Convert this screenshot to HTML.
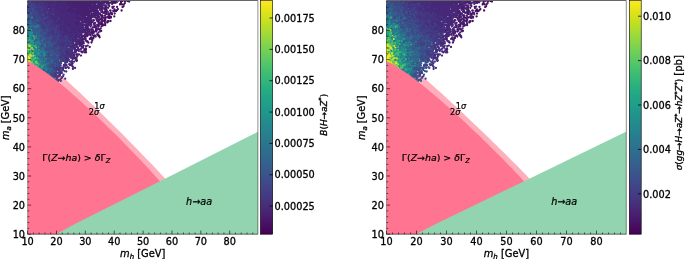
<!DOCTYPE html>
<html><head><meta charset="utf-8"><title>plot</title><style>html,body{margin:0;padding:0;background:#fff}svg{display:block}text{stroke:#000;stroke-width:.3px}.an{stroke-width:.22px}</style></head><body>
<svg width="685" height="259" viewBox="0 0 685 259" font-family="DejaVu Sans, Liberation Sans, sans-serif" font-size="9.72" fill="#000">
<rect width="685" height="259" fill="#fff"/>
<clipPath id="clipa"><rect x="27.60" y="0.50" width="230.30" height="233.70"/></clipPath>
<polygon clip-path="url(#clipa)" fill="#ffaebb" points="27.6,49.9 31.1,52.2 34.7,54.6 38.2,57.1 41.8,59.8 45.3,62.6 48.8,65.4 52.4,68.3 55.9,71.3 59.5,74.4 63.0,77.5 66.5,80.6 70.1,83.8 73.6,87.0 77.2,90.3 80.7,93.6 84.3,96.9 87.8,100.3 91.3,103.7 94.9,107.1 98.4,110.5 102.0,113.9 105.5,117.4 109.0,120.9 112.6,124.4 116.1,127.9 119.7,131.4 123.2,135.0 126.7,138.6 130.3,142.2 133.8,145.8 137.4,149.4 140.9,153.0 144.4,156.7 148.0,160.4 151.5,164.1 155.1,167.8 158.6,171.6 162.1,175.3 165.7,179.2 56.5,234.2 27.6,234.2"/>
<g clip-path="url(#clipa)" fill="none" stroke-width="2.3" stroke-linecap="round"><path d="M29.2 43.8h0M36.1 56.2h0M34.6 51.0h0M34.1 48.3h0M34.4 53.2h0" stroke="#21a585"/><path d="M29.0 53.5h0M33.3 47.9h0" stroke="#65cb5e"/><path d="M31.7 35.3h0M29.9 32.5h0M27.8 24.4h0M38.7 44.8h0M42.8 64.6h0M39.3 64.2h0M41.8 54.0h0M41.5 58.1h0M35.0 64.7h0" stroke="#26828e"/><path d="M43.2 54.9h0M29.3 41.9h0M30.3 37.5h0M34.3 48.4h0M27.7 35.3h0M29.8 20.3h0M29.9 49.5h0M33.1 52.5h0M28.0 29.3h0M33.3 56.5h0" stroke="#20938c"/><path d="M32.7 22.2h0M47.3 32.9h0M42.8 34.7h0M54.2 67.9h0M50.5 33.8h0M49.2 47.0h0M38.7 21.5h0M31.4 22.2h0M38.2 51.7h0M50.9 66.6h0M34.1 25.4h0M51.7 34.8h0M41.7 30.0h0M48.9 73.1h0M44.8 41.5h0M52.4 51.2h0M35.4 37.3h0M51.2 74.7h0M37.0 53.2h0M32.2 15.2h0M60.9 52.2h0M48.4 34.6h0M52.2 75.2h0M47.4 61.1h0M49.4 47.9h0M47.5 50.1h0M49.8 63.7h0M37.0 31.9h0M31.7 23.3h0M49.1 72.6h0M49.7 57.3h0M38.3 40.4h0M29.2 27.8h0M33.9 31.4h0M40.1 33.1h0M50.6 41.9h0" stroke="#365c8d"/><path d="M30.9 52.8h0M30.4 53.0h0M34.1 62.3h0M28.2 59.6h0" stroke="#93d741"/><path d="M94.9 27.2h0M101.3 18.8h0M112.1 2.1h0M101.3 21.3h0M104.4 8.5h0M101.7 21.9h0M86.0 49.5h0M99.1 17.4h0M113.6 2.9h0M108.2 7.8h0M106.2 9.1h0M112.1 0.0h0M86.0 46.1h0M76.6 59.8h0M103.9 12.9h0M113.9 2.0h0M108.4 5.2h0M109.5 14.1h0M106.3 7.3h0M112.7 8.0h0M91.2 32.7h0M84.9 52.4h0M113.5 1.6h0M91.2 39.0h0" stroke="#48186a"/><path d="M39.4 41.7h0M35.0 33.3h0M40.0 39.1h0M45.9 49.8h0M30.2 26.4h0M27.8 19.8h0M38.8 55.1h0M46.8 62.4h0M44.1 47.0h0M30.0 28.8h0M41.8 50.6h0M40.6 34.0h0M34.2 29.6h0M34.5 37.1h0M28.1 19.9h0" stroke="#33638d"/><path d="M89.9 16.3h0M86.1 2.0h0M75.1 16.9h0M71.4 3.8h0M92.7 6.5h0M71.8 62.2h0M72.8 5.8h0M95.3 9.6h0M83.3 24.8h0M102.5 2.1h0M98.3 0.3h0M77.2 7.2h0M76.7 18.1h0M81.6 25.9h0M77.8 1.9h0M78.8 19.1h0M82.2 7.4h0M80.9 30.3h0M99.5 13.4h0M84.1 1.2h0M89.0 16.1h0M74.7 13.3h0M86.5 7.7h0M84.0 2.0h0M88.1 12.7h0M98.2 6.7h0M75.1 3.5h0M75.5 50.0h0M67.6 4.7h0M62.1 77.2h0M81.7 6.5h0M98.7 6.7h0M74.2 16.5h0M101.2 5.0h0M74.7 3.6h0M86.3 14.2h0M107.9 2.0h0M80.9 3.1h0M77.6 6.4h0M85.4 5.1h0M86.5 28.7h0M84.1 9.9h0M88.7 5.9h0M90.5 11.7h0M87.0 12.1h0M77.0 49.8h0M98.9 1.1h0M90.0 5.6h0M80.5 49.3h0M101.1 6.9h0M78.0 54.6h0M108.8 2.4h0M85.2 3.9h0M91.9 20.9h0M75.4 2.0h0M92.3 15.6h0M83.0 13.5h0M75.6 8.7h0M87.2 26.6h0M74.9 15.3h0M82.5 14.4h0M82.1 5.0h0M87.5 1.8h0M69.8 2.0h0M85.6 12.7h0M84.3 15.1h0M90.8 1.1h0M65.8 10.2h0M82.2 38.0h0M86.1 22.0h0M86.9 13.5h0M100.6 6.6h0M73.4 0.8h0M83.2 10.6h0M84.2 22.5h0M71.7 0.3h0M73.3 1.0h0M83.2 36.0h0M87.7 29.3h0M77.6 23.0h0M82.1 29.8h0M86.9 3.3h0M88.1 5.5h0M89.8 21.5h0M89.9 15.9h0M82.1 4.2h0M83.4 14.3h0M97.7 13.5h0M95.1 6.5h0M94.6 2.8h0M80.9 32.4h0M92.7 1.0h0M90.1 8.6h0M90.0 4.2h0M69.4 0.3h0M76.1 3.3h0M92.6 2.9h0M90.1 11.0h0M85.9 13.8h0M78.5 2.2h0M85.2 2.8h0M76.4 8.5h0M97.1 5.6h0M93.6 5.4h0M99.7 9.1h0M77.6 12.4h0M75.2 4.8h0M77.3 5.7h0M79.7 2.2h0M87.9 15.3h0M93.9 10.7h0M80.3 15.6h0M71.5 1.7h0M71.4 1.9h0M77.0 2.8h0M83.8 20.0h0M87.3 18.4h0M86.8 2.7h0M74.9 11.9h0M67.4 0.7h0M87.9 1.0h0M84.3 3.3h0M97.9 1.8h0M79.6 1.9h0M82.5 32.3h0M91.3 14.6h0M85.5 33.5h0M78.9 12.2h0M91.8 8.2h0M75.4 1.0h0" stroke="#482071"/><path d="M40.0 53.3h0M38.6 63.8h0M32.3 40.2h0M32.8 62.4h0" stroke="#1f998a"/><path d="M33.2 45.9h0M33.4 43.8h0" stroke="#56c667"/><path d="M28.5 52.8h0M27.7 59.9h0" stroke="#e7e419"/><path d="M59.8 8.1h0M71.5 18.1h0M67.3 16.4h0M41.2 0.1h0M78.4 27.0h0M51.5 8.2h0M53.6 5.8h0M73.2 14.1h0M69.5 49.4h0M71.4 9.6h0M66.4 32.8h0M63.8 8.7h0M58.5 0.8h0M73.5 18.4h0M73.5 37.0h0M73.8 36.2h0M56.3 19.5h0M62.3 12.5h0M60.0 -0.0h0M74.4 32.5h0M48.6 17.3h0M63.4 15.5h0M76.8 31.5h0M77.6 19.8h0M71.7 6.2h0M82.6 30.8h0M72.2 30.3h0M63.7 7.4h0M69.1 20.7h0M73.6 30.6h0M80.8 12.0h0M73.7 10.1h0M75.9 11.5h0M59.2 10.5h0M60.9 19.4h0M59.6 12.7h0M73.8 45.2h0M70.3 6.6h0M72.3 20.8h0M79.4 18.3h0M72.0 29.7h0M68.4 16.1h0M78.2 37.2h0M73.4 21.1h0M46.7 4.5h0M75.4 24.1h0M68.1 21.3h0M64.7 22.3h0M53.0 12.2h0M47.1 1.0h0M70.6 30.8h0M69.3 32.6h0M75.7 25.4h0M71.3 57.5h0M74.2 46.2h0M53.1 3.5h0M79.1 25.1h0M69.4 56.7h0M66.2 22.8h0M62.9 27.8h0M63.3 7.6h0M50.3 0.9h0M66.6 20.9h0M49.0 4.8h0M56.5 1.9h0M64.1 11.8h0M55.0 17.4h0M58.1 17.1h0M71.5 37.2h0M77.3 21.5h0M67.6 30.7h0M75.2 20.3h0M71.5 20.9h0M54.5 9.6h0M70.5 16.8h0M46.4 5.0h0M58.0 17.8h0M77.2 28.6h0M71.4 11.2h0M61.1 33.8h0M58.7 16.5h0M66.5 10.8h0M47.2 8.1h0M76.0 20.7h0M53.0 5.5h0M63.8 14.7h0M85.3 21.9h0M67.2 14.4h0M61.4 22.1h0M76.1 23.4h0M76.4 24.6h0M63.7 12.0h0M74.6 49.0h0M55.3 7.7h0M65.8 20.0h0M89.5 18.4h0M75.2 22.3h0M70.9 16.4h0M70.2 25.8h0M67.6 6.2h0M62.4 23.3h0M75.8 52.1h0M66.1 23.7h0M55.4 3.9h0M73.3 11.2h0M72.1 22.1h0M53.9 13.6h0M73.2 25.8h0M77.4 30.0h0M70.8 28.2h0M69.1 28.1h0M66.2 59.5h0M69.1 3.1h0M65.8 65.7h0M76.6 8.9h0M69.6 5.3h0M68.5 4.3h0M79.1 14.7h0M71.1 36.9h0M81.7 14.3h0M53.6 16.2h0M67.5 33.1h0M62.8 21.5h0M69.0 28.7h0M72.7 42.9h0M70.6 31.7h0M58.3 13.4h0M74.3 20.1h0M74.1 31.0h0M65.5 21.0h0M46.8 0.7h0M79.5 29.2h0M64.0 16.2h0M59.6 14.9h0M69.2 26.8h0M57.7 6.3h0M45.6 4.4h0M80.3 25.7h0M67.2 18.1h0M65.5 10.8h0M63.4 6.5h0M69.9 11.5h0M77.0 21.5h0M72.5 12.8h0M70.5 16.6h0M63.6 33.2h0M68.8 5.8h0M75.8 44.8h0M64.6 2.2h0M78.9 14.3h0M51.2 6.3h0M54.2 3.4h0M70.2 9.5h0M77.4 25.4h0M62.8 23.1h0M66.2 8.7h0M82.8 13.8h0M71.5 16.4h0M60.5 27.5h0M45.2 7.9h0M72.6 18.0h0M74.4 19.7h0M63.4 3.8h0M65.7 38.8h0M77.7 31.9h0M49.2 0.6h0M70.4 13.5h0M74.3 14.2h0M62.1 7.2h0M69.5 19.8h0M66.6 33.9h0M74.1 40.2h0M80.5 30.6h0M65.3 19.8h0M77.0 28.3h0M75.2 28.9h0M67.2 14.2h0M55.3 7.6h0M89.5 22.7h0M63.5 11.8h0M75.1 28.3h0M72.9 19.5h0M81.7 26.1h0M72.0 17.5h0" stroke="#482878"/><path d="M35.1 59.8h0M30.8 37.9h0" stroke="#2cb17e"/><path d="M31.8 39.4h0M30.1 45.5h0M35.2 43.2h0M32.0 52.8h0M33.5 54.8h0M35.9 58.5h0" stroke="#1fa088"/><path d="M27.7 51.5h0M34.5 54.5h0M29.6 40.9h0" stroke="#4ac16d"/><path d="M30.8 57.0h0M30.7 59.0h0M36.8 64.5h0M29.1 53.4h0" stroke="#f6e620"/><path d="M33.0 52.9h0M38.2 62.6h0M42.1 65.7h0" stroke="#b5de2b"/><path d="M54.5 57.6h0M39.5 33.1h0M48.9 67.0h0M43.4 40.4h0M54.2 41.2h0M56.6 60.1h0M52.6 39.8h0M48.0 49.2h0M47.5 43.8h0M52.0 68.2h0M40.5 31.4h0M37.8 40.9h0M30.9 16.1h0M36.7 27.2h0M50.5 67.2h0M57.0 56.6h0M46.7 33.1h0M37.3 22.5h0M34.4 17.9h0M38.4 29.2h0M50.7 50.0h0M52.0 53.2h0M46.1 51.4h0M40.5 21.0h0M55.1 44.2h0M44.1 64.0h0M33.3 24.4h0M36.1 32.8h0M50.2 42.1h0M29.3 21.2h0M47.4 69.1h0M53.3 50.7h0M37.6 23.9h0M32.8 27.5h0M36.0 24.8h0M42.8 58.2h0M52.6 54.8h0" stroke="#39558c"/><path d="M38.1 58.7h0M34.3 58.0h0" stroke="#73d056"/><path d="M45.0 32.2h0M52.9 64.1h0M46.8 59.3h0M39.9 61.0h0M40.1 52.2h0M40.2 67.3h0M29.6 25.7h0M39.0 47.3h0M41.7 42.0h0M38.8 63.1h0M51.9 62.2h0M36.4 28.3h0M39.2 58.5h0M28.7 28.9h0" stroke="#2b758e"/><path d="M41.0 64.1h0M34.3 46.3h0M38.2 62.1h0M31.2 60.1h0M36.5 52.2h0" stroke="#25ab82"/><path d="M28.1 56.1h0M27.7 51.2h0" stroke="#a2da37"/><path d="M48.9 65.5h0M29.2 34.5h0M29.2 60.5h0M28.8 53.5h0M36.1 62.6h0" stroke="#3fbc73"/><path d="M45.6 65.0h0M38.4 46.4h0M51.0 63.8h0M41.4 39.5h0M44.5 69.1h0M28.6 28.8h0M48.0 51.1h0M43.1 64.7h0M41.0 67.3h0M43.8 54.9h0M35.6 39.9h0M42.0 44.9h0M31.4 23.6h0M29.5 33.5h0M46.1 71.3h0M45.2 56.6h0M39.2 41.7h0M51.2 68.9h0M36.8 28.3h0M37.9 46.4h0" stroke="#30698e"/><path d="M49.3 28.1h0M55.4 64.8h0M40.7 19.3h0M42.0 26.8h0M50.6 49.3h0M56.7 47.6h0M45.9 38.7h0M29.9 19.1h0M35.5 18.7h0M56.3 49.1h0M54.5 42.5h0M45.1 13.6h0M52.3 26.2h0M40.5 46.9h0M45.6 30.3h0M38.3 26.0h0M58.5 54.6h0M29.9 13.7h0M44.4 44.9h0M59.5 57.8h0M59.4 74.3h0M41.0 29.7h0M51.1 47.8h0M59.0 58.2h0M59.3 65.0h0M40.3 30.0h0M62.8 49.0h0M52.0 68.2h0M44.6 25.3h0M49.0 38.5h0M56.9 56.2h0M44.3 25.2h0M41.9 40.5h0M49.3 36.6h0M45.7 31.2h0M29.6 16.9h0M43.7 32.3h0M45.8 30.7h0M47.8 30.8h0M43.5 27.3h0M42.7 19.5h0M52.3 33.5h0M50.5 53.2h0M48.3 38.1h0M50.0 42.1h0M46.7 32.0h0M41.5 22.1h0M41.8 27.2h0M42.6 27.1h0M37.2 14.6h0M39.9 24.2h0M33.7 15.4h0M37.0 11.6h0M29.2 3.6h0" stroke="#3f4788"/><path d="M57.1 51.7h0M48.8 69.4h0M29.5 4.9h0M51.5 44.5h0M44.3 31.1h0M52.7 34.7h0M47.2 47.5h0M40.6 48.1h0M54.5 35.6h0M42.8 60.2h0M42.2 27.4h0M59.4 55.6h0M51.9 42.0h0M40.6 15.7h0M53.6 69.2h0M30.5 21.4h0M45.2 32.3h0M41.4 30.2h0M53.2 29.4h0M55.6 65.4h0M37.1 23.7h0M54.4 53.2h0M56.3 55.4h0M36.0 26.2h0M52.4 33.2h0M45.1 35.1h0M33.3 29.3h0M42.8 42.7h0M28.6 7.7h0M59.6 70.6h0M53.9 48.4h0M45.3 56.5h0M57.2 52.9h0M59.5 50.2h0M39.6 40.4h0M53.8 46.5h0M28.5 1.1h0M44.7 44.0h0M47.0 43.2h0M31.3 26.3h0M40.1 32.0h0M43.7 40.6h0M52.0 75.5h0M37.6 32.7h0M31.7 16.0h0M29.2 15.5h0M45.3 26.5h0M32.4 22.7h0M57.5 62.4h0M56.8 72.5h0M51.8 46.8h0M41.5 31.0h0M56.4 60.7h0M36.5 26.8h0" stroke="#3d4e8a"/><path d="M35.3 46.6h0M42.5 70.0h0M31.9 50.6h0M48.5 66.0h0M32.1 42.1h0M40.5 54.4h0M38.4 48.7h0M42.9 56.1h0M37.8 43.2h0M28.4 36.4h0M45.8 55.5h0M45.4 52.3h0M35.0 52.1h0M39.2 48.7h0" stroke="#24878e"/><path d="M47.4 12.7h0M40.0 14.0h0M49.3 25.4h0M46.0 11.7h0M68.5 51.5h0M58.5 39.3h0M38.1 13.6h0M39.1 6.9h0M72.0 45.3h0M49.9 31.2h0M61.8 34.8h0M54.2 30.5h0M33.9 6.5h0M40.6 6.1h0M72.4 47.8h0M57.9 54.7h0M53.8 36.0h0M60.8 25.8h0M36.8 11.3h0M33.9 2.3h0M28.1 6.0h0M56.8 62.4h0M40.6 13.2h0M60.1 23.3h0M42.8 12.6h0M65.9 44.5h0M60.6 58.3h0M61.1 38.3h0M57.3 30.5h0M62.2 42.8h0M38.5 10.8h0M66.6 41.8h0M42.8 7.9h0M58.2 42.4h0M58.4 30.1h0M45.3 10.7h0M58.4 66.9h0M60.7 46.7h0M61.4 48.1h0M46.0 12.1h0M53.7 26.1h0M49.1 21.6h0M60.2 20.6h0M66.6 45.4h0M44.4 21.2h0M36.5 6.9h0M58.7 76.1h0M44.7 27.6h0M73.1 58.5h0M55.6 17.5h0M53.8 29.9h0M59.0 34.4h0M41.3 1.3h0M30.1 4.0h0M43.1 24.6h0M29.1 2.5h0M41.4 17.0h0M66.0 50.2h0M39.6 5.0h0M47.0 27.4h0M60.7 43.2h0M39.4 19.9h0M65.5 23.4h0M59.2 29.6h0M46.3 28.6h0M56.7 68.1h0M47.8 24.4h0M35.4 13.4h0M33.3 3.2h0M48.6 28.5h0M62.7 47.6h0M27.9 11.0h0M39.2 19.6h0M65.1 38.9h0M50.2 17.8h0M48.6 15.5h0M36.9 17.5h0" stroke="#453882"/><path d="M104.3 20.6h0M122.5 7.1h0M110.0 16.3h0M98.7 35.9h0M110.9 16.8h0M93.2 38.0h0" stroke="#470e61"/><path d="M33.0 33.4h0M34.4 46.4h0M31.2 58.7h0" stroke="#34b679"/><path d="M35.2 46.9h0M48.9 74.6h0M46.0 54.5h0M32.8 25.8h0M43.2 38.6h0M36.4 45.6h0M36.9 40.8h0M36.9 43.9h0M39.9 41.1h0M36.5 53.2h0M30.9 49.1h0M36.0 53.1h0M45.0 65.0h0M35.0 54.5h0" stroke="#297b8e"/><path d="M42.3 58.6h0M53.3 54.7h0M47.9 49.0h0M28.1 18.3h0M34.1 42.4h0M40.2 24.3h0M39.3 38.9h0M37.8 41.4h0M40.4 43.8h0M46.0 47.1h0M46.2 37.4h0M39.3 46.1h0M28.8 26.7h0M46.1 66.8h0M51.8 46.4h0" stroke="#2e6f8e"/><path d="M49.6 26.2h0M46.4 26.8h0M64.4 59.9h0M34.7 5.5h0M65.2 43.1h0M56.9 35.9h0M32.8 14.0h0M39.1 18.0h0M45.1 23.9h0M49.5 28.1h0M64.8 46.1h0M58.1 60.8h0M51.1 46.1h0M49.7 34.3h0M46.8 21.9h0M40.8 24.4h0M60.1 41.8h0M49.7 59.4h0M39.7 27.0h0M52.9 36.8h0M50.6 34.2h0M40.1 13.1h0M51.1 74.7h0M59.7 67.4h0M52.0 41.6h0M59.6 76.1h0M43.6 23.7h0M45.7 16.6h0M42.9 25.3h0M50.0 23.7h0M38.0 22.4h0M59.3 36.9h0M39.6 18.1h0M37.9 21.0h0M50.4 55.1h0M65.6 42.7h0M43.0 28.2h0M65.1 50.2h0M32.1 6.9h0M47.4 26.6h0M50.8 29.9h0M28.5 5.9h0M62.7 69.0h0M54.0 45.7h0M44.2 13.3h0M45.4 16.7h0M32.4 0.4h0M31.5 6.4h0M42.5 22.2h0M46.5 24.5h0M28.0 1.8h0M44.2 19.3h0M44.3 25.0h0M47.0 24.5h0M34.1 22.5h0M58.5 70.2h0M52.0 34.4h0M43.1 16.5h0M39.4 7.8h0M29.3 17.4h0M32.1 11.6h0M37.1 9.3h0M49.2 47.5h0M48.4 23.6h0" stroke="#424086"/><path d="M69.5 36.0h0M49.5 17.2h0M68.6 53.7h0M44.4 23.4h0M71.6 48.4h0M58.8 31.0h0M61.3 21.7h0M55.3 11.8h0M68.5 24.6h0M49.0 0.1h0M53.6 2.2h0M41.1 0.4h0M44.7 5.2h0M73.2 38.3h0M38.4 5.8h0M63.4 23.4h0M43.1 1.2h0M60.4 19.8h0M54.3 26.3h0M72.0 39.0h0M58.8 18.3h0M40.7 12.7h0M68.0 15.3h0M67.3 51.4h0M60.9 20.3h0M36.9 1.1h0M58.4 24.9h0M59.8 70.3h0M42.0 2.2h0M72.4 48.7h0M50.9 8.4h0M64.5 22.8h0M50.1 22.4h0M33.3 0.3h0M63.7 37.8h0M56.1 20.8h0M35.7 2.1h0M41.9 4.4h0M46.5 10.2h0M76.0 38.2h0M65.3 31.4h0M53.1 18.1h0M71.0 33.5h0M69.7 36.5h0M66.0 32.2h0M61.4 60.8h0M63.9 42.0h0M59.6 35.6h0M66.3 39.7h0M40.9 5.1h0M43.3 8.6h0M66.2 42.8h0M51.5 17.2h0M70.0 33.5h0M67.7 36.4h0M61.7 23.1h0M57.6 72.8h0M66.0 53.6h0M42.0 4.8h0M45.9 10.1h0M56.9 25.5h0M65.0 21.8h0M59.7 24.9h0M45.9 16.1h0M54.2 15.8h0M61.6 45.7h0M70.9 41.9h0M65.5 46.3h0M70.3 35.7h0M67.9 41.1h0M61.5 18.0h0M55.7 17.7h0M54.0 41.2h0M66.3 71.5h0M54.6 19.6h0M64.7 35.4h0M62.1 23.0h0M59.8 39.4h0M70.1 39.9h0M62.3 39.7h0M41.6 4.8h0M43.7 10.3h0M55.4 20.8h0M60.7 72.2h0M49.7 6.8h0M59.7 18.8h0M55.5 23.0h0M40.7 4.2h0M47.5 17.5h0M63.2 46.7h0M52.6 14.0h0M73.2 23.7h0M47.1 4.9h0M66.0 34.1h0M61.1 22.8h0M74.1 27.9h0M70.3 30.5h0M52.5 32.0h0M36.7 2.4h0M49.8 9.0h0M51.6 13.5h0M50.5 17.9h0M50.6 10.9h0M65.0 27.2h0M61.0 32.1h0M54.6 16.0h0M56.5 18.7h0M46.9 2.4h0" stroke="#46307e"/><path d="M33.0 32.7h0M28.3 30.8h0M38.7 53.2h0M32.2 52.6h0M39.6 60.5h0M39.3 57.8h0M39.2 61.4h0M36.0 64.6h0M39.0 61.6h0" stroke="#228d8d"/><path d="M28.3 49.9h0M29.7 45.3h0" stroke="#c5e021"/><path d="M39.5 59.8h0M30.4 35.6h0" stroke="#34b679"/><path d="M30.3 58.3h0" stroke="#d8e219"/><path d="M36.6 46.0h0M29.5 38.1h0M31.1 33.9h0" stroke="#1fa088"/><path d="M57.6 24.5h0M38.0 6.7h0M41.9 11.7h0M61.3 33.3h0M53.4 10.8h0M58.6 76.2h0M40.5 6.4h0M61.7 29.2h0M36.9 0.4h0M39.9 5.7h0M67.6 37.7h0M73.4 28.8h0M54.2 10.9h0M68.4 38.3h0M51.3 27.9h0M59.5 32.6h0M39.1 6.3h0M69.5 45.0h0M71.7 47.1h0M60.0 29.8h0M64.0 34.8h0M55.6 9.7h0M47.2 12.0h0M72.1 39.2h0M60.4 39.7h0M59.4 26.0h0M33.3 5.1h0M53.6 21.8h0M68.8 68.0h0M70.2 46.0h0M59.6 4.9h0M38.5 3.2h0M41.3 4.1h0M52.7 27.8h0M66.7 27.2h0M66.6 29.8h0M63.1 36.3h0M43.1 1.4h0M77.0 40.5h0M71.5 33.5h0M69.9 46.3h0M59.0 24.1h0M46.0 18.1h0M55.4 18.8h0M61.3 26.6h0M41.4 5.7h0M47.9 4.9h0M65.8 44.1h0M40.6 2.4h0M50.4 4.6h0M40.8 9.0h0M69.2 44.8h0M42.9 8.5h0M38.8 5.8h0M68.7 37.7h0M53.7 19.4h0M63.3 36.6h0M61.7 26.8h0M57.5 16.6h0M69.6 29.8h0M44.7 11.2h0M60.2 68.5h0M55.3 20.3h0M61.8 32.7h0M68.2 42.8h0M38.2 11.8h0M52.8 21.2h0M47.1 4.1h0M52.7 6.7h0M52.7 13.7h0M55.0 29.8h0M71.6 41.1h0M63.6 74.6h0M67.3 53.3h0M63.8 28.6h0M51.7 6.5h0M59.7 26.6h0M66.4 34.3h0M67.3 33.7h0M63.6 46.1h0M66.4 42.8h0M32.0 2.5h0M55.6 10.9h0M65.9 36.8h0M70.5 35.7h0M49.6 12.1h0M43.2 6.6h0M56.5 16.3h0M60.0 75.1h0M57.3 32.8h0M48.3 11.0h0M76.0 34.5h0M65.1 28.2h0M50.4 38.1h0M64.2 26.4h0M57.7 18.0h0M67.2 36.0h0M56.4 21.3h0M40.9 6.4h0M57.1 69.7h0M63.8 39.2h0M65.4 51.8h0" stroke="#46307e"/><path d="M56.2 57.4h0M47.9 54.0h0M52.7 62.8h0M50.2 49.7h0M56.3 53.8h0M57.5 49.2h0M55.1 49.5h0M58.7 65.1h0M50.0 58.3h0M34.2 18.5h0M53.6 48.1h0M48.6 52.7h0M53.4 71.3h0M58.4 69.3h0M41.7 24.4h0M56.1 55.4h0M30.9 10.8h0M43.2 32.5h0M43.7 33.8h0M54.5 47.6h0M41.8 32.8h0M51.3 45.8h0M31.4 18.8h0M48.2 26.0h0M57.6 42.2h0M34.4 11.6h0M40.9 26.1h0M40.9 26.1h0M58.0 51.1h0M60.6 56.1h0M31.3 18.1h0M53.2 67.8h0M59.6 62.0h0M57.4 45.2h0M34.1 17.0h0M41.5 31.4h0M53.6 56.0h0M43.6 45.9h0M62.6 51.8h0M52.9 39.5h0M48.6 50.8h0M43.6 36.4h0M39.2 22.7h0M59.5 44.9h0M37.9 22.2h0M49.6 60.2h0M52.8 34.6h0M62.3 58.7h0M58.0 80.9h0M45.2 40.7h0M51.8 36.3h0M60.6 57.1h0M55.9 34.8h0M52.8 43.9h0M44.0 36.0h0M42.0 22.7h0M47.2 56.7h0" stroke="#3f4788"/><path d="M34.5 45.6h0M28.3 38.6h0M37.6 53.2h0M35.9 43.6h0M43.8 66.0h0M42.0 50.6h0M32.1 35.8h0M40.3 68.2h0M42.1 69.0h0M34.3 62.8h0M38.5 32.9h0M39.5 48.9h0M29.8 39.7h0M49.8 64.5h0M45.6 64.8h0" stroke="#24878e"/><path d="M31.9 50.7h0" stroke="#73d056"/><path d="M48.2 68.2h0M56.7 62.1h0M46.6 59.8h0M43.6 40.9h0M34.8 39.2h0M34.9 38.8h0M42.9 30.4h0M43.2 49.9h0M29.4 28.8h0M42.9 67.4h0M40.8 36.7h0M43.1 54.3h0M40.0 29.0h0M42.1 35.2h0M28.8 18.4h0M41.9 32.6h0M36.8 24.6h0M41.8 48.6h0M35.9 46.1h0M35.6 44.1h0M43.7 54.2h0M44.0 55.3h0M29.5 38.0h0" stroke="#30698e"/><path d="M39.9 63.2h0M48.6 74.1h0M31.1 28.6h0M32.6 43.7h0M30.0 37.6h0M34.7 34.9h0M32.3 29.7h0M50.1 66.1h0M33.6 29.7h0M41.7 53.8h0M37.3 46.7h0M47.6 71.9h0M41.7 62.5h0M35.5 46.6h0" stroke="#297b8e"/><path d="M94.7 27.0h0M91.8 31.7h0M97.4 21.2h0M116.3 1.7h0M105.7 7.9h0M106.0 12.2h0M93.6 32.9h0M101.4 22.5h0M96.1 28.9h0M112.5 6.8h0M98.3 24.9h0M116.7 0.2h0M102.0 15.7h0M92.2 40.7h0M90.7 37.9h0M109.1 15.1h0M102.2 23.4h0M116.3 0.4h0M92.3 39.7h0M94.2 25.1h0" stroke="#48186a"/><path d="M32.4 56.0h0M35.3 63.4h0M34.8 62.8h0" stroke="#25ab82"/><path d="M34.6 40.3h0M31.7 26.9h0M51.3 60.4h0M44.8 57.3h0M44.8 56.5h0M48.0 67.4h0M42.0 36.5h0M34.8 36.2h0M33.6 37.1h0M36.0 34.0h0M41.5 61.5h0M45.6 56.4h0M31.2 35.2h0M37.8 39.0h0M28.4 24.0h0M33.3 35.6h0M32.5 27.2h0" stroke="#2e6f8e"/><path d="M36.6 58.3h0" stroke="#3fbc73"/><path d="M38.3 44.4h0M34.4 51.0h0M33.9 43.0h0M45.5 54.5h0M44.8 62.9h0M31.1 43.4h0M31.6 36.9h0M34.7 56.7h0M41.5 49.4h0M43.0 70.3h0M34.4 43.9h0M47.0 71.5h0M35.6 38.2h0" stroke="#20938c"/><path d="M42.2 52.8h0M39.0 59.9h0M30.2 42.2h0M28.6 51.3h0M29.6 46.2h0M38.3 64.2h0M40.2 61.7h0" stroke="#21a585"/><path d="M33.2 62.2h0M31.7 57.6h0M34.7 55.9h0M27.7 53.3h0M32.1 61.9h0M30.6 61.8h0M29.2 54.1h0M33.9 62.6h0" stroke="#f6e620"/><path d="M71.3 12.5h0M63.8 28.8h0M54.6 18.7h0M72.0 50.2h0M57.2 9.0h0M65.2 18.0h0M55.3 9.9h0M72.6 10.0h0M67.9 24.5h0M72.3 34.9h0M65.0 11.0h0M71.8 6.4h0M74.8 22.1h0M72.5 18.0h0M59.5 14.9h0M52.5 0.7h0M65.7 14.5h0M74.4 20.4h0M68.6 39.7h0M59.8 6.1h0M81.6 27.1h0M56.6 8.3h0M75.9 15.1h0M69.2 25.9h0M71.2 27.3h0M49.1 4.9h0M39.3 5.2h0M55.6 4.4h0M80.5 26.9h0M74.8 27.7h0M67.2 29.2h0M60.7 9.9h0M59.5 26.0h0M74.4 40.1h0M65.2 17.7h0M54.1 6.7h0M61.9 14.7h0M57.2 6.2h0M65.8 3.3h0M74.9 32.0h0M68.3 12.9h0M63.4 9.4h0M59.2 10.7h0M63.5 5.0h0M51.6 3.9h0M56.4 0.4h0M48.8 0.4h0M79.5 31.1h0M67.4 0.8h0M76.9 18.1h0M79.0 40.5h0M57.4 24.9h0M61.0 23.6h0M74.0 15.6h0M81.2 18.6h0M79.7 24.3h0M75.0 30.5h0M68.5 45.8h0M58.7 19.9h0M62.0 4.3h0M71.1 31.6h0M55.6 2.0h0M57.2 17.9h0M71.0 27.0h0M69.2 16.3h0M48.5 1.8h0M71.6 30.4h0M80.0 44.9h0M71.9 61.4h0M54.8 13.7h0M53.1 1.2h0M60.8 37.6h0M67.0 21.7h0M72.8 36.3h0M59.6 4.3h0M82.7 27.0h0M62.6 19.8h0M55.4 10.4h0M69.4 13.8h0M74.6 27.8h0M59.5 13.6h0M75.9 45.3h0M74.1 17.6h0M60.9 16.9h0M60.3 13.4h0M64.5 4.8h0M69.3 15.7h0M68.9 5.8h0M66.8 22.4h0M60.7 7.2h0M67.0 32.4h0M85.2 21.7h0M68.7 9.2h0M57.9 6.0h0M80.1 27.9h0M51.2 4.3h0M52.1 0.9h0M74.4 16.2h0M52.2 4.8h0M69.6 19.4h0M79.6 33.0h0M65.9 22.6h0M61.9 2.5h0M77.3 46.8h0M59.7 6.6h0M61.7 9.5h0M79.1 22.1h0M78.2 36.4h0M63.9 18.3h0M58.7 9.4h0M62.5 9.3h0M73.9 39.0h0M73.8 16.0h0M66.9 27.1h0M80.5 14.5h0M51.4 5.6h0M51.3 16.7h0M68.5 18.2h0M68.5 59.3h0M81.0 28.9h0M76.0 32.1h0M59.5 4.6h0M50.4 13.2h0M69.7 28.3h0M70.3 0.4h0M74.3 40.7h0M72.0 61.1h0M77.2 18.0h0M70.5 25.0h0M81.7 26.6h0M54.6 26.4h0M68.2 22.4h0M66.4 27.7h0M61.6 12.3h0M62.9 12.0h0M67.4 33.8h0M69.8 7.9h0M65.0 8.8h0M65.1 30.9h0M66.5 6.6h0M68.0 6.9h0M73.7 22.8h0M68.7 24.6h0M66.0 62.2h0M82.2 28.2h0M64.4 21.3h0M56.9 1.4h0M84.5 19.3h0M63.4 23.1h0M77.1 29.7h0M70.3 18.4h0M79.3 23.6h0M55.6 6.6h0M54.5 24.6h0M59.4 9.2h0M49.0 3.3h0M63.1 8.7h0M74.7 16.7h0M62.1 1.3h0M58.4 6.4h0M65.6 36.9h0M74.4 27.0h0M56.7 6.3h0M61.0 3.3h0M55.9 20.5h0M66.4 21.9h0M70.0 19.7h0M50.4 4.5h0M60.6 2.5h0M70.1 8.8h0M65.6 26.7h0M54.2 16.1h0M72.1 22.4h0M61.8 37.2h0M73.6 19.8h0M60.3 79.7h0M56.2 1.3h0M72.5 17.0h0M64.7 20.5h0M63.5 5.9h0M67.3 28.8h0M75.8 44.6h0M42.2 0.4h0M57.7 16.0h0M76.6 31.0h0M59.6 26.8h0M51.3 8.6h0M64.4 11.3h0M71.6 20.9h0" stroke="#482878"/><path d="M34.4 52.9h0M46.3 68.5h0M38.9 38.3h0M45.3 54.2h0M41.0 51.8h0M34.7 40.5h0M31.2 29.8h0M38.2 44.5h0M30.6 37.2h0M38.3 40.4h0" stroke="#2b758e"/><path d="M32.3 15.4h0M60.8 41.5h0M33.3 21.0h0M54.0 71.2h0M39.0 23.8h0M50.2 27.4h0M35.8 8.3h0M49.6 60.4h0M40.1 14.4h0M57.3 56.9h0M49.9 74.9h0M52.0 42.5h0M43.9 24.5h0M59.5 47.2h0M62.3 46.8h0M57.5 41.4h0M37.6 18.9h0M55.4 26.7h0M41.6 20.5h0M46.5 24.6h0M31.6 17.1h0M52.5 41.9h0M56.1 68.4h0M43.8 30.0h0M55.4 34.7h0M47.7 30.6h0M42.5 14.8h0M47.0 36.6h0M54.0 74.7h0M48.0 37.2h0M58.0 52.5h0M67.2 52.3h0M36.7 17.9h0M51.0 46.1h0M46.5 30.0h0M52.0 38.4h0M34.3 3.1h0M52.5 41.1h0M58.6 57.9h0M51.1 53.2h0M33.7 11.7h0M53.5 38.1h0M55.8 55.3h0M53.9 74.1h0M59.4 57.0h0M55.5 35.1h0M35.5 8.1h0M43.6 17.0h0M55.3 43.4h0M34.6 11.6h0M50.5 35.6h0M36.8 7.4h0M56.9 45.4h0M32.3 8.1h0M59.2 53.3h0M38.4 22.0h0M38.2 20.7h0M28.6 10.1h0M57.6 62.7h0M35.4 1.0h0M53.4 39.2h0M54.2 71.2h0M33.8 4.9h0M61.4 37.2h0M34.8 23.4h0M46.8 21.2h0M57.6 57.6h0" stroke="#424086"/><path d="M81.4 1.4h0M74.5 24.2h0M84.3 14.0h0M74.3 3.0h0M81.2 15.8h0M75.0 6.0h0M71.7 13.6h0M85.0 19.2h0M76.3 57.3h0M75.7 6.5h0M91.2 7.6h0M102.2 6.1h0M88.5 19.3h0M74.4 3.4h0M77.6 41.8h0M102.7 0.7h0M91.4 25.0h0M85.8 10.7h0M91.1 0.6h0M74.5 21.6h0M86.1 26.5h0M87.3 23.4h0M86.5 15.2h0M77.3 56.1h0M79.7 7.8h0M91.5 5.5h0M94.2 15.9h0M70.1 5.9h0M97.2 1.8h0M56.9 0.7h0M92.9 6.8h0M89.5 24.8h0M74.2 10.2h0M73.8 31.8h0M85.1 16.6h0M97.2 2.3h0M80.4 4.7h0M82.5 12.4h0M87.8 3.1h0M82.6 13.3h0M86.3 2.2h0M91.6 5.2h0M75.7 1.1h0M79.0 15.9h0M77.8 3.8h0M80.4 2.2h0M87.9 31.4h0M104.6 1.9h0M94.0 20.3h0M88.4 21.1h0M85.0 16.6h0M84.3 8.2h0M93.5 1.2h0M87.7 19.7h0M76.2 33.2h0M78.3 3.2h0M103.0 2.0h0M96.3 1.4h0M82.7 1.9h0M85.0 4.2h0M78.8 0.6h0M95.0 9.0h0M85.2 5.8h0M82.2 44.1h0M66.0 1.1h0M75.8 0.4h0M93.6 9.6h0M77.9 10.4h0M78.4 6.3h0M88.4 2.4h0M92.0 2.5h0M89.5 1.6h0M85.4 31.2h0M77.8 44.1h0M76.6 60.8h0M71.3 3.3h0M83.2 16.4h0M78.9 51.0h0M81.6 10.3h0M67.6 4.9h0M91.8 6.1h0M81.3 6.1h0M64.5 3.6h0M81.2 34.7h0M81.5 20.3h0M87.6 1.3h0M84.3 11.5h0M88.4 28.4h0M89.9 22.1h0M80.0 11.8h0M98.0 16.9h0M97.2 11.0h0M87.5 12.8h0M93.9 23.5h0M82.3 11.8h0M91.6 8.5h0M74.0 17.3h0M83.0 18.3h0M89.9 10.4h0M88.5 22.1h0M95.6 14.0h0M75.7 8.6h0M83.8 10.6h0M77.3 8.1h0M87.2 4.1h0M79.2 49.8h0M69.9 8.1h0M96.2 15.4h0M77.9 42.0h0M90.7 22.9h0M92.1 7.7h0M73.9 3.7h0M86.2 24.5h0M94.0 14.5h0M80.5 13.9h0M66.3 0.7h0M79.9 8.8h0M84.1 20.4h0M87.7 1.2h0M87.1 22.1h0M85.1 3.1h0M76.0 8.7h0M83.4 29.0h0M78.4 39.9h0M93.8 8.2h0M89.1 13.4h0M85.5 4.3h0M85.3 37.0h0M93.5 19.8h0M76.4 54.5h0M94.1 4.6h0M83.2 12.4h0M87.3 26.2h0M96.6 9.6h0M84.0 3.8h0M81.4 7.3h0M88.5 19.4h0M58.8 1.8h0M83.8 0.7h0M78.0 16.6h0M86.5 6.5h0M81.7 37.1h0M75.6 14.8h0M60.2 5.3h0M83.1 10.7h0" stroke="#482071"/><path d="M46.3 70.4h0M29.3 28.9h0M35.7 46.6h0M38.2 47.0h0M36.7 41.1h0M29.5 34.1h0M51.5 55.4h0M29.8 38.9h0M39.9 58.6h0" stroke="#26828e"/><path d="M28.7 59.4h0" stroke="#a2da37"/><path d="M40.9 49.1h0M38.5 37.7h0M57.2 49.3h0M50.6 62.5h0M50.8 49.7h0M36.8 34.5h0M49.8 65.6h0M36.8 29.9h0M48.7 64.2h0M45.0 54.3h0M53.5 43.5h0M46.0 47.8h0M51.6 52.9h0M53.8 30.8h0M38.4 31.9h0M49.3 52.1h0M54.8 48.4h0M47.8 59.3h0M33.6 18.0h0M46.5 44.2h0M40.2 39.6h0M36.6 18.0h0M30.7 21.0h0M45.0 18.9h0M51.6 51.1h0M52.6 47.8h0M48.1 39.0h0M59.8 44.1h0M50.3 50.2h0M40.1 47.8h0M49.4 43.7h0M33.2 32.8h0M51.7 63.1h0" stroke="#365c8d"/><path d="M34.6 63.1h0" stroke="#4ac16d"/><path d="M47.0 47.0h0M40.5 48.5h0M41.0 27.0h0M33.6 29.9h0M46.8 39.8h0M49.7 61.0h0M55.2 43.4h0M44.8 36.5h0M43.8 45.8h0M30.4 21.2h0M42.7 37.8h0M35.7 20.7h0M37.1 17.8h0M37.6 34.5h0M32.5 29.1h0M49.1 41.7h0M44.2 50.4h0M49.7 73.8h0M43.9 37.7h0M39.0 25.1h0M38.9 46.0h0M35.6 24.3h0M46.8 24.4h0M52.1 69.8h0M54.9 51.4h0M44.8 66.3h0M46.3 42.5h0M50.2 49.2h0" stroke="#39558c"/><path d="M28.3 46.4h0" stroke="#b5de2b"/><path d="M36.3 53.3h0M31.4 32.3h0M44.4 62.7h0M31.0 37.0h0M30.1 35.6h0M42.3 68.6h0M34.1 54.8h0M33.5 37.0h0" stroke="#228d8d"/><path d="M29.9 47.2h0" stroke="#e7e419"/><path d="M125.1 1.7h0M110.9 17.7h0M111.9 13.1h0M120.5 3.8h0M124.1 0.3h0M100.4 31.3h0M102.4 24.2h0M115.0 10.9h0M121.0 3.0h0M108.5 21.3h0" stroke="#470e61"/><path d="M32.6 59.8h0M32.1 35.8h0M35.9 64.0h0M41.8 68.0h0M34.3 52.2h0M42.9 56.1h0M30.4 57.1h0M32.1 34.9h0M37.3 64.5h0M49.2 69.1h0" stroke="#1f998a"/><path d="M54.0 37.3h0M36.1 23.7h0M30.6 15.9h0M55.1 31.3h0M47.1 41.0h0M48.8 25.0h0M43.4 29.3h0M32.4 32.6h0M29.7 17.4h0M48.2 61.8h0M28.6 14.9h0M49.4 58.2h0M58.5 39.6h0M48.6 51.5h0M27.9 14.8h0M37.7 25.4h0M37.7 29.8h0M29.6 10.1h0M58.1 64.8h0M30.2 14.8h0M38.0 36.2h0M43.4 17.3h0" stroke="#3d4e8a"/><path d="M49.1 56.5h0M50.2 37.1h0M42.8 55.1h0M27.7 20.2h0M49.3 57.5h0M47.5 45.4h0M32.8 42.2h0M44.2 42.5h0M47.5 46.2h0M28.5 27.4h0M33.1 32.6h0M34.5 22.0h0M45.9 70.7h0M45.2 66.7h0M47.5 60.4h0M36.0 25.6h0M35.3 20.0h0M49.3 69.1h0M49.7 60.6h0M41.9 55.0h0M33.8 24.0h0M45.2 56.8h0" stroke="#33638d"/><path d="M37.8 64.5h0M29.9 47.2h0" stroke="#2cb17e"/><path d="M33.3 53.0h0M28.2 41.2h0M33.9 53.9h0M34.9 48.7h0" stroke="#65cb5e"/><path d="M36.5 48.4h0" stroke="#93d741"/><path d="M49.7 20.6h0M51.2 25.4h0M39.2 14.2h0M36.3 1.1h0M57.8 44.6h0M42.7 20.9h0M43.4 19.5h0M62.6 50.5h0M61.4 78.2h0M51.3 35.5h0M65.8 38.4h0M49.0 9.9h0M33.8 17.9h0M31.2 5.4h0M36.1 10.9h0M55.8 27.0h0M60.3 44.5h0M41.1 16.9h0M59.5 34.3h0M29.1 8.1h0M46.4 11.1h0M53.1 24.5h0M38.6 3.4h0M61.0 41.5h0M35.2 6.7h0M56.9 43.5h0M57.9 41.5h0M68.3 41.4h0M59.5 35.7h0M39.0 12.7h0M54.4 29.5h0M56.3 58.8h0M40.9 13.2h0M44.1 23.5h0M58.5 28.4h0M64.8 57.3h0M28.5 4.5h0M60.9 36.1h0M59.0 46.3h0M45.5 11.0h0M48.6 16.8h0M50.7 28.6h0M56.6 21.0h0M55.8 14.7h0M60.3 41.1h0M39.1 13.1h0M40.9 9.9h0M49.4 25.3h0M71.6 39.6h0M50.6 30.1h0M50.3 32.2h0M50.1 20.9h0M59.0 69.6h0M48.0 23.0h0M44.7 13.9h0M43.7 10.6h0M39.8 9.1h0M53.8 34.6h0M39.8 19.1h0M60.3 34.2h0M71.8 50.9h0M40.4 6.5h0M61.2 25.6h0M59.9 39.2h0M63.6 47.3h0M62.5 44.2h0M61.9 29.9h0M44.5 19.1h0M73.2 42.6h0M59.2 29.5h0M52.1 24.7h0M56.2 45.4h0M65.0 47.1h0M57.4 30.6h0M48.0 26.2h0M61.9 58.1h0M62.1 24.3h0M50.2 19.0h0M52.6 39.9h0M35.5 21.0h0M30.9 4.4h0M33.6 4.7h0M47.0 20.0h0M57.1 27.7h0M65.2 38.3h0M35.9 15.6h0M52.5 32.7h0M57.9 25.2h0M57.3 29.2h0M65.7 47.4h0M38.2 9.6h0M63.7 38.7h0M39.7 27.1h0M42.6 15.6h0M68.6 44.1h0" stroke="#453882"/><path d="M29.0 19.5h0M40.6 22.8h0M39.1 33.4h0M43.4 29.5h0M45.6 65.8h0M45.4 26.6h0M42.7 35.6h0M48.4 53.2h0M54.5 64.7h0M48.1 38.5h0M38.4 33.8h0M29.1 18.4h0M36.7 24.1h0M34.3 33.4h0M33.8 12.4h0M45.8 36.1h0M41.9 45.5h0M54.6 43.7h0M45.3 39.9h0M39.3 11.9h0M49.1 61.9h0M42.1 38.8h0M29.1 25.3h0M28.5 2.8h0M51.0 71.7h0M56.8 63.3h0M40.5 31.1h0M55.8 63.2h0M40.2 46.9h0M57.2 47.6h0M44.5 47.4h0M59.1 45.8h0M49.1 69.8h0M52.2 47.7h0M40.7 29.3h0M51.7 40.8h0M44.5 16.1h0M47.2 67.8h0M57.7 55.1h0" stroke="#39558c"/><path d="M35.2 26.9h0M42.5 54.2h0M45.7 72.1h0M35.8 42.3h0M28.3 21.3h0M33.7 34.3h0M38.1 44.4h0M36.1 43.1h0M30.4 42.4h0M54.4 53.9h0M39.0 53.3h0" stroke="#26828e"/><path d="M40.0 61.0h0M28.9 47.6h0" stroke="#93d741"/><path d="M29.2 3.4h0M52.6 22.5h0M48.6 16.7h0M62.5 22.2h0M48.9 38.1h0M35.5 6.7h0M37.6 4.0h0M66.0 52.2h0M28.6 6.9h0M61.6 37.5h0M53.3 28.0h0M43.5 11.0h0M28.0 1.7h0M55.9 24.9h0M55.2 76.1h0M60.2 29.7h0M64.7 53.6h0M47.0 21.2h0M67.8 42.2h0M55.7 18.9h0M59.9 53.3h0M65.2 33.7h0M40.6 10.8h0M62.4 46.5h0M40.7 15.9h0M43.8 7.4h0M40.3 14.1h0M58.5 37.2h0M46.5 23.6h0M65.2 62.3h0M39.9 5.7h0M33.2 3.9h0M61.2 44.9h0M37.4 17.5h0M50.1 34.3h0M59.3 33.6h0M65.3 35.1h0M59.8 31.0h0M32.2 6.5h0M67.0 61.6h0M60.7 41.3h0M30.7 10.9h0M48.1 21.6h0M54.7 34.0h0M52.3 25.9h0M60.6 57.9h0M35.9 5.4h0M38.7 4.1h0M51.6 32.0h0M55.8 45.3h0M62.5 37.8h0M59.7 47.6h0M36.2 7.4h0M41.9 10.9h0M63.1 38.7h0M38.9 6.1h0M56.1 25.9h0M68.4 44.9h0M61.6 60.3h0M65.2 51.6h0M68.2 53.1h0M51.8 40.8h0M56.3 27.7h0M40.4 7.6h0M36.6 7.9h0M56.4 57.8h0M50.0 38.2h0M47.9 28.0h0M61.4 49.5h0M47.9 15.6h0" stroke="#453882"/><path d="M39.8 67.2h0M34.0 53.4h0" stroke="#25ab82"/><path d="M33.2 53.4h0M28.0 54.0h0M28.7 41.3h0M29.0 49.5h0" stroke="#65cb5e"/><path d="M36.9 62.3h0M39.9 67.4h0M29.8 58.3h0" stroke="#21a585"/><path d="M45.0 60.5h0M37.8 57.5h0M42.9 43.0h0M31.4 29.5h0M46.1 71.1h0M41.6 62.3h0M35.4 38.0h0" stroke="#228d8d"/><path d="M28.3 60.2h0M27.7 58.1h0M33.3 49.4h0" stroke="#73d056"/><path d="M28.2 47.5h0" stroke="#84d44b"/><path d="M128.0 0.6h0M105.4 20.1h0M104.9 22.0h0M101.5 26.3h0M122.4 1.1h0M107.3 22.4h0" stroke="#470e61"/><path d="M29.5 22.9h0M44.7 35.1h0M41.3 57.3h0M35.0 64.7h0M34.7 48.6h0M44.8 55.0h0M44.2 67.8h0M43.7 51.7h0M36.0 51.2h0M32.8 48.3h0M48.7 53.7h0" stroke="#297b8e"/><path d="M29.3 53.7h0M40.9 58.9h0" stroke="#34b679"/><path d="M53.8 20.5h0M37.6 19.9h0M41.0 34.8h0M50.6 23.2h0M33.0 15.6h0M56.2 60.2h0M32.5 14.3h0M57.1 78.0h0M63.0 40.2h0M54.7 72.4h0M55.6 30.9h0M61.4 48.8h0M32.2 5.7h0M63.7 42.5h0M56.8 53.8h0M60.8 80.9h0M35.0 22.3h0M34.9 14.1h0M53.6 31.8h0M63.4 34.8h0M52.7 47.1h0M36.8 19.7h0M40.1 27.7h0M55.2 32.3h0M57.9 54.8h0M40.2 20.3h0M52.0 37.0h0M56.6 53.0h0M46.9 40.8h0M46.5 20.2h0M51.9 22.0h0M53.4 45.7h0M55.9 71.2h0M45.7 24.9h0M59.1 61.7h0M54.5 39.8h0M42.9 14.5h0M54.3 43.0h0M61.7 40.7h0M49.1 38.2h0M40.5 16.6h0M44.7 17.6h0M37.3 21.1h0M31.6 7.6h0M47.7 19.3h0M60.0 24.6h0M59.0 22.8h0M48.8 24.2h0M58.1 59.6h0M35.6 18.5h0M56.5 33.1h0M56.0 21.5h0M53.7 26.2h0M60.3 49.5h0M59.6 55.9h0M51.5 39.1h0M37.1 26.7h0M53.3 50.5h0M62.1 53.1h0M51.0 27.4h0M36.3 21.8h0M45.8 18.0h0M27.8 7.7h0M51.9 38.4h0M33.4 5.6h0M59.8 51.6h0M56.8 36.1h0" stroke="#424086"/><path d="M44.4 37.5h0M57.6 49.1h0M51.9 48.9h0M48.6 32.6h0M30.7 22.3h0M53.7 33.1h0M34.2 9.0h0M45.1 34.2h0M45.8 44.7h0M51.0 29.2h0M39.8 38.2h0M46.7 29.3h0M32.2 23.6h0M59.5 52.9h0M37.8 21.3h0M30.0 23.3h0M41.5 30.8h0M48.4 34.4h0M40.5 26.7h0M40.3 66.1h0M46.1 47.0h0M54.5 70.7h0M50.5 71.8h0M35.7 25.3h0M42.9 38.4h0M48.5 50.7h0M31.3 18.2h0M53.9 67.7h0M31.1 15.6h0M41.4 21.3h0M52.1 44.0h0M52.4 74.7h0M39.8 20.7h0M51.7 52.9h0M42.2 21.8h0M32.0 18.8h0M51.5 48.1h0M48.3 50.9h0M50.8 34.4h0M45.7 39.3h0" stroke="#3d4e8a"/><path d="M29.4 43.3h0" stroke="#56c667"/><path d="M36.8 59.2h0M33.4 59.3h0M32.2 55.2h0M29.6 23.8h0M33.7 54.2h0" stroke="#2cb17e"/><path d="M37.5 41.0h0M39.8 51.3h0M43.6 44.0h0M46.0 62.9h0M48.3 73.3h0M52.7 58.9h0M30.3 18.8h0M28.3 30.1h0M48.5 61.4h0M47.9 65.6h0M37.0 40.4h0M52.1 60.5h0M32.1 12.3h0M31.9 22.4h0M52.8 58.2h0M51.1 60.1h0M39.2 43.8h0M43.5 49.5h0M28.5 26.3h0M48.0 64.1h0M28.0 24.7h0M44.1 52.2h0M42.0 61.7h0M31.5 15.7h0M42.6 53.5h0M37.2 45.4h0M40.0 52.8h0M29.1 24.6h0M49.1 46.0h0M39.7 19.6h0M40.5 34.0h0M45.7 65.3h0M42.7 68.8h0M30.0 49.7h0M37.7 30.9h0" stroke="#30698e"/><path d="M31.2 41.3h0M45.6 41.1h0M34.8 58.7h0M35.8 52.6h0M37.3 41.9h0M38.7 52.7h0" stroke="#20938c"/><path d="M27.8 41.4h0" stroke="#4ac16d"/><path d="M42.7 27.6h0M36.8 23.6h0M50.2 56.9h0M34.0 20.1h0M47.4 49.0h0M29.1 28.2h0M44.2 63.3h0M48.5 51.2h0M35.1 47.5h0M35.7 24.7h0M34.7 35.3h0M41.6 60.9h0M47.3 58.1h0M42.7 53.6h0M52.5 52.9h0M34.5 15.4h0M50.3 71.8h0M53.8 64.7h0M44.0 50.7h0M50.5 49.2h0M48.9 37.0h0M32.7 32.1h0M53.9 72.6h0M54.0 49.4h0M37.3 39.2h0M39.5 35.9h0" stroke="#365c8d"/><path d="M31.5 59.3h0M28.4 55.6h0M29.8 51.4h0M30.2 55.1h0M28.9 60.8h0M31.7 57.0h0M31.7 59.2h0M31.4 52.2h0" stroke="#f6e620"/><path d="M52.3 53.5h0M55.5 50.0h0M57.7 38.2h0M40.8 28.3h0M40.8 23.1h0M44.2 24.6h0M48.4 27.8h0M46.6 36.0h0M61.4 43.3h0M37.6 29.4h0M57.3 58.3h0M27.9 9.5h0M64.7 49.8h0M54.0 59.5h0M43.6 47.1h0M41.8 24.0h0M51.2 59.8h0M31.2 25.5h0M59.7 45.0h0M52.6 36.6h0M58.9 50.1h0M60.1 47.0h0M31.0 21.7h0M53.0 29.7h0M49.9 29.6h0M55.6 36.4h0M48.9 15.5h0M60.0 38.8h0M63.7 50.7h0M30.7 11.6h0M50.8 42.0h0M54.3 60.4h0M50.6 37.9h0M44.6 27.0h0M55.6 69.3h0M49.2 21.9h0M55.4 45.0h0M60.5 37.9h0M45.5 41.8h0M28.1 12.5h0M58.6 53.7h0M48.1 26.4h0M32.8 12.3h0M55.0 76.0h0M55.9 41.2h0M46.9 46.5h0M61.0 43.6h0M62.2 50.3h0M61.4 58.2h0M51.0 46.3h0M46.0 31.0h0M49.6 54.0h0M44.5 38.6h0M58.8 37.6h0" stroke="#3f4788"/><path d="M45.7 33.5h0M31.3 17.7h0M45.0 50.9h0M45.0 44.9h0M28.5 24.5h0M39.6 59.7h0M60.4 56.5h0M48.1 46.1h0M52.5 73.1h0M34.9 28.6h0M35.5 37.6h0M34.8 35.8h0M51.3 39.7h0M42.5 43.2h0M45.0 61.0h0M45.5 55.6h0M44.0 45.2h0M45.4 62.4h0M43.8 64.0h0M35.7 31.2h0M51.5 64.1h0M28.3 25.4h0M40.2 49.3h0M29.0 27.5h0" stroke="#33638d"/><path d="M36.6 51.2h0M33.2 46.2h0M36.0 52.4h0M39.3 67.9h0" stroke="#1fa088"/><path d="M34.1 38.4h0M39.2 39.2h0M38.5 45.9h0M37.2 45.4h0M42.4 54.4h0M46.0 39.4h0M33.2 38.2h0M44.1 40.5h0M45.4 59.0h0M29.0 23.3h0M34.9 28.2h0M41.2 54.2h0M52.6 76.2h0M52.0 48.9h0M27.9 33.8h0M33.9 31.2h0M43.7 44.3h0M30.0 41.8h0M36.9 49.8h0" stroke="#2e6f8e"/><path d="M33.0 48.0h0M38.7 57.6h0M40.8 60.6h0M31.2 49.7h0" stroke="#3fbc73"/><path d="M31.2 34.4h0M39.8 66.6h0M47.8 50.6h0M39.5 49.7h0M31.9 36.7h0M42.2 63.6h0M47.5 57.9h0M37.9 52.7h0M38.9 54.6h0M36.9 59.0h0M41.0 67.5h0" stroke="#24878e"/><path d="M30.5 32.5h0" stroke="#b5de2b"/><path d="M75.1 7.9h0M76.2 51.1h0M75.8 40.5h0M59.8 5.8h0M62.7 12.1h0M66.3 42.1h0M65.6 64.7h0M81.5 24.9h0M66.6 25.4h0M72.8 5.7h0M79.0 23.4h0M53.2 8.5h0M76.2 21.5h0M74.2 47.5h0M65.9 12.8h0M62.3 8.3h0M57.3 0.3h0M65.5 12.0h0M64.8 15.5h0M59.7 3.9h0M71.2 19.6h0M62.6 5.2h0M80.8 23.0h0M68.0 18.9h0M46.8 1.9h0M56.9 26.1h0M63.8 5.6h0M70.2 21.5h0M58.6 5.4h0M58.6 10.6h0M72.9 18.5h0M65.0 4.7h0M77.9 26.9h0M48.3 13.3h0M67.2 29.4h0M59.5 0.7h0M61.7 6.1h0M57.5 1.5h0M72.9 41.0h0M61.5 19.2h0M72.8 15.6h0M79.9 27.2h0M67.3 40.3h0M45.6 5.5h0M73.0 13.3h0M71.2 34.7h0M61.9 16.7h0M64.0 10.7h0M41.9 0.9h0M77.0 22.7h0M89.0 13.6h0M68.0 15.6h0M49.9 3.7h0M75.9 43.3h0M78.3 22.0h0M67.4 34.3h0M68.7 30.8h0M69.3 27.5h0M65.8 10.1h0M52.5 2.8h0M62.3 11.6h0M68.6 29.2h0M71.7 22.9h0M69.3 25.1h0M75.9 51.6h0M55.8 1.5h0M81.7 25.0h0M69.8 21.7h0M64.7 25.5h0M76.1 27.6h0M73.8 37.2h0M76.3 23.8h0M75.8 21.2h0M55.5 2.9h0M68.6 0.6h0M60.5 5.9h0M54.4 8.2h0M59.9 7.9h0M73.8 24.0h0M82.0 29.1h0M64.6 23.5h0M49.9 5.6h0M73.6 20.6h0M72.6 28.4h0M76.8 33.1h0M67.8 21.5h0M74.5 27.4h0M50.1 2.9h0M67.9 37.0h0M65.8 27.5h0M58.1 6.5h0M68.6 28.5h0M70.4 15.5h0M83.3 32.3h0M56.2 5.6h0M60.9 10.3h0M62.0 24.5h0M79.0 20.3h0M68.0 58.5h0M47.6 1.9h0M50.2 8.5h0M63.3 16.9h0M58.0 9.9h0M67.3 13.1h0M56.1 21.2h0M49.0 1.4h0M73.2 30.8h0M69.5 24.9h0M60.3 13.9h0M51.8 15.7h0M76.9 26.4h0M59.9 6.1h0M59.0 7.1h0M65.8 26.4h0M78.9 25.2h0M58.3 18.5h0M68.9 30.5h0M72.5 28.6h0M66.1 24.5h0M75.2 26.5h0M67.4 27.9h0M51.2 7.9h0M55.5 10.9h0M74.3 8.6h0M82.5 17.2h0M78.6 36.6h0M63.2 76.1h0M50.6 5.8h0M53.0 19.2h0M66.1 21.2h0M72.4 39.4h0M71.3 28.5h0M60.4 2.4h0M63.7 15.0h0M56.6 4.3h0M57.8 12.1h0M60.0 12.0h0M62.2 7.6h0M59.8 6.2h0M68.5 9.8h0M75.3 22.3h0M72.1 15.2h0M69.4 7.8h0M80.3 25.7h0M75.2 47.3h0M58.5 21.3h0M69.0 26.8h0M75.6 24.0h0M79.7 28.8h0M81.0 19.6h0M71.7 20.0h0M63.7 23.2h0M68.4 26.5h0M78.0 26.3h0M76.8 36.2h0M65.0 29.2h0M61.7 31.7h0M74.0 34.7h0M48.5 5.8h0M55.6 6.9h0M77.5 5.7h0M42.0 7.1h0M74.4 25.0h0M53.3 2.5h0M59.5 8.5h0M50.5 8.2h0M43.1 0.9h0M62.3 2.7h0M49.9 2.1h0M46.1 0.8h0M69.6 11.6h0M71.4 2.6h0M40.8 2.1h0M64.2 0.5h0M77.8 47.6h0M67.4 9.9h0M74.4 9.9h0M46.1 6.5h0M85.5 18.1h0M77.0 29.4h0M64.3 4.2h0M76.8 23.3h0M67.3 51.3h0M65.2 29.4h0M51.0 2.0h0M62.2 11.0h0M88.0 23.8h0M70.6 3.7h0M54.5 74.8h0M80.8 30.3h0M55.8 25.6h0M75.5 33.2h0" stroke="#482878"/><path d="M64.0 35.1h0M72.2 42.7h0M61.5 34.0h0M48.0 17.7h0M33.5 4.8h0M68.3 24.8h0M59.9 17.9h0M37.4 8.7h0M54.8 30.4h0M56.1 22.8h0M66.0 33.4h0M45.2 11.2h0M55.5 17.0h0M44.0 9.4h0M70.3 35.4h0M65.9 23.2h0M42.1 2.6h0M56.7 30.8h0M49.8 16.0h0M53.0 26.8h0M65.8 44.8h0M52.5 16.1h0M59.6 26.6h0M61.7 22.7h0M53.0 17.8h0M56.3 12.9h0M47.6 15.8h0M66.2 33.8h0M69.4 38.5h0M30.3 5.8h0M34.6 3.4h0M54.3 14.9h0M68.2 28.2h0M77.0 35.7h0M67.2 43.8h0M64.3 28.5h0M38.1 0.2h0M68.7 26.1h0M68.3 37.3h0M54.1 20.1h0M66.6 24.6h0M71.0 36.3h0M62.3 38.6h0M73.4 34.6h0M56.8 17.4h0M55.8 30.2h0M57.7 14.4h0M54.4 9.1h0M67.7 35.7h0M59.7 21.5h0M73.2 44.1h0M55.2 31.9h0M54.0 16.3h0M54.4 14.0h0M58.7 29.2h0M46.2 14.6h0M64.9 43.1h0M42.1 8.7h0M76.8 45.3h0M64.4 32.3h0M68.7 48.5h0M75.7 39.6h0M69.5 44.1h0M46.3 14.6h0M63.9 44.6h0M60.6 31.5h0M36.6 4.2h0M45.8 10.3h0M58.9 20.5h0M53.9 18.5h0M68.4 30.8h0M63.6 29.0h0M52.4 20.5h0M48.4 21.1h0M52.6 25.8h0M60.4 23.8h0M58.7 19.1h0M56.7 24.3h0M56.1 15.1h0M43.7 12.0h0M59.1 29.3h0M56.7 11.0h0M57.4 18.7h0M41.4 3.6h0M50.9 15.0h0M64.9 24.1h0M66.8 39.0h0M58.3 19.5h0M45.3 11.4h0M45.4 21.8h0M47.6 11.6h0M62.3 40.6h0M69.4 34.9h0M31.1 5.9h0M35.3 8.2h0M56.5 29.1h0M65.7 37.2h0M43.5 11.5h0M64.2 41.3h0M65.9 58.3h0M46.9 8.6h0" stroke="#46307e"/><path d="M43.2 67.9h0M32.9 48.0h0M28.9 47.5h0M41.8 62.9h0M40.0 43.0h0M31.4 30.2h0M36.4 51.0h0M38.9 50.8h0M28.8 34.2h0" stroke="#1f998a"/><path d="M83.6 25.2h0M72.0 8.8h0M78.3 12.0h0M85.0 16.8h0M97.4 1.7h0M71.1 3.8h0M97.5 1.6h0M87.5 1.9h0M74.9 9.3h0M81.9 19.8h0M85.4 13.4h0M81.7 3.5h0M88.3 10.3h0M76.2 11.9h0M93.9 5.6h0M94.5 9.1h0M72.4 14.2h0M75.5 0.1h0M74.5 8.8h0M76.2 7.4h0M67.2 15.4h0M75.6 7.5h0M80.3 0.7h0M93.3 10.1h0M83.9 30.6h0M97.2 6.6h0M88.6 29.2h0M86.6 32.6h0M90.7 6.1h0M75.7 59.7h0M97.3 0.1h0M80.1 10.1h0M87.0 6.1h0M102.3 7.8h0M87.3 10.5h0M67.7 9.5h0M77.4 12.9h0M93.5 6.2h0M86.3 0.1h0M75.0 19.9h0M95.2 3.7h0M96.6 11.4h0M66.2 0.6h0M87.0 0.8h0M95.8 5.9h0M66.6 8.7h0M107.8 1.2h0M88.7 3.5h0M86.0 11.2h0M70.9 6.0h0M92.1 22.0h0M83.6 45.7h0M89.0 3.3h0M87.1 10.8h0M66.3 2.2h0M78.8 1.3h0M74.1 8.0h0M96.0 8.5h0M80.0 5.8h0M85.0 30.6h0M67.4 60.7h0M83.7 14.8h0M74.7 5.3h0M83.5 14.0h0M78.7 2.4h0M89.0 5.6h0M71.2 18.6h0M82.0 12.7h0M74.1 58.0h0M99.7 6.3h0M95.0 0.8h0M78.2 10.5h0M73.5 23.6h0M86.4 8.6h0M95.3 6.7h0M76.1 9.7h0M88.5 5.7h0M87.6 8.8h0M80.4 37.7h0M90.6 18.8h0M96.4 2.2h0M69.1 0.7h0M100.4 5.1h0M78.0 11.5h0M106.9 1.8h0M77.3 47.2h0M84.0 8.7h0M77.7 2.4h0M74.2 10.9h0M80.3 10.3h0M67.9 1.3h0M84.4 1.7h0M84.7 6.4h0M73.7 13.9h0M84.5 19.6h0M73.9 16.8h0M57.1 0.8h0M86.8 7.2h0M64.5 2.7h0M74.7 6.1h0M86.9 33.7h0M79.6 12.5h0M70.7 15.1h0M66.5 6.1h0M79.5 5.2h0M74.9 21.9h0M71.6 2.5h0M79.5 2.3h0M72.1 13.9h0M88.4 4.3h0M91.1 2.6h0M94.4 1.3h0M76.3 13.5h0M102.4 3.6h0M93.6 8.2h0M73.9 6.4h0M88.7 32.6h0M98.4 13.1h0M94.0 6.3h0M67.2 8.8h0M96.3 11.3h0M91.2 10.9h0M73.2 9.7h0M93.0 20.8h0M97.8 5.7h0M88.7 17.5h0M70.6 6.1h0M74.6 2.9h0M76.1 2.6h0M84.4 0.5h0M83.4 14.6h0M96.3 9.6h0M90.4 19.9h0M83.9 5.6h0M74.4 19.3h0M98.9 3.8h0M92.4 10.3h0M81.7 22.8h0M81.4 37.0h0M69.9 6.2h0M76.0 8.8h0M70.5 3.0h0M97.8 0.1h0M72.0 7.8h0M100.3 8.0h0" stroke="#482071"/><path d="M88.5 34.7h0M85.7 51.2h0M104.0 17.8h0M81.2 51.5h0M113.3 0.4h0M99.2 29.5h0M112.0 1.7h0M99.4 17.1h0M115.8 0.6h0M110.4 2.6h0M106.6 10.5h0M106.0 13.0h0M82.3 52.4h0M95.2 22.8h0M102.6 15.9h0M89.5 31.6h0M105.5 13.8h0M93.0 30.1h0M97.5 17.7h0M106.3 11.5h0M85.3 49.4h0M98.6 25.0h0M96.0 30.0h0" stroke="#48186a"/><path d="M36.6 64.6h0M35.9 40.3h0M44.2 59.7h0M44.6 50.4h0M29.6 15.0h0M44.1 57.3h0M42.4 50.6h0M31.2 26.9h0M38.0 45.4h0M34.5 33.5h0M34.4 44.6h0" stroke="#2b758e"/><path d="M30.3 57.7h0M43.1 63.2h0" stroke="#56c667"/><path d="M34.9 39.7h0M37.7 63.1h0M42.2 55.0h0M41.5 62.1h0M29.6 54.3h0M28.0 45.2h0M40.6 45.5h0M28.7 24.5h0M31.2 46.2h0M37.3 65.4h0" stroke="#228d8d"/><path d="M44.9 7.0h0M68.8 60.0h0M63.4 56.0h0M56.3 79.5h0M62.5 54.1h0M48.8 14.0h0M64.4 48.3h0M59.3 32.0h0M66.9 35.3h0M55.3 45.3h0M53.1 21.3h0M40.5 8.5h0M67.9 35.1h0M63.7 56.2h0M43.6 11.2h0M50.0 8.2h0M57.4 50.8h0M46.1 22.5h0M59.0 53.0h0M47.0 27.6h0M55.0 20.6h0M61.6 28.6h0M39.4 15.3h0M58.7 70.6h0M30.6 11.5h0M61.4 52.2h0M58.3 39.7h0M58.8 47.1h0M58.8 37.8h0M58.3 34.8h0M70.8 55.1h0M35.7 4.0h0M40.7 17.5h0M45.4 24.5h0M52.7 28.1h0M49.7 21.8h0M42.6 21.8h0M63.7 57.4h0M47.2 17.5h0M44.5 1.0h0M30.6 2.2h0M43.1 21.3h0M44.6 11.7h0M63.1 18.3h0M35.0 9.4h0M68.5 39.4h0M60.9 47.1h0M30.8 0.2h0M57.2 31.5h0M34.1 9.3h0M56.5 24.0h0M52.8 34.9h0M61.6 34.5h0M34.9 11.5h0M62.3 51.2h0M39.7 2.8h0M57.8 23.2h0M50.5 24.8h0M34.3 7.8h0M56.4 19.7h0M42.0 6.3h0M55.0 29.8h0M34.8 11.4h0M42.9 32.2h0M49.3 22.4h0M52.5 36.9h0M41.0 19.5h0M44.8 16.8h0M50.4 12.5h0M52.2 17.5h0M53.8 34.2h0M52.0 33.5h0M28.2 5.7h0M47.4 32.6h0M63.8 50.7h0M58.1 30.9h0M60.1 46.3h0M67.9 67.2h0M57.6 48.2h0M57.1 39.2h0M35.9 19.5h0M65.1 37.5h0M40.6 1.7h0M48.6 27.5h0M53.2 23.7h0M43.8 9.9h0M64.6 71.2h0M68.5 32.9h0M38.2 9.8h0M35.1 12.4h0M34.5 22.0h0M68.3 43.0h0M64.4 39.9h0M40.9 12.6h0M66.7 54.1h0M38.2 10.3h0M55.5 60.1h0M49.6 21.8h0" stroke="#453882"/><path d="M30.4 61.0h0M29.0 55.8h0M31.1 52.5h0M29.0 52.4h0M28.1 50.8h0M27.7 51.1h0M29.7 59.4h0M28.3 56.2h0" stroke="#f6e620"/><path d="M28.5 49.0h0M30.0 59.8h0" stroke="#c5e021"/><path d="M39.8 58.0h0M48.5 68.0h0M42.6 34.3h0M47.0 47.6h0M49.1 68.9h0M32.4 29.5h0M42.4 64.8h0M39.5 61.7h0M48.5 43.7h0M47.2 48.2h0M49.0 41.3h0M51.3 65.9h0M31.0 27.1h0M40.9 33.6h0M39.5 36.5h0M48.9 69.7h0M36.5 34.8h0M37.6 38.3h0M53.9 47.9h0M48.4 68.7h0M51.9 60.8h0M51.2 47.3h0" stroke="#30698e"/><path d="M84.6 49.5h0M102.2 11.8h0M100.1 19.2h0M102.7 20.6h0M98.5 32.4h0M113.8 6.6h0M109.3 6.1h0M89.9 34.2h0M91.5 29.1h0M105.5 11.2h0M115.2 2.8h0M99.6 22.8h0M104.9 15.7h0M109.2 3.7h0M98.7 19.7h0M104.4 8.9h0M102.6 17.7h0M85.8 48.5h0M86.1 52.3h0M93.3 31.5h0M91.5 32.6h0M104.2 12.3h0M96.7 26.9h0M108.7 13.6h0M102.8 12.5h0" stroke="#48186a"/><path d="M27.8 39.2h0M31.3 35.0h0M35.9 58.1h0M31.5 55.9h0M41.5 53.0h0" stroke="#21a585"/><path d="M28.1 37.4h0" stroke="#65cb5e"/><path d="M38.0 65.8h0M28.1 45.7h0M39.2 67.7h0M39.1 63.0h0M28.9 55.0h0" stroke="#3fbc73"/><path d="M30.9 25.4h0M57.4 36.4h0M47.1 46.4h0M43.9 57.9h0M47.3 40.2h0M50.2 74.1h0M30.7 36.3h0M50.8 74.8h0M49.2 54.5h0M50.8 45.5h0M52.9 77.2h0M57.4 38.4h0M47.3 18.8h0M62.4 48.2h0M40.0 17.9h0M48.0 31.1h0M43.6 38.5h0M54.5 56.2h0M45.3 24.0h0M42.4 16.8h0M53.9 35.8h0M51.4 59.0h0M53.5 50.0h0M43.7 28.5h0M33.4 23.9h0M49.6 71.0h0M35.1 14.1h0M32.2 6.7h0M52.2 55.8h0M33.4 21.0h0M54.6 71.2h0M41.7 30.2h0M42.5 28.9h0M52.7 63.4h0" stroke="#3d4e8a"/><path d="M36.3 65.0h0M27.7 33.1h0M33.1 49.3h0M36.0 43.0h0M28.2 53.9h0M37.3 34.4h0M32.3 52.4h0M30.4 51.3h0M38.9 64.3h0M37.8 58.7h0M41.8 62.4h0" stroke="#25ab82"/><path d="M34.9 39.1h0M40.5 66.8h0M32.6 27.0h0M43.6 33.4h0M34.5 43.9h0M46.1 57.4h0M31.4 19.9h0M39.8 41.3h0M40.5 62.2h0M39.2 44.8h0M49.3 67.5h0M30.4 21.4h0M41.5 59.4h0M40.7 47.1h0M42.3 69.8h0M50.4 58.1h0M49.3 46.6h0M44.4 64.5h0M33.0 28.9h0" stroke="#2e6f8e"/><path d="M31.4 35.8h0M33.3 44.1h0M32.8 46.9h0M44.9 71.5h0M44.4 49.3h0M45.0 52.5h0M30.2 39.2h0M36.7 37.7h0M42.9 59.4h0M37.2 54.2h0M30.4 40.7h0" stroke="#24878e"/><path d="M34.1 33.2h0M44.0 52.5h0M32.6 45.8h0" stroke="#1f998a"/><path d="M71.7 64.5h0M90.5 26.5h0M83.9 3.8h0M81.9 2.5h0M88.7 1.6h0M84.2 14.8h0M83.7 7.6h0M85.4 4.7h0M82.2 1.7h0M76.5 38.4h0M79.2 0.3h0M100.6 8.7h0M96.2 10.0h0M78.9 28.3h0M72.9 68.9h0M88.2 16.2h0M76.5 58.0h0M92.9 6.9h0M90.3 0.5h0M96.7 11.0h0M95.3 3.1h0M78.9 13.4h0M93.0 6.5h0M80.4 43.3h0M96.5 8.1h0M90.9 2.9h0M95.7 5.3h0M71.2 5.7h0M97.7 12.2h0M103.7 3.6h0M79.6 2.5h0M85.2 21.5h0M79.6 0.5h0M76.4 6.6h0M87.1 14.0h0M89.0 4.2h0M86.3 9.8h0M76.5 14.3h0M83.1 47.8h0M74.9 11.2h0M74.9 1.6h0M82.8 12.4h0M88.4 17.6h0M72.6 63.4h0M99.2 1.6h0M85.4 12.7h0M89.5 5.4h0M93.1 14.1h0M87.5 8.6h0M60.3 3.6h0M82.0 6.5h0M88.2 22.0h0M78.9 18.7h0M105.5 5.6h0M71.2 5.9h0M78.2 17.7h0M57.4 4.0h0M75.8 16.8h0M71.7 13.0h0M98.6 7.0h0M81.3 12.5h0M82.6 6.9h0M86.0 26.4h0M85.7 1.0h0M89.7 7.1h0M89.1 30.0h0M77.7 13.1h0M100.2 13.9h0M106.6 3.5h0M87.4 12.6h0M81.6 11.6h0M75.9 7.2h0M90.1 5.1h0M77.6 11.1h0M70.6 1.6h0M75.5 10.2h0M84.8 2.1h0M84.9 34.8h0M84.9 24.9h0M74.9 3.2h0M84.1 18.0h0M71.4 8.4h0M92.3 1.1h0M95.7 8.9h0M82.9 19.4h0M74.5 0.7h0M76.1 11.9h0M72.0 -0.0h0M84.0 29.8h0M77.1 13.1h0M85.1 3.3h0M74.1 12.2h0M95.2 13.3h0M52.5 4.2h0M93.4 1.8h0M89.3 14.3h0M66.2 1.9h0M85.5 11.1h0M75.6 7.8h0M83.5 41.6h0M72.9 4.3h0M78.8 12.1h0M89.6 6.8h0M74.2 8.3h0M81.6 0.4h0M64.2 4.0h0M76.4 7.1h0M72.0 3.3h0M92.9 3.1h0M87.4 4.5h0M78.4 3.2h0M97.9 15.3h0M80.0 18.9h0M87.6 15.4h0M80.1 9.6h0M80.5 27.1h0M75.3 2.8h0M82.6 6.4h0M94.8 17.0h0M94.4 0.5h0M87.5 13.8h0M91.7 13.5h0M72.8 8.8h0M84.6 14.4h0M67.8 11.3h0M76.7 10.4h0M76.8 14.3h0M82.0 5.6h0M75.9 20.1h0M92.0 16.9h0M79.8 9.9h0" stroke="#482071"/><path d="M41.4 45.6h0M55.4 58.9h0M29.2 23.0h0M47.5 70.3h0M33.9 35.4h0M49.8 65.9h0M48.1 72.8h0M28.7 24.7h0M37.7 41.1h0M50.8 66.3h0M50.3 38.1h0M38.8 47.6h0M48.4 46.8h0M35.8 26.8h0M36.5 39.2h0M29.8 32.1h0M27.8 19.6h0M34.7 39.4h0M44.2 45.0h0M44.3 66.7h0M45.2 56.7h0" stroke="#33638d"/><path d="M42.8 24.2h0M53.5 62.7h0M46.6 31.5h0M50.0 52.5h0M46.9 60.8h0M48.8 38.0h0M54.9 38.3h0M34.9 29.5h0M35.3 27.0h0M43.4 24.3h0M55.6 61.6h0M41.8 30.0h0M42.7 42.1h0M53.1 59.2h0M49.8 74.8h0M56.6 60.9h0M47.0 67.1h0M47.3 71.7h0M34.6 28.4h0M27.9 24.1h0M58.2 55.3h0M49.6 49.0h0M57.1 47.5h0M53.4 63.7h0M46.4 28.2h0M46.4 36.7h0M47.8 41.1h0M50.1 70.7h0M44.1 38.5h0M40.4 28.1h0M43.5 55.6h0M36.2 22.0h0M40.3 34.5h0M55.3 49.6h0M36.2 32.0h0" stroke="#39558c"/><path d="M33.5 36.8h0M37.3 55.6h0M35.9 47.2h0M41.9 62.7h0M47.0 54.9h0M27.9 40.5h0M34.6 49.3h0M41.2 60.0h0M46.0 63.5h0M42.8 46.3h0M49.3 53.8h0M49.4 70.8h0M33.7 40.2h0M30.9 37.2h0M37.6 47.9h0M38.5 54.9h0M39.6 57.4h0M27.6 25.6h0" stroke="#2b758e"/><path d="M82.3 22.6h0M44.0 1.4h0M73.4 36.6h0M63.9 23.5h0M55.1 17.5h0M62.5 3.7h0M76.2 30.2h0M67.3 56.0h0M43.5 6.5h0M69.5 9.9h0M71.1 33.7h0M71.4 31.3h0M66.5 17.6h0M63.9 64.9h0M68.8 13.8h0M86.1 24.5h0M69.8 50.6h0M52.8 2.3h0M64.6 34.2h0M54.4 0.3h0M64.9 13.5h0M63.3 10.8h0M57.1 12.6h0M60.3 17.7h0M75.6 31.0h0M64.7 13.8h0M74.8 29.4h0M72.7 18.6h0M55.1 10.0h0M47.1 10.9h0M74.3 47.4h0M71.7 27.2h0M73.1 25.4h0M69.3 8.0h0M44.3 3.6h0M64.6 1.9h0M70.2 46.3h0M67.7 20.4h0M74.0 26.0h0M77.2 23.0h0M51.6 9.0h0M81.5 28.0h0M67.0 24.0h0M75.4 45.2h0M64.8 3.9h0M60.7 9.4h0M60.8 13.6h0M45.8 2.8h0M46.7 7.5h0M67.7 9.7h0M79.6 28.3h0M64.9 6.7h0M50.5 4.4h0M57.6 17.0h0M63.5 19.4h0M54.6 19.8h0M45.4 9.8h0M75.8 25.8h0M71.1 25.9h0M58.9 5.0h0M74.3 41.0h0M54.9 17.6h0M49.3 10.5h0M64.8 14.0h0M56.8 6.9h0M59.0 2.3h0M77.8 26.8h0M77.0 27.5h0M61.7 9.1h0M65.2 27.1h0M60.9 16.0h0M69.8 13.9h0M53.7 1.5h0M60.8 2.4h0M73.0 11.1h0M46.2 0.9h0M62.1 20.3h0M66.3 5.1h0M84.0 31.1h0M75.4 15.7h0M71.5 15.7h0M78.4 22.2h0M65.6 15.2h0M52.2 16.1h0M72.4 7.2h0M82.9 17.4h0M56.3 10.1h0M80.6 10.7h0M81.4 20.3h0M71.5 30.2h0M76.4 16.1h0M49.6 21.8h0M64.5 14.5h0M78.6 17.4h0M65.0 29.0h0M51.5 10.7h0M52.2 18.5h0M64.0 7.6h0M64.5 36.6h0M77.8 13.7h0M73.1 26.8h0M77.6 22.6h0M77.9 40.0h0M70.2 55.2h0M69.4 28.6h0M60.7 7.7h0M51.7 0.3h0M58.3 5.7h0M79.6 27.8h0M69.8 19.9h0M74.7 25.2h0M62.5 9.8h0M69.5 19.3h0M70.0 55.2h0M76.1 21.5h0M74.8 22.6h0M70.6 34.7h0M77.0 33.5h0M77.8 18.2h0M70.0 2.0h0M64.3 15.1h0M71.1 32.8h0M56.3 10.2h0M77.5 32.7h0M65.2 78.7h0M68.5 30.3h0M75.6 24.3h0M76.3 21.3h0M62.6 1.0h0M56.1 6.5h0M72.4 30.4h0M72.0 21.8h0M72.7 34.6h0M80.9 18.8h0M70.8 30.7h0M42.6 1.2h0M84.3 21.7h0M73.3 57.1h0M76.4 26.7h0M62.9 18.2h0M73.2 17.1h0M58.6 7.7h0M68.6 22.2h0M75.4 31.2h0M71.6 35.5h0M42.5 1.0h0M78.1 17.5h0M71.8 29.5h0M73.5 24.9h0M62.0 16.8h0M70.5 14.6h0M68.9 19.2h0M60.7 13.6h0M59.4 15.3h0M66.6 5.0h0M79.0 35.5h0M56.8 3.7h0" stroke="#482878"/><path d="M62.4 25.5h0M70.6 40.1h0M52.8 8.9h0M53.3 17.0h0M45.1 5.7h0M65.8 49.3h0M61.1 42.5h0M59.2 25.1h0M59.1 30.3h0M58.0 21.1h0M72.7 42.0h0M58.7 13.4h0M50.3 10.3h0M52.8 14.7h0M56.4 79.6h0M69.9 43.3h0M57.5 19.0h0M51.3 15.3h0M55.9 11.6h0M65.1 24.8h0M75.0 35.3h0M64.1 36.5h0M45.1 8.4h0M68.0 21.9h0M59.4 38.0h0M71.6 37.8h0M42.3 5.2h0M36.2 3.2h0M73.3 30.5h0M64.1 42.4h0M55.4 30.9h0M46.6 6.6h0M46.9 0.9h0M58.0 27.8h0M67.8 22.0h0M69.2 64.2h0M47.9 22.0h0M72.2 66.0h0M75.2 38.5h0M56.6 14.4h0M53.5 7.1h0M45.7 12.1h0M58.5 68.8h0M48.0 21.9h0M72.0 27.8h0M61.2 27.8h0M74.2 56.0h0M63.4 23.0h0M37.8 2.0h0M55.5 31.1h0M65.9 24.1h0M69.4 36.2h0M56.0 5.3h0M44.3 10.7h0M63.0 35.1h0M60.2 18.8h0M53.7 26.3h0M41.4 22.7h0M43.4 6.4h0M37.0 0.7h0M69.9 39.6h0M77.2 36.2h0M51.5 12.6h0M57.7 29.3h0M59.3 35.5h0M72.0 39.8h0M66.1 34.6h0M45.2 15.7h0M40.8 2.8h0M65.4 55.9h0M74.8 35.1h0M41.0 4.3h0M67.0 42.2h0M58.6 34.8h0M44.8 7.4h0M42.5 13.4h0M70.1 31.5h0M46.7 0.1h0M47.6 10.0h0M62.8 26.2h0M61.5 71.3h0M60.7 30.5h0M63.0 31.5h0M60.9 16.9h0M64.9 61.0h0M44.4 15.0h0M36.5 8.1h0M68.1 32.8h0M41.5 12.7h0M59.3 73.7h0M69.5 39.5h0M47.5 16.6h0M41.6 22.1h0M63.1 39.4h0M66.9 48.7h0M43.3 7.1h0M61.9 22.7h0M50.4 11.1h0M63.4 68.2h0M68.6 28.2h0M51.9 27.9h0M65.6 20.1h0M64.9 36.0h0M63.9 35.8h0M58.2 9.7h0M57.0 20.6h0M59.6 30.7h0M71.8 42.4h0" stroke="#46307e"/><path d="M37.2 54.8h0" stroke="#4ac16d"/><path d="M37.0 24.0h0M34.2 35.2h0M31.5 15.8h0M49.4 63.5h0M49.8 71.7h0M47.5 37.6h0M38.2 30.2h0M44.4 37.6h0M38.5 32.5h0M48.4 66.8h0M40.4 32.6h0M30.2 24.5h0M47.5 68.5h0M36.9 38.7h0M38.9 32.1h0M51.6 64.7h0M40.0 36.8h0M46.5 35.5h0M51.9 70.1h0M32.5 12.7h0M45.7 38.5h0M55.1 59.9h0M48.7 63.5h0M44.0 61.9h0M44.9 46.0h0M37.3 61.2h0M49.6 73.5h0" stroke="#365c8d"/><path d="M29.0 33.8h0M31.7 51.4h0M30.5 42.1h0M28.7 43.3h0" stroke="#34b679"/><path d="M42.3 68.8h0M28.4 34.9h0M35.7 36.4h0M40.2 64.1h0M39.3 51.3h0M32.5 46.4h0M46.6 54.7h0M27.7 43.5h0M44.0 60.9h0M42.8 49.3h0M42.2 53.7h0M27.9 33.8h0M49.8 43.2h0M32.6 35.3h0M35.7 41.6h0M38.7 63.9h0" stroke="#297b8e"/><path d="M38.0 40.0h0M32.1 32.6h0M44.0 55.9h0M30.9 34.7h0M28.5 34.9h0M35.4 45.4h0M43.8 53.6h0M44.2 39.1h0M32.9 27.9h0M40.7 59.4h0M27.6 31.9h0M46.4 67.4h0M31.1 45.8h0" stroke="#26828e"/><path d="M52.9 39.7h0M30.4 3.1h0M56.1 68.3h0M55.2 69.2h0M50.3 41.2h0M51.8 42.5h0M48.2 39.8h0M50.2 45.4h0M36.6 12.5h0M60.5 55.5h0M50.7 49.9h0M55.1 35.4h0M59.3 36.8h0M29.0 16.9h0M54.4 51.1h0M46.3 24.2h0M34.2 24.2h0M29.3 28.2h0M36.8 26.5h0M57.1 54.5h0M46.7 52.7h0M53.1 29.0h0M35.7 17.6h0M58.1 61.9h0M48.0 32.3h0M38.0 20.3h0M50.4 37.1h0M52.1 51.6h0M56.7 54.6h0M44.8 30.5h0M57.4 41.3h0M32.2 16.2h0M47.2 37.6h0M50.2 31.4h0M49.3 31.3h0M51.0 33.9h0M56.1 57.0h0M56.3 57.6h0M39.0 17.0h0M30.3 21.2h0M56.3 66.9h0M34.1 16.0h0M54.7 43.0h0M49.2 30.8h0M46.5 35.8h0M31.2 12.3h0M56.2 64.1h0M55.1 38.4h0M47.5 35.4h0M35.8 23.2h0M33.5 29.1h0M53.0 42.1h0M41.7 30.3h0M48.4 47.6h0M33.5 10.3h0M44.6 20.2h0M30.8 10.4h0M48.3 43.0h0" stroke="#3f4788"/><path d="M36.1 53.4h0M34.0 30.3h0M37.4 61.1h0M34.5 60.1h0M43.5 50.7h0M36.9 53.3h0M28.6 47.2h0" stroke="#20938c"/><path d="M36.5 58.8h0M44.3 58.3h0M33.1 45.5h0M31.5 47.5h0" stroke="#1fa088"/><path d="M95.7 36.6h0M109.2 18.0h0M93.4 38.1h0M114.6 9.5h0M122.0 4.4h0M99.6 37.3h0M99.3 36.4h0M110.5 21.0h0M116.1 11.1h0" stroke="#470e61"/><path d="M42.5 25.6h0M64.2 54.5h0M65.4 51.1h0M61.8 50.8h0M57.6 45.0h0M54.7 43.0h0M58.5 43.4h0M29.8 9.8h0M46.3 22.0h0M48.7 18.8h0M40.2 11.7h0M63.5 45.7h0M63.1 47.3h0M40.6 19.5h0M47.1 30.3h0M56.9 65.3h0M55.1 29.0h0M36.7 16.1h0M52.3 40.3h0M36.7 9.1h0M55.4 26.1h0M48.1 20.9h0M66.1 46.4h0M31.3 11.8h0M53.7 41.3h0M45.4 26.8h0M45.7 23.8h0M39.9 15.1h0M36.9 13.9h0M34.7 7.1h0M62.1 34.3h0M42.4 22.3h0M57.5 56.7h0M62.9 52.7h0M53.1 71.4h0M55.6 52.9h0M37.9 18.9h0M58.1 48.6h0M60.8 65.3h0M28.2 12.4h0M31.9 11.2h0M42.1 10.1h0M31.2 7.6h0M47.6 20.2h0M33.5 8.9h0M44.2 48.7h0M58.8 47.9h0M52.5 41.8h0M63.4 45.6h0M34.5 16.4h0M58.7 32.3h0M54.8 73.5h0M64.5 50.4h0M46.1 13.1h0M55.8 50.0h0M52.2 24.6h0M40.6 11.5h0M44.0 18.8h0M51.6 36.6h0M70.6 41.6h0M38.2 9.2h0M71.1 36.4h0M47.7 20.7h0M33.6 5.1h0M46.8 33.4h0M38.7 19.1h0M60.0 52.0h0M58.1 41.8h0M35.1 14.9h0M44.8 30.4h0M69.2 51.8h0M42.0 15.2h0M41.4 31.0h0M34.9 23.4h0M52.8 22.8h0M56.2 54.5h0M57.6 42.3h0M60.5 51.6h0" stroke="#424086"/><path d="M29.9 46.1h0M32.2 49.7h0" stroke="#73d056"/><path d="M40.0 57.9h0M36.0 50.4h0" stroke="#2cb17e"/><path d="M31.8 47.7h0" stroke="#b5de2b"/><path d="M53.1 63.2h0M46.5 31.5h0M50.0 31.4h0M54.4 54.2h0M50.1 73.1h0M32.1 34.5h0M52.9 65.7h0M49.2 64.4h0M48.7 62.2h0M48.0 41.0h0M46.7 40.9h0M30.5 25.4h0M37.9 24.7h0M45.0 52.4h0M48.9 44.0h0M52.6 63.4h0M48.6 33.6h0M51.6 62.3h0M34.5 33.9h0M57.4 56.7h0M32.3 26.9h0M47.7 21.0h0M56.6 60.5h0M32.8 26.9h0M52.2 65.5h0M41.7 25.1h0M56.0 49.5h0M54.9 53.7h0M42.9 28.7h0M46.8 63.3h0M48.1 50.5h0M32.1 31.0h0M49.0 40.9h0M52.0 40.6h0M56.6 49.5h0M57.8 57.1h0M31.1 9.8h0M54.1 66.5h0M48.0 31.1h0M44.1 53.0h0M51.5 32.6h0M41.4 29.3h0M42.7 46.0h0M54.4 54.4h0M52.4 56.8h0M42.5 38.3h0" stroke="#3d4e8a"/><path d="M40.5 34.7h0M48.0 69.8h0M51.3 69.9h0M37.7 46.0h0M42.1 50.7h0M37.7 39.9h0M40.7 44.1h0M50.2 52.2h0M36.6 50.4h0M30.4 33.4h0M42.8 33.3h0M49.5 69.2h0M33.3 28.3h0M34.8 31.3h0M37.2 40.5h0" stroke="#2e6f8e"/><path d="M42.5 13.0h0M60.1 49.1h0M59.4 22.7h0M43.0 13.8h0M58.4 38.8h0M48.2 18.3h0M35.5 6.6h0M60.3 51.2h0M42.8 21.1h0M38.5 2.0h0M46.1 18.2h0M56.6 28.2h0M52.4 29.3h0M66.4 49.1h0M58.2 50.2h0M64.9 32.3h0M37.4 11.2h0M56.8 22.1h0M59.3 28.5h0M45.7 10.9h0M49.4 26.2h0M68.7 42.9h0M70.2 46.8h0M52.9 35.3h0M42.2 11.9h0M53.3 75.5h0M68.9 34.5h0M56.5 44.6h0M60.9 39.4h0M38.4 9.8h0M57.2 66.9h0M40.8 9.4h0M62.3 33.4h0M46.9 24.3h0M68.8 45.0h0M62.6 40.5h0M51.6 20.9h0M61.2 36.5h0M51.3 14.7h0M55.2 42.5h0M66.1 55.9h0M56.8 53.4h0M55.1 28.9h0M33.3 13.9h0M67.6 20.0h0M58.4 32.0h0M41.2 16.3h0M52.9 32.4h0M45.6 18.8h0M67.1 37.9h0M36.0 10.2h0M54.9 22.9h0M47.0 24.1h0M65.8 47.5h0M66.6 33.5h0M62.1 32.4h0M45.3 20.9h0M62.3 26.2h0M63.4 51.4h0M49.2 17.7h0M57.0 24.4h0M58.8 46.4h0M46.0 5.9h0M32.1 9.4h0M65.5 57.0h0M32.2 7.6h0M54.1 27.3h0M62.4 41.2h0M60.2 50.4h0M56.2 33.0h0M60.5 31.6h0M44.3 26.6h0M54.3 30.9h0M50.2 19.1h0M54.4 33.4h0M63.1 61.0h0M63.9 43.1h0M47.0 23.6h0M55.2 40.4h0M61.9 43.4h0M40.3 9.5h0M56.1 27.1h0M36.2 13.0h0M56.0 75.5h0M55.1 24.9h0M31.2 11.8h0M61.7 26.2h0M52.7 76.2h0M41.7 7.7h0" stroke="#453882"/><path d="M56.8 56.8h0M47.6 67.7h0M48.3 42.8h0M51.1 44.0h0M35.7 33.1h0M42.7 47.5h0M30.4 23.3h0M39.4 65.5h0M33.9 34.7h0M47.9 69.2h0M46.4 68.8h0M47.8 64.6h0M39.5 48.9h0M46.3 33.5h0M48.9 73.0h0M34.2 29.0h0M38.9 46.4h0M34.7 34.6h0M32.7 35.7h0M47.0 61.1h0" stroke="#33638d"/><path d="M28.3 46.0h0" stroke="#c5e021"/><path d="M35.2 32.7h0M29.6 43.1h0M31.0 53.6h0" stroke="#25ab82"/><path d="M32.6 35.9h0M29.0 49.7h0M33.7 52.6h0M32.8 51.8h0" stroke="#2cb17e"/><path d="M29.0 54.3h0" stroke="#84d44b"/><path d="M28.7 43.3h0M37.5 46.9h0M33.3 55.1h0M38.7 54.9h0" stroke="#1f998a"/><path d="M40.6 50.9h0M49.9 57.2h0M53.3 58.3h0M41.0 38.1h0M52.9 64.1h0M34.7 36.7h0M47.1 50.6h0M42.4 41.4h0M28.6 19.6h0M44.5 59.8h0M40.0 43.0h0M37.6 51.5h0M35.2 29.2h0M54.7 50.7h0M44.3 44.3h0M32.0 23.7h0M30.8 14.1h0M37.0 55.9h0M45.4 64.0h0M44.7 48.0h0M33.2 30.1h0M37.2 25.3h0M39.4 33.2h0M48.8 51.1h0M43.5 46.9h0M50.5 48.6h0M34.6 35.6h0" stroke="#365c8d"/><path d="M63.0 16.6h0M51.1 0.2h0M61.5 8.1h0M80.9 23.8h0M62.0 29.2h0M72.1 31.2h0M71.5 22.3h0M60.2 23.2h0M75.2 20.8h0M50.1 16.3h0M58.5 0.7h0M62.6 4.3h0M64.3 9.3h0M56.8 10.4h0M71.0 7.7h0M51.2 2.0h0M75.1 22.2h0M66.5 7.3h0M64.7 0.6h0M66.6 65.2h0M58.0 14.7h0M71.0 13.2h0M65.1 16.5h0M80.3 11.8h0M79.0 26.7h0M68.3 28.6h0M70.2 16.8h0M74.9 7.1h0M75.2 21.4h0M53.8 16.4h0M55.2 4.2h0M71.0 31.6h0M64.3 4.6h0M73.7 15.0h0M68.0 21.3h0M51.4 12.1h0M63.7 20.7h0M73.6 20.6h0M66.2 9.0h0M63.8 12.6h0M79.7 37.3h0M74.0 24.2h0M79.2 30.9h0M61.1 7.1h0M53.6 -0.0h0M78.6 20.9h0M61.7 24.5h0M73.4 17.3h0M72.7 22.8h0M39.7 1.2h0M71.3 3.0h0M70.0 37.9h0M78.4 16.3h0M76.1 44.2h0M74.9 21.9h0M67.4 61.7h0M57.1 2.7h0M60.6 38.9h0M42.9 7.9h0M59.3 18.2h0M65.5 29.1h0M71.5 20.0h0M72.9 35.3h0M73.0 41.1h0M72.1 31.6h0M60.6 25.3h0M64.8 35.1h0M67.9 36.0h0M77.7 33.9h0M65.9 33.8h0M71.1 15.8h0M80.6 26.1h0M69.3 7.8h0M74.2 54.7h0M68.4 20.5h0M63.3 32.8h0M81.0 31.9h0M71.5 23.9h0M67.3 27.5h0M48.0 2.0h0M54.7 0.1h0M76.0 35.2h0M61.8 17.5h0M71.3 10.2h0M40.4 1.2h0M59.9 17.9h0M66.7 8.1h0M61.6 26.0h0M75.0 26.4h0M72.5 13.7h0M63.3 11.9h0M69.5 29.5h0M77.1 18.0h0M56.9 8.0h0M72.4 49.9h0M79.6 44.6h0M73.1 18.1h0M66.6 18.9h0M83.3 18.3h0M77.1 19.6h0M68.4 23.6h0M64.1 10.9h0M55.6 3.6h0M52.0 5.8h0M50.7 3.4h0M65.1 16.6h0M54.0 2.5h0M71.0 48.8h0M65.2 7.8h0M61.1 35.7h0M64.8 23.7h0M78.2 26.8h0M79.5 32.5h0M50.6 9.6h0M47.5 0.8h0M80.3 24.5h0M50.1 0.1h0M66.2 15.2h0M53.1 19.4h0M46.5 4.0h0M62.0 4.4h0M58.4 6.2h0M76.6 8.5h0M79.3 32.0h0M59.4 23.2h0M57.8 10.6h0M70.0 33.2h0M61.0 11.9h0M62.8 2.3h0M65.6 10.8h0M69.7 16.7h0M65.4 18.3h0M71.2 49.5h0M42.2 2.6h0M81.4 26.8h0M70.5 3.2h0M75.3 30.2h0M71.3 18.4h0M67.8 23.2h0M72.3 29.5h0M62.7 2.2h0M65.6 23.8h0M76.9 22.6h0M65.9 6.6h0M51.9 6.1h0M62.8 19.1h0M49.0 6.7h0M60.6 15.3h0M73.1 67.0h0M66.3 14.3h0M69.8 27.8h0M57.1 2.4h0M66.3 57.8h0M53.3 8.2h0M59.4 14.5h0M75.1 22.0h0" stroke="#482878"/><path d="M39.3 38.2h0M59.2 53.9h0M27.9 35.3h0M29.8 15.3h0M51.6 60.9h0M51.5 46.4h0M51.8 65.8h0M51.2 70.5h0M59.1 72.7h0M47.8 32.5h0M51.9 45.5h0M28.3 9.7h0M41.1 32.7h0M34.4 39.1h0M38.2 19.0h0M40.3 35.4h0M32.9 23.6h0M51.9 46.8h0M56.1 59.2h0M41.2 47.2h0M54.2 63.9h0M46.1 36.5h0M48.6 72.7h0M30.3 15.4h0M50.9 47.0h0M43.9 36.3h0M53.4 31.9h0M51.0 42.7h0M50.4 64.9h0M41.3 41.1h0M34.9 14.2h0M55.1 55.8h0M33.2 17.0h0M54.6 51.3h0M47.3 65.7h0M54.6 47.5h0M35.9 33.1h0M48.1 39.2h0M44.9 50.5h0M34.4 22.7h0M39.7 33.9h0" stroke="#39558c"/><path d="M105.3 17.4h0M99.1 20.4h0M105.4 17.6h0M106.2 6.5h0M110.5 10.4h0M97.2 24.9h0M87.3 41.7h0M92.8 32.5h0M92.6 27.6h0M97.9 20.0h0M87.4 36.0h0M90.4 35.1h0M108.2 16.5h0M101.8 19.1h0M85.7 39.9h0M110.9 12.6h0M96.5 19.8h0M98.7 24.1h0M110.1 10.6h0M91.4 37.4h0M112.1 3.9h0M118.6 0.6h0" stroke="#48186a"/><path d="M51.7 61.6h0M42.0 45.8h0M35.5 38.7h0M38.1 33.9h0M52.1 52.7h0M33.9 32.6h0M40.0 55.7h0M41.6 39.0h0M39.5 51.7h0M30.7 26.9h0M47.3 55.7h0M37.8 44.8h0M40.8 54.7h0M38.9 32.5h0M33.9 25.7h0M30.3 23.5h0M37.4 55.8h0M43.6 28.2h0M52.5 45.5h0" stroke="#30698e"/><path d="M28.6 55.9h0M33.5 56.9h0M29.7 61.6h0M32.4 54.3h0M28.4 60.7h0M35.6 59.9h0" stroke="#f6e620"/><path d="M32.3 62.5h0M32.5 62.7h0" stroke="#56c667"/><path d="M58.0 54.3h0M57.6 43.5h0M55.5 33.6h0M34.2 13.7h0M43.7 30.4h0M51.6 36.8h0M35.3 26.3h0M29.2 1.6h0M34.5 15.0h0M50.3 46.8h0M48.2 38.2h0M55.3 65.9h0M57.0 42.1h0M34.7 16.6h0M52.4 60.3h0M54.1 59.3h0M29.2 14.4h0M49.8 34.9h0M50.4 34.7h0M51.4 48.5h0M46.4 44.8h0M33.8 14.0h0M56.1 52.4h0M35.5 12.7h0M57.0 54.9h0M60.0 58.9h0M49.4 41.0h0M61.0 46.1h0M37.5 38.5h0M54.1 41.1h0M40.8 24.7h0M56.8 43.6h0M46.8 37.5h0M52.6 37.6h0M59.3 51.4h0M43.4 17.2h0M32.0 21.6h0M54.2 66.2h0M47.9 48.8h0M33.0 10.6h0M47.4 59.9h0M47.1 44.8h0M48.7 35.9h0M50.2 38.1h0M58.1 43.1h0M36.7 35.0h0M35.4 6.6h0M28.1 21.0h0M41.3 19.7h0M48.4 26.4h0M39.6 22.0h0" stroke="#3f4788"/><path d="M31.4 44.4h0M28.0 41.8h0M36.8 51.4h0M38.7 61.3h0M28.9 24.4h0" stroke="#20938c"/><path d="M34.9 62.6h0M33.9 47.7h0M35.3 64.0h0M37.6 61.8h0M31.7 30.7h0" stroke="#21a585"/><path d="M36.4 31.2h0M39.3 36.9h0M32.7 30.1h0M30.9 43.1h0M39.6 44.7h0M37.4 55.3h0M34.4 34.7h0M45.9 51.9h0M45.4 68.0h0M32.0 30.0h0M46.2 57.7h0M36.0 32.5h0M41.2 53.9h0M47.5 66.5h0M44.2 62.6h0M47.5 67.7h0M40.1 38.9h0M32.7 47.8h0M41.0 65.6h0" stroke="#297b8e"/><path d="M31.1 52.7h0M28.9 49.1h0" stroke="#65cb5e"/><path d="M38.9 60.4h0M40.2 68.0h0" stroke="#1fa088"/><path d="M37.3 57.5h0M28.3 53.4h0" stroke="#a2da37"/><path d="M41.8 28.3h0M56.5 44.8h0M40.0 14.3h0M35.8 12.0h0M52.5 73.1h0M45.6 21.6h0M59.8 64.5h0M50.3 30.7h0M65.7 42.9h0M30.1 4.3h0M41.3 27.5h0M33.4 3.7h0M31.4 8.3h0M28.2 4.2h0M42.4 25.6h0M50.7 43.7h0M36.2 9.7h0M60.6 25.7h0M54.5 44.5h0M42.6 33.4h0M51.0 31.2h0M35.8 15.6h0M30.6 3.4h0M62.9 44.7h0M58.3 26.0h0M28.7 15.8h0M43.3 20.1h0M52.6 43.9h0M44.7 18.5h0M31.8 24.4h0M29.9 13.1h0M44.9 29.5h0M54.7 48.1h0M54.3 34.8h0M30.3 9.6h0M44.2 44.6h0M59.5 46.7h0M45.2 27.3h0M51.9 31.3h0M30.1 12.9h0M67.1 43.8h0M38.7 0.2h0M40.2 12.7h0M44.5 21.5h0M37.4 20.3h0M44.6 28.3h0M54.4 63.5h0M57.3 48.9h0M36.2 18.7h0M53.1 38.1h0M56.2 32.2h0M41.8 32.5h0M50.1 34.0h0M53.2 43.8h0M48.9 29.2h0M45.9 36.1h0" stroke="#424086"/><path d="M31.4 35.9h0M28.7 31.3h0M39.2 50.8h0M31.8 46.9h0M33.0 30.4h0M44.0 65.9h0M40.2 45.7h0M28.0 53.0h0M28.3 23.0h0M27.6 41.9h0M46.5 60.0h0" stroke="#228d8d"/><path d="M98.0 35.1h0M107.5 21.6h0M120.0 4.4h0M114.7 13.5h0M121.6 10.5h0M105.1 25.2h0M123.5 6.3h0M120.9 1.2h0M100.7 28.5h0M114.7 13.6h0M98.5 35.2h0M88.4 42.7h0" stroke="#470e61"/><path d="M30.0 56.4h0" stroke="#73d056"/><path d="M37.0 41.1h0M39.7 35.4h0M43.8 68.5h0M34.4 42.6h0M32.4 23.7h0M34.5 41.9h0M31.2 32.8h0M45.7 68.9h0M41.1 47.7h0" stroke="#24878e"/><path d="M31.0 43.0h0M31.5 48.8h0" stroke="#3fbc73"/><path d="M40.8 55.7h0M28.0 36.1h0M28.3 22.3h0M42.0 50.7h0M35.8 30.7h0M45.5 52.6h0M40.0 45.6h0M38.0 51.9h0M45.2 53.0h0M29.5 22.8h0M43.3 69.1h0M44.6 53.6h0M42.1 61.4h0M35.2 39.9h0M44.7 47.2h0" stroke="#2b758e"/><path d="M31.2 57.6h0M30.6 46.5h0" stroke="#4ac16d"/><path d="M37.9 34.1h0M43.8 55.7h0M30.9 40.4h0M39.0 57.7h0M35.2 39.1h0M39.2 48.7h0M40.1 65.1h0M44.8 58.2h0M35.2 39.9h0M30.3 34.4h0" stroke="#26828e"/><path d="M29.0 50.0h0" stroke="#93d741"/><path d="M72.3 36.3h0M54.0 23.1h0M39.8 5.1h0M61.7 16.0h0M38.2 11.3h0M52.9 15.5h0M48.6 14.1h0M60.1 33.2h0M62.9 47.1h0M70.9 57.8h0M63.2 39.5h0M65.7 29.7h0M67.8 18.4h0M38.0 2.9h0M53.6 15.0h0M66.6 26.8h0M53.8 22.7h0M43.6 6.8h0M67.4 42.5h0M57.1 23.0h0M52.7 28.0h0M70.7 38.6h0M39.1 15.3h0M61.2 72.0h0M54.5 31.7h0M65.2 37.6h0M62.7 24.3h0M67.1 32.0h0M45.0 6.7h0M59.9 41.3h0M60.6 20.5h0M61.7 33.8h0M59.2 28.5h0M42.7 10.2h0M56.4 33.2h0M47.7 16.1h0M47.5 15.9h0M54.8 15.4h0M52.7 24.0h0M59.7 22.3h0M62.2 24.4h0M52.3 8.7h0M37.8 8.5h0M65.8 44.5h0M63.7 44.7h0M57.1 16.2h0M51.9 19.6h0M69.2 31.1h0M55.0 19.9h0M36.1 8.2h0M64.2 32.9h0M63.1 24.9h0M57.8 20.5h0M75.2 38.1h0M44.9 4.7h0M59.2 23.6h0M68.1 56.2h0M46.4 24.0h0M65.3 30.6h0M45.2 16.8h0M70.2 46.6h0M74.4 40.6h0M70.5 27.3h0M64.7 25.7h0M66.7 28.5h0M52.1 34.4h0M58.3 16.7h0M58.9 15.9h0M60.8 19.1h0M74.7 30.5h0M56.1 21.0h0M37.3 2.4h0M51.6 27.9h0M74.5 19.4h0M59.6 25.2h0M43.3 24.8h0M48.0 17.3h0M50.4 5.9h0M55.6 17.3h0M52.7 27.3h0M55.4 19.8h0M42.2 6.7h0M42.1 4.6h0M64.4 45.2h0M46.4 12.1h0M58.3 20.2h0M55.3 71.1h0M69.6 55.3h0M66.8 44.8h0M40.1 7.1h0M37.6 3.3h0M73.8 31.9h0M55.6 2.3h0M51.2 18.2h0M70.1 64.3h0M73.7 40.9h0M66.7 59.7h0M55.8 12.6h0M37.7 5.6h0M35.7 8.3h0M48.8 16.2h0M45.5 13.3h0M67.3 49.9h0M42.6 14.0h0M59.3 10.6h0M59.8 34.9h0M63.6 31.6h0M43.5 18.3h0M51.0 20.9h0M58.3 21.7h0M72.2 28.6h0M56.2 18.0h0M68.9 53.7h0M43.7 4.3h0M57.5 33.4h0M64.8 57.8h0M49.3 26.8h0M50.8 20.6h0M66.8 32.6h0M71.8 45.9h0M68.9 29.3h0M53.2 16.6h0M63.7 38.4h0M57.9 12.7h0M67.0 40.5h0M45.6 14.0h0M39.0 13.0h0M60.4 23.3h0M63.9 44.5h0M35.1 3.3h0M67.9 43.1h0M70.0 61.5h0M33.4 12.1h0M61.1 23.5h0M56.0 14.3h0M64.1 33.1h0M46.9 22.2h0" stroke="#46307e"/><path d="M81.6 31.7h0M91.1 29.7h0M85.2 30.0h0M74.5 2.3h0M102.8 7.8h0M53.6 1.2h0M101.8 7.5h0M85.8 14.6h0M90.4 16.9h0M80.3 18.3h0M84.1 20.1h0M92.6 0.2h0M86.2 12.4h0M84.0 11.8h0M100.1 8.7h0M93.0 3.4h0M71.3 7.7h0M81.8 14.1h0M91.9 8.8h0M90.3 23.1h0M83.4 28.1h0M79.1 22.2h0M79.8 8.0h0M76.2 22.0h0M101.0 2.5h0M71.5 64.7h0M74.8 11.4h0M81.1 5.4h0M82.4 10.0h0M80.8 43.0h0M79.0 54.5h0M77.7 8.6h0M71.7 4.0h0M106.7 0.1h0M90.3 3.5h0M78.4 13.7h0M85.3 9.5h0M87.1 27.7h0M81.5 32.2h0M61.1 0.2h0M69.0 0.8h0M79.8 0.3h0M88.9 11.9h0M75.9 12.4h0M59.0 5.0h0M79.7 2.3h0M58.8 0.5h0M89.2 5.9h0M74.3 6.9h0M70.6 3.1h0M84.9 15.0h0M85.9 11.7h0M78.8 23.8h0M88.8 20.7h0M99.0 7.0h0M80.1 11.4h0M87.3 2.4h0M77.7 4.7h0M82.9 8.1h0M104.4 1.3h0M80.2 41.5h0M86.2 0.7h0M67.2 57.3h0M81.8 32.3h0M55.3 0.9h0M77.7 17.6h0M74.5 1.2h0M70.0 12.7h0M91.0 5.2h0M82.8 17.2h0M97.1 0.6h0M82.7 12.7h0M88.8 11.8h0M72.1 5.5h0M73.4 2.6h0M84.1 13.2h0M81.2 1.4h0M73.6 12.2h0M87.3 8.4h0M90.9 19.0h0M75.3 51.1h0M79.3 13.2h0M98.3 2.1h0M101.0 3.7h0M78.4 18.6h0M81.3 48.4h0M90.2 3.0h0M75.0 6.0h0M86.9 9.5h0M79.9 0.6h0M84.9 32.0h0M83.8 43.2h0M84.4 10.4h0M87.1 7.6h0M74.6 12.9h0M93.9 14.9h0M75.7 14.5h0M105.2 2.0h0M64.9 11.1h0M92.5 17.2h0M85.2 7.8h0M63.9 0.7h0M64.5 5.7h0M84.5 19.1h0M84.2 36.1h0M64.0 3.9h0M95.4 14.9h0M94.6 15.6h0M85.5 20.0h0M76.4 14.2h0M81.0 6.7h0M79.9 10.1h0M82.8 4.2h0M90.5 8.8h0M79.4 42.7h0M72.0 3.4h0M87.1 28.1h0M102.1 11.9h0M89.6 11.3h0M107.7 0.4h0M84.8 8.6h0M86.3 29.7h0M74.3 3.4h0M93.8 2.2h0M97.5 0.6h0M84.7 36.6h0M67.7 5.2h0M75.1 1.9h0M107.5 0.7h0M78.6 12.8h0M85.6 38.3h0M92.3 22.2h0M72.1 4.7h0M92.0 16.0h0M87.7 25.8h0M80.1 38.9h0M90.6 24.2h0M73.8 5.3h0M73.0 3.1h0M71.4 3.1h0M87.6 24.2h0M88.0 2.2h0M71.4 12.5h0M81.7 46.4h0M82.4 11.0h0M80.7 1.4h0M56.9 1.2h0M94.2 23.6h0M84.2 39.0h0M79.2 8.9h0" stroke="#482071"/><path d="M27.8 55.7h0M35.2 59.9h0M29.1 41.8h0M31.8 60.4h0M30.3 45.5h0" stroke="#2cb17e"/><path d="M29.8 49.9h0M31.2 53.8h0" stroke="#e7e419"/><path d="M44.0 70.8h0M49.3 39.1h0M50.0 71.1h0M55.1 42.3h0M46.9 58.5h0M47.5 48.6h0M53.1 46.7h0M56.3 56.8h0M58.3 40.9h0M43.9 37.9h0M50.3 66.9h0M47.3 37.6h0M46.0 55.7h0M50.2 46.6h0M42.2 35.7h0M35.2 17.7h0M33.3 18.9h0M50.9 59.7h0M30.8 29.5h0M44.8 62.8h0M35.4 23.1h0M48.9 68.6h0M56.5 67.3h0M52.8 59.1h0M34.7 29.3h0M37.6 20.4h0M33.6 32.1h0M55.8 54.3h0M55.2 63.6h0M52.5 59.8h0M29.3 13.1h0M34.3 26.0h0M46.7 42.9h0M30.0 18.4h0" stroke="#39558c"/><path d="M29.3 41.4h0M34.0 44.5h0M40.7 67.3h0M28.3 23.3h0M36.9 47.4h0M41.7 62.5h0M41.8 58.4h0M32.6 41.5h0" stroke="#24878e"/><path d="M43.5 67.1h0M46.2 53.7h0M41.9 44.6h0M41.2 69.2h0M30.9 27.2h0M36.0 63.2h0M34.6 52.9h0M42.9 46.7h0M31.5 43.1h0M35.6 48.4h0M32.5 48.6h0M32.1 39.4h0M39.5 36.0h0M31.8 34.6h0M41.5 68.1h0M31.8 37.1h0" stroke="#297b8e"/><path d="M36.1 25.0h0M45.2 33.2h0M42.7 40.0h0M45.2 31.4h0M47.0 57.2h0M49.0 65.9h0M51.7 52.7h0M36.2 13.6h0M36.3 31.4h0M32.7 19.8h0M45.1 32.4h0M54.1 67.9h0M48.3 30.5h0M28.8 13.1h0M54.6 23.4h0M54.6 68.7h0M62.1 69.2h0M43.8 30.5h0M40.2 17.7h0M56.8 58.2h0M30.1 9.2h0M39.9 12.9h0M36.8 23.5h0M40.4 19.1h0M43.6 36.0h0M29.2 3.9h0M48.8 74.5h0M30.9 23.3h0M39.5 25.9h0M49.9 62.2h0M52.3 59.3h0M40.2 24.3h0M56.5 59.4h0M38.4 28.6h0M51.7 67.8h0M27.8 9.5h0M47.8 48.3h0M51.3 69.6h0M28.9 7.7h0" stroke="#3d4e8a"/><path d="M29.9 39.7h0M31.7 54.6h0" stroke="#4ac16d"/><path d="M40.8 53.8h0M46.8 73.0h0M42.7 39.0h0M34.6 38.2h0M38.8 49.7h0M42.7 60.8h0M33.2 27.4h0M38.5 39.3h0M40.7 63.0h0M44.8 67.0h0M44.9 63.4h0M48.0 64.3h0M43.3 41.3h0M50.5 60.1h0M46.6 65.6h0M50.9 60.8h0M44.7 37.2h0M49.6 60.7h0M54.9 65.8h0M32.9 35.9h0M50.3 72.2h0M38.3 33.6h0M43.7 63.0h0M38.4 37.7h0M27.9 21.3h0M49.8 70.9h0M37.6 33.9h0M49.1 50.9h0" stroke="#30698e"/><path d="M27.8 45.2h0M36.3 64.1h0" stroke="#b5de2b"/><path d="M48.8 13.7h0M63.5 17.9h0M65.9 30.4h0M67.3 50.7h0M47.5 14.6h0M61.0 54.5h0M59.3 11.8h0M65.0 53.6h0M59.1 63.3h0M51.4 14.0h0M64.0 29.9h0M66.4 44.8h0M43.2 4.0h0M60.1 46.2h0M55.2 16.9h0M50.6 21.3h0M47.0 8.7h0M76.7 33.1h0M67.8 29.1h0M69.0 44.0h0M44.3 4.8h0M65.9 43.1h0M65.8 43.0h0M38.1 1.1h0M56.7 31.0h0M63.4 23.2h0M64.1 47.5h0M47.8 15.1h0M41.7 5.7h0M58.6 23.6h0M55.2 22.3h0M68.4 29.8h0M63.1 58.5h0M45.3 12.8h0M35.1 19.0h0M50.8 4.7h0M48.4 18.0h0M65.1 30.9h0M69.3 51.6h0M56.3 12.7h0M68.5 38.9h0M59.8 43.9h0M60.3 22.0h0M65.6 54.6h0M67.8 19.9h0M62.4 29.4h0M34.6 1.7h0M57.8 30.0h0M36.8 0.3h0M49.8 15.6h0M43.6 4.6h0M52.6 13.0h0M65.7 43.9h0M68.3 56.9h0M47.4 23.0h0M59.7 15.8h0M50.3 19.0h0M63.6 21.0h0M71.9 25.2h0M65.9 31.3h0M53.9 8.5h0M70.9 42.2h0M37.0 8.0h0M64.1 29.6h0M70.5 37.7h0M48.3 17.8h0M52.4 23.8h0M65.4 45.2h0M66.2 39.6h0M56.5 14.3h0M60.4 23.6h0M63.3 33.3h0M60.3 31.0h0M59.0 32.9h0M44.6 16.9h0M46.7 4.8h0M73.2 30.6h0M56.6 10.4h0M64.6 60.3h0M53.8 27.1h0M43.7 8.1h0M71.5 37.3h0M68.4 36.4h0M73.9 38.3h0M60.1 41.8h0M63.2 26.5h0M57.2 23.4h0M65.3 51.7h0M64.6 35.8h0M50.5 24.3h0M40.5 8.6h0M35.7 7.5h0M40.4 2.9h0M51.5 16.5h0M56.6 22.4h0M71.2 35.1h0M56.3 14.3h0M43.0 10.3h0M67.7 53.1h0M73.1 37.0h0M57.8 22.2h0M59.5 23.4h0M64.6 29.2h0M50.4 15.8h0M37.7 0.8h0M59.2 22.1h0M70.0 36.1h0M71.0 45.9h0M70.7 29.5h0M70.3 27.8h0M66.1 29.7h0M53.7 22.6h0M59.0 15.7h0M58.8 80.0h0" stroke="#46307e"/><path d="M37.6 64.7h0M28.9 56.9h0" stroke="#65cb5e"/><path d="M30.5 6.0h0M39.6 17.6h0M41.6 6.3h0M52.4 47.5h0M51.4 33.9h0M59.5 49.8h0M32.1 7.1h0M32.4 8.0h0M39.0 17.9h0M53.6 35.9h0M51.5 21.0h0M50.8 51.5h0M55.3 72.0h0M67.4 38.7h0M50.2 35.2h0M59.3 57.0h0M32.0 8.9h0M40.4 25.7h0M48.4 19.3h0M35.5 6.4h0M30.6 2.3h0M56.9 50.8h0M66.0 61.8h0M34.3 16.4h0M63.0 46.9h0M43.8 26.9h0M39.2 21.2h0M67.7 40.8h0M54.4 24.8h0M29.8 11.9h0M42.4 20.7h0M53.3 25.0h0M48.8 52.1h0M38.6 9.9h0M44.7 23.4h0M57.2 26.1h0M59.4 46.3h0M48.4 34.4h0M39.5 16.4h0M56.5 42.4h0M49.6 73.2h0M46.4 44.8h0M61.8 46.5h0M58.7 43.0h0M44.8 21.5h0M56.5 33.8h0M44.3 18.5h0M61.3 56.4h0M56.2 39.7h0M59.1 53.2h0M63.8 66.0h0M52.4 66.1h0M53.9 36.1h0M55.3 39.1h0M40.2 33.6h0M46.6 23.8h0M50.4 33.6h0M52.8 46.7h0M42.7 19.2h0M58.6 41.6h0M45.2 17.3h0M43.8 19.8h0M40.3 17.7h0M48.1 26.5h0M44.1 25.5h0" stroke="#424086"/><path d="M49.6 75.2h0M39.1 17.5h0M48.2 33.5h0M58.0 60.2h0M36.9 30.0h0M47.7 24.1h0M64.1 58.0h0M42.1 23.6h0M57.8 60.4h0M52.9 63.1h0M30.7 13.6h0M53.4 64.5h0M49.2 68.5h0M36.5 35.2h0M29.0 27.3h0M32.9 14.6h0M52.3 57.7h0M47.7 46.2h0M45.6 35.7h0M45.3 30.6h0M53.2 59.2h0M41.3 16.9h0M54.2 40.9h0M46.2 63.4h0M57.4 37.1h0M44.4 33.5h0M45.7 33.0h0M40.5 28.0h0M48.6 25.0h0M48.9 30.9h0M50.7 56.9h0M53.9 64.6h0M48.4 59.2h0M56.8 63.5h0M44.9 36.6h0M28.2 6.8h0M52.2 48.1h0M61.1 63.2h0M38.1 7.5h0M46.8 22.4h0" stroke="#3f4788"/><path d="M35.9 56.7h0M40.2 55.5h0M28.8 48.0h0M34.6 39.0h0M40.6 57.2h0M52.3 66.0h0M32.0 49.9h0M29.0 48.8h0" stroke="#20938c"/><path d="M29.4 25.8h0M48.2 66.9h0M35.9 48.2h0M40.1 55.0h0M41.8 61.0h0M42.9 58.7h0M31.4 22.0h0M36.8 37.5h0M37.6 43.2h0M30.2 32.1h0M41.5 55.9h0M31.8 53.7h0M39.9 64.9h0M48.0 52.4h0M52.6 61.0h0M37.9 48.4h0" stroke="#2b758e"/><path d="M29.6 48.7h0M37.3 65.5h0M33.1 49.7h0" stroke="#d8e219"/><path d="M43.3 69.3h0M37.6 60.8h0M37.2 55.7h0M37.6 60.3h0M31.5 59.5h0M39.2 57.5h0" stroke="#1fa088"/><path d="M29.7 43.7h0M36.9 56.9h0M31.4 58.1h0M37.1 63.5h0M31.2 34.3h0M40.1 54.8h0M31.2 43.3h0" stroke="#21a585"/><path d="M39.3 56.3h0M27.7 30.3h0M36.8 59.0h0M28.3 30.0h0M27.6 35.6h0M33.3 59.2h0M37.7 64.2h0M35.2 59.2h0M38.3 62.8h0M34.3 58.2h0M28.8 40.4h0" stroke="#1f998a"/><path d="M75.1 67.9h0M85.8 19.7h0M86.1 8.4h0M90.9 23.6h0M57.7 1.5h0M73.4 5.4h0M65.0 5.1h0M75.0 2.5h0M94.9 13.9h0M77.0 54.4h0M79.4 9.5h0M101.6 0.3h0M93.6 1.6h0M82.2 36.0h0M72.7 52.7h0M78.4 18.3h0M104.8 5.4h0M89.9 12.2h0M87.0 1.1h0M89.4 1.1h0M70.2 3.3h0M82.9 46.6h0M97.5 16.6h0M83.9 18.1h0M78.0 0.3h0M90.8 24.2h0M75.6 5.1h0M101.2 11.8h0M92.2 7.9h0M70.3 14.5h0M75.0 3.9h0M82.8 7.0h0M99.1 4.5h0M99.2 6.8h0M86.9 1.0h0M77.5 15.2h0M99.0 2.2h0M96.8 13.0h0M89.9 1.3h0M95.0 12.1h0M84.8 19.0h0M94.8 5.3h0M107.7 0.4h0M86.8 6.6h0M102.0 9.0h0M71.5 3.0h0M88.3 23.4h0M71.7 7.3h0M80.2 11.4h0M77.8 8.6h0M72.1 0.0h0M75.0 52.4h0M79.8 9.5h0M74.0 4.6h0M97.9 8.0h0M87.0 0.2h0M103.5 5.4h0M89.1 21.0h0M90.5 3.2h0M69.5 8.4h0M82.9 2.4h0M83.6 0.8h0M94.9 1.3h0M83.1 8.4h0M72.5 9.9h0M85.9 36.1h0M91.0 18.3h0M79.6 45.8h0M92.8 9.7h0M85.3 30.7h0M85.3 0.3h0M70.2 4.3h0M84.2 12.9h0M81.4 16.1h0M96.6 1.4h0M101.5 1.8h0M87.7 9.5h0M85.7 14.0h0M70.0 65.2h0M82.1 0.3h0M85.4 3.8h0M102.2 10.7h0M95.6 9.9h0M73.0 7.0h0M87.2 27.9h0M81.9 4.6h0M82.3 8.6h0M85.4 36.7h0M80.4 19.2h0M61.1 11.6h0M86.6 10.6h0M88.7 6.1h0M82.1 7.6h0M82.7 13.8h0M70.8 3.6h0M80.6 8.5h0M90.6 2.0h0M87.2 4.9h0M92.4 9.8h0M70.5 0.7h0M85.2 2.9h0M87.0 17.9h0M91.2 5.7h0M94.0 2.9h0M89.4 15.5h0M82.6 12.6h0M88.1 24.5h0M97.6 13.6h0M76.0 28.7h0M85.4 12.3h0M72.0 11.6h0M85.0 30.1h0M84.4 10.8h0M72.2 15.0h0M73.6 1.0h0M93.9 13.1h0M70.3 5.1h0M85.4 27.8h0M88.6 20.1h0M71.4 6.0h0M80.3 0.4h0M67.1 5.8h0M81.5 39.9h0M92.1 11.3h0M72.3 -0.0h0M72.5 20.8h0M83.0 18.8h0M79.7 5.8h0M88.8 4.1h0M69.3 0.5h0M83.4 10.4h0M89.5 6.5h0M85.2 8.7h0M98.3 7.2h0M78.8 15.0h0M79.3 8.4h0M76.5 22.1h0M87.0 30.2h0M76.6 4.0h0M97.0 6.6h0M88.0 14.0h0M70.1 7.0h0M74.4 17.5h0M78.7 42.1h0M77.6 9.9h0M87.6 22.6h0M88.3 6.6h0M81.1 13.5h0M87.2 34.5h0M98.9 6.3h0M83.7 7.6h0M77.3 24.2h0" stroke="#482071"/><path d="M35.7 60.3h0M34.7 59.8h0" stroke="#73d056"/><path d="M29.8 51.0h0M37.1 56.2h0M29.9 48.0h0" stroke="#25ab82"/><path d="M71.4 32.3h0M61.0 12.9h0M69.5 17.2h0M67.9 6.0h0M61.3 1.4h0M83.6 25.3h0M64.7 20.8h0M71.6 52.8h0M65.6 11.9h0M71.0 50.9h0M70.7 14.1h0M74.1 14.5h0M77.4 17.4h0M59.6 7.1h0M70.3 20.2h0M77.8 28.9h0M82.6 27.1h0M58.8 3.6h0M82.0 13.9h0M56.7 21.8h0M69.0 9.7h0M49.2 4.1h0M59.8 22.5h0M73.6 18.1h0M64.4 24.4h0M68.6 15.1h0M78.0 26.2h0M73.3 15.3h0M70.0 32.0h0M55.7 1.3h0M71.1 57.1h0M44.0 1.7h0M84.2 20.0h0M75.0 12.7h0M42.9 3.0h0M66.6 8.6h0M53.2 4.6h0M56.1 7.5h0M68.5 23.4h0M44.6 7.4h0M69.8 25.6h0M45.2 9.8h0M63.1 3.6h0M67.2 13.9h0M60.4 9.8h0M78.1 41.9h0M61.4 11.6h0M64.5 2.5h0M75.7 0.1h0M71.8 25.4h0M64.7 17.1h0M71.3 47.7h0M73.3 23.5h0M79.1 13.9h0M37.1 2.0h0M78.1 48.2h0M70.3 23.6h0M64.9 24.4h0M71.6 28.7h0M68.1 19.5h0M58.3 1.1h0M52.7 22.1h0M79.0 27.6h0M72.2 24.5h0M74.5 21.9h0M70.9 23.6h0M66.6 62.4h0M74.3 5.6h0M67.4 23.8h0M60.8 8.2h0M63.1 14.3h0M65.5 6.4h0M78.9 36.7h0M63.2 4.0h0M62.8 4.3h0M48.9 7.5h0M37.8 1.3h0M58.2 15.6h0M74.3 24.7h0M74.5 32.8h0M64.3 5.2h0M65.5 7.3h0M61.2 11.4h0M51.1 14.6h0M74.1 14.6h0M76.7 42.3h0M67.3 40.0h0M57.0 0.4h0M76.3 38.1h0M69.8 12.9h0M76.2 32.0h0M77.5 30.9h0M42.7 6.6h0M80.3 13.8h0M70.1 18.7h0M59.7 1.0h0M69.7 3.0h0M58.4 8.4h0M73.3 16.0h0M43.0 1.6h0M74.3 19.4h0M77.5 31.6h0M73.7 14.1h0M57.6 10.8h0M75.1 33.7h0M65.9 3.3h0M72.5 7.4h0M70.7 29.5h0M53.7 5.6h0M69.9 5.6h0M79.0 24.1h0M70.8 15.4h0M59.3 3.0h0M81.6 23.8h0M60.0 8.3h0M79.2 19.5h0M66.8 39.0h0M62.6 6.6h0M83.2 22.6h0M52.7 25.9h0M71.0 12.8h0M46.1 1.4h0M63.7 13.4h0M73.8 40.4h0M55.9 18.0h0M71.8 32.8h0M81.4 29.6h0M68.4 31.7h0M69.2 7.6h0M58.6 15.3h0M68.5 42.8h0M82.5 20.7h0M76.0 9.7h0M62.5 14.1h0M79.0 14.6h0M67.7 27.6h0M59.6 0.6h0M55.6 24.0h0M72.4 18.9h0M80.3 28.9h0M77.5 17.9h0M63.3 14.9h0M66.9 52.6h0M73.2 18.9h0M80.3 34.1h0M59.4 2.2h0M67.1 5.8h0M38.2 1.9h0M61.6 22.5h0M65.2 5.6h0M74.4 36.9h0M74.2 10.5h0M61.7 3.4h0M69.8 20.7h0M65.5 5.1h0M64.6 24.2h0M68.1 25.8h0M63.9 25.2h0M64.2 2.0h0M51.5 1.8h0M56.9 5.1h0M39.7 0.7h0M55.0 2.4h0M76.9 17.6h0M66.0 8.5h0M61.5 55.7h0M65.1 23.2h0M62.4 46.0h0M73.9 26.4h0" stroke="#482878"/><path d="M127.5 1.0h0M102.5 25.5h0M114.3 10.6h0M117.0 10.2h0" stroke="#470e61"/><path d="M31.0 41.7h0M30.3 39.4h0" stroke="#34b679"/><path d="M29.4 33.2h0M33.8 24.6h0M39.1 51.3h0M44.1 70.2h0M46.3 67.0h0M40.8 60.2h0M30.0 32.4h0M38.1 50.9h0M49.5 63.0h0M37.5 56.3h0M32.3 36.4h0" stroke="#26828e"/><path d="M52.4 30.0h0M36.4 2.9h0M51.3 26.6h0M34.8 23.1h0M67.7 34.8h0M42.8 6.0h0M67.1 47.0h0M32.8 4.0h0M54.4 16.7h0M48.8 32.8h0M47.2 25.2h0M58.1 37.1h0M30.0 1.6h0M35.3 6.5h0M63.4 55.1h0M57.6 22.5h0M59.4 31.6h0M33.3 0.9h0M66.2 42.4h0M34.7 11.7h0M72.8 37.2h0M29.1 2.4h0M60.0 29.1h0M66.0 36.6h0M47.4 9.5h0M61.6 46.2h0M65.8 34.8h0M60.4 29.2h0M72.5 48.3h0M67.4 54.8h0M56.1 77.3h0M56.1 33.3h0M34.9 6.6h0M66.6 47.8h0M55.7 33.6h0M55.6 39.6h0M33.5 1.1h0M50.3 20.8h0M70.2 39.5h0M42.3 12.2h0M43.5 8.0h0M52.5 35.2h0M56.1 36.5h0M59.3 29.6h0M44.6 19.6h0M49.4 19.6h0M61.7 54.3h0M31.0 1.4h0M54.6 33.5h0M52.2 15.8h0M52.9 36.4h0M58.7 25.7h0M44.5 30.5h0M58.9 26.4h0M30.0 4.6h0M55.5 32.1h0M53.2 29.6h0M63.1 38.4h0M47.6 21.3h0M55.2 74.5h0M63.2 52.8h0M43.4 4.7h0M39.7 9.8h0M46.8 28.2h0M45.2 17.6h0M28.2 1.4h0M55.5 36.7h0M41.3 3.2h0M56.6 20.6h0M66.4 56.8h0M58.6 30.8h0M53.2 16.3h0M63.8 46.3h0M33.1 12.9h0M60.9 58.6h0M31.9 22.0h0M55.4 46.4h0M53.1 54.2h0M75.0 40.4h0M57.6 17.4h0M65.0 43.9h0M55.3 34.1h0M53.4 32.0h0M57.9 39.9h0M58.2 45.8h0M50.8 29.5h0" stroke="#453882"/><path d="M27.8 53.4h0" stroke="#f6e620"/><path d="M41.3 64.0h0M29.9 36.6h0M32.2 39.6h0M40.4 54.6h0M45.3 71.5h0M35.9 61.4h0M34.6 26.8h0M32.3 47.8h0M52.6 52.8h0M46.7 48.3h0" stroke="#228d8d"/><path d="M113.2 0.2h0M89.7 47.0h0M100.6 24.0h0M96.2 31.6h0M98.5 21.2h0M107.8 11.8h0M94.3 31.6h0M84.3 50.3h0M106.2 17.3h0M107.8 3.3h0M98.7 26.1h0M96.2 30.1h0M97.3 34.2h0M86.4 41.2h0M106.8 14.2h0M102.1 15.5h0M98.5 22.2h0M112.8 7.6h0" stroke="#48186a"/><path d="M45.1 51.6h0M41.9 60.9h0M43.4 62.4h0M46.9 54.4h0M47.1 57.7h0M44.2 69.7h0M36.1 35.6h0M34.2 61.8h0M40.3 44.4h0M34.4 32.0h0M42.1 40.1h0M40.5 62.4h0M46.8 53.9h0M37.1 41.6h0M39.1 35.0h0M32.2 29.7h0M43.7 57.7h0" stroke="#2e6f8e"/><path d="M30.1 40.5h0M34.7 64.5h0M30.5 59.5h0M35.6 61.3h0M35.7 49.8h0" stroke="#3fbc73"/><path d="M28.6 58.1h0" stroke="#84d44b"/><path d="M46.6 71.7h0M41.7 48.0h0M47.1 30.7h0M47.1 49.5h0M51.8 72.8h0M38.6 56.4h0M28.6 8.8h0M47.2 70.4h0M38.9 31.1h0M34.1 29.6h0M53.7 71.0h0M44.7 67.1h0M49.5 52.1h0M44.0 33.1h0M40.6 59.3h0M44.7 59.2h0M31.4 30.0h0M44.0 71.0h0M50.1 50.9h0M40.1 30.3h0M35.0 31.9h0M42.6 29.6h0M41.1 39.5h0M35.4 28.5h0M49.8 40.8h0M39.0 27.9h0M33.4 28.9h0M57.7 39.8h0M42.8 59.0h0M36.6 23.2h0M46.4 50.6h0M45.3 55.2h0" stroke="#365c8d"/><path d="M48.8 61.0h0M47.7 61.4h0M40.3 38.5h0M41.7 35.7h0M50.7 75.3h0M42.5 42.2h0M29.8 18.1h0M33.0 24.1h0M36.1 35.1h0M41.8 45.9h0M33.7 28.3h0M44.8 49.5h0M40.1 51.2h0M36.7 50.6h0M34.5 33.4h0M48.0 56.6h0M38.3 26.3h0M44.2 63.5h0M52.3 63.5h0M46.7 52.7h0M40.3 40.7h0M45.3 31.3h0M49.1 70.1h0M53.2 57.1h0M42.7 38.0h0" stroke="#33638d"/><path d="M32.9 57.6h0" stroke="#93d741"/><path d="M30.6 43.8h0M33.4 56.0h0M35.0 45.8h0" stroke="#73d056"/><path d="M36.3 36.1h0M45.0 64.3h0M49.7 62.9h0M43.2 59.0h0M34.1 42.9h0M31.2 28.5h0M39.7 66.2h0M31.3 30.6h0M27.9 30.8h0" stroke="#228d8d"/><path d="M29.1 43.7h0M35.1 58.7h0" stroke="#65cb5e"/><path d="M43.4 59.7h0M57.8 63.6h0M47.0 39.6h0M46.4 66.4h0M40.5 27.3h0M40.1 36.6h0M46.3 38.3h0M50.7 36.6h0M41.3 24.5h0M47.2 34.9h0M28.5 6.0h0M33.4 21.1h0M45.6 37.7h0M50.8 66.5h0M34.3 35.2h0M41.0 27.7h0M39.5 26.8h0M53.4 56.3h0M40.9 29.2h0M42.7 58.8h0M51.3 56.6h0M33.9 29.6h0M29.9 16.1h0M47.9 51.3h0M43.9 38.9h0M42.2 20.8h0M53.5 48.5h0M44.0 31.4h0M38.1 33.5h0M58.9 39.3h0M50.5 44.3h0M53.0 54.1h0M53.9 44.7h0M51.1 39.2h0M53.7 56.0h0M58.8 49.0h0M30.1 2.5h0M52.3 71.6h0M59.6 48.6h0M57.5 52.7h0M47.0 54.6h0M41.8 28.9h0M41.2 32.0h0M32.1 17.0h0" stroke="#3d4e8a"/><path d="M62.9 8.3h0M84.4 21.7h0M61.8 73.0h0M57.7 9.7h0M54.8 19.0h0M77.7 31.0h0M72.6 22.8h0M70.7 9.5h0M67.9 12.7h0M69.2 21.5h0M77.9 28.7h0M74.6 48.7h0M71.5 27.5h0M61.3 11.8h0M55.7 16.9h0M74.7 25.2h0M60.8 17.5h0M65.5 9.5h0M55.6 20.7h0M65.7 21.7h0M61.0 5.6h0M59.9 73.7h0M79.0 23.8h0M66.8 11.7h0M62.6 17.5h0M67.6 10.6h0M83.0 21.9h0M67.0 23.4h0M77.1 24.9h0M71.0 3.9h0M67.9 0.0h0M70.3 40.8h0M83.2 39.6h0M74.1 61.7h0M70.3 14.7h0M77.1 18.2h0M75.1 22.7h0M52.2 0.1h0M54.6 13.2h0M79.7 26.1h0M77.0 8.5h0M67.3 33.2h0M64.2 17.4h0M74.4 34.7h0M82.3 32.4h0M70.6 22.7h0M72.2 16.8h0M65.8 15.6h0M77.8 21.3h0M68.8 19.5h0M72.3 35.0h0M81.8 22.4h0M57.8 4.6h0M75.4 51.0h0M71.0 7.9h0M65.9 11.1h0M83.2 28.2h0M68.9 5.6h0M53.7 0.6h0M74.8 24.8h0M62.6 7.5h0M67.3 20.1h0M72.4 27.6h0M60.6 4.8h0M56.8 7.6h0M60.5 11.6h0M71.8 17.4h0M52.6 9.3h0M71.1 36.5h0M74.6 23.4h0M47.1 1.8h0M76.1 25.2h0M72.6 18.7h0M74.8 14.4h0M71.6 14.7h0M62.2 5.4h0M81.1 40.8h0M65.7 19.5h0M73.6 26.6h0M56.8 10.9h0M70.0 8.8h0M50.7 5.3h0M63.7 17.5h0M74.7 34.0h0M71.3 54.9h0M69.6 12.5h0M78.3 49.4h0M64.3 23.8h0M75.2 19.9h0M64.6 12.5h0M60.0 8.4h0M73.8 44.4h0M52.3 2.8h0M63.1 27.9h0M66.3 10.1h0M58.1 8.2h0M57.4 16.2h0M66.5 16.1h0M73.5 25.8h0M63.4 19.1h0M75.2 24.0h0M57.4 8.8h0M61.0 15.4h0M69.3 8.3h0M74.3 38.1h0M59.9 8.5h0M48.6 2.4h0M72.9 46.7h0M69.6 3.5h0M61.2 35.4h0M65.9 22.5h0M58.0 1.0h0M48.6 6.7h0M75.3 19.9h0M59.5 12.7h0M59.0 4.2h0M78.3 20.9h0M58.0 1.2h0M58.0 24.0h0M71.9 39.3h0M49.0 0.0h0M58.0 16.8h0M62.2 19.9h0M73.2 40.0h0M68.9 16.7h0M53.5 6.7h0M54.3 4.6h0M53.7 16.0h0M68.7 34.5h0M63.5 28.0h0M59.4 18.4h0M77.7 20.9h0M60.0 7.9h0M58.6 5.3h0M56.9 16.7h0M69.4 16.4h0M72.5 33.9h0M81.7 12.4h0M62.1 13.9h0M67.4 2.4h0M70.8 22.7h0M78.7 37.5h0M68.0 19.4h0M68.2 54.9h0M68.0 16.5h0M70.2 20.8h0M76.0 24.9h0M48.9 6.7h0M69.7 11.2h0M63.0 70.0h0M59.1 6.7h0M75.6 14.6h0M56.1 12.5h0M60.1 30.8h0M72.9 13.2h0M64.0 16.4h0M54.5 10.1h0M73.2 14.3h0M60.6 13.0h0M54.9 17.9h0M81.2 45.0h0M70.0 22.5h0M81.0 22.9h0M59.7 12.1h0M72.2 26.4h0M64.7 4.4h0M80.8 19.2h0M65.1 13.9h0M61.7 4.8h0M58.4 3.0h0M59.3 21.9h0M73.1 23.1h0M53.2 12.1h0M55.7 3.6h0M59.1 17.3h0M54.3 18.3h0M53.5 9.0h0M52.7 3.2h0M79.3 36.0h0M72.5 53.5h0M87.0 23.4h0M40.4 0.2h0M61.0 11.4h0M69.3 29.3h0M59.6 9.2h0M66.0 2.9h0M75.7 24.7h0M58.2 11.0h0M58.1 7.7h0M72.5 59.1h0M79.3 29.2h0M75.3 30.2h0M69.1 13.0h0M48.4 0.7h0M73.6 23.7h0M71.7 16.2h0M72.8 24.1h0" stroke="#482878"/><path d="M68.6 27.5h0M60.3 67.4h0M48.9 25.6h0M66.0 35.0h0M69.5 34.2h0M44.5 5.6h0M61.9 67.7h0M40.7 3.4h0M61.6 52.0h0M47.7 11.2h0M70.1 30.1h0M68.2 53.4h0M66.6 35.2h0M51.9 13.3h0M60.6 13.8h0M43.3 16.4h0M57.4 43.1h0M53.5 11.1h0M58.3 41.3h0M70.3 27.3h0M51.2 20.5h0M67.4 55.4h0M69.8 31.6h0M47.4 21.5h0M67.7 31.2h0M63.2 30.3h0M37.2 4.4h0M53.9 5.2h0M62.7 36.3h0M46.3 6.7h0M53.8 27.2h0M54.8 19.0h0M49.3 16.0h0M66.4 34.5h0M71.2 38.3h0M48.1 13.8h0M53.0 28.0h0M37.2 4.6h0M69.5 29.3h0M64.7 33.0h0M61.7 39.3h0M56.0 32.3h0M60.7 37.6h0M49.6 9.3h0M63.9 41.4h0M49.0 11.6h0M37.8 7.7h0M62.0 15.8h0M48.6 11.1h0M68.0 30.6h0M62.3 39.5h0M48.5 20.3h0M57.7 23.9h0M70.3 42.6h0M39.6 10.5h0M52.9 10.4h0M51.5 19.3h0M49.7 23.2h0M67.4 44.5h0M71.9 48.5h0M57.1 27.3h0M59.9 34.5h0M50.0 15.1h0M70.1 16.1h0M70.3 53.2h0M32.5 2.5h0M57.6 31.8h0M53.8 26.6h0M46.9 6.1h0M51.7 31.0h0M64.0 27.7h0M49.0 12.6h0M63.1 20.2h0M53.6 21.8h0M44.4 13.8h0M47.0 5.9h0M72.2 47.6h0M47.6 20.1h0M33.2 1.6h0M73.6 35.9h0M52.0 31.7h0M52.2 26.0h0M48.9 10.3h0M34.6 4.0h0M57.4 32.0h0M70.6 40.6h0M42.8 4.0h0M52.9 14.9h0M44.5 12.0h0M62.9 33.6h0M46.8 10.9h0M63.9 45.4h0M52.0 27.4h0M68.4 22.0h0" stroke="#46307e"/><path d="M39.1 42.7h0M50.1 68.7h0M43.8 66.3h0M46.1 49.3h0M35.4 52.2h0M42.8 56.1h0M46.3 59.2h0M43.8 65.2h0M40.7 63.2h0M36.8 56.0h0M51.7 66.7h0M39.3 63.7h0M48.7 69.5h0M45.8 51.4h0M28.9 34.9h0M38.7 40.1h0M29.2 36.4h0" stroke="#297b8e"/><path d="M35.4 35.9h0M42.9 67.3h0M34.1 57.1h0M33.4 45.8h0M32.4 41.8h0M35.9 57.6h0M39.9 63.1h0" stroke="#24878e"/><path d="M34.7 9.4h0M70.4 48.8h0M43.2 3.4h0M53.9 21.6h0M56.8 46.8h0M32.6 17.6h0M42.0 16.8h0M53.4 26.8h0M60.7 54.8h0M56.9 58.7h0M42.1 9.2h0M30.8 30.9h0M47.3 13.3h0M50.9 30.0h0M33.3 5.5h0M56.7 32.0h0M35.6 7.4h0M50.2 28.9h0M50.8 45.2h0M53.6 69.4h0M43.7 30.7h0M58.1 76.5h0M44.0 13.8h0M54.1 37.4h0M49.4 23.4h0M42.7 20.5h0M37.0 10.3h0M52.2 35.6h0M55.5 42.4h0M60.8 61.0h0M54.7 62.8h0M31.3 0.1h0M29.5 13.9h0M49.1 35.0h0M36.2 8.4h0M45.6 25.1h0M32.3 11.2h0M33.6 4.8h0M46.5 31.6h0M35.7 7.7h0M28.4 8.6h0M49.2 30.3h0M45.5 41.5h0M31.6 4.2h0M32.1 9.3h0M46.1 24.8h0M50.9 14.2h0M62.3 50.0h0M54.9 30.6h0M59.6 36.1h0M62.0 53.7h0M34.1 7.2h0M58.0 49.2h0M64.4 60.3h0M28.8 4.8h0M33.9 7.9h0M62.4 46.4h0M38.5 4.1h0M58.6 30.8h0M57.3 47.1h0M35.4 18.8h0M57.4 38.3h0M40.1 14.4h0M49.0 16.2h0" stroke="#424086"/><path d="M33.0 29.2h0M38.3 59.2h0M48.3 73.6h0M45.2 54.9h0M33.9 28.3h0M38.8 28.2h0M45.6 50.4h0M51.2 72.9h0M46.3 51.7h0M49.5 42.6h0M54.9 57.4h0M49.5 67.4h0M61.2 70.2h0M41.0 44.9h0M40.4 49.8h0M45.0 47.5h0M42.3 41.3h0M42.2 56.8h0M34.6 27.7h0M42.7 41.9h0M45.3 67.4h0M42.5 59.3h0M49.0 70.9h0" stroke="#33638d"/><path d="M101.2 24.2h0M101.2 30.8h0M117.9 9.1h0M108.1 17.5h0M124.8 3.3h0M108.1 21.2h0M114.3 16.4h0M91.5 42.5h0M123.7 4.7h0M105.2 23.9h0M129.1 1.5h0" stroke="#470e61"/><path d="M38.5 47.8h0M44.5 69.1h0M43.5 51.2h0M29.2 42.9h0M33.6 31.3h0M42.7 48.8h0M49.3 59.7h0M52.6 57.3h0M41.2 46.2h0M34.6 49.1h0M44.2 54.2h0M47.7 54.5h0M35.5 40.2h0M34.4 23.9h0M45.1 67.8h0M31.4 19.2h0M34.8 20.8h0M40.2 51.6h0M39.9 47.3h0M42.6 55.6h0M47.3 63.0h0M45.4 53.6h0M43.1 58.2h0M48.8 53.1h0M38.7 40.8h0M31.3 22.6h0M50.5 65.0h0M30.8 26.6h0M41.2 57.4h0" stroke="#2e6f8e"/><path d="M88.0 5.8h0M82.4 42.5h0M70.6 13.6h0M95.2 13.4h0M83.0 8.2h0M80.4 34.9h0M76.6 0.9h0M72.5 7.2h0M70.9 3.5h0M62.7 4.3h0M66.4 9.3h0M87.7 9.6h0M94.6 10.4h0M68.2 3.7h0M79.2 30.7h0M73.2 13.3h0M93.5 2.1h0M74.8 8.4h0M72.4 0.9h0M87.3 20.6h0M86.9 19.0h0M104.0 2.4h0M84.5 3.6h0M61.1 0.7h0M84.3 18.8h0M86.0 21.8h0M58.5 6.1h0M83.9 17.1h0M81.2 1.9h0M84.8 11.5h0M87.4 6.6h0M74.9 9.0h0M76.8 50.3h0M88.7 4.7h0M67.2 5.2h0M76.8 13.0h0M75.2 13.1h0M79.6 15.9h0M67.3 3.7h0M87.3 13.1h0M74.9 49.4h0M98.0 4.6h0M96.4 10.3h0M75.7 23.1h0M71.1 2.4h0M79.3 8.9h0M75.9 18.3h0M81.0 18.6h0M92.1 10.8h0M88.7 15.7h0M81.0 7.3h0M77.4 5.4h0M88.5 11.2h0M74.7 10.7h0M94.8 2.9h0M99.1 7.6h0M85.5 8.5h0M75.6 5.4h0M87.5 14.4h0M74.8 9.1h0M85.2 8.3h0M66.0 10.0h0M97.4 17.8h0M103.8 3.0h0M89.3 23.6h0M69.0 11.2h0M95.5 0.6h0M82.7 13.6h0M94.1 8.4h0M91.5 30.7h0M88.4 17.9h0M85.5 21.9h0M101.2 8.0h0M70.7 1.0h0M80.2 45.4h0M96.2 18.2h0M78.4 18.2h0M73.1 57.1h0M79.4 14.0h0M87.3 11.7h0M88.0 8.9h0M89.0 14.9h0M89.3 14.0h0M100.6 6.5h0M73.7 16.1h0M98.9 4.0h0M88.0 9.0h0M91.5 6.7h0M75.5 25.0h0M79.0 14.9h0M98.6 3.7h0M79.8 42.2h0M77.1 21.3h0M95.5 17.6h0M85.4 6.9h0M82.8 38.8h0M94.6 8.4h0M95.5 14.4h0M98.0 11.3h0M73.4 10.3h0M86.5 9.8h0M89.1 5.2h0M79.4 0.1h0M75.5 0.2h0M73.5 0.5h0M87.7 6.6h0M78.3 4.4h0M75.3 20.1h0M73.4 4.8h0M95.1 1.2h0M82.0 15.0h0M66.3 10.5h0M80.5 1.0h0M83.0 51.6h0M78.3 4.6h0M79.4 2.9h0M83.6 0.5h0M81.3 34.6h0M79.1 2.2h0M94.1 11.6h0M78.7 0.2h0M79.5 44.1h0M78.8 5.9h0M68.4 5.1h0M88.2 24.6h0M79.7 1.5h0M77.5 9.8h0M83.8 22.3h0M60.5 0.9h0M99.5 4.6h0M73.6 1.0h0M105.5 7.0h0M76.1 4.4h0" stroke="#482071"/><path d="M27.8 50.7h0" stroke="#84d44b"/><path d="M51.9 66.6h0M35.8 25.7h0M46.9 72.7h0M29.4 15.1h0M42.5 54.2h0M38.7 32.8h0M43.6 59.2h0M32.5 41.3h0M48.8 69.7h0M50.0 59.5h0M53.1 46.8h0M40.5 17.4h0M30.0 18.4h0M48.1 67.7h0M54.8 60.1h0M33.6 32.8h0M48.2 44.6h0M44.0 54.6h0M48.3 52.0h0M58.2 39.1h0M48.5 54.4h0M32.7 38.5h0M33.0 30.5h0" stroke="#365c8d"/><path d="M39.8 61.4h0M28.2 34.4h0M34.2 58.5h0M36.4 54.4h0" stroke="#21a585"/><path d="M34.7 60.1h0" stroke="#1fa088"/><path d="M37.5 31.9h0M57.8 36.5h0M44.8 18.3h0M32.7 39.3h0M36.9 16.2h0M41.7 37.6h0M51.5 68.8h0M39.4 25.9h0M55.9 51.9h0M50.7 65.8h0M33.3 23.7h0M39.8 43.1h0M55.7 59.6h0M40.9 42.2h0M51.0 60.2h0M50.4 51.9h0M29.0 23.2h0M54.1 66.9h0M37.8 22.1h0M54.0 77.9h0M53.8 55.0h0M45.5 60.5h0M35.8 32.7h0M45.7 69.0h0M54.7 59.4h0M42.9 39.7h0M45.1 25.5h0M34.0 24.6h0M49.7 41.1h0M52.0 65.5h0M47.2 73.2h0M47.0 37.6h0M32.0 25.1h0M48.9 61.4h0M48.1 44.9h0M54.9 51.8h0" stroke="#39558c"/><path d="M39.3 60.7h0M33.1 55.3h0M40.0 62.2h0M38.2 46.3h0M31.9 40.2h0M50.0 70.5h0M48.0 29.7h0M45.8 64.2h0M35.6 37.9h0M40.3 51.9h0M29.0 37.7h0M34.9 53.8h0M34.3 43.9h0M37.7 49.3h0M41.4 65.1h0M40.0 61.3h0" stroke="#2b758e"/><path d="M34.2 40.0h0M28.7 33.2h0M28.6 35.2h0M36.3 41.0h0M39.5 61.7h0M40.5 54.9h0M41.5 53.2h0M44.4 61.1h0M40.5 57.6h0M39.1 51.4h0M46.7 44.7h0M45.0 55.9h0M44.0 67.4h0" stroke="#26828e"/><path d="M38.9 64.3h0M33.3 59.5h0M34.2 57.7h0M32.6 48.6h0M27.6 51.9h0" stroke="#4ac16d"/><path d="M29.9 60.9h0M27.6 41.2h0M28.1 57.1h0M31.1 59.3h0" stroke="#f6e620"/><path d="M29.7 41.0h0M40.5 68.6h0M35.3 51.2h0M29.9 41.4h0M31.9 35.4h0M33.5 52.0h0M40.9 47.5h0" stroke="#1f998a"/><path d="M35.7 17.0h0M46.2 25.5h0M52.1 53.1h0M43.4 30.9h0M60.8 36.6h0M36.6 14.2h0M39.5 18.3h0M31.8 1.8h0M45.9 28.1h0M48.8 57.4h0M53.9 61.6h0M42.2 28.6h0M43.0 22.9h0M50.1 47.9h0M64.7 53.7h0M38.1 22.6h0M42.4 33.1h0M42.9 16.3h0M41.1 16.4h0M43.4 13.5h0M30.5 15.3h0M53.9 43.2h0M55.7 47.8h0M56.8 51.1h0M63.2 53.2h0M46.6 49.4h0M47.4 38.9h0M51.8 36.5h0M58.9 47.4h0M53.5 75.1h0M46.5 41.0h0M39.2 9.3h0M60.0 61.8h0M34.3 19.0h0M38.8 18.3h0M39.3 31.9h0M50.9 34.6h0M37.2 20.1h0M59.6 54.1h0M44.0 23.1h0M35.9 19.0h0M46.2 48.9h0M34.5 12.2h0M42.2 30.8h0M33.3 19.3h0M49.3 35.2h0M58.5 48.5h0M52.2 48.0h0M29.2 18.4h0M38.8 23.3h0M57.4 60.8h0M35.2 18.5h0M55.3 57.0h0M42.0 28.4h0M49.4 51.5h0M56.6 56.3h0M48.3 38.6h0M40.7 15.8h0M55.0 51.3h0" stroke="#3f4788"/><path d="M58.3 32.7h0M41.8 23.1h0M51.9 40.5h0M56.2 12.3h0M59.8 49.9h0M52.7 9.4h0M43.5 13.6h0M61.0 49.1h0M56.0 35.4h0M52.2 25.7h0M42.3 11.2h0M39.4 1.4h0M47.2 13.1h0M43.8 2.2h0M48.2 11.5h0M60.6 57.6h0M48.9 24.1h0M62.9 60.9h0M42.5 15.1h0M46.6 31.4h0M67.3 49.4h0M36.3 12.5h0M50.9 20.3h0M49.7 13.3h0M44.6 11.6h0M51.9 30.2h0M48.4 21.0h0M34.1 6.5h0M45.8 7.0h0M44.1 27.9h0M59.4 37.6h0M49.7 27.3h0M58.9 18.2h0M50.4 9.7h0M31.9 10.0h0M56.1 68.1h0M62.4 39.9h0M49.1 20.1h0M42.2 17.2h0M49.2 47.6h0M45.0 9.0h0M40.0 1.2h0M57.5 16.2h0M60.4 29.1h0M47.6 12.2h0M39.2 14.9h0M59.4 71.9h0M62.4 53.9h0M33.4 1.3h0M56.3 26.9h0M61.2 50.4h0M51.5 33.2h0M54.9 23.1h0M65.8 36.5h0M41.8 16.3h0M38.5 13.4h0M68.3 55.8h0M44.0 26.8h0M37.3 8.6h0M59.4 27.1h0M31.8 4.4h0M56.6 21.0h0M48.2 22.5h0M53.7 36.4h0M55.6 34.3h0M51.1 37.5h0M58.5 33.9h0M48.1 65.4h0M51.4 25.9h0M66.0 44.5h0M43.7 15.4h0M51.7 33.1h0M56.0 57.0h0M57.1 32.3h0M55.7 33.1h0M69.7 39.2h0M62.7 55.0h0M67.4 50.8h0M69.9 44.1h0M64.6 36.9h0M49.5 16.4h0M56.0 39.6h0M44.4 26.5h0M60.6 40.1h0M36.4 8.3h0M51.8 28.7h0M35.4 9.6h0M39.7 20.1h0" stroke="#453882"/><path d="M35.3 58.0h0M32.8 57.7h0M37.6 65.0h0M31.9 46.7h0" stroke="#56c667"/><path d="M32.6 56.5h0M38.6 47.0h0M29.4 52.0h0M37.3 64.4h0M37.7 53.7h0M31.9 56.5h0" stroke="#20938c"/><path d="M32.3 57.2h0M42.8 58.8h0M33.0 56.6h0" stroke="#25ab82"/><path d="M28.7 44.0h0" stroke="#3fbc73"/><path d="M32.9 40.5h0M30.0 38.3h0" stroke="#34b679"/><path d="M105.4 10.8h0M97.8 34.7h0M87.5 41.5h0M100.6 15.1h0M111.5 0.7h0M106.4 10.4h0M81.0 55.6h0M105.9 11.2h0M103.4 20.8h0M109.8 13.8h0M91.8 33.2h0M101.7 16.9h0M97.1 29.7h0M106.5 11.1h0M111.5 0.1h0" stroke="#48186a"/><path d="M35.3 60.4h0M32.9 53.4h0M32.4 54.2h0M31.8 46.8h0M35.0 47.6h0" stroke="#2cb17e"/><path d="M32.8 47.9h0" stroke="#a2da37"/><path d="M53.3 65.6h0M34.2 41.4h0M47.9 52.3h0M45.7 45.2h0M30.7 25.6h0M40.9 44.8h0M45.2 65.2h0M47.6 64.0h0M38.8 29.7h0M31.6 20.5h0M42.9 55.0h0M46.1 72.0h0M35.2 39.4h0M44.5 66.9h0M42.1 55.6h0M28.7 17.5h0M43.2 32.2h0M32.6 51.2h0M37.9 24.9h0M47.6 71.3h0" stroke="#30698e"/><path d="M38.0 41.9h0M41.4 64.3h0M51.5 58.8h0M49.7 49.4h0M44.5 38.8h0M37.2 48.1h0M45.8 56.8h0M39.3 38.1h0M43.9 69.8h0M30.2 23.6h0M47.4 64.1h0M43.5 56.0h0M41.1 48.5h0M37.7 25.7h0M46.4 55.3h0M47.1 67.6h0M39.5 28.5h0" stroke="#2e6f8e"/><path d="M41.1 66.5h0" stroke="#65cb5e"/><path d="M28.2 53.4h0M33.8 58.1h0M28.2 37.5h0" stroke="#73d056"/><path d="M38.2 54.5h0M51.7 45.0h0M39.6 58.5h0M36.7 26.6h0M27.6 34.0h0M45.0 65.3h0M46.0 59.3h0M40.1 43.8h0M29.0 28.9h0M40.7 61.0h0M31.8 35.8h0M36.3 54.6h0" stroke="#228d8d"/><path d="M56.3 25.1h0M58.5 40.2h0M44.4 2.5h0M62.0 30.2h0M35.5 17.5h0M61.3 37.6h0M71.2 43.4h0M51.7 20.6h0M52.6 7.9h0M64.6 30.8h0M53.6 32.9h0M54.8 16.4h0M53.1 13.0h0M47.6 16.7h0M65.1 57.2h0M55.0 26.9h0M62.7 45.2h0M73.5 36.8h0M49.5 19.1h0M76.1 40.9h0M44.0 1.3h0M44.8 2.6h0M68.9 38.4h0M61.8 28.1h0M48.9 21.4h0M77.8 35.0h0M67.5 39.7h0M67.3 51.0h0M64.2 39.6h0M68.7 36.9h0M44.5 21.0h0M50.1 25.1h0M70.6 42.1h0M61.2 22.6h0M49.6 21.9h0M53.0 19.1h0M66.3 34.3h0M49.8 18.9h0M51.9 14.4h0M45.3 10.4h0M61.1 33.7h0M62.5 59.4h0M54.9 17.8h0M46.5 6.3h0M66.9 31.4h0M66.4 40.5h0M70.8 39.8h0M47.9 11.0h0M71.4 41.7h0M44.6 11.9h0M42.2 4.7h0M47.0 2.2h0M60.7 39.1h0M37.5 2.0h0M47.1 15.6h0M54.5 22.6h0M60.6 14.3h0M65.2 32.1h0M40.8 8.0h0M65.7 67.7h0M48.9 1.1h0M71.7 51.1h0M70.5 42.4h0M64.1 65.6h0M46.2 6.2h0M69.1 50.2h0M61.9 27.7h0M53.3 11.2h0M48.1 15.6h0M43.9 12.9h0M74.2 35.0h0M60.2 27.7h0M63.5 22.2h0M46.1 15.3h0M48.3 33.5h0M46.9 20.7h0M58.0 22.9h0M66.2 37.8h0M60.8 25.1h0M57.5 34.9h0M68.4 35.1h0M57.1 68.9h0M55.7 12.1h0M55.3 16.9h0M53.2 8.0h0M41.6 17.9h0M38.6 10.0h0M33.7 1.5h0M76.1 30.8h0M62.4 44.1h0M67.6 45.9h0M55.8 19.2h0M63.0 30.2h0M30.3 4.6h0M49.2 14.6h0M37.8 3.2h0M64.9 25.7h0M66.3 29.3h0M37.6 9.1h0M73.4 52.6h0M51.8 8.6h0M55.0 16.9h0M49.2 15.7h0M63.3 67.6h0M65.7 30.6h0M35.8 6.6h0M53.9 8.9h0M50.9 4.9h0M36.6 1.9h0M53.0 20.2h0" stroke="#46307e"/><path d="M40.4 66.5h0M36.4 32.4h0M42.8 61.6h0M38.3 42.7h0M46.0 53.4h0M51.9 68.7h0M27.8 38.6h0M33.6 37.2h0M36.2 38.8h0M42.9 58.4h0M34.2 27.3h0M39.1 49.1h0M32.2 26.0h0" stroke="#2b758e"/><path d="M112.0 14.3h0M105.0 19.3h0M117.1 6.9h0M113.3 11.0h0M103.1 25.2h0M93.8 36.2h0" stroke="#470e61"/><path d="M29.6 61.7h0M31.5 56.3h0M27.9 47.5h0" stroke="#c5e021"/><path d="M50.2 29.7h0M32.6 22.3h0M50.1 66.6h0M56.8 65.3h0M53.1 49.5h0M42.7 31.1h0M55.3 60.5h0M63.9 48.1h0M58.0 49.5h0M54.6 58.1h0M31.6 5.0h0M29.7 14.1h0M54.7 36.9h0M43.8 32.0h0M51.1 46.8h0M29.9 12.5h0M59.5 36.6h0M39.6 29.1h0M31.9 28.8h0M58.1 51.3h0M57.2 55.4h0M51.9 36.6h0M50.2 37.4h0M50.1 23.2h0M47.1 46.8h0M65.1 64.0h0M49.8 24.1h0M59.4 55.8h0M28.0 12.3h0M58.3 36.5h0M36.4 18.0h0M60.6 62.1h0M53.3 42.8h0M61.1 53.0h0M71.1 42.5h0M52.6 57.0h0M33.7 13.7h0M46.6 40.9h0M49.7 31.5h0M55.0 68.2h0M55.3 57.8h0M28.1 11.0h0M47.7 60.3h0M51.0 73.8h0M39.2 16.8h0M27.8 7.0h0M58.0 67.6h0M62.3 59.4h0M42.3 21.7h0M46.5 41.5h0M57.3 57.2h0M49.5 38.7h0M31.5 8.5h0M33.7 3.9h0M55.3 56.1h0M42.4 19.2h0M41.0 12.8h0M53.6 52.8h0M65.3 40.6h0" stroke="#3f4788"/><path d="M29.2 37.0h0M33.1 45.6h0M30.4 44.2h0" stroke="#1fa088"/><path d="M29.4 58.5h0M33.6 56.2h0M29.3 57.9h0M29.6 59.2h0M30.7 55.4h0M28.1 56.7h0" stroke="#f6e620"/><path d="M40.0 41.0h0M37.8 42.7h0M50.8 51.5h0M45.8 68.8h0M31.9 43.0h0M40.6 64.5h0M30.0 37.8h0M43.9 52.8h0M47.0 70.0h0M48.7 73.9h0M31.7 41.5h0M38.6 40.8h0M28.6 36.2h0M45.3 45.1h0M41.2 51.8h0" stroke="#26828e"/><path d="M29.7 45.8h0M28.9 60.3h0M28.3 48.9h0" stroke="#e7e419"/><path d="M29.2 16.0h0M48.3 62.4h0M37.1 41.2h0M40.4 38.6h0M53.1 66.0h0M29.4 36.2h0M48.8 53.2h0M33.2 25.9h0M46.3 42.7h0M40.1 48.7h0M36.6 20.6h0M38.7 33.0h0M37.2 43.9h0M28.9 25.1h0M41.8 34.7h0M51.7 57.6h0M36.5 29.4h0M57.6 55.5h0M44.6 35.2h0M39.1 31.2h0M50.2 65.2h0M30.0 17.8h0M38.8 26.1h0M41.3 57.6h0M42.1 45.4h0M36.2 60.1h0M48.8 45.9h0M36.9 45.9h0M47.3 45.1h0M48.0 66.0h0M50.3 75.7h0M39.7 39.8h0M50.7 69.3h0M48.7 70.5h0" stroke="#33638d"/><path d="M34.7 38.9h0M36.1 47.6h0M33.1 53.1h0M37.0 63.2h0" stroke="#56c667"/><path d="M105.9 1.6h0M80.6 25.9h0M82.1 9.9h0M73.8 29.7h0M76.2 17.0h0M70.6 9.7h0M79.7 0.3h0M64.7 6.4h0M65.9 67.9h0M66.8 4.7h0M81.6 6.6h0M73.2 1.8h0M85.8 33.2h0M84.4 16.9h0M86.1 5.2h0M71.0 0.0h0M85.2 15.3h0M89.0 0.6h0M82.1 42.5h0M79.8 5.5h0M85.9 24.8h0M80.3 18.2h0M86.5 14.1h0M85.6 25.7h0M74.4 54.6h0M83.2 17.3h0M69.9 9.6h0M102.5 2.0h0M80.8 5.6h0M85.6 27.2h0M88.7 16.3h0M87.5 7.5h0M85.4 19.6h0M98.5 15.7h0M89.9 2.6h0M91.0 21.5h0M90.7 11.4h0M81.9 12.1h0M82.4 40.0h0M67.1 10.6h0M71.7 0.5h0M77.2 16.4h0M83.7 2.9h0M71.2 4.2h0M65.6 9.8h0M83.9 6.4h0M85.8 14.4h0M90.6 12.1h0M84.4 12.2h0M98.3 1.0h0M86.2 6.0h0M79.7 10.8h0M93.2 11.1h0M79.7 13.5h0M75.5 12.0h0M88.0 6.7h0M82.3 4.2h0M89.3 5.2h0M79.7 12.2h0M76.1 8.4h0M75.0 22.5h0M92.1 14.5h0M100.4 8.1h0M80.7 9.3h0M91.8 9.5h0M95.8 3.1h0M78.4 1.5h0M93.5 14.0h0M94.3 17.0h0M68.8 9.4h0M89.3 5.6h0M86.8 34.9h0M71.0 7.4h0M94.1 0.3h0M72.8 2.2h0M62.1 3.7h0M100.1 10.1h0M84.7 3.3h0M89.0 22.1h0M83.2 15.6h0M81.3 43.6h0M89.4 11.1h0M100.9 9.4h0M98.5 14.6h0M67.5 3.6h0M101.5 7.5h0M87.5 26.5h0M55.8 1.3h0M84.1 14.5h0M84.6 14.8h0M69.9 0.3h0M75.7 6.7h0M77.4 24.0h0M101.6 4.5h0M81.3 25.0h0M85.3 17.2h0M70.3 12.2h0M77.7 7.1h0M88.1 12.0h0M84.7 0.5h0M81.6 14.9h0M64.3 0.7h0M92.3 5.7h0M79.1 18.6h0M66.1 3.7h0M70.9 5.0h0M89.0 4.5h0M98.4 4.5h0M76.9 18.1h0M78.4 11.0h0M95.5 1.3h0M70.9 0.5h0M97.2 7.3h0M81.7 43.7h0M96.5 12.6h0M79.9 15.4h0M79.0 2.6h0M79.2 9.6h0M98.5 0.0h0M75.2 58.0h0M84.7 37.3h0M63.5 1.4h0M73.1 55.3h0M81.6 2.0h0M88.5 2.9h0M91.9 7.4h0M72.0 4.7h0" stroke="#482071"/><path d="M31.3 60.4h0M29.8 36.5h0M27.7 40.9h0M27.8 43.4h0M34.8 61.6h0M39.2 50.2h0M35.3 65.0h0" stroke="#25ab82"/><path d="M37.6 16.2h0M62.5 39.1h0M46.1 23.2h0M36.2 5.7h0M48.6 29.8h0M60.9 71.4h0M42.1 27.4h0M63.1 36.3h0M62.5 56.1h0M50.1 19.8h0M63.3 40.8h0M51.7 76.3h0M48.3 33.7h0M37.2 12.3h0M58.8 36.4h0M56.2 74.3h0M56.0 24.9h0M55.2 37.8h0M47.6 22.6h0M49.2 26.7h0M42.0 8.1h0M51.9 32.6h0M37.8 11.1h0M41.6 15.4h0M66.7 40.9h0M56.1 38.3h0M51.8 22.1h0M54.1 23.8h0M42.8 16.8h0M37.9 4.2h0M52.8 29.5h0M46.7 13.0h0M66.7 38.2h0M41.1 16.1h0M46.2 11.4h0M66.1 46.6h0M52.9 20.5h0M31.4 1.9h0M56.7 29.9h0M62.6 53.0h0M55.6 39.5h0M40.3 12.7h0M69.1 43.5h0M61.2 51.5h0M38.1 15.4h0M63.4 53.2h0M67.0 56.7h0M37.5 10.4h0M50.1 25.8h0M40.3 7.8h0M52.2 29.3h0M41.6 20.8h0M37.5 9.6h0M49.9 11.2h0M61.5 40.2h0M65.0 47.3h0M40.8 6.2h0M69.8 49.3h0M62.9 47.8h0M57.4 76.1h0M61.8 35.4h0M38.0 23.2h0M34.3 2.7h0M29.7 3.4h0M39.4 0.1h0M37.8 12.0h0M53.8 39.3h0M48.2 25.4h0M61.0 41.5h0M68.4 44.1h0M62.3 49.0h0M42.2 14.0h0M52.1 29.3h0M63.8 35.5h0M64.0 56.0h0M46.4 17.7h0M50.3 20.9h0M47.1 13.3h0M54.0 15.1h0M60.9 32.5h0M47.4 35.1h0M43.5 7.6h0M58.7 37.5h0M63.9 51.3h0M34.3 11.3h0M38.7 10.8h0M53.6 69.0h0M49.9 16.9h0M55.8 20.7h0M39.7 1.0h0" stroke="#453882"/><path d="M54.9 63.3h0M42.2 44.3h0M53.0 52.8h0M49.3 71.4h0M33.7 28.2h0M53.3 59.9h0M41.7 37.5h0M44.4 40.0h0M40.6 37.9h0M39.5 33.5h0M33.8 21.3h0M34.7 31.4h0M53.1 52.1h0M35.3 29.2h0M47.1 45.5h0M36.6 31.1h0M51.5 46.2h0M34.9 40.5h0M51.0 55.1h0M57.1 80.6h0M27.7 13.4h0M38.3 37.5h0M41.0 53.0h0M36.2 39.1h0M49.9 50.9h0M35.9 31.4h0M46.6 54.5h0M50.0 64.4h0M32.1 22.2h0M40.1 40.1h0M48.3 47.1h0M43.7 59.2h0" stroke="#365c8d"/><path d="M32.1 19.5h0M50.5 62.9h0M53.5 49.8h0M51.2 37.6h0M42.7 46.4h0M43.7 38.8h0M59.0 47.6h0M29.8 17.7h0M30.7 19.1h0M52.7 70.3h0M52.0 56.0h0M30.9 13.0h0M52.2 76.8h0M48.6 44.5h0M49.9 59.9h0M31.0 13.7h0M54.6 71.4h0M48.9 54.0h0M52.7 45.0h0M31.4 12.9h0M48.2 71.2h0M50.5 75.9h0M57.6 64.7h0M57.7 58.2h0M29.0 22.0h0M56.0 41.6h0M44.6 39.6h0M41.6 29.7h0M39.4 29.5h0M45.1 39.6h0M52.5 70.1h0" stroke="#39558c"/><path d="M34.0 36.2h0M27.7 41.5h0M37.7 58.3h0" stroke="#3fbc73"/><path d="M31.2 30.2h0" stroke="#2cb17e"/><path d="M31.3 39.4h0M40.4 51.9h0M43.2 65.4h0M37.9 42.7h0M36.5 45.2h0M32.0 33.0h0" stroke="#20938c"/><path d="M28.0 44.9h0M36.0 61.5h0M31.5 56.4h0M31.1 48.1h0" stroke="#93d741"/><path d="M65.8 32.5h0M58.3 13.4h0M57.8 0.4h0M79.2 25.5h0M49.3 3.6h0M64.9 14.4h0M69.6 15.8h0M57.3 14.7h0M74.0 29.1h0M63.0 3.0h0M64.0 1.6h0M69.4 12.5h0M59.0 22.5h0M60.7 3.6h0M76.3 19.9h0M48.3 13.2h0M65.7 33.7h0M54.4 20.2h0M72.4 23.0h0M74.9 26.3h0M63.8 25.7h0M64.2 27.3h0M72.8 22.4h0M71.7 43.3h0M80.3 26.0h0M56.6 10.1h0M67.5 21.3h0M71.7 4.1h0M57.5 9.5h0M80.8 32.5h0M64.1 29.7h0M50.7 6.9h0M74.0 13.1h0M50.2 0.3h0M50.7 8.6h0M66.6 30.3h0M66.5 38.7h0M65.8 11.7h0M74.7 24.6h0M61.4 3.9h0M67.4 21.1h0M71.2 24.4h0M60.2 10.0h0M63.5 9.9h0M51.3 7.3h0M58.8 7.1h0M62.7 1.7h0M62.9 35.4h0M83.8 18.9h0M68.4 26.4h0M66.8 24.5h0M75.3 41.6h0M65.0 14.2h0M68.5 20.5h0M75.1 48.7h0M74.3 13.9h0M79.9 20.6h0M59.0 14.0h0M74.4 19.8h0M83.6 25.3h0M73.5 15.4h0M67.2 21.5h0M62.9 6.4h0M64.7 28.1h0M62.6 6.4h0M73.9 24.2h0M67.4 7.5h0M75.4 16.7h0M51.7 3.3h0M46.6 7.8h0M51.4 16.1h0M68.2 13.9h0M83.1 25.4h0M68.9 32.2h0M75.1 17.8h0M74.3 23.6h0M70.6 28.2h0M66.8 9.2h0M68.1 21.7h0M60.0 8.4h0M59.0 9.7h0M55.6 19.2h0M56.7 1.0h0M67.6 23.6h0M76.7 20.5h0M67.6 13.0h0M73.2 9.1h0M68.4 22.8h0M62.1 13.9h0M61.0 5.0h0M76.8 39.3h0M75.9 19.0h0M56.8 14.5h0M65.8 13.1h0M49.4 4.3h0M60.0 8.8h0M56.8 4.2h0M72.0 32.5h0M74.9 8.2h0M56.1 4.3h0M66.3 17.6h0M78.9 16.7h0M71.2 29.1h0M79.0 15.2h0M60.7 16.4h0M69.4 17.0h0M67.1 19.3h0M74.5 13.7h0M54.3 2.9h0M72.1 16.2h0M45.7 2.6h0M64.3 15.1h0M63.2 9.1h0M73.7 9.4h0M66.0 12.3h0M75.4 36.8h0M55.7 15.6h0M75.9 9.9h0M66.2 6.4h0M65.1 65.3h0M73.3 21.2h0M74.6 22.3h0M69.5 37.1h0M66.5 30.2h0M71.5 62.8h0M57.5 15.4h0M53.9 1.7h0M65.1 9.8h0M60.6 22.7h0M64.0 19.5h0M77.5 36.6h0M66.4 14.0h0M64.8 12.9h0M55.1 23.7h0M74.0 22.3h0M82.6 26.9h0M78.0 43.3h0M68.6 7.6h0M61.5 18.7h0M53.9 13.8h0M65.0 4.4h0M56.9 1.6h0M61.0 26.7h0M60.7 26.4h0M59.5 14.5h0M55.6 1.9h0M65.1 31.3h0M79.6 33.2h0M69.5 15.0h0M72.9 17.3h0M57.1 13.8h0M85.7 24.8h0M65.3 20.5h0M70.2 17.5h0M65.7 24.0h0M70.5 36.1h0M76.5 28.2h0M74.3 20.9h0M69.1 15.5h0M71.8 12.6h0M74.7 14.4h0M61.7 13.5h0M52.3 14.4h0M60.8 29.5h0M69.7 22.2h0M58.8 5.1h0M78.7 21.4h0M62.8 7.9h0M50.0 10.1h0M68.2 16.7h0M69.6 14.3h0" stroke="#482878"/><path d="M32.1 17.5h0M31.6 37.2h0M42.3 41.1h0M34.0 47.7h0" stroke="#297b8e"/><path d="M40.4 19.4h0M35.3 15.4h0M58.4 66.6h0M59.2 39.9h0M46.9 44.4h0M58.1 51.1h0M66.4 39.0h0M43.8 15.2h0M54.8 68.0h0M50.4 66.3h0M48.3 54.1h0M34.4 6.5h0M30.1 7.3h0M57.2 62.8h0M52.7 27.3h0M47.4 16.7h0M42.2 32.5h0M32.9 7.8h0M67.2 37.0h0M58.7 42.6h0M56.4 70.0h0M50.8 35.4h0M56.8 50.7h0M54.8 41.5h0M63.2 50.6h0M55.2 33.0h0M58.6 34.8h0M54.5 28.9h0M58.1 36.5h0M47.3 12.7h0M30.4 3.3h0M52.8 45.6h0M53.2 67.2h0M32.6 20.5h0M35.0 11.4h0M48.3 26.1h0M64.6 46.7h0M55.7 29.8h0M46.4 17.9h0M53.6 48.3h0M48.8 35.5h0M53.2 14.2h0M56.3 50.1h0M55.8 43.2h0M44.2 41.8h0M35.4 21.5h0M62.9 51.1h0M35.5 18.6h0M38.4 15.2h0M39.6 6.8h0M45.6 35.6h0M36.4 7.2h0M60.0 47.5h0M41.4 10.3h0M43.5 20.5h0M51.1 59.1h0M63.7 51.8h0M52.7 64.9h0M29.4 5.2h0M34.4 5.9h0M35.1 9.2h0M56.6 27.1h0M57.6 46.6h0M54.3 39.6h0M60.5 54.5h0M37.2 11.8h0M48.3 21.4h0M68.4 40.9h0M58.0 34.9h0M50.1 24.1h0M41.1 24.8h0" stroke="#424086"/><path d="M43.0 39.2h0M51.4 60.3h0M50.9 54.7h0M29.2 25.1h0M44.6 59.2h0M38.5 39.0h0M55.7 58.6h0M42.8 42.3h0M38.3 44.9h0M34.9 35.1h0M49.5 58.4h0M44.5 70.8h0M39.1 57.1h0M32.6 38.8h0M42.2 46.1h0M40.1 37.4h0M46.5 67.2h0M43.9 44.3h0M40.3 50.4h0" stroke="#30698e"/><path d="M28.3 59.0h0" stroke="#d8e219"/><path d="M27.8 46.3h0" stroke="#4ac16d"/><path d="M102.1 20.1h0M118.4 0.4h0M92.4 34.9h0M93.1 27.4h0M114.9 1.4h0M100.4 30.8h0M114.6 2.4h0M105.3 17.9h0M94.8 35.4h0M98.3 26.5h0M108.8 13.7h0M106.0 6.8h0M89.8 39.0h0M95.2 25.3h0M95.4 35.6h0M116.8 2.3h0M76.7 60.7h0M87.7 45.6h0M98.2 28.8h0" stroke="#48186a"/><path d="M32.5 42.0h0M32.5 58.1h0M35.7 60.2h0M29.5 48.3h0M44.3 54.7h0M32.9 43.5h0M34.7 56.6h0M42.6 67.0h0" stroke="#1f998a"/><path d="M48.9 49.6h0M58.2 62.1h0M54.6 43.2h0M43.0 14.8h0M43.8 35.7h0M41.2 38.2h0M28.1 16.7h0M47.3 31.4h0M39.9 20.1h0M36.7 13.1h0M45.6 33.0h0M53.8 58.6h0M32.8 10.9h0M47.7 47.2h0M54.8 52.7h0M48.6 56.2h0M48.1 40.7h0M29.1 28.3h0M53.7 59.3h0M50.9 66.4h0M50.6 48.8h0M43.4 32.8h0M28.0 7.2h0M36.5 16.4h0M46.5 34.1h0M43.4 70.1h0M44.1 42.0h0M41.0 42.3h0M50.5 39.2h0M57.6 63.3h0M42.1 34.0h0M57.3 51.2h0M50.0 53.1h0M51.9 42.9h0M46.3 57.1h0M32.7 8.6h0M47.4 45.3h0M27.6 12.8h0M28.9 13.4h0M33.4 11.6h0M56.9 48.2h0M55.5 58.6h0M42.4 45.4h0M41.7 32.1h0M43.5 35.5h0M53.5 52.4h0M50.6 50.8h0M40.7 46.6h0M51.3 57.4h0M48.4 38.1h0" stroke="#3d4e8a"/><path d="M30.2 30.6h0M37.6 58.9h0M31.7 40.8h0M37.7 66.1h0M32.8 46.0h0M38.2 53.4h0M33.9 62.3h0M32.8 57.7h0" stroke="#21a585"/><path d="M36.3 37.8h0M31.5 34.6h0M30.3 31.6h0M35.1 48.9h0M37.1 50.5h0" stroke="#24878e"/></g>
<polygon clip-path="url(#clipa)" fill="#ff7591" points="27.6,60.9 31.0,62.7 34.4,64.8 37.8,66.9 41.2,69.2 44.6,71.6 48.0,74.0 51.4,76.6 54.8,79.3 58.3,82.0 61.7,84.8 65.1,87.6 68.5,90.5 71.9,93.5 75.3,96.5 78.7,99.5 82.1,102.6 85.5,105.7 88.9,108.8 92.3,112.0 95.7,115.3 99.1,118.5 102.5,121.8 105.9,125.1 109.3,128.4 112.8,131.8 116.2,135.1 119.6,138.6 123.0,142.0 126.4,145.5 129.8,148.9 133.2,152.5 136.6,156.0 140.0,159.6 143.4,163.2 146.8,166.8 150.2,170.5 153.6,174.2 157.0,178.0 160.4,181.8 56.5,234.2 27.6,234.2"/>
<polygon clip-path="url(#clipa)" fill="#92d4b0" points="56.5,234.2 74.9,223.9 165.0,178.8 258.6,131.5 258.6,234.2"/>
<path d="M27.60 234.20v-3.60M27.60 234.20h3.60M33.37 234.20v-1.70M27.60 228.38h1.70M39.15 234.20v-1.70M27.60 222.56h1.70M44.92 234.20v-1.70M27.60 216.74h1.70M50.70 234.20v-1.70M27.60 210.92h1.70M56.47 234.20v-3.60M27.60 205.10h3.60M62.24 234.20v-1.70M27.60 199.28h1.70M68.02 234.20v-1.70M27.60 193.46h1.70M73.79 234.20v-1.70M27.60 187.64h1.70M79.57 234.20v-1.70M27.60 181.82h1.70M85.34 234.20v-3.60M27.60 176.00h3.60M91.11 234.20v-1.70M27.60 170.18h1.70M96.89 234.20v-1.70M27.60 164.36h1.70M102.66 234.20v-1.70M27.60 158.54h1.70M108.44 234.20v-1.70M27.60 152.72h1.70M114.21 234.20v-3.60M27.60 146.90h3.60M119.98 234.20v-1.70M27.60 141.08h1.70M125.76 234.20v-1.70M27.60 135.26h1.70M131.53 234.20v-1.70M27.60 129.44h1.70M137.31 234.20v-1.70M27.60 123.62h1.70M143.08 234.20v-3.60M27.60 117.80h3.60M148.85 234.20v-1.70M27.60 111.98h1.70M154.63 234.20v-1.70M27.60 106.16h1.70M160.40 234.20v-1.70M27.60 100.34h1.70M166.18 234.20v-1.70M27.60 94.52h1.70M171.95 234.20v-3.60M27.60 88.70h3.60M177.72 234.20v-1.70M27.60 82.88h1.70M183.50 234.20v-1.70M27.60 77.06h1.70M189.27 234.20v-1.70M27.60 71.24h1.70M195.05 234.20v-1.70M27.60 65.42h1.70M200.82 234.20v-3.60M27.60 59.60h3.60M206.59 234.20v-1.70M27.60 53.78h1.70M212.37 234.20v-1.70M27.60 47.96h1.70M218.14 234.20v-1.70M27.60 42.14h1.70M223.92 234.20v-1.70M27.60 36.32h1.70M229.69 234.20v-3.60M27.60 30.50h3.60M235.46 234.20v-1.70M27.60 24.68h1.70M241.24 234.20v-1.70M27.60 18.86h1.70M247.01 234.20v-1.70M27.60 13.04h1.70M252.79 234.20v-1.70M27.60 7.22h1.70" stroke="#000" stroke-width="0.6" fill="none"/>
<path d="M27.60 0.50V234.20" stroke="#000" stroke-width="0.35" fill="none"/>
<path d="M27.60 234.20H257.90" stroke="#000" stroke-width="0.6" fill="none"/>
<path d="M257.90 0.50V234.20" stroke="#000" stroke-width="0.45" fill="none"/>
<path d="M27.60 0.30H257.90" stroke="#666" stroke-width="1.2" fill="none"/>
<text x="27.60" y="244.80" text-anchor="middle">10</text>
<text x="25.00" y="237.90" text-anchor="end">10</text>
<text x="56.47" y="244.80" text-anchor="middle">20</text>
<text x="25.00" y="208.80" text-anchor="end">20</text>
<text x="85.34" y="244.80" text-anchor="middle">30</text>
<text x="25.00" y="179.70" text-anchor="end">30</text>
<text x="114.21" y="244.80" text-anchor="middle">40</text>
<text x="25.00" y="150.60" text-anchor="end">40</text>
<text x="143.08" y="244.80" text-anchor="middle">50</text>
<text x="25.00" y="121.50" text-anchor="end">50</text>
<text x="171.95" y="244.80" text-anchor="middle">60</text>
<text x="25.00" y="92.40" text-anchor="end">60</text>
<text x="200.82" y="244.80" text-anchor="middle">70</text>
<text x="25.00" y="63.30" text-anchor="end">70</text>
<text x="229.69" y="244.80" text-anchor="middle">80</text>
<text x="25.00" y="34.20" text-anchor="end">80</text>
<text x="142.75" y="257.2" font-size="9.9" text-anchor="middle"><tspan font-style="oblique">m</tspan><tspan font-style="oblique" font-size="7" dy="2">h</tspan><tspan dy="-2"> [GeV]</tspan></text>
<text transform="translate(8.60 117.75) rotate(-90)" text-anchor="middle"><tspan font-style="oblique">m</tspan><tspan font-style="oblique" font-size="7" dy="2">a</tspan><tspan dy="-2"> [GeV]</tspan></text>
<text x="42.32" y="161.16" font-size="9.4" class="an">Γ(<tspan font-style="oblique">Z</tspan>→<tspan font-style="oblique">ha</tspan>) &gt; <tspan font-style="oblique">δ</tspan>Γ<tspan font-style="oblique" font-size="6.6" dy="1.6">Z</tspan></text>
<text x="186.10" y="204.81" font-size="9.65" class="an" font-style="oblique">h→aa</text>
<text x="94.29" y="109.10" font-size="8.2" class="an">1<tspan font-style="oblique">σ</tspan></text>
<text x="88.80" y="115.21" font-size="8.2" class="an">2<tspan font-style="oblique">σ</tspan></text>
<linearGradient id="ga" x1="0" y1="0" x2="0" y2="1"><stop offset="0.000" stop-color="#fde725"/><stop offset="0.031" stop-color="#ece51b"/><stop offset="0.062" stop-color="#d8e219"/><stop offset="0.094" stop-color="#c2df23"/><stop offset="0.125" stop-color="#addc30"/><stop offset="0.156" stop-color="#98d83e"/><stop offset="0.188" stop-color="#84d44b"/><stop offset="0.219" stop-color="#70cf57"/><stop offset="0.250" stop-color="#5ec962"/><stop offset="0.281" stop-color="#4ec36b"/><stop offset="0.312" stop-color="#3fbc73"/><stop offset="0.344" stop-color="#32b67a"/><stop offset="0.375" stop-color="#28ae80"/><stop offset="0.406" stop-color="#22a785"/><stop offset="0.438" stop-color="#1fa088"/><stop offset="0.469" stop-color="#1f988b"/><stop offset="0.500" stop-color="#21918c"/><stop offset="0.531" stop-color="#23898e"/><stop offset="0.562" stop-color="#26828e"/><stop offset="0.594" stop-color="#297a8e"/><stop offset="0.625" stop-color="#2c728e"/><stop offset="0.656" stop-color="#2f6b8e"/><stop offset="0.688" stop-color="#33638d"/><stop offset="0.719" stop-color="#375b8d"/><stop offset="0.750" stop-color="#3b528b"/><stop offset="0.781" stop-color="#3e4989"/><stop offset="0.812" stop-color="#424086"/><stop offset="0.844" stop-color="#453781"/><stop offset="0.875" stop-color="#472d7b"/><stop offset="0.906" stop-color="#482374"/><stop offset="0.938" stop-color="#48186a"/><stop offset="0.969" stop-color="#470d60"/><stop offset="1.000" stop-color="#440154"/></linearGradient>
<rect x="260.40" y="0.50" width="12.30" height="233.70" fill="url(#ga)" stroke="#000" stroke-width="0.6"/>
<path d="M272.70 18.00h-3.2M272.70 49.35h-3.2M272.70 80.70h-3.2M272.70 112.05h-3.2M272.70 143.40h-3.2M272.70 174.75h-3.2M272.70 206.10h-3.2" stroke="#000" stroke-width="0.8" fill="none"/>
<text x="274.60" y="21.70">0.00175</text>
<text x="274.60" y="53.05">0.00150</text>
<text x="274.60" y="84.40">0.00125</text>
<text x="274.60" y="115.75">0.00100</text>
<text x="274.60" y="147.10">0.00075</text>
<text x="274.60" y="178.45">0.00050</text>
<text x="274.60" y="209.80">0.00025</text>
<text transform="translate(327.00 114.75) rotate(-90)" text-anchor="middle"><tspan font-size="8.9"><tspan font-style="oblique">B</tspan>(<tspan font-style="oblique">H</tspan>→<tspan font-style="oblique">aZ</tspan><tspan font-size="6.2" dy="-3.7">*</tspan><tspan dy="3.7">)</tspan></tspan></text>
<clipPath id="clipb"><rect x="386.50" y="0.50" width="239.80" height="233.70"/></clipPath>
<polygon clip-path="url(#clipb)" fill="#ffaebb" points="386.5,49.9 390.2,52.2 393.9,54.6 397.5,57.1 401.2,59.8 404.9,62.6 408.6,65.4 412.3,68.3 415.9,71.3 419.6,74.4 423.3,77.5 427.0,80.6 430.7,83.8 434.3,87.0 438.0,90.3 441.7,93.6 445.4,96.9 449.0,100.3 452.7,103.7 456.4,107.1 460.1,110.5 463.8,113.9 467.4,117.4 471.1,120.9 474.8,124.4 478.5,127.9 482.2,131.4 485.8,135.0 489.5,138.6 493.2,142.2 496.9,145.8 500.6,149.4 504.2,153.0 507.9,156.7 511.6,160.4 515.3,164.1 519.0,167.8 522.6,171.6 526.3,175.3 530.0,179.2 416.5,234.2 386.5,234.2"/>
<g clip-path="url(#clipb)" fill="none" stroke-width="2.3" stroke-linecap="round"><path d="M408.7 74.6h0M405.6 54.5h0M394.5 46.6h0M399.2 41.1h0M412.8 64.1h0M390.7 35.3h0M388.9 32.5h0M386.7 24.4h0M404.6 65.0h0M398.1 44.8h0M391.2 42.1h0M402.3 64.6h0M398.6 64.2h0M401.2 54.0h0M394.2 52.1h0M401.0 58.1h0" stroke="#21a585"/><path d="M393.5 46.3h0M397.5 62.1h0M395.7 52.2h0" stroke="#84d44b"/><path d="M393.7 51.0h0M388.8 20.3h0" stroke="#65cb5e"/><path d="M391.8 22.2h0M399.4 39.1h0M409.0 47.0h0M402.6 64.7h0M403.3 54.9h0M405.5 49.8h0M386.7 19.8h0M401.1 30.0h0M406.5 62.4h0M403.7 47.0h0M388.5 33.5h0M421.1 52.2h0M398.5 41.7h0M393.4 29.6h0M387.1 19.9h0M410.4 41.9h0" stroke="#26828e"/><path d="M387.0 18.3h0M398.7 38.9h0M395.7 53.2h0M399.8 43.8h0M390.0 49.1h0M405.6 47.1h0M399.3 61.0h0M394.2 54.5h0M405.8 66.8h0" stroke="#20938c"/><path d="M409.0 28.1h0M415.4 64.8h0M410.4 49.3h0M393.9 5.5h0M425.6 43.1h0M405.5 38.7h0M404.6 23.9h0M409.3 28.1h0M388.9 19.1h0M425.1 46.1h0M409.4 34.3h0M402.3 60.2h0M394.7 18.7h0M406.5 21.9h0M416.4 49.1h0M412.8 36.8h0M399.9 46.9h0M418.7 54.6h0M388.8 13.7h0M411.8 41.6h0M405.3 16.6h0M410.9 47.8h0M419.5 36.9h0M426.0 42.7h0M399.7 30.0h0M402.5 28.2h0M410.6 29.9h0M401.4 40.5h0M409.1 36.6h0M388.6 16.9h0M423.0 69.0h0M407.5 30.8h0M414.0 45.7h0M403.8 13.3h0M405.0 16.7h0M403.7 19.3h0M403.8 25.0h0M406.7 24.5h0M399.3 24.2h0M402.6 16.5h0M388.1 3.6h0" stroke="#365c8d"/><path d="M394.3 59.8h0M400.4 64.1h0M389.9 37.9h0M390.3 58.7h0" stroke="#93d741"/><path d="M466.2 20.6h0M463.1 18.8h0M463.5 21.9h0M475.9 2.9h0M470.3 7.8h0M472.2 16.3h0M476.2 2.0h0M471.6 14.1h0M473.1 16.8h0M475.0 8.0h0M475.8 1.6h0M454.7 38.0h0" stroke="#48186a"/><path d="M401.5 26.8h0M416.7 47.6h0M406.9 47.5h0M400.0 48.1h0M404.7 13.6h0M412.2 26.2h0M405.2 30.3h0M397.6 26.0h0M403.9 44.9h0M419.6 57.8h0M400.4 29.7h0M392.4 29.3h0M402.3 42.7h0M387.6 7.7h0M419.2 58.2h0M419.4 65.0h0M404.9 56.5h0M423.1 49.0h0M411.8 68.2h0M408.8 38.5h0M399.0 40.4h0M416.9 56.2h0M405.3 31.2h0M404.2 44.0h0M403.2 32.3h0M405.4 30.7h0M403.0 27.3h0M402.2 19.5h0M390.3 26.3h0M412.2 33.5h0M410.3 53.2h0M408.0 38.1h0M409.8 42.1h0M406.3 32.0h0M400.9 22.1h0M401.3 27.2h0M390.7 16.0h0M402.1 27.1h0M391.5 22.7h0M392.9 15.4h0" stroke="#33638d"/><path d="M456.4 27.2h0M464.4 2.1h0M459.9 0.3h0M461.2 13.4h0M474.3 2.1h0M463.1 21.3h0M466.3 8.5h0M462.9 5.0h0M460.8 17.4h0M469.9 2.0h0M451.3 5.6h0M468.1 9.1h0M470.8 2.4h0M474.3 0.0h0M462.4 6.6h0M447.2 46.1h0M465.8 12.9h0M460.4 35.9h0M470.5 5.2h0M456.6 6.5h0M456.1 2.8h0M468.3 7.3h0M459.6 1.8h0M452.6 39.0h0" stroke="#482071"/><path d="M394.4 46.9h0M413.2 54.7h0M407.6 49.0h0M399.5 24.3h0M395.7 45.6h0M406.5 59.3h0M395.2 53.1h0M399.5 52.2h0M405.8 37.4h0M399.6 67.3h0M388.6 25.7h0M398.3 47.3h0M398.2 63.1h0M395.6 28.3h0M411.6 46.4h0M387.7 28.9h0" stroke="#1f998a"/><path d="M390.9 39.4h0M388.1 43.8h0M399.4 53.3h0M394.4 43.2h0M393.2 48.3h0M395.1 58.5h0M393.6 53.2h0" stroke="#56c667"/><path d="M392.3 45.9h0" stroke="#e7e419"/><path d="M451.2 16.3h0M447.3 2.0h0M432.0 3.8h0M454.1 6.5h0M433.4 5.8h0M456.9 9.6h0M444.4 24.8h0M437.5 18.1h0M443.2 7.4h0M445.2 1.2h0M450.3 16.1h0M435.5 13.3h0M447.7 7.7h0M445.1 2.0h0M449.3 12.7h0M459.9 6.7h0M435.9 3.5h0M436.3 50.0h0M447.2 49.5h0M428.1 4.7h0M442.7 6.5h0M460.4 6.7h0M435.5 3.6h0M447.5 14.2h0M441.9 3.1h0M446.5 5.1h0M447.7 28.7h0M445.2 9.9h0M449.9 5.9h0M451.9 11.7h0M448.2 12.1h0M460.6 1.1h0M462.9 6.9h0M438.8 54.6h0M446.3 3.9h0M453.3 20.9h0M436.2 2.0h0M453.8 15.6h0M444.0 13.5h0M436.3 8.7h0M448.5 26.6h0M435.6 15.3h0M443.6 14.4h0M443.1 5.0h0M448.8 1.8h0M430.4 2.0h0M446.7 12.7h0M445.4 15.1h0M452.2 1.1h0M426.2 10.2h0M447.3 22.0h0M448.1 13.5h0M434.0 0.8h0M444.2 10.6h0M445.3 22.5h0M432.4 0.3h0M437.4 59.8h0M434.0 1.0h0M443.1 29.8h0M448.1 3.3h0M449.3 5.5h0M451.1 21.5h0M451.3 15.9h0M443.1 4.2h0M444.5 14.3h0M459.3 13.5h0M454.2 1.0h0M451.5 8.6h0M451.3 4.2h0M429.9 0.3h0M452.6 32.7h0M454.1 2.9h0M451.4 11.0h0M447.0 13.8h0M439.4 2.2h0M446.3 2.8h0M437.2 8.5h0M458.7 5.6h0M455.0 5.4h0M461.4 9.1h0M438.5 12.4h0M436.0 4.8h0M438.1 5.7h0M440.6 2.2h0M449.2 15.3h0M455.3 10.7h0M441.2 15.6h0M432.1 1.7h0M432.0 1.9h0M437.8 2.8h0M444.9 20.0h0M446.0 52.4h0M448.5 18.4h0M448.0 2.7h0M427.9 0.7h0M449.1 1.0h0M445.4 3.3h0M440.5 1.9h0M452.7 14.6h0M446.7 33.5h0M439.8 12.2h0M453.2 8.2h0M436.2 1.0h0" stroke="#482878"/><path d="M398.0 53.2h0M402.0 70.0h0M388.2 41.9h0M399.0 60.5h0M398.7 57.8h0M397.1 43.2h0M405.5 55.5h0M405.0 52.3h0M398.6 61.4h0M395.2 64.6h0M388.9 49.5h0M392.3 52.5h0M398.5 48.7h0" stroke="#2cb17e"/><path d="M396.1 40.8h0M396.1 43.9h0M390.9 50.6h0M401.1 42.0h0M411.7 62.2h0M394.2 64.7h0" stroke="#1fa088"/><path d="M397.9 63.8h0M391.4 40.2h0M389.1 45.5h0M391.1 52.8h0M392.7 54.8h0" stroke="#4ac16d"/><path d="M408.6 65.5h0M389.9 57.0h0M392.2 52.9h0M387.5 52.8h0M397.6 62.6h0M389.9 52.8h0M389.8 59.0h0M397.4 58.7h0M389.4 53.0h0M396.1 64.5h0M388.0 53.4h0M393.5 58.0h0M392.5 43.8h0M386.6 59.9h0M392.4 47.9h0M387.0 56.1h0M401.6 65.7h0M386.7 51.2h0M393.3 62.3h0M387.2 59.6h0" stroke="#f6e620"/><path d="M388.2 60.5h0M386.6 51.5h0" stroke="#b5de2b"/><path d="M409.4 26.2h0M407.1 12.7h0M399.4 14.0h0M406.0 26.8h0M424.8 59.9h0M417.0 35.9h0M391.9 14.0h0M398.5 18.0h0M418.2 60.8h0M400.2 24.4h0M420.3 41.8h0M409.5 59.4h0M399.0 27.0h0M421.0 25.8h0M410.4 34.2h0M399.5 13.1h0M400.0 13.2h0M411.0 74.7h0M419.8 67.4h0M419.8 76.1h0M402.3 7.9h0M402.4 25.3h0M409.8 23.7h0M397.3 22.4h0M399.0 18.1h0M418.5 30.1h0M410.2 55.1h0M405.6 12.1h0M425.5 50.2h0M407.1 26.6h0M418.9 76.1h0M433.7 58.5h0M391.5 0.4h0M390.5 6.4h0M402.0 22.2h0M406.1 24.5h0M419.4 29.6h0M393.3 22.5h0M418.6 70.2h0M411.9 34.4h0M410.0 17.8h0M398.7 7.8h0M388.3 17.4h0M391.2 11.6h0M396.3 9.3h0M408.2 23.6h0" stroke="#39558c"/><path d="M395.3 56.2h0M390.3 60.1h0" stroke="#73d056"/><path d="M414.5 57.6h0M414.1 41.2h0M416.7 60.1h0M395.9 27.2h0M413.1 29.4h0M393.3 25.4h0M408.6 73.1h0M393.6 17.9h0M404.4 41.5h0M394.6 37.3h0M415.1 44.2h0M392.4 24.4h0M410.0 42.1h0M388.3 21.2h0M409.6 63.7h0M396.3 31.9h0M408.8 72.6h0M413.2 50.7h0M409.4 57.3h0M397.6 40.4h0M393.0 31.4h0M412.4 54.8h0" stroke="#2b758e"/><path d="M391.9 25.8h0M402.7 38.6h0M404.6 32.2h0M391.3 52.6h0M399.9 54.4h0M397.7 48.7h0M402.4 56.1h0M387.4 36.4h0" stroke="#25ab82"/><path d="M393.6 46.4h0M387.7 53.5h0" stroke="#a2da37"/><path d="M402.8 54.9h0M391.9 62.4h0M389.3 37.5h0M386.9 29.3h0" stroke="#3fbc73"/><path d="M417.2 51.7h0M408.6 69.4h0M388.5 4.9h0M400.1 19.3h0M411.3 44.5h0M401.7 27.4h0M419.5 55.6h0M411.7 42.0h0M400.0 15.7h0M414.4 42.5h0M407.7 49.2h0M413.5 69.2h0M389.5 21.4h0M404.8 32.3h0M415.6 65.4h0M416.3 55.4h0M395.2 26.2h0M419.5 74.3h0M404.6 35.1h0M413.8 48.4h0M417.3 52.9h0M404.2 25.3h0M419.7 50.2h0M403.9 25.2h0M403.7 64.0h0M406.7 43.2h0M399.5 32.0h0M403.2 40.6h0M411.8 75.5h0M396.9 32.7h0M388.2 15.5h0M396.4 14.6h0M404.9 26.5h0M391.9 27.5h0M417.5 62.4h0M396.3 11.6h0M411.6 46.8h0M401.0 31.0h0M416.4 60.7h0M395.7 26.8h0" stroke="#30698e"/><path d="M429.1 53.7h0M418.9 31.0h0M398.4 6.9h0M423.7 23.4h0M402.6 1.2h0M418.9 18.3h0M400.1 12.7h0M428.5 15.3h0M421.1 20.3h0M414.2 30.5h0M419.9 70.3h0M392.5 0.3h0M424.0 37.8h0M387.1 6.0h0M426.3 44.5h0M406.2 10.2h0M420.8 58.3h0M421.3 38.3h0M397.9 10.8h0M431.6 33.5h0M426.4 32.2h0M419.8 35.6h0M400.4 5.1h0M420.9 46.7h0M413.6 26.1h0M405.5 10.1h0M419.8 24.9h0M405.5 16.1h0M395.7 6.9h0M421.9 45.7h0M419.1 34.4h0M421.7 18.0h0M389.1 4.0h0M422.4 23.0h0M420.0 39.4h0M400.9 17.0h0M430.7 39.9h0M422.6 39.7h0M398.9 5.0h0M406.6 27.4h0M419.8 18.8h0M420.9 43.2h0M398.8 19.9h0M412.5 14.0h0M407.5 24.4h0M394.6 13.4h0M423.0 47.6h0M412.3 32.0h0M396.0 2.4h0M409.6 9.0h0M410.3 17.9h0M421.2 32.1h0" stroke="#3f4788"/><path d="M409.0 25.4h0M405.6 11.7h0M408.8 0.1h0M429.0 51.5h0M418.6 39.3h0M397.4 13.6h0M432.6 45.3h0M409.7 31.2h0M422.0 34.8h0M411.0 46.1h0M393.1 6.5h0M400.1 6.1h0M433.0 47.8h0M418.0 54.7h0M413.8 36.0h0M396.1 11.3h0M393.0 2.3h0M416.8 62.4h0M420.3 23.3h0M402.3 12.6h0M436.8 38.2h0M417.4 30.5h0M422.5 42.8h0M403.1 23.7h0M427.0 41.8h0M418.3 42.4h0M397.2 21.0h0M404.9 10.7h0M418.6 66.9h0M421.6 48.1h0M391.2 6.9h0M408.9 21.6h0M420.4 20.6h0M387.4 5.9h0M427.1 45.4h0M403.9 21.2h0M404.3 27.6h0M415.6 17.5h0M430.9 35.7h0M413.7 29.9h0M400.7 1.3h0M402.6 24.6h0M388.0 2.5h0M426.7 71.5h0M426.4 50.2h0M386.9 1.8h0M425.9 23.4h0M405.9 28.6h0M416.7 68.1h0M392.4 3.2h0M408.4 28.5h0M386.8 11.0h0M398.6 19.6h0M425.5 38.9h0M408.3 15.5h0M408.9 47.5h0M396.1 17.5h0" stroke="#3d4e8a"/><path d="M405.2 65.0h0M397.7 46.4h0M410.3 33.8h0M404.0 69.1h0M387.6 28.8h0M407.6 51.1h0M400.5 67.3h0M394.8 39.9h0M411.5 34.8h0M401.5 44.9h0M390.4 23.6h0M405.7 71.3h0M404.8 56.6h0M400.0 34.0h0M397.2 46.4h0" stroke="#24878e"/><path d="M419.9 8.1h0M427.8 16.4h0M400.6 0.1h0M411.3 8.2h0M430.0 49.4h0M426.9 32.8h0M408.3 17.3h0M437.6 31.5h0M438.5 19.8h0M397.7 5.8h0M429.6 20.7h0M396.2 1.1h0M434.5 45.2h0M406.3 4.5h0M436.1 24.1h0M428.6 21.3h0M425.1 22.3h0M412.9 12.2h0M406.8 1.0h0M431.2 30.8h0M436.5 25.4h0M434.9 46.2h0M429.9 56.7h0M426.6 22.8h0M410.7 8.4h0M423.2 27.8h0M423.6 7.6h0M427.0 20.9h0M408.7 4.8h0M424.4 11.8h0M415.0 17.4h0M432.2 37.2h0M401.3 4.4h0M428.1 30.7h0M432.1 20.9h0M414.4 9.6h0M431.1 16.8h0M406.0 5.0h0M418.1 17.8h0M438.0 28.6h0M432.0 11.2h0M421.3 33.8h0M418.8 16.5h0M426.9 10.8h0M406.9 8.1h0M424.1 14.7h0M427.6 14.4h0M421.7 22.1h0M436.9 23.4h0M424.0 12.0h0M430.8 25.8h0M436.6 52.1h0M426.5 23.7h0M432.7 22.1h0M417.0 25.5h0M413.8 13.6h0M433.9 25.8h0M438.2 30.0h0M431.4 28.2h0M429.6 28.1h0M429.6 3.1h0M426.1 65.7h0M431.7 36.9h0M413.6 16.2h0M427.9 33.1h0M418.4 13.4h0M425.9 21.0h0M406.4 0.7h0M424.4 16.2h0M419.7 14.9h0M429.7 26.8h0M417.8 6.3h0M405.2 4.4h0M414.5 19.6h0M433.1 12.8h0M423.9 33.2h0M423.1 23.1h0M426.6 8.7h0M420.7 27.5h0M404.8 7.9h0M426.0 38.8h0M408.9 0.6h0M431.0 13.5h0M435.1 14.2h0M427.0 33.9h0M434.8 40.2h0M441.4 30.6h0M437.8 28.3h0M415.3 7.6h0M442.7 26.1h0" stroke="#453882"/><path d="M485.1 7.1h0" stroke="#470e61"/><path d="M392.1 32.7h0M387.2 30.8h0M408.3 66.0h0M393.5 48.4h0M386.6 35.3h0M398.3 61.6h0M392.4 56.5h0" stroke="#34b679"/><path d="M388.0 53.5h0" stroke="#d8e219"/><path d="M398.8 41.7h0M407.0 32.9h0M394.2 33.3h0M402.3 34.7h0M412.5 39.8h0M414.1 67.9h0M398.0 21.5h0M390.5 22.2h0M410.7 66.6h0M389.2 26.4h0M406.4 33.1h0M412.3 51.2h0M398.1 55.1h0M411.0 74.7h0M399.9 21.0h0M391.3 15.2h0M408.1 34.6h0M412.1 75.2h0M407.1 61.1h0M389.0 28.8h0M401.2 50.6h0M409.2 47.9h0M407.2 50.1h0M390.7 23.3h0M396.9 23.9h0M393.6 37.1h0M399.5 33.1h0" stroke="#297b8e"/><path d="M398.8 33.1h0M408.7 67.0h0M403.8 31.1h0M412.5 34.7h0M402.9 40.4h0M414.5 35.6h0M407.2 43.8h0M411.9 68.2h0M399.9 31.4h0M397.1 40.9h0M389.9 16.1h0M400.8 30.2h0M397.5 51.7h0M396.4 23.7h0M414.3 53.2h0M410.2 67.2h0M412.3 33.2h0M417.1 56.6h0M396.6 22.5h0M419.8 70.6h0M397.7 29.2h0M410.5 50.0h0M411.8 53.2h0M405.7 51.4h0M413.7 46.5h0M387.5 1.1h0M396.2 53.2h0M395.3 32.8h0M407.1 69.1h0M395.2 24.8h0M402.3 58.2h0M416.9 72.5h0M388.1 27.8h0" stroke="#2e6f8e"/><path d="M388.1 34.5h0M392.1 33.4h0M393.7 54.5h0M388.6 40.9h0M395.3 62.6h0" stroke="#c5e021"/><path d="M430.1 36.0h0M409.3 17.2h0M403.9 23.4h0M432.2 48.4h0M421.5 21.7h0M415.3 11.8h0M429.0 24.6h0M413.5 2.2h0M400.5 0.4h0M404.3 5.2h0M433.8 38.3h0M432.9 30.3h0M434.3 30.6h0M420.6 19.8h0M414.3 26.3h0M432.7 39.0h0M427.8 51.4h0M439.1 37.2h0M418.5 24.9h0M431.9 57.5h0M401.4 2.2h0M440.1 25.1h0M433.1 48.7h0M424.9 22.8h0M409.9 22.4h0M416.2 20.8h0M394.9 2.1h0M425.6 31.4h0M413.0 18.1h0M430.3 36.5h0M421.6 60.8h0M424.2 42.0h0M426.7 39.7h0M435.3 49.0h0M402.8 8.6h0M426.6 42.8h0M411.4 17.2h0M430.6 33.5h0M428.1 36.4h0M422.0 23.1h0M417.6 72.8h0M426.4 53.6h0M401.5 4.8h0M425.4 21.8h0M414.1 15.8h0M434.9 31.0h0M431.5 41.9h0M425.8 46.3h0M428.4 41.1h0M415.7 17.7h0M427.7 18.1h0M413.9 41.2h0M425.1 35.4h0M401.0 4.8h0M403.2 10.3h0M436.5 44.8h0M415.4 20.8h0M420.9 72.2h0M409.4 6.8h0M415.5 23.0h0M400.1 4.2h0M407.2 17.5h0M423.5 46.7h0M433.9 23.7h0M406.7 4.9h0M426.4 34.1h0M421.3 22.8h0M434.8 27.9h0M430.9 30.5h0M411.5 13.5h0M410.4 10.9h0M425.3 27.2h0M414.6 16.0h0M416.5 18.7h0M406.5 2.4h0" stroke="#424086"/><path d="M432.2 18.1h0M435.8 16.9h0M439.3 27.0h0M413.5 5.8h0M433.9 14.1h0M432.0 9.6h0M424.1 8.7h0M432.4 62.2h0M418.6 0.8h0M434.2 18.4h0M434.2 37.0h0M434.6 36.2h0M416.3 19.5h0M422.6 12.5h0M438.1 7.2h0M442.6 25.9h0M438.7 1.9h0M420.2 -0.0h0M435.2 32.5h0M423.7 15.5h0M439.8 19.1h0M432.3 6.2h0M443.7 30.8h0M424.0 7.4h0M441.9 30.3h0M441.8 12.0h0M434.4 10.1h0M436.7 11.5h0M419.3 10.5h0M421.1 19.4h0M419.8 12.7h0M430.9 6.6h0M432.9 20.8h0M440.3 18.3h0M432.7 29.7h0M422.3 77.2h0M428.9 16.1h0M434.1 21.1h0M434.9 16.5h0M429.8 32.6h0M413.0 3.5h0M410.1 0.9h0M438.4 6.4h0M416.5 1.9h0M418.2 17.1h0M438.2 21.5h0M437.8 49.8h0M436.0 20.3h0M441.5 49.3h0M436.8 20.7h0M412.9 5.5h0M446.4 21.9h0M437.2 24.6h0M415.3 7.7h0M426.2 20.0h0M450.8 18.4h0M436.0 22.3h0M431.5 16.4h0M428.1 6.2h0M422.6 23.3h0M415.4 3.9h0M433.9 11.2h0M443.3 38.0h0M426.6 59.5h0M437.4 8.9h0M430.2 5.3h0M429.0 4.3h0M444.2 36.0h0M440.0 14.7h0M448.9 29.3h0M442.7 14.3h0M438.5 23.0h0M423.1 21.5h0M429.5 28.7h0M433.3 42.9h0M431.2 31.7h0M435.0 20.1h0M440.4 29.2h0M441.3 25.7h0M425.9 10.8h0M423.7 6.5h0M430.5 11.5h0M437.8 21.5h0M441.8 32.4h0M436.9 3.3h0M431.1 16.6h0M429.3 5.8h0M424.9 2.2h0M439.8 14.3h0M411.0 6.3h0M414.1 3.4h0M430.8 9.5h0M438.2 25.4h0M443.8 13.8h0M432.1 16.4h0M433.3 18.0h0M435.2 19.7h0M423.7 3.8h0M438.5 31.9h0M435.6 11.9h0M422.4 7.2h0M430.1 19.8h0M425.7 19.8h0M436.0 28.9h0M427.7 14.2h0M443.5 32.3h0M450.8 22.7h0M423.8 11.8h0M435.8 28.3h0M433.5 19.5h0M432.6 17.5h0" stroke="#46307e"/><path d="M401.8 58.6h0M410.8 63.8h0M400.9 39.5h0M393.2 42.4h0M397.1 41.4h0M398.6 46.1h0M411.0 68.9h0M387.8 26.7h0M396.1 28.3h0M398.6 58.5h0" stroke="#228d8d"/><path d="M395.9 58.3h0" stroke="#c5e021"/><path d="M401.7 52.8h0M394.5 63.4h0" stroke="#84d44b"/><path d="M391.6 59.8h0M393.5 51.0h0M393.0 43.0h0M390.2 43.4h0M390.0 37.0h0M389.4 57.1h0M401.8 68.6h0M397.8 32.9h0M409.5 64.5h0M405.2 64.8h0M392.6 37.0h0" stroke="#34b679"/><path d="M393.8 63.1h0" stroke="#d8e219"/><path d="M399.2 63.2h0M390.1 28.6h0M398.2 38.3h0M393.8 34.9h0M388.4 34.1h0M401.1 53.8h0M388.8 38.9h0M396.6 46.7h0M401.1 62.5h0" stroke="#1fa088"/><path d="M431.9 12.5h0M445.4 14.0h0M415.3 9.9h0M437.1 57.3h0M428.4 24.5h0M433.0 34.9h0M425.3 11.0h0M432.4 6.4h0M438.5 41.8h0M433.2 18.0h0M419.7 14.9h0M412.3 0.7h0M435.2 20.4h0M420.0 6.1h0M442.6 27.1h0M436.6 15.1h0M447.3 26.5h0M415.6 4.4h0M441.5 26.9h0M438.1 56.1h0M427.6 29.2h0M420.8 9.9h0M435.1 40.1h0M425.6 17.7h0M417.3 6.2h0M426.2 3.3h0M435.7 32.0h0M428.8 12.9h0M423.7 9.4h0M434.9 10.2h0M423.8 5.0h0M411.5 3.9h0M416.4 0.4h0M408.5 0.4h0M440.5 31.1h0M427.8 0.8h0M437.7 18.1h0M439.9 40.5h0M443.7 13.3h0M434.7 15.6h0M442.2 18.6h0M440.6 24.3h0M435.8 30.5h0M439.9 15.9h0M438.6 3.8h0M449.2 31.4h0M422.3 4.3h0M429.7 16.3h0M432.3 30.4h0M414.8 13.7h0M413.0 1.2h0M419.8 4.3h0M443.8 27.0h0M430.0 13.8h0M435.3 27.8h0M436.7 45.3h0M421.1 16.9h0M443.2 44.1h0M424.8 4.8h0M429.9 15.7h0M429.4 5.8h0M446.3 21.7h0M429.2 9.2h0M418.0 6.0h0M441.1 27.9h0M438.7 44.1h0M437.4 60.8h0M431.9 3.3h0M412.0 0.9h0M435.1 16.2h0M444.3 16.4h0M440.5 33.0h0M422.2 2.5h0M424.8 3.6h0M419.9 6.6h0M440.0 22.1h0M439.1 36.4h0M418.9 9.4h0M422.8 9.3h0M434.5 16.0h0M441.5 14.5h0M411.2 16.7h0M429.0 18.2h0M419.6 4.6h0M410.2 13.2h0M430.9 0.4h0M440.1 49.8h0M438.8 42.0h0M442.7 26.6h0M414.6 26.4h0M428.7 22.4h0M430.4 7.9h0M426.9 6.6h0M428.5 6.9h0M434.4 22.8h0M426.4 62.2h0M443.3 28.2h0M426.7 0.7h0M445.2 20.4h0M416.9 1.4h0M445.6 19.3h0M436.8 8.7h0M440.3 23.6h0M419.6 9.2h0M444.5 29.0h0M439.3 39.9h0M408.7 3.3h0M435.5 16.7h0M435.1 27.0h0M416.8 6.3h0M421.2 3.3h0M410.2 4.5h0M420.8 2.5h0M430.7 8.8h0M425.9 26.7h0M432.7 22.4h0M447.7 6.5h0M434.3 19.8h0M416.2 1.3h0M433.2 17.0h0M425.0 20.5h0M423.8 5.9h0M442.8 37.1h0M424.7 11.3h0" stroke="#46307e"/><path d="M398.6 14.2h0M395.5 1.1h0M417.9 44.6h0M401.4 11.7h0M402.2 20.9h0M403.0 19.5h0M422.9 50.5h0M421.6 33.3h0M411.1 35.5h0M426.2 38.4h0M392.9 17.9h0M390.3 5.4h0M399.3 5.7h0M411.1 27.9h0M398.4 6.3h0M420.2 29.8h0M424.3 34.8h0M406.8 12.0h0M397.9 3.4h0M421.2 41.5h0M420.6 39.7h0M392.4 5.1h0M429.3 68.0h0M430.8 46.0h0M416.4 58.8h0M403.7 23.5h0M418.6 28.4h0M405.6 18.1h0M415.4 18.8h0M410.5 28.6h0M400.9 5.7h0M426.1 44.1h0M400.2 9.0h0M410.4 30.1h0M419.1 69.6h0M423.6 36.6h0M421.9 26.8h0M417.6 16.6h0M413.8 34.6h0M399.2 19.1h0M420.4 34.2h0M399.8 6.5h0M397.6 11.8h0M406.8 4.1h0M412.6 13.7h0M407.7 26.2h0M422.1 58.1h0M427.8 53.3h0M424.2 28.6h0M409.9 19.0h0M419.9 26.6h0M427.7 33.7h0M423.9 46.1h0M426.8 42.8h0M402.7 6.6h0M417.4 32.8h0M392.8 4.7h0M436.8 34.5h0M425.5 28.2h0M417.8 18.0h0M397.6 9.6h0M425.8 51.8h0" stroke="#3f4788"/><path d="M407.9 68.2h0M408.9 56.5h0M410.0 37.1h0M393.9 39.2h0M394.1 38.8h0M407.1 45.4h0M413.7 30.8h0M403.8 42.5h0M402.7 49.9h0M388.3 28.8h0M402.4 67.4h0M392.8 37.1h0M404.6 18.9h0M401.5 35.2h0M390.3 35.2h0M401.2 48.6h0M394.5 20.0h0M394.8 44.1h0M403.6 55.3h0M392.4 35.6h0" stroke="#24878e"/><path d="M397.6 64.2h0M388.9 47.2h0M393.9 62.8h0M408.9 69.1h0M399.6 61.7h0" stroke="#73d056"/><path d="M395.3 23.7h0M389.6 15.9h0M419.7 62.0h0M402.9 29.3h0M388.7 17.4h0M409.1 58.2h0M418.6 39.6h0M398.2 46.0h0M422.6 58.7h0M386.8 14.8h0M397.0 25.4h0M415.9 34.8h0M404.4 66.3h0M397.0 29.8h0M388.6 10.1h0M397.3 36.2h0" stroke="#30698e"/><path d="M417.3 49.3h0M410.4 62.5h0M402.3 55.1h0M410.6 49.7h0M396.1 29.9h0M408.4 64.2h0M405.6 47.8h0M411.5 52.9h0M391.9 42.2h0M397.7 31.9h0M409.1 52.1h0M414.8 48.4h0M387.5 27.4h0M406.2 44.2h0M399.6 39.6h0M395.9 18.0h0M392.2 32.6h0M405.5 70.7h0M404.8 66.7h0M407.2 60.4h0M410.1 50.2h0M395.1 46.1h0M401.3 55.0h0M404.8 56.8h0" stroke="#297b8e"/><path d="M473.1 17.7h0M474.1 13.1h0M459.0 21.2h0M483.1 3.8h0M478.7 1.7h0M468.0 12.2h0M462.1 31.3h0M464.3 24.2h0M474.7 6.8h0M479.1 0.2h0M471.2 15.1h0M464.1 23.4h0M478.7 0.4h0M453.7 39.7h0" stroke="#48186a"/><path d="M396.9 53.2h0M395.6 53.3h0M395.1 43.6h0M403.4 66.0h0M396.0 41.1h0M399.7 68.2h0M401.5 69.0h0M393.3 54.8h0" stroke="#25ab82"/><path d="M414.0 37.3h0M399.9 48.5h0M392.8 29.9h0M404.4 36.5h0M389.4 21.2h0M402.2 37.8h0M396.9 34.5h0M391.6 29.1h0M408.5 25.0h0M403.7 50.4h0M409.5 73.8h0M398.4 25.1h0M394.8 24.3h0M412.0 69.8h0M418.1 64.8h0M389.2 14.8h0M402.9 17.3h0" stroke="#2e6f8e"/><path d="M390.5 32.3h0M393.5 52.2h0M404.0 62.7h0M393.6 43.9h0" stroke="#3fbc73"/><path d="M416.8 62.1h0M403.2 40.9h0M390.7 26.9h0M404.4 56.5h0M407.7 67.4h0M391.7 43.7h0M401.5 36.5h0M395.2 34.0h0M393.9 40.5h0M390.2 29.8h0M405.3 56.4h0M397.5 44.5h0M391.6 27.2h0M397.6 40.4h0" stroke="#20938c"/><path d="M393.7 45.6h0M405.9 70.4h0M387.2 38.6h0M388.2 28.9h0M408.4 74.1h0M394.9 46.6h0M397.5 47.0h0M391.4 29.7h0M409.9 66.1h0M392.7 29.7h0M393.5 62.8h0M399.3 58.6h0M388.8 39.7h0M407.3 71.9h0" stroke="#21a585"/><path d="M387.2 49.9h0M392.4 53.0h0M387.2 46.4h0M388.9 47.2h0M391.0 50.7h0M395.7 48.4h0M389.3 58.3h0M392.3 62.2h0M390.8 57.6h0M393.9 55.9h0M388.7 45.3h0M386.6 53.3h0M391.1 61.9h0M393.1 53.9h0M389.6 61.8h0M388.2 54.1h0M394.1 48.7h0M387.7 59.4h0M393.0 62.6h0" stroke="#f6e620"/><path d="M442.4 1.4h0M435.3 24.2h0M435.0 3.0h0M442.2 15.8h0M435.7 6.0h0M432.4 13.6h0M446.1 19.2h0M436.5 6.5h0M452.6 7.6h0M464.1 6.1h0M449.8 19.3h0M435.1 3.4h0M452.8 25.0h0M447.0 10.7h0M452.5 0.6h0M435.2 21.6h0M448.5 23.4h0M447.7 15.2h0M440.6 7.8h0M452.9 5.5h0M455.7 15.9h0M430.6 5.9h0M416.9 0.7h0M454.4 6.8h0M450.8 24.8h0M434.5 31.8h0M446.2 16.6h0M458.9 2.3h0M441.4 4.7h0M443.5 12.4h0M449.1 3.1h0M447.5 2.2h0M453.0 5.2h0M436.4 1.1h0M441.4 2.2h0M449.7 21.1h0M446.2 16.6h0M445.4 8.2h0M455.0 1.2h0M449.0 19.7h0M437.0 33.2h0M439.2 3.2h0M457.9 1.4h0M443.8 1.9h0M439.7 0.6h0M446.3 5.8h0M426.4 1.1h0M436.6 0.4h0M455.1 9.6h0M438.7 10.4h0M439.3 6.3h0M449.7 2.4h0M453.4 2.5h0M450.8 1.6h0M446.6 31.2h0M442.6 10.3h0M428.1 4.9h0M453.2 6.1h0M442.3 6.1h0M442.2 34.7h0M442.5 20.3h0M448.8 1.3h0M445.4 11.5h0M449.6 28.4h0M451.3 22.1h0M441.0 11.8h0M448.7 12.8h0M455.4 23.5h0M443.3 11.8h0M453.0 8.5h0M434.7 17.3h0M444.1 18.3h0M451.3 10.4h0M449.8 22.1h0M457.1 14.0h0M436.5 8.6h0M444.9 10.6h0M438.2 8.1h0M448.4 4.1h0M430.4 8.1h0M457.7 15.4h0M452.1 22.9h0M453.6 7.7h0M434.6 3.7h0M447.4 24.5h0M455.5 14.5h0M441.4 13.9h0M440.8 8.8h0M448.9 1.2h0M448.4 22.1h0M446.2 3.1h0M455.3 8.2h0M450.4 13.4h0M446.7 4.3h0M446.5 37.0h0M437.2 54.5h0M455.6 4.6h0M444.2 12.4h0M448.6 26.2h0M458.2 9.6h0M445.1 3.8h0M442.4 7.3h0M449.8 19.4h0M419.0 1.8h0M444.9 0.7h0M438.9 16.6h0M436.4 14.8h0M420.3 5.3h0M444.1 10.7h0" stroke="#482878"/><path d="M400.3 49.1h0M406.7 47.0h0M397.8 37.7h0M400.5 27.0h0M396.1 34.5h0M409.6 65.6h0M406.5 39.8h0M409.5 61.0h0M415.2 43.4h0M404.6 54.3h0M403.3 45.8h0M415.1 31.3h0M407.5 59.3h0M394.9 20.7h0M396.4 17.8h0M389.8 21.0h0M408.8 41.7h0M403.4 37.7h0M406.5 24.4h0M399.5 47.8h0M414.9 51.4h0M405.9 42.5h0M392.4 32.8h0M411.6 63.1h0M410.0 49.2h0" stroke="#2b758e"/><path d="M417.7 24.5h0M397.4 6.7h0M413.3 10.8h0M418.7 76.2h0M421.9 29.2h0M396.2 0.4h0M428.0 37.7h0M434.1 28.8h0M414.1 10.9h0M428.9 38.3h0M419.7 32.6h0M432.4 47.1h0M415.6 9.7h0M432.7 39.2h0M419.5 26.0h0M413.5 21.8h0M419.8 4.9h0M397.9 3.2h0M400.8 4.1h0M412.6 27.8h0M427.1 27.2h0M427.0 29.8h0M423.3 36.3h0M402.6 1.4h0M437.8 40.5h0M430.4 46.3h0M419.1 24.1h0M421.5 26.6h0M427.2 22.4h0M407.6 4.9h0M400.0 2.4h0M402.4 8.5h0M398.1 5.8h0M429.2 37.7h0M413.6 19.4h0M421.9 9.5h0M430.2 29.8h0M404.2 11.2h0M420.4 68.5h0M415.3 20.3h0M422.0 32.7h0M429.0 59.3h0M428.7 42.8h0M412.6 21.2h0M412.6 6.7h0M435.0 40.7h0M414.9 29.8h0M421.8 12.3h0M432.2 41.1h0M411.5 6.5h0M426.8 34.3h0M391.1 2.5h0M415.6 10.9h0M426.3 36.8h0M431.1 35.7h0M409.3 12.1h0M416.6 16.3h0M420.1 75.1h0M408.0 11.0h0M410.2 38.1h0M424.6 26.4h0M427.7 36.0h0M416.5 21.3h0M400.4 6.4h0M424.1 39.2h0" stroke="#424086"/><path d="M456.2 27.0h0M464.5 0.7h0M453.2 31.7h0M458.8 1.8h0M467.6 7.9h0M455.1 32.9h0M463.2 22.5h0M466.5 1.9h0M455.5 20.3h0M457.7 28.9h0M464.9 2.0h0M446.2 4.2h0M456.5 9.0h0M459.9 24.9h0M463.8 15.7h0M453.6 40.7h0M459.6 16.9h0M458.9 11.0h0M452.1 37.9h0M455.7 25.1h0M454.9 19.8h0" stroke="#482071"/><path d="M386.6 20.2h0M409.1 57.5h0M413.4 43.5h0M407.2 46.2h0M392.8 18.0h0M393.7 22.0h0M411.4 51.1h0M412.5 47.8h0M402.6 54.3h0M407.8 39.0h0M420.0 44.1h0M395.2 25.6h0M409.1 69.1h0M403.2 54.2h0M409.5 60.6h0M409.2 43.7h0M393.0 24.0h0M388.5 38.0h0" stroke="#26828e"/><path d="M407.6 54.0h0M420.9 41.5h0M412.6 62.8h0M398.4 23.8h0M410.0 27.4h0M416.3 53.8h0M417.5 49.2h0M415.0 49.5h0M409.8 58.3h0M395.1 8.3h0M399.5 14.4h0M413.5 48.1h0M408.3 52.7h0M411.8 42.5h0M416.2 55.4h0M402.7 32.5h0M403.2 33.8h0M414.4 47.6h0M401.3 32.8h0M417.5 41.4h0M390.4 18.8h0M415.4 26.7h0M393.5 11.6h0M412.4 41.9h0M416.1 68.4h0M418.1 51.1h0M406.7 36.6h0M413.9 74.7h0M427.7 52.3h0M390.3 18.1h0M406.2 30.0h0M413.1 67.8h0M403.1 45.9h0M403.1 17.0h0M408.3 50.8h0M415.2 43.4h0M403.1 36.4h0M409.4 60.2h0M412.7 34.6h0M404.8 40.7h0M420.8 57.1h0M413.3 39.2h0M403.6 36.0h0M406.9 56.7h0M421.6 37.2h0M406.5 21.2h0M417.7 57.6h0" stroke="#365c8d"/><path d="M397.6 44.4h0M395.1 64.0h0M387.5 51.3h0M404.4 62.9h0M390.6 36.9h0M400.9 49.4h0M391.2 34.9h0M402.5 70.3h0M406.6 71.5h0M396.6 64.5h0" stroke="#4ac16d"/><path d="M391.4 15.4h0M411.1 25.4h0M392.5 21.0h0M413.9 71.2h0M421.6 78.2h0M409.4 60.4h0M408.8 9.9h0M417.3 56.9h0M403.4 24.5h0M419.6 47.2h0M422.5 46.8h0M396.9 18.9h0M401.1 20.5h0M406.2 24.6h0M390.7 17.1h0M403.3 30.0h0M415.3 34.7h0M402.0 14.8h0M407.7 37.2h0M395.9 17.9h0M410.8 46.1h0M416.6 21.0h0M411.9 38.4h0M393.4 3.1h0M412.4 41.1h0M418.7 57.9h0M411.0 53.2h0M392.8 11.7h0M413.4 38.1h0M415.8 55.3h0M413.8 74.1h0M415.5 35.1h0M394.7 8.1h0M393.7 11.6h0M432.4 50.9h0M410.3 35.6h0M420.1 39.2h0M396.1 7.4h0M416.9 45.4h0M391.4 8.1h0M419.4 53.3h0M397.7 22.0h0M397.5 20.7h0M394.6 1.0h0M414.1 71.2h0M393.0 4.9h0M418.0 25.2h0M417.3 29.2h0M394.0 23.4h0" stroke="#39558c"/><path d="M398.9 59.8h0M389.5 35.6h0" stroke="#b5de2b"/><path d="M393.7 40.3h0M406.3 59.8h0M393.5 52.9h0M402.4 30.4h0M404.4 57.3h0M394.0 36.2h0M400.2 36.7h0M399.4 29.0h0M401.0 61.5h0M387.7 18.4h0M401.3 32.6h0M396.0 24.6h0M389.6 37.2h0M397.1 39.0h0M387.4 24.0h0" stroke="#228d8d"/><path d="M387.1 41.2h0" stroke="#e7e419"/><path d="M487.9 1.7h0M486.7 0.3h0M477.4 10.9h0M483.6 3.0h0M470.5 21.3h0" stroke="#470e61"/><path d="M411.1 60.4h0M389.0 37.6h0M406.0 68.5h0M404.9 54.2h0M400.4 51.8h0M394.7 46.6h0" stroke="#1f998a"/><path d="M409.5 20.6h0M409.6 74.9h0M395.3 10.9h0M415.8 27.0h0M420.5 44.5h0M400.5 16.9h0M419.7 34.3h0M388.0 8.1h0M406.1 11.1h0M413.0 24.5h0M394.4 6.7h0M417.0 43.5h0M418.0 41.5h0M428.8 41.4h0M419.7 35.7h0M398.3 12.7h0M414.3 29.5h0M400.3 13.2h0M407.4 30.6h0M425.2 57.3h0M387.4 4.5h0M421.1 36.1h0M419.1 46.3h0M418.1 52.5h0M405.1 11.0h0M432.2 33.5h0M408.3 16.8h0M415.8 14.7h0M420.5 41.1h0M398.4 13.1h0M400.3 9.9h0M409.2 25.3h0M432.2 39.6h0M410.1 32.2h0M409.9 20.9h0M407.7 23.0h0M404.3 13.9h0M419.5 57.0h0M403.3 10.6h0M399.1 9.1h0M421.4 25.6h0M423.9 47.3h0M422.7 44.2h0M422.1 29.9h0M404.1 19.1h0M433.9 42.6h0M419.4 29.5h0M412.0 24.7h0M416.2 45.4h0M423.9 74.6h0M425.3 47.1h0M417.5 30.6h0M422.3 24.3h0M387.5 10.1h0M412.5 39.9h0M417.7 62.7h0M394.7 21.0h0M390.0 4.4h0M406.6 20.0h0M417.2 27.7h0M425.6 38.3h0M395.1 15.6h0M412.4 32.7h0M426.1 47.4h0M424.0 38.7h0M399.0 27.1h0M402.1 15.6h0M429.1 44.1h0" stroke="#3d4e8a"/><path d="M416.2 57.4h0M410.0 49.7h0M418.8 65.1h0M393.4 18.5h0M413.3 71.3h0M418.5 69.3h0M401.1 24.4h0M390.0 10.8h0M411.2 45.8h0M407.9 26.0h0M417.6 42.2h0M400.3 26.1h0M400.3 26.1h0M420.8 56.1h0M417.5 45.2h0M406.8 41.0h0M393.3 17.0h0M401.0 31.4h0M413.5 56.0h0M391.5 32.6h0M422.9 51.8h0M412.8 39.5h0M398.5 22.7h0M407.9 61.8h0M387.6 14.9h0M419.6 44.9h0M408.3 51.5h0M397.2 22.2h0M418.1 80.9h0M411.6 36.3h0M412.7 43.9h0M401.4 22.7h0" stroke="#33638d"/><path d="M401.4 50.6h0M391.2 35.8h0M411.3 55.4h0M393.9 56.7h0M389.1 35.6h0M398.9 48.9h0" stroke="#2cb17e"/><path d="M398.3 59.9h0M391.5 56.0h0M389.2 42.2h0M395.9 46.0h0M390.1 33.9h0" stroke="#65cb5e"/><path d="M397.1 64.5h0" stroke="#93d741"/><path d="M405.1 54.5h0M391.2 35.8h0M388.4 38.1h0M401.2 68.0h0M388.6 46.2h0M402.4 56.1h0M394.8 38.2h0" stroke="#56c667"/><path d="M424.2 28.8h0M414.6 18.7h0M432.7 50.2h0M417.3 9.0h0M425.6 18.0h0M433.3 10.0h0M435.5 22.1h0M399.9 6.4h0M426.1 14.5h0M429.1 39.7h0M416.6 8.3h0M429.8 25.9h0M431.8 27.3h0M408.8 4.9h0M398.7 5.2h0M435.6 27.7h0M419.6 26.0h0M414.1 6.7h0M422.1 14.7h0M430.0 45.0h0M419.3 10.7h0M417.5 24.9h0M421.3 23.6h0M429.0 45.8h0M418.8 19.9h0M431.7 31.6h0M415.6 2.0h0M417.3 17.9h0M431.6 27.0h0M408.3 1.8h0M441.0 44.9h0M432.5 61.4h0M421.0 37.6h0M427.4 21.7h0M433.4 36.3h0M422.8 19.8h0M415.4 10.4h0M419.6 13.6h0M434.8 17.6h0M420.5 13.4h0M420.9 7.2h0M427.5 32.4h0M410.1 4.6h0M411.1 4.3h0M429.8 44.8h0M412.1 4.8h0M439.8 51.0h0M430.2 19.4h0M426.3 22.6h0M438.1 46.8h0M424.3 18.3h0M434.7 39.0h0M427.3 27.1h0M411.2 5.6h0M442.0 28.9h0M436.8 32.1h0M430.2 28.3h0M432.6 61.1h0M438.0 18.0h0M431.0 25.0h0M426.8 27.7h0M423.1 12.0h0M427.8 33.8h0M425.3 8.8h0M425.5 30.9h0M429.2 24.6h0M424.8 21.3h0M423.7 23.1h0M437.9 29.7h0M430.9 18.4h0M415.6 6.6h0M414.4 24.6h0M423.4 8.7h0M422.4 1.3h0M418.5 6.4h0M426.0 36.9h0M415.9 20.5h0M426.8 21.9h0M430.6 19.7h0M414.2 16.1h0M422.1 37.2h0M420.4 79.7h0M427.8 28.8h0M436.5 44.6h0M401.7 0.4h0M417.7 16.0h0M417.2 69.7h0M437.4 31.0h0M419.8 26.8h0M411.2 8.6h0M432.2 20.9h0" stroke="#453882"/><path d="M396.9 19.9h0M400.4 34.8h0M412.4 22.5h0M410.4 23.2h0M392.1 15.6h0M417.1 78.0h0M414.6 72.4h0M415.6 30.9h0M416.9 53.8h0M420.3 29.7h0M394.2 22.3h0M406.7 21.2h0M423.7 34.8h0M415.7 18.9h0M412.6 47.1h0M396.0 19.7h0M417.9 54.8h0M406.2 23.6h0M403.2 47.1h0M406.2 20.2h0M415.9 71.2h0M414.5 39.8h0M414.2 43.0h0M421.9 40.7h0M408.8 38.2h0M399.9 16.6h0M425.7 35.1h0M390.7 7.6h0M407.8 21.6h0M418.2 59.6h0M398.2 6.1h0M428.9 44.9h0M425.6 51.6h0M419.7 55.9h0M411.3 39.1h0M396.4 26.7h0M413.3 50.5h0M422.4 53.1h0M395.6 21.8h0M386.7 7.7h0M407.6 15.6h0M411.7 38.4h0M392.5 5.6h0" stroke="#39558c"/><path d="M402.2 27.6h0M404.6 50.9h0M404.5 44.9h0M407.8 46.1h0M387.2 30.1h0M394.0 28.6h0M393.7 15.4h0M394.0 35.8h0M398.5 43.8h0M401.9 43.2h0M405.1 55.6h0M403.5 45.2h0M411.3 64.1h0" stroke="#26828e"/><path d="M396.0 59.2h0M399.2 67.2h0M392.5 59.3h0" stroke="#93d741"/><path d="M423.0 12.1h0M427.0 25.4h0M434.9 47.5h0M422.6 8.3h0M425.2 15.5h0M419.8 3.9h0M422.8 5.2h0M417.0 26.1h0M403.5 9.4h0M418.7 10.6h0M401.6 2.6h0M425.4 4.7h0M408.0 13.3h0M427.6 29.4h0M440.9 27.2h0M427.7 40.3h0M431.8 34.7h0M422.2 16.7h0M407.3 15.8h0M401.3 0.9h0M437.8 22.7h0M428.5 15.6h0M436.7 43.3h0M427.9 34.3h0M429.8 27.5h0M412.3 2.8h0M429.2 29.2h0M429.8 25.1h0M436.7 51.6h0M430.4 21.7h0M425.1 25.5h0M414.4 8.2h0M424.9 23.5h0M409.7 5.6h0M434.3 20.6h0M433.3 28.4h0M437.7 33.1h0M428.3 21.5h0M428.4 37.0h0M429.1 28.5h0M421.1 10.3h0M422.3 24.5h0M428.5 58.5h0M407.3 1.9h0M409.9 8.5h0M429.2 48.5h0M423.6 16.9h0M408.8 1.4h0M420.5 13.9h0M411.6 15.7h0M420.1 6.1h0M426.2 26.4h0M439.8 25.2h0M405.9 14.6h0M424.2 44.6h0M418.4 18.5h0M429.5 30.5h0M426.5 24.5h0M436.0 26.5h0M427.8 27.9h0M411.1 7.9h0M415.5 10.9h0M423.9 29.0h0M435.0 8.6h0M439.5 36.6h0M423.5 76.1h0M410.4 5.8h0M412.9 19.2h0M433.1 39.4h0M431.9 28.5h0M424.0 15.0h0M416.6 4.3h0M417.9 12.1h0M420.2 12.0h0M422.4 7.6h0M429.0 9.8h0M419.2 29.3h0M429.9 7.8h0M435.9 47.3h0M418.6 21.3h0M440.6 28.8h0M424.1 23.2h0M428.9 26.5h0M425.4 29.2h0M421.9 31.7h0M434.7 34.7h0M408.2 5.8h0M415.6 6.9h0M401.5 7.1h0M435.2 25.0h0M413.2 2.5h0M410.3 8.2h0M402.6 0.9h0M409.6 2.1h0M394.5 8.2h0M405.8 0.8h0M400.2 2.1h0M438.6 47.6h0M405.7 6.5h0M437.6 23.3h0M427.8 51.3h0M425.6 29.4h0M410.8 2.0h0M415.8 25.6h0M406.5 8.6h0" stroke="#453882"/><path d="M388.5 22.9h0M402.0 54.2h0M399.2 66.6h0M395.0 42.3h0M387.2 21.3h0M398.9 49.7h0M391.0 36.7h0M401.7 63.6h0M398.2 54.6h0M392.8 34.3h0M397.4 44.4h0M400.4 67.5h0" stroke="#25ab82"/><path d="M396.2 62.3h0M399.4 43.0h0M388.8 58.3h0" stroke="#65cb5e"/><path d="M397.2 52.7h0M396.2 59.0h0M395.4 43.1h0M408.4 53.7h0" stroke="#21a585"/><path d="M393.3 38.4h0M397.9 45.9h0M412.6 58.9h0M408.2 61.4h0M412.0 60.5h0M401.9 54.4h0M391.2 12.3h0M391.0 22.4h0M412.7 58.2h0M392.3 38.2h0M410.9 60.1h0M411.1 39.7h0M405.0 59.0h0M400.6 54.2h0M390.6 15.7h0M408.9 46.0h0M393.0 31.2h0M396.1 49.8h0" stroke="#228d8d"/><path d="M405.2 41.1h0M393.2 53.4h0M399.3 67.4h0M391.3 55.2h0" stroke="#73d056"/><path d="M388.2 53.7h0M392.8 54.2h0" stroke="#84d44b"/><path d="M490.8 0.6h0M485.1 1.1h0M469.3 22.4h0" stroke="#470e61"/><path d="M396.1 23.6h0M393.2 20.1h0M387.4 24.5h0M399.0 59.7h0M394.9 24.7h0M393.0 12.4h0M398.7 11.9h0M394.7 37.6h0M404.6 61.0h0M410.1 71.8h0M413.7 64.7h0M416.8 63.3h0M410.3 49.2h0M405.0 62.4h0M403.3 64.0h0M417.3 47.6h0M408.6 37.0h0M394.9 31.2h0M419.3 45.8h0M413.8 72.6h0M413.9 49.4h0M387.2 25.4h0M404.0 16.1h0M399.6 49.3h0M389.0 49.7h0M387.9 27.5h0M398.9 35.9h0" stroke="#297b8e"/><path d="M394.4 26.9h0M387.9 47.5h0M407.5 50.6h0M390.4 29.5h0M405.7 71.1h0M401.0 62.3h0M394.6 38.0h0M414.4 53.9h0" stroke="#34b679"/><path d="M398.0 57.6h0M386.9 54.0h0M400.2 60.6h0M388.6 23.8h0" stroke="#c5e021"/><path d="M424.3 35.1h0M437.0 51.1h0M426.0 64.7h0M432.8 42.7h0M421.8 34.0h0M407.7 17.7h0M392.7 4.8h0M428.8 24.8h0M420.1 17.9h0M416.1 22.8h0M431.8 19.6h0M404.8 11.2h0M415.5 17.0h0M430.8 35.4h0M426.3 23.2h0M416.7 30.8h0M409.5 16.0h0M412.8 26.8h0M426.2 44.8h0M412.4 16.1h0M419.8 26.6h0M422.0 22.7h0M412.9 17.8h0M416.4 12.9h0M429.9 38.5h0M393.8 3.4h0M414.2 14.9h0M428.7 28.2h0M437.8 35.7h0M427.7 43.8h0M424.7 28.5h0M397.5 0.2h0M429.2 26.1h0M414.0 20.1h0M427.0 24.6h0M422.5 38.6h0M434.1 34.6h0M416.8 17.4h0M414.3 9.1h0M428.2 35.7h0M419.8 21.5h0M414.3 14.0h0M418.8 29.2h0M405.9 14.6h0M425.3 43.1h0M430.0 44.1h0M430.0 24.9h0M395.8 4.2h0M428.9 30.8h0M412.3 20.5h0M408.1 21.1h0M412.4 25.8h0M416.7 24.3h0M416.1 15.1h0M403.3 12.0h0M416.7 11.0h0M417.5 18.7h0M400.9 3.6h0M429.5 26.8h0M410.7 15.0h0M425.2 24.1h0M418.4 19.5h0M405.0 21.8h0M437.6 36.2h0M429.9 34.9h0M390.2 5.9h0M426.0 37.2h0M424.6 41.3h0M426.3 58.3h0M436.3 33.2h0" stroke="#424086"/><path d="M388.1 3.4h0M408.3 16.7h0M391.5 14.3h0M422.8 22.2h0M408.6 38.1h0M394.7 6.7h0M426.5 52.2h0M421.9 37.5h0M403.1 11.0h0M415.9 24.9h0M425.1 53.6h0M394.0 14.1h0M428.3 42.2h0M420.0 53.3h0M425.6 33.7h0M400.0 10.8h0M422.6 46.5h0M399.6 20.3h0M400.1 15.9h0M403.4 7.4h0M418.6 37.2h0M416.6 53.0h0M406.6 40.8h0M425.5 62.3h0M392.3 3.9h0M421.4 44.9h0M396.7 17.5h0M420.0 31.0h0M427.5 61.6h0M420.9 41.3h0M412.2 25.9h0M420.8 57.9h0M395.1 5.4h0M415.8 45.3h0M422.8 37.8h0M419.9 47.6h0M394.8 18.5h0M395.5 7.4h0M401.4 10.9h0M423.4 38.7h0M416.1 25.9h0M421.8 60.3h0M428.7 53.1h0M399.8 7.6h0M395.8 7.9h0M416.4 57.8h0M409.8 38.2h0M421.6 49.5h0M419.9 51.6h0" stroke="#3d4e8a"/><path d="M402.7 67.9h0M395.8 51.2h0M392.3 46.2h0M395.2 52.4h0M390.4 30.2h0M398.6 67.9h0" stroke="#56c667"/><path d="M404.3 35.1h0M390.3 34.4h0M405.4 72.1h0M397.1 57.5h0M394.0 58.7h0M407.2 57.9h0M395.1 52.6h0" stroke="#2cb17e"/><path d="M404.0 37.5h0M417.6 49.1h0M411.8 48.9h0M417.8 38.2h0M404.6 34.2h0M405.4 44.7h0M403.7 24.6h0M399.1 38.2h0M393.5 33.4h0M421.6 43.3h0M391.2 23.6h0M419.7 52.9h0M401.0 30.8h0M399.9 26.7h0M405.7 47.0h0M412.5 36.6h0M394.9 25.3h0M388.0 25.3h0M390.4 18.2h0M413.9 67.7h0M408.7 15.5h0M424.0 50.7h0M401.7 21.8h0M411.3 48.1h0M408.9 69.8h0M421.3 43.6h0M421.6 58.2h0" stroke="#30698e"/><path d="M387.6 41.3h0" stroke="#e7e419"/><path d="M398.5 39.2h0M395.8 64.6h0M403.8 59.7h0M387.9 23.3h0M394.1 28.2h0M400.0 34.0h0M403.3 44.3h0M393.6 44.6h0" stroke="#20938c"/><path d="M392.0 48.0h0M401.3 62.9h0M402.4 43.0h0M398.3 50.8h0M387.8 34.2h0" stroke="#4ac16d"/><path d="M413.8 20.5h0M412.1 53.5h0M416.2 60.2h0M423.3 40.2h0M421.7 48.8h0M415.5 50.0h0M391.3 5.7h0M424.0 42.5h0M421.0 80.9h0M400.2 23.1h0M413.5 31.8h0M417.3 58.3h0M399.5 27.7h0M415.2 32.3h0M411.9 37.0h0M386.8 9.5h0M413.9 59.5h0M411.8 22.0h0M413.3 45.7h0M405.3 24.9h0M419.2 61.7h0M411.0 59.8h0M390.2 25.5h0M404.2 17.6h0M396.6 21.1h0M407.3 19.3h0M420.1 24.6h0M419.2 22.8h0M408.5 24.2h0M410.6 42.0h0M414.3 60.4h0M410.4 37.9h0M404.2 27.0h0M416.6 33.1h0M416.0 21.5h0M405.1 41.8h0M415.0 76.0h0M420.4 49.5h0M415.9 41.2h0M406.5 46.5h0M410.8 27.4h0M405.4 18.0h0M410.9 46.3h0M405.6 31.0h0M409.4 54.0h0M404.0 38.6h0M416.8 36.1h0" stroke="#365c8d"/><path d="M390.5 59.3h0M392.3 53.4h0M399.3 61.0h0M389.5 32.5h0M387.2 60.2h0M387.8 47.6h0M387.1 47.5h0M387.3 55.6h0M388.8 51.4h0M389.2 55.1h0M387.8 60.8h0M386.6 58.1h0M390.8 57.0h0M392.5 49.4h0M390.8 59.2h0M390.4 52.2h0" stroke="#f6e620"/><path d="M396.7 8.7h0M396.9 4.0h0M414.8 30.4h0M426.4 33.4h0M387.5 6.9h0M413.2 28.0h0M386.9 1.7h0M415.2 76.1h0M426.7 33.8h0M389.3 5.8h0M399.7 14.1h0M428.8 37.3h0M431.6 36.3h0M399.3 5.7h0M415.8 30.2h0M417.8 14.4h0M433.9 44.1h0M415.2 31.9h0M409.8 34.3h0M413.9 16.3h0M419.4 33.6h0M401.5 8.7h0M437.7 45.3h0M424.8 32.3h0M391.3 6.5h0M436.5 39.6h0M389.7 10.9h0M420.8 31.5h0M414.6 34.0h0M405.4 10.3h0M398.0 4.1h0M411.5 32.0h0M419.0 20.5h0M413.8 18.5h0M420.6 23.8h0M418.8 19.1h0M427.3 39.0h0M404.8 11.4h0M407.3 11.6h0M411.6 40.8h0M422.6 40.6h0M416.3 27.7h0M416.5 29.1h0M403.1 11.5h0M407.6 28.0h0" stroke="#3f4788"/><path d="M389.8 22.3h0M400.2 28.3h0M408.2 27.8h0M406.2 36.0h0M396.9 29.4h0M389.0 23.3h0M425.0 49.8h0M399.7 66.1h0M401.2 24.0h0M402.4 14.5h0M419.9 45.0h0M410.3 71.8h0M419.0 50.1h0M402.4 38.4h0M420.3 47.0h0M408.3 50.7h0M390.1 21.7h0M412.9 29.7h0M409.6 29.6h0M415.6 36.4h0M390.2 15.6h0M420.1 38.8h0M389.8 11.6h0M412.3 74.7h0M415.6 69.3h0M409.0 21.9h0M415.4 45.0h0M420.7 37.9h0M387.0 12.5h0M413.6 26.2h0M418.7 53.7h0M407.9 26.4h0M391.9 12.3h0M411.6 52.9h0M391.1 18.8h0M408.1 50.9h0M422.4 50.3h0M405.3 39.3h0M418.9 37.6h0" stroke="#33638d"/><path d="M400.7 57.3h0M388.6 15.0h0M404.4 55.0h0M405.6 39.4h0M403.8 67.8h0M403.2 51.7h0M389.4 42.4h0M393.7 33.5h0M398.4 53.3h0" stroke="#1fa088"/><path d="M392.1 48.0h0" stroke="#a2da37"/><path d="M387.9 19.5h0M398.5 33.4h0M405.2 65.8h0M408.3 32.6h0M413.6 33.1h0M402.2 35.6h0M393.3 9.0h0M408.1 53.2h0M410.8 29.2h0M414.4 64.7h0M407.8 38.5h0M397.7 33.8h0M388.0 18.4h0M396.0 24.1h0M406.3 29.3h0M405.4 36.1h0M397.0 21.3h0M408.1 34.4h0M401.4 45.5h0M402.2 53.6h0M404.9 39.9h0M414.4 70.7h0M400.8 21.3h0M411.9 44.0h0M410.9 71.7h0M399.1 20.7h0M415.8 63.2h0M399.6 46.9h0M412.1 47.7h0M410.6 34.4h0M406.8 67.8h0" stroke="#2e6f8e"/><path d="M390.2 41.3h0M404.5 60.5h0M395.6 51.0h0M396.6 41.9h0M398.0 52.7h0" stroke="#3fbc73"/><path d="M405.4 33.5h0M396.8 41.0h0M399.2 51.3h0M403.1 44.0h0M405.7 62.9h0M390.4 17.7h0M408.1 73.3h0M420.6 56.5h0M389.3 18.8h0M407.6 65.6h0M412.3 73.1h0M396.2 40.4h0M396.5 45.4h0M403.1 49.5h0M387.4 26.3h0M407.7 64.1h0M386.9 24.7h0M403.6 52.2h0M401.5 61.7h0M402.1 53.5h0M396.4 45.4h0M399.4 52.8h0M388.1 24.6h0M386.8 33.8h0M405.3 65.3h0M402.2 68.8h0M396.9 30.9h0M389.0 41.8h0" stroke="#24878e"/><path d="M400.4 58.9h0M386.7 41.4h0M390.3 49.7h0" stroke="#b5de2b"/><path d="M444.7 25.2h0M432.6 8.8h0M439.2 12.0h0M446.1 16.8h0M431.7 3.8h0M459.2 1.6h0M448.8 1.9h0M435.6 9.3h0M443.0 19.8h0M446.6 13.4h0M442.7 3.5h0M449.6 10.3h0M446.8 51.2h0M437.0 11.9h0M455.4 5.6h0M406.4 1.9h0M456.1 9.1h0M433.1 14.2h0M436.3 0.1h0M437.0 7.4h0M427.6 15.4h0M441.3 0.7h0M454.8 10.1h0M445.0 30.6h0M458.8 6.6h0M447.8 32.6h0M452.1 6.1h0M441.0 10.1h0M448.3 6.1h0M448.6 10.5h0M428.2 9.5h0M438.2 12.9h0M455.0 6.2h0M447.5 0.1h0M458.2 11.4h0M426.6 0.6h0M448.2 0.8h0M427.1 8.7h0M450.0 3.5h0M447.2 11.2h0M450.3 3.3h0M448.3 10.8h0M426.7 2.2h0M439.7 1.3h0M441.0 5.8h0M446.2 30.6h0M444.8 14.8h0M435.5 5.3h0M439.6 2.4h0M450.3 5.6h0M431.8 18.6h0M443.0 12.7h0M456.5 0.8h0M439.0 10.5h0M434.2 23.6h0M456.9 6.7h0M436.9 9.7h0M449.8 5.7h0M448.9 8.8h0M452.0 18.8h0M429.6 0.7h0M462.1 5.1h0M438.9 11.5h0M445.1 8.7h0M438.5 2.4h0M443.3 52.4h0M434.9 10.9h0M441.3 10.3h0M428.4 1.3h0M445.6 1.7h0M445.8 6.4h0M434.4 13.9h0M445.6 19.6h0M434.6 16.8h0M417.1 0.8h0M448.0 7.2h0M435.4 6.1h0M448.1 33.7h0M440.5 12.5h0M431.3 15.1h0M426.9 6.1h0M440.4 5.2h0M435.6 21.9h0M432.3 2.5h0M440.4 2.3h0M432.7 13.9h0M449.7 4.3h0M452.5 2.6h0M437.1 13.5h0M455.1 8.2h0M434.7 6.4h0M449.9 32.6h0M455.5 6.3h0M457.9 11.3h0M452.6 10.9h0M433.9 9.7h0M454.5 20.8h0M459.5 5.7h0M450.0 17.5h0M431.2 6.1h0M435.3 2.9h0M436.9 2.6h0M445.5 0.5h0M444.4 14.6h0M457.8 9.6h0M451.8 19.9h0M445.0 5.6h0M435.1 19.3h0M460.6 3.8h0M453.9 10.3h0M442.7 22.8h0M442.4 37.0h0M430.4 6.2h0M436.8 8.8h0M431.1 3.0h0M459.4 0.1h0M432.6 7.8h0M462.1 8.0h0" stroke="#482878"/><path d="M435.9 7.9h0M436.6 40.5h0M419.9 5.8h0M426.8 42.1h0M442.5 24.9h0M433.4 5.7h0M439.9 23.4h0M413.1 8.5h0M437.0 21.5h0M426.3 12.8h0M417.4 0.3h0M425.8 12.0h0M441.8 23.0h0M428.5 18.9h0M424.1 5.6h0M430.7 21.5h0M435.3 8.8h0M418.7 5.4h0M436.4 7.5h0M433.6 18.5h0M438.8 26.9h0M419.6 0.7h0M421.9 6.1h0M417.6 1.5h0M433.6 41.0h0M421.7 19.2h0M449.9 29.2h0M433.4 15.6h0M405.2 5.5h0M436.5 59.7h0M433.7 13.3h0M424.3 10.7h0M450.3 13.6h0M409.7 3.7h0M439.2 22.0h0M429.3 30.8h0M435.8 19.9h0M426.2 10.1h0M422.5 11.6h0M432.4 22.9h0M415.8 1.5h0M442.8 25.0h0M431.5 6.0h0M444.7 45.7h0M436.9 27.6h0M434.5 37.2h0M437.1 23.8h0M436.6 21.2h0M415.5 2.9h0M429.1 0.6h0M420.7 5.9h0M434.8 8.0h0M420.1 7.9h0M434.5 24.0h0M427.8 60.7h0M443.0 29.1h0M444.5 14.0h0M435.2 27.4h0M409.8 2.9h0M426.2 27.5h0M418.2 6.5h0M434.9 58.0h0M431.0 15.5h0M444.4 32.3h0M416.3 5.6h0M439.9 20.3h0M418.1 9.9h0M427.8 13.1h0M416.1 21.2h0M433.9 30.8h0M437.8 26.4h0M441.3 37.7h0M419.1 7.1h0M433.1 28.6h0M438.2 47.2h0M443.5 17.2h0M426.5 21.2h0M420.6 2.4h0M419.9 6.2h0M424.9 2.7h0M436.1 22.3h0M432.7 15.2h0M441.2 25.7h0M436.4 24.0h0M441.9 19.6h0M432.3 20.0h0M438.9 26.3h0M438.3 5.7h0M427.7 8.8h0M419.6 8.5h0M422.5 2.7h0M430.1 11.6h0M432.0 2.6h0M424.5 0.5h0M427.9 9.9h0M435.2 9.9h0M446.7 18.1h0M437.8 29.4h0M424.7 4.2h0M422.5 11.0h0M449.2 23.8h0M431.2 3.7h0M414.5 74.8h0M441.8 30.3h0" stroke="#46307e"/><path d="M388.4 43.3h0M388.0 49.5h0" stroke="#d8e219"/><path d="M394.2 64.7h0M395.1 40.3h0M393.9 48.6h0M404.2 50.4h0M403.7 57.3h0M401.9 50.6h0M403.6 40.5h0M412.5 76.2h0M390.2 26.9h0M395.3 51.2h0M391.9 48.3h0M411.8 48.9h0M397.3 45.4h0M399.0 19.6h0" stroke="#1f998a"/><path d="M459.0 1.7h0M449.8 34.7h0M442.2 51.5h0M459.0 0.1h0M464.1 7.8h0M474.2 1.7h0M461.1 17.1h0M456.8 3.7h0M457.3 5.9h0M469.8 1.2h0M453.6 22.0h0M457.6 8.5h0M472.5 2.6h0M461.4 6.3h0M447.6 8.6h0M458.0 2.2h0M468.9 1.8h0M456.7 22.8h0M464.4 15.9h0M455.9 1.3h0M450.8 31.6h0M464.3 3.6h0M460.0 13.1h0M454.4 30.1h0M459.1 17.7h0M468.3 11.5h0M446.4 49.4h0M457.6 30.0h0" stroke="#482071"/><path d="M465.9 17.8h0M467.3 20.1h0M475.6 0.4h0M466.8 22.0h0M460.9 29.5h0M463.3 26.3h0M478.1 0.6h0M468.6 10.5h0M468.0 13.0h0M467.5 13.8h0M460.2 25.0h0" stroke="#48186a"/><path d="M400.0 22.8h0M403.0 29.5h0M405.0 26.6h0M410.0 56.9h0M407.1 49.0h0M388.1 28.2h0M403.7 63.3h0M408.2 51.2h0M394.3 47.5h0M393.9 35.3h0M401.1 60.9h0M407.0 58.1h0M414.6 43.7h0M412.4 52.9h0M408.9 61.9h0M401.5 38.8h0M387.4 2.8h0M400.0 31.1h0M403.5 50.7h0M404.1 47.4h0M391.8 32.1h0M400.1 29.3h0M411.6 40.8h0M396.5 39.2h0M417.8 55.1h0" stroke="#2b758e"/><path d="M395.8 58.8h0M392.2 45.5h0M403.6 52.5h0M403.1 50.7h0M390.5 55.9h0" stroke="#56c667"/><path d="M394.0 39.1h0M402.0 34.3h0M406.6 47.6h0M408.9 68.9h0M391.7 27.0h0M393.7 43.9h0M386.8 40.5h0M390.0 27.1h0M400.4 33.6h0M399.2 41.3h0M398.9 36.5h0M399.9 62.2h0M398.5 44.8h0M400.9 59.4h0M400.1 47.1h0M401.8 69.8h0M404.0 64.5h0M392.1 28.9h0M411.8 60.8h0M411.0 47.3h0" stroke="#228d8d"/><path d="M403.5 1.4h0M434.1 36.6h0M415.1 17.5h0M422.8 3.7h0M427.8 56.0h0M403.0 6.5h0M431.7 33.7h0M432.0 31.3h0M426.9 17.6h0M424.2 64.9h0M425.0 34.2h0M417.1 12.6h0M425.1 13.8h0M435.5 29.4h0M415.1 10.0h0M406.8 10.9h0M435.0 47.4h0M432.4 27.2h0M433.8 25.4h0M404.6 8.4h0M403.8 3.6h0M430.8 46.3h0M428.1 20.4h0M434.7 26.0h0M411.4 9.0h0M427.5 24.0h0M436.2 45.2h0M425.2 3.9h0M405.4 2.8h0M406.4 7.5h0M417.7 17.0h0M414.6 19.8h0M405.0 9.8h0M431.7 25.9h0M435.1 41.0h0M414.9 17.6h0M409.0 10.5h0M425.2 14.0h0M419.1 2.3h0M405.3 12.1h0M425.5 27.1h0M421.1 16.0h0M413.6 1.5h0M421.0 2.4h0M433.7 11.1h0M405.8 0.9h0M422.3 20.3h0M397.1 2.0h0M445.1 31.1h0M403.9 10.7h0M426.0 15.2h0M412.1 16.1h0M403.0 6.4h0M416.3 10.1h0M409.3 21.8h0M424.8 14.5h0M425.4 29.0h0M411.4 10.7h0M412.1 18.5h0M424.8 36.6h0M430.8 55.2h0M440.5 27.8h0M430.0 19.3h0M435.6 22.6h0M431.2 34.7h0M437.8 33.5h0M424.6 15.1h0M416.3 10.2h0M429.0 30.3h0M395.8 8.1h0M437.1 21.3h0M416.1 6.5h0M433.0 30.4h0M433.4 34.6h0M423.4 39.4h0M423.2 18.2h0M429.1 22.2h0M436.1 31.2h0M432.2 35.5h0M402.0 1.0h0M438.9 17.5h0M434.2 24.9h0M422.2 16.8h0M420.8 13.6h0M419.5 15.3h0" stroke="#453882"/><path d="M390.8 47.7h0M389.4 61.0h0M388.0 55.8h0M390.2 52.5h0M387.9 52.4h0M387.0 50.8h0M388.9 46.1h0M386.6 51.1h0M402.6 63.2h0M387.5 49.0h0M391.3 49.7h0M389.0 59.8h0M388.7 59.4h0M387.0 37.4h0M387.2 56.2h0" stroke="#f6e620"/><path d="M386.6 33.1h0M390.7 51.4h0M390.3 35.0h0M397.1 58.7h0M387.7 43.3h0M400.9 53.0h0" stroke="#84d44b"/><path d="M389.3 57.7h0M398.4 63.0h0" stroke="#c5e021"/><path d="M406.8 46.4h0M403.4 57.9h0M406.9 40.2h0M410.0 74.1h0M415.0 35.4h0M410.6 74.8h0M408.9 54.5h0M419.5 36.8h0M405.9 24.2h0M412.8 77.2h0M413.0 29.0h0M402.2 42.1h0M407.7 31.1h0M403.1 38.5h0M417.5 41.3h0M414.4 56.2h0M410.8 33.9h0M407.0 71.7h0M416.3 66.9h0M411.2 59.0h0M413.4 50.0h0M392.5 23.9h0M391.3 6.7h0M412.0 55.8h0M414.5 71.2h0M401.1 30.2h0M412.6 63.4h0M395.4 32.0h0" stroke="#30698e"/><path d="M457.3 36.6h0M471.3 18.0h0M454.9 38.1h0M464.6 20.6h0M476.1 6.6h0M471.4 6.1h0M467.5 11.2h0M477.5 2.8h0M466.8 15.7h0M461.3 37.3h0M461.1 36.4h0M464.5 17.7h0M470.7 13.6h0" stroke="#48186a"/><path d="M392.4 44.1h0M391.9 46.9h0M403.5 55.9h0M389.9 34.7h0M387.4 34.9h0M394.6 45.4h0M389.2 39.2h0M386.9 45.2h0M396.5 54.2h0" stroke="#21a585"/><path d="M393.3 33.2h0M386.7 39.2h0M387.1 53.9h0M395.2 58.1h0M389.4 51.3h0" stroke="#65cb5e"/><path d="M396.6 61.1h0M400.0 45.5h0M387.6 24.5h0" stroke="#3fbc73"/><path d="M404.5 7.0h0M429.3 60.0h0M423.7 56.0h0M422.8 54.1h0M424.7 48.3h0M413.0 21.3h0M399.9 8.5h0M424.1 56.2h0M409.8 8.2h0M405.8 22.5h0M419.1 53.0h0M406.7 27.6h0M421.8 28.6h0M398.7 15.3h0M418.8 70.6h0M413.6 41.3h0M421.6 52.2h0M418.4 34.8h0M431.4 55.1h0M394.9 4.0h0M405.0 24.5h0M412.6 28.1h0M409.4 21.8h0M424.0 57.4h0M413.0 71.4h0M404.0 1.0h0M402.7 21.3h0M404.1 11.7h0M423.4 18.3h0M394.2 9.4h0M429.0 39.4h0M421.1 47.1h0M393.3 9.3h0M412.7 34.9h0M399.1 2.8h0M415.8 50.0h0M415.0 29.8h0M393.9 11.4h0M409.1 22.4h0M412.4 36.9h0M400.4 19.5h0M410.2 12.5h0M412.1 17.5h0M413.7 34.2h0M411.8 33.5h0M424.1 50.7h0M417.7 48.2h0M425.5 37.5h0M400.1 1.7h0M408.3 27.5h0M404.4 30.4h0M403.4 9.9h0M429.0 32.9h0M393.7 22.0h0M428.8 43.0h0M424.8 39.9h0M400.4 12.6h0M397.5 10.3h0M415.5 60.1h0" stroke="#3d4e8a"/><path d="M397.3 40.0h0M391.2 32.6h0M388.6 54.3h0M403.3 53.6h0M392.1 27.9h0M409.5 43.2h0M390.3 46.2h0M402.4 59.4h0M406.1 67.4h0M389.4 40.7h0" stroke="#25ab82"/><path d="M413.4 62.7h0M393.4 35.2h0M417.5 36.4h0M409.8 52.5h0M406.6 60.8h0M410.6 45.5h0M394.1 29.5h0M394.5 27.0h0M407.0 18.8h0M422.6 48.2h0M399.4 17.9h0M416.6 60.9h0M406.6 67.1h0M393.7 28.4h0M386.8 24.1h0M401.8 16.8h0M418.3 55.3h0M409.3 49.0h0M413.8 35.8h0M407.5 41.1h0M409.9 70.7h0M403.2 28.5h0M394.3 14.1h0M392.6 21.0h0M403.0 55.6h0M396.6 61.2h0M399.7 34.5h0M402.0 28.9h0" stroke="#2e6f8e"/><path d="M399.2 58.0h0M408.2 68.0h0M399.9 66.8h0M391.5 29.5h0M398.9 61.7h0M406.8 48.2h0M409.5 65.9h0M411.1 65.9h0M410.6 66.3h0M410.1 38.1h0M408.6 69.7h0M408.2 46.8h0M395.8 34.8h0M395.0 26.8h0M408.1 68.7h0" stroke="#24878e"/><path d="M392.6 36.8h0M387.3 34.9h0M399.6 64.1h0M398.6 51.3h0M401.3 62.7h0M403.1 33.4h0M406.6 54.9h0M408.8 41.3h0M386.8 33.8h0M409.1 70.8h0M391.7 35.3h0M410.2 58.1h0M392.8 40.2h0M409.0 46.6h0M398.0 63.9h0" stroke="#1f998a"/><path d="M464.0 11.8h0M451.7 0.5h0M461.8 19.2h0M458.1 8.1h0M460.2 32.4h0M459.4 12.2h0M465.5 3.6h0M452.9 29.1h0M440.6 0.5h0M461.3 22.8h0M460.9 1.6h0M471.3 3.7h0M460.3 19.7h0M467.5 5.6h0M461.9 13.9h0M468.5 3.5h0M448.7 12.6h0M466.3 8.9h0M453.7 1.1h0M447.0 48.5h0M447.3 52.3h0M454.7 31.5h0M452.9 32.6h0M459.6 15.3h0M466.1 12.3h0M458.3 26.9h0M464.7 12.5h0" stroke="#482071"/><path d="M387.9 33.8h0M399.3 57.9h0" stroke="#a2da37"/><path d="M412.8 39.7h0M389.4 3.1h0M389.9 25.4h0M416.2 68.3h0M415.2 69.2h0M407.9 39.8h0M395.8 12.5h0M389.8 36.3h0M420.7 55.5h0M410.5 49.9h0M393.3 24.2h0M396.0 26.5h0M417.2 54.5h0M394.9 17.6h0M407.7 32.3h0M410.1 37.1h0M407.3 20.2h0M411.9 51.6h0M391.3 16.2h0M409.1 31.3h0M405.8 13.1h0M416.1 57.0h0M398.3 17.0h0M393.3 16.0h0M414.6 43.0h0M409.0 30.8h0M406.1 35.8h0M390.3 12.3h0M415.1 38.4h0M407.2 35.4h0M409.4 71.0h0M392.7 10.3h0M429.8 51.8h0M404.1 20.2h0" stroke="#33638d"/><path d="M402.0 25.6h0M425.8 51.1h0M422.0 50.8h0M414.7 43.0h0M418.6 43.4h0M388.8 9.8h0M416.3 79.5h0M408.6 14.0h0M408.4 18.8h0M399.6 11.7h0M423.8 45.7h0M427.4 35.3h0M423.4 47.3h0M400.1 19.5h0M406.7 30.3h0M428.3 35.1h0M416.9 65.3h0M415.1 29.0h0M396.0 16.1h0M412.2 40.3h0M407.8 20.9h0M390.3 11.8h0M405.0 26.8h0M418.9 37.8h0M396.2 13.9h0M393.9 7.1h0M417.6 56.7h0M423.2 52.7h0M415.6 52.9h0M397.2 18.9h0M387.1 12.4h0M391.0 11.2h0M403.8 48.7h0M412.4 41.8h0M423.7 45.6h0M393.7 16.4h0M414.8 73.5h0M421.9 34.5h0M424.8 50.4h0M417.9 23.2h0M401.5 6.3h0M400.0 11.5h0M407.4 20.7h0M392.8 5.1h0M398.0 19.1h0M420.1 52.0h0M418.2 41.8h0M394.3 14.9h0M425.0 71.2h0M401.5 15.2h0M400.8 31.0h0M394.0 23.4h0M412.7 22.8h0M416.2 54.5h0M417.7 42.3h0" stroke="#39558c"/><path d="M397.4 65.8h0M396.5 54.8h0M398.6 67.7h0" stroke="#d8e219"/><path d="M402.3 24.2h0M406.3 31.5h0M409.2 63.5h0M408.5 38.0h0M399.8 32.6h0M389.2 24.5h0M417.5 38.4h0M407.1 68.5h0M415.6 61.6h0M401.3 30.0h0M413.0 59.2h0M409.5 74.8h0M396.1 38.7h0M404.9 24.0h0M411.8 70.1h0M417.2 47.5h0M413.4 63.7h0M406.0 28.2h0M406.0 36.7h0M403.7 38.5h0M408.4 63.5h0M403.6 61.9h0M404.5 46.0h0M399.8 28.1h0M395.5 22.0h0M388.8 32.1h0M415.3 49.6h0M409.4 73.5h0" stroke="#2b758e"/><path d="M451.9 26.5h0M445.7 49.5h0M445.0 3.8h0M442.9 2.5h0M450.0 1.6h0M445.3 14.8h0M444.8 7.6h0M446.6 4.7h0M443.2 1.7h0M440.1 0.3h0M462.4 8.7h0M457.8 10.0h0M439.8 28.3h0M433.6 68.9h0M449.5 16.2h0M454.3 6.9h0M458.3 11.0h0M456.9 3.1h0M439.9 13.4h0M454.5 6.5h0M452.3 2.9h0M457.3 5.3h0M431.8 5.7h0M440.6 2.5h0M451.3 34.2h0M446.3 21.5h0M437.2 6.6h0M448.3 14.0h0M450.3 4.2h0M423.8 19.4h0M447.5 9.8h0M437.3 14.3h0M435.7 11.2h0M435.6 1.6h0M443.9 12.4h0M449.6 17.6h0M446.6 12.7h0M450.9 5.4h0M454.6 14.1h0M448.7 8.6h0M420.5 3.6h0M443.1 6.5h0M449.5 22.0h0M439.8 18.7h0M422.0 9.1h0M439.1 17.7h0M417.5 4.0h0M436.6 16.8h0M432.3 13.0h0M460.3 7.0h0M442.3 12.5h0M443.6 6.9h0M446.9 1.0h0M451.0 7.1h0M450.4 30.0h0M442.7 11.6h0M436.7 7.2h0M451.5 5.1h0M438.5 11.1h0M431.2 1.6h0M436.3 10.2h0M445.9 2.1h0M446.0 34.8h0M446.0 24.9h0M435.6 3.2h0M445.2 18.0h0M432.1 8.4h0M457.2 8.9h0M444.0 19.4h0M435.2 0.7h0M436.9 11.9h0M432.6 -0.0h0M445.1 29.8h0M438.0 13.1h0M456.8 13.3h0M412.4 4.2h0M454.9 1.8h0M450.7 14.3h0M426.6 1.9h0M446.7 11.1h0M436.4 7.8h0M433.5 4.3h0M450.9 6.8h0M435.0 8.3h0M442.6 0.4h0M424.6 4.0h0M437.2 7.1h0M432.7 3.3h0M454.3 3.1h0M448.7 4.5h0M439.3 3.2h0M448.8 15.4h0M441.0 9.6h0M441.5 27.1h0M436.1 2.8h0M443.6 6.4h0M456.4 17.0h0M455.9 0.5h0M448.7 13.8h0M453.1 13.5h0M433.4 8.8h0M445.7 14.4h0M437.5 10.4h0M437.6 14.3h0M443.1 5.6h0M436.7 20.1h0M453.4 16.9h0M440.7 9.9h0" stroke="#482878"/><path d="M389.6 42.1h0M387.1 45.7h0M395.2 43.0h0M395.3 50.4h0M398.2 64.3h0M401.3 62.4h0M387.9 55.0h0" stroke="#93d741"/><path d="M432.3 64.5h0M443.3 22.6h0M424.2 23.5h0M437.0 30.2h0M430.0 9.9h0M429.4 13.8h0M447.3 24.5h0M437.3 38.4h0M412.7 2.3h0M414.3 0.3h0M425.2 13.5h0M423.6 10.8h0M437.3 58.0h0M420.5 17.7h0M436.4 31.0h0M433.4 18.6h0M441.4 43.3h0M429.9 8.0h0M424.9 1.9h0M438.0 23.0h0M442.5 28.0h0M420.9 9.4h0M421.0 13.6h0M428.2 9.7h0M440.5 28.3h0M425.2 6.7h0M410.3 4.4h0M436.6 25.8h0M444.2 47.8h0M419.0 5.0h0M433.3 63.4h0M416.8 6.9h0M438.7 26.8h0M437.8 27.5h0M431.8 5.9h0M430.4 13.9h0M447.2 26.4h0M438.6 13.1h0M426.7 5.1h0M436.2 15.7h0M432.1 15.7h0M439.2 22.2h0M433.0 7.2h0M444.0 17.4h0M441.6 10.7h0M442.4 20.3h0M432.1 30.2h0M437.2 16.1h0M439.5 17.4h0M424.3 7.6h0M446.2 3.3h0M434.8 12.2h0M438.7 13.7h0M433.8 26.8h0M438.4 22.6h0M438.8 40.0h0M430.0 28.6h0M420.8 7.7h0M411.6 0.3h0M444.6 41.6h0M418.4 5.7h0M430.3 19.9h0M439.7 12.1h0M422.7 9.8h0M436.9 21.5h0M438.7 18.2h0M430.5 2.0h0M431.7 32.8h0M438.4 32.7h0M436.4 24.3h0M422.8 1.0h0M441.0 18.9h0M432.7 21.8h0M441.9 18.8h0M431.4 30.7h0M402.1 1.2h0M445.4 21.7h0M437.2 26.7h0M433.9 17.1h0M418.7 7.7h0M428.3 11.3h0M432.4 29.5h0M431.1 14.6h0M429.4 19.2h0M427.0 5.0h0M439.9 35.5h0M416.9 3.7h0" stroke="#46307e"/><path d="M393.1 30.3h0M391.7 45.8h0M390.6 47.5h0" stroke="#4ac16d"/><path d="M424.5 54.5h0M417.7 45.0h0M405.9 22.0h0M410.1 41.2h0M411.7 42.5h0M410.0 45.4h0M395.9 9.1h0M415.4 26.1h0M426.5 46.4h0M388.0 16.9h0M414.4 51.1h0M405.3 23.8h0M399.2 15.1h0M388.3 28.2h0M422.3 34.3h0M401.9 22.3h0M406.3 52.7h0M418.2 48.6h0M418.2 61.9h0M421.0 65.3h0M401.6 10.1h0M397.3 20.3h0M390.3 7.6h0M392.6 8.9h0M416.7 54.6h0M404.4 30.5h0M418.9 47.9h0M406.9 37.6h0M410.0 31.4h0M418.8 32.3h0M416.3 57.6h0M412.1 24.6h0M389.3 21.2h0M403.6 18.8h0M411.4 36.6h0M416.2 64.1h0M431.1 41.6h0M395.0 23.2h0M397.6 9.2h0M431.7 36.4h0M428.4 67.2h0M392.6 29.1h0M406.5 33.4h0M412.9 42.1h0M401.1 30.3h0M408.2 47.6h0M389.8 10.4h0M408.0 43.0h0M420.7 51.6h0" stroke="#365c8d"/><path d="M394.1 39.7h0M403.9 49.3h0M401.7 55.0h0M393.7 60.1h0M404.5 52.5h0M396.0 37.7h0M396.1 53.3h0" stroke="#34b679"/><path d="M396.3 24.0h0M390.6 15.8h0M400.9 45.6h0M409.5 71.7h0M388.2 23.0h0M403.9 37.6h0M397.8 32.5h0M408.1 66.8h0M414.8 38.3h0M393.0 35.4h0M402.9 24.3h0M398.3 32.1h0M387.6 24.7h0M411.5 64.7h0M399.3 36.8h0M398.2 47.6h0M405.3 38.5h0M415.1 59.9h0M395.8 39.2h0M393.9 39.4h0M403.8 45.0h0" stroke="#297b8e"/><path d="M407.2 37.6h0M415.4 58.9h0M401.9 64.8h0M397.5 30.2h0M407.2 70.3h0M407.8 72.8h0M397.0 41.1h0M406.1 35.5h0M391.6 12.7h0M396.9 38.3h0M386.7 19.6h0M403.9 66.7h0M404.8 56.7h0" stroke="#26828e"/><path d="M422.7 25.5h0M431.2 40.1h0M404.7 5.7h0M419.5 32.0h0M415.3 45.3h0M421.4 42.5h0M419.2 30.3h0M403.2 11.2h0M418.1 21.1h0M433.3 42.0h0M416.4 79.6h0M417.4 50.8h0M411.2 15.3h0M414.9 20.6h0M425.5 24.8h0M419.5 38.0h0M389.6 11.5h0M418.4 39.7h0M418.9 47.1h0M400.1 17.5h0M415.4 30.9h0M406.2 6.6h0M418.1 27.8h0M428.2 22.0h0M429.7 64.2h0M402.1 21.8h0M406.9 17.5h0M432.9 66.0h0M436.0 38.5h0M389.6 2.2h0M413.4 7.1h0M421.5 27.8h0M435.0 56.0h0M423.7 23.0h0M389.8 0.2h0M415.5 31.1h0M417.3 31.5h0M416.0 5.3h0M416.5 24.0h0M420.4 18.8h0M430.4 39.6h0M394.1 11.5h0M422.6 51.2h0M410.3 24.8h0M393.4 7.8h0M416.4 19.7h0M419.4 35.5h0M402.4 32.2h0M404.4 16.8h0M404.8 15.7h0M435.6 35.1h0M387.1 5.7h0M407.1 32.6h0M427.4 42.2h0M418.2 30.9h0M430.7 31.5h0M420.3 46.3h0M407.2 10.0h0M423.0 26.2h0M417.1 39.2h0M421.7 71.3h0M395.1 19.5h0M420.9 30.5h0M425.3 61.0h0M430.1 39.5h0M413.1 23.7h0M410.2 11.1h0M397.5 9.8h0M394.3 12.4h0M423.7 68.2h0M411.7 27.9h0M424.2 35.8h0M427.1 54.1h0M409.4 21.8h0" stroke="#3f4788"/><path d="M396.6 55.6h0M391.6 46.4h0M395.1 47.2h0M408.2 43.7h0M386.6 43.5h0M405.7 57.4h0M390.5 19.9h0M393.8 49.3h0M400.7 60.0h0M409.0 67.5h0M389.5 21.4h0M389.9 37.2h0M396.9 47.9h0M413.8 47.9h0M397.9 54.9h0M399.0 57.4h0M386.5 25.6h0" stroke="#20938c"/><path d="M401.8 68.8h0M394.9 36.4h0M406.3 54.7h0M403.6 60.9h0M402.3 49.3h0M405.6 63.5h0M402.3 46.3h0M400.1 59.4h0M401.7 53.7h0M409.1 53.8h0M394.9 41.6h0M386.5 31.9h0M390.2 45.8h0" stroke="#1fa088"/><path d="M476.9 9.5h0M484.6 4.4h0M472.7 21.0h0M478.4 11.1h0" stroke="#470e61"/><path d="M412.6 8.9h0M413.2 17.0h0M426.2 49.3h0M430.3 50.6h0M419.4 25.1h0M418.8 13.4h0M410.1 10.3h0M412.7 14.7h0M430.4 43.3h0M417.5 19.0h0M415.9 11.6h0M435.7 35.3h0M424.4 36.5h0M428.5 21.9h0M432.3 37.8h0M401.8 5.2h0M395.4 3.2h0M434.0 30.5h0M424.4 42.4h0M406.6 0.9h0M407.6 22.0h0M416.6 14.4h0M418.6 68.8h0M407.7 21.9h0M432.6 27.8h0M426.3 24.1h0M429.9 36.2h0M423.3 35.1h0M413.6 26.3h0M400.9 22.7h0M396.2 0.7h0M438.0 36.2h0M411.3 12.6h0M417.7 29.3h0M432.7 39.8h0M426.6 34.6h0M400.2 2.8h0M425.8 55.9h0M400.4 4.3h0M418.7 34.8h0M404.4 7.4h0M435.5 25.2h0M402.0 13.4h0M406.3 0.1h0M430.6 55.2h0M423.3 31.5h0M421.1 16.9h0M425.6 78.7h0M404.0 15.0h0M428.6 32.8h0M401.0 12.7h0M419.5 73.7h0M407.2 16.6h0M401.1 22.1h0M427.4 48.7h0M402.8 7.1h0M422.1 22.7h0M434.0 57.1h0M429.1 28.2h0M425.9 20.1h0M425.3 36.0h0M418.3 9.7h0M417.0 20.6h0M419.7 30.7h0M432.4 42.4h0" stroke="#424086"/><path d="M395.6 65.0h0M403.8 58.3h0M392.2 49.3h0M391.4 52.4h0" stroke="#73d056"/><path d="M390.5 35.8h0M395.4 53.4h0M397.0 63.1h0M404.5 71.5h0M400.9 62.1h0M403.8 39.1h0M396.5 65.4h0M387.6 47.2h0" stroke="#2cb17e"/><path d="M396.6 34.4h0" stroke="#b5de2b"/><path d="M420.2 49.1h0M419.5 22.7h0M402.5 13.8h0M418.5 38.8h0M394.7 6.6h0M402.3 21.1h0M397.8 2.0h0M416.6 28.2h0M426.8 49.1h0M418.3 50.2h0M425.3 32.3h0M416.9 22.1h0M405.3 10.9h0M409.1 26.2h0M429.2 42.9h0M430.8 46.8h0M412.8 35.3h0M401.7 11.9h0M413.2 75.5h0M429.5 34.5h0M416.6 44.6h0M421.1 39.4h0M397.7 9.8h0M417.3 66.9h0M390.5 8.3h0M422.6 33.4h0M406.6 24.3h0M422.9 40.5h0M411.4 20.9h0M421.4 36.5h0M411.1 14.7h0M426.6 55.9h0M402.1 33.4h0M416.8 53.4h0M435.9 38.1h0M428.1 20.0h0M400.6 16.3h0M412.8 32.4h0M427.5 37.9h0M395.2 10.2h0M414.7 48.1h0M389.3 9.6h0M427.0 33.5h0M422.4 32.4h0M403.7 44.6h0M422.5 26.2h0M423.7 51.4h0M409.0 17.7h0M417.1 24.4h0M389.1 12.9h0M418.9 46.4h0M405.6 5.9h0M422.7 41.2h0M414.2 30.9h0M409.9 19.1h0M423.3 61.0h0M424.2 43.1h0M406.7 23.6h0M415.2 40.4h0M401.3 32.5h0M416.1 27.1h0M415.1 24.9h0M421.9 26.2h0M412.6 76.2h0M401.2 7.7h0" stroke="#3d4e8a"/><path d="M400.0 50.9h0M411.4 60.9h0M411.4 46.4h0M411.0 70.5h0M412.5 63.4h0M411.8 45.5h0M387.2 9.7h0M417.5 56.7h0M407.4 21.0h0M416.6 60.5h0M392.0 23.6h0M396.9 51.5h0M401.2 25.1h0M414.1 63.9h0M408.3 72.7h0M389.3 15.4h0M410.7 47.0h0M410.1 64.9h0M408.7 40.9h0M411.9 40.6h0M400.7 41.1h0M415.0 55.8h0M407.0 65.7h0M407.7 31.1h0M411.3 32.6h0M395.1 33.1h0M399.0 33.9h0" stroke="#2e6f8e"/><path d="M421.8 8.1h0M399.1 5.1h0M422.2 29.2h0M432.8 31.2h0M420.3 23.2h0M435.9 20.8h0M422.8 4.3h0M416.8 10.4h0M411.0 2.0h0M427.0 65.2h0M425.5 16.5h0M428.8 28.6h0M430.8 16.8h0M413.7 16.4h0M415.2 4.2h0M428.4 21.3h0M411.3 12.1h0M434.3 20.6h0M440.6 37.3h0M434.7 24.2h0M421.4 7.1h0M413.5 -0.0h0M439.5 20.9h0M402.2 10.2h0M421.9 24.5h0M399.1 1.2h0M407.1 15.9h0M436.9 44.2h0M427.8 61.7h0M395.3 8.2h0M420.8 38.9h0M402.4 7.9h0M425.9 29.1h0M433.6 35.3h0M433.7 41.1h0M432.8 31.6h0M420.8 25.3h0M425.1 35.1h0M428.4 36.0h0M426.3 33.8h0M441.5 26.1h0M429.8 7.8h0M434.9 54.7h0M423.6 32.8h0M442.0 31.9h0M427.7 27.5h0M407.7 2.0h0M414.7 0.1h0M399.8 1.2h0M420.0 17.9h0M421.8 26.0h0M433.1 13.7h0M412.6 27.3h0M401.6 6.7h0M433.0 49.9h0M440.6 44.6h0M433.7 18.1h0M410.5 3.4h0M425.5 16.6h0M413.9 2.5h0M425.1 23.7h0M439.1 26.8h0M410.4 9.6h0M407.2 0.8h0M409.9 0.1h0M413.0 19.4h0M406.1 4.0h0M418.5 6.2h0M419.5 23.2h0M430.5 33.2h0M421.3 11.9h0M426.0 10.8h0M430.3 16.7h0M431.8 49.5h0M401.6 2.6h0M436.1 30.2h0M432.9 29.5h0M424.1 38.4h0M408.8 6.7h0M433.7 67.0h0M426.7 14.3h0M413.2 8.2h0M419.6 14.5h0" stroke="#453882"/><path d="M418.1 54.3h0M413.0 63.2h0M417.7 43.5h0M403.2 30.4h0M409.9 73.1h0M411.4 36.8h0M391.2 34.5h0M394.5 26.3h0M412.8 65.7h0M388.1 1.6h0M409.0 64.4h0M410.1 46.8h0M407.9 38.2h0M415.2 65.9h0M393.9 16.6h0M389.5 25.4h0M404.6 52.4h0M412.3 60.3h0M426.1 42.9h0M411.4 62.3h0M393.6 33.9h0M414.1 59.3h0M388.1 14.4h0M409.6 34.9h0M410.2 34.7h0M411.2 48.5h0M393.0 14.0h0M420.1 58.9h0M409.1 41.0h0M414.9 53.7h0M414.0 41.1h0M406.4 63.3h0M407.8 50.5h0M419.5 51.4h0M391.2 31.0h0M402.9 17.2h0M407.6 48.8h0M392.1 10.6h0M408.4 35.9h0M409.9 38.1h0M418.2 43.1h0M394.6 6.6h0M402.2 46.0h0M412.3 56.8h0" stroke="#33638d"/><path d="M389.7 46.5h0" stroke="#c5e021"/><path d="M398.7 36.9h0M403.3 55.7h0M396.3 41.1h0M394.4 39.1h0M393.5 42.6h0M390.9 46.9h0M395.2 32.5h0M393.7 41.9h0M394.4 39.9h0M390.3 32.8h0" stroke="#25ab82"/><path d="M397.2 34.1h0M390.4 44.4h0M390.5 35.9h0M386.9 41.8h0M403.3 68.5h0M400.5 47.7h0" stroke="#2cb17e"/><path d="M392.8 52.6h0M391.9 51.8h0" stroke="#84d44b"/><path d="M387.6 43.3h0M387.6 31.3h0M396.1 51.4h0M398.5 50.8h0M391.5 23.7h0M392.4 55.1h0M403.5 65.9h0M405.3 68.9h0M387.2 23.0h0" stroke="#34b679"/><path d="M411.1 69.9h0M396.7 55.3h0M405.1 52.6h0M404.8 53.0h0M410.0 52.2h0M402.8 69.1h0M404.1 53.6h0M402.3 33.3h0M391.8 47.8h0M400.4 65.6h0" stroke="#1f998a"/><path d="M416.5 44.8h0M393.4 13.7h0M393.6 15.0h0M399.3 14.3h0M417.1 42.1h0M410.1 30.7h0M395.4 9.7h0M420.8 25.7h0M406.1 44.8h0M416.1 52.4h0M410.8 31.2h0M423.2 44.7h0M402.9 20.1h0M394.7 12.7h0M404.3 18.5h0M417.1 54.9h0M404.4 29.5h0M421.2 46.1h0M396.8 38.5h0M400.2 24.7h0M416.8 43.6h0M406.5 37.5h0M391.1 21.6h0M427.5 43.8h0M398.0 0.2h0M414.2 66.2h0M404.1 21.5h0M406.7 44.8h0M404.2 28.3h0M417.3 48.9h0M408.6 29.2h0M408.1 26.4h0M399.0 22.0h0" stroke="#365c8d"/><path d="M442.6 31.7h0M452.5 29.7h0M446.3 30.0h0M435.2 2.3h0M413.5 1.2h0M447.0 14.6h0M451.7 16.9h0M441.3 18.3h0M445.3 20.1h0M447.4 12.4h0M445.1 11.8h0M461.8 8.7h0M454.5 3.4h0M431.9 7.7h0M442.8 14.1h0M453.3 8.8h0M444.5 28.1h0M440.1 22.2h0M440.7 8.0h0M437.0 22.0h0M462.8 2.5h0M435.5 11.4h0M442.1 5.4h0M432.3 4.0h0M451.6 3.5h0M446.5 9.5h0M448.3 27.7h0M421.3 0.2h0M429.6 0.8h0M440.8 0.3h0M450.2 11.9h0M436.7 12.4h0M419.2 5.0h0M440.7 2.3h0M418.9 0.5h0M450.6 5.9h0M435.0 6.9h0M431.2 3.1h0M446.1 15.0h0M447.1 11.7h0M439.7 23.8h0M450.1 20.7h0M460.7 7.0h0M454.3 32.5h0M441.1 11.4h0M448.6 2.4h0M438.6 4.7h0M444.0 8.1h0M447.4 0.7h0M415.2 0.9h0M438.5 17.6h0M435.2 1.2h0M430.6 12.7h0M452.4 5.2h0M443.9 17.2h0M458.7 0.6h0M443.8 12.7h0M450.1 11.8h0M432.7 5.5h0M434.1 2.6h0M445.2 13.2h0M442.2 1.4h0M434.3 12.2h0M448.6 8.4h0M452.2 19.0h0M440.3 13.2h0M460.0 2.1h0M439.3 18.6h0M451.6 3.0h0M435.7 6.0h0M451.7 35.1h0M448.1 9.5h0M440.8 0.6h0M446.1 32.0h0M444.9 43.2h0M445.5 10.4h0M448.3 7.6h0M435.4 12.9h0M455.4 14.9h0M436.5 14.5h0M425.3 11.1h0M453.9 17.2h0M446.4 7.8h0M424.3 0.7h0M424.8 5.7h0M416.9 8.0h0M445.4 36.1h0M424.3 3.9h0M456.1 15.6h0M446.7 20.0h0M437.2 14.2h0M442.0 6.7h0M443.9 4.2h0M451.8 8.8h0M440.3 42.7h0M448.4 28.1h0M450.9 11.3h0M445.9 8.6h0M447.5 29.7h0M435.1 3.4h0M452.8 37.4h0M455.3 2.2h0M445.9 36.6h0M428.2 5.2h0M435.9 1.9h0M439.5 12.8h0M446.8 38.3h0M453.7 22.2h0M453.5 16.0h0M448.9 25.8h0M434.5 5.3h0M433.7 3.1h0M432.0 3.1h0M448.9 24.2h0M449.3 2.2h0M432.1 12.5h0M442.8 46.4h0M443.5 11.0h0M441.7 1.4h0M417.0 1.2h0M455.7 23.6h0M445.3 39.0h0" stroke="#482878"/><path d="M401.3 28.3h0M407.9 18.3h0M395.1 12.0h0M412.4 73.1h0M405.2 21.6h0M420.0 64.5h0M389.1 4.3h0M400.7 27.5h0M392.5 3.7h0M387.1 4.2h0M401.9 25.6h0M410.5 43.7h0M414.5 44.5h0M395.1 15.6h0M389.6 3.4h0M415.1 28.9h0M418.4 26.0h0M387.7 15.8h0M412.5 43.9h0M390.8 24.4h0M405.2 18.8h0M388.9 13.1h0M414.9 22.9h0M414.3 34.8h0M404.9 20.9h0M419.6 46.7h0M404.8 27.3h0M411.7 31.3h0M425.9 57.0h0M399.6 12.7h0M396.7 20.3h0M407.1 59.9h0M414.3 33.4h0M414.4 63.5h0M395.4 18.7h0M413.0 38.1h0M416.3 32.2h0M409.9 34.0h0M413.1 43.8h0M395.9 35.0h0M416.0 75.5h0M387.0 21.0h0M405.5 36.1h0" stroke="#39558c"/><path d="M459.6 35.1h0M467.2 17.4h0M467.4 17.6h0M472.7 10.4h0M467.1 25.2h0M470.3 16.5h0M462.5 28.5h0M473.1 12.6h0M460.4 24.1h0M472.2 10.6h0M460.2 35.2h0M481.0 0.6h0M449.6 42.7h0" stroke="#48186a"/><path d="M398.7 38.2h0M406.2 31.5h0M415.5 33.6h0M386.8 35.3h0M414.3 54.2h0M408.4 62.2h0M407.7 41.0h0M406.3 40.9h0M397.2 24.7h0M408.6 44.0h0M408.4 33.6h0M391.3 26.9h0M393.5 39.1h0M392.0 26.9h0M412.1 65.5h0M400.7 47.2h0M416.0 49.5h0M402.4 28.7h0M412.5 37.6h0M416.6 49.5h0M417.9 57.1h0M390.2 9.8h0M414.0 66.5h0M403.6 53.0h0M404.5 50.5h0M400.9 29.3h0M414.4 54.4h0M400.7 19.7h0M402.0 38.3h0" stroke="#30698e"/><path d="M387.6 55.9h0M392.6 56.9h0M396.6 57.5h0M388.7 61.6h0M387.9 54.3h0M387.2 46.0h0M388.9 56.4h0M387.3 53.4h0M387.9 50.0h0M391.5 54.3h0M387.3 60.7h0M394.8 59.9h0" stroke="#f6e620"/><path d="M398.2 60.4h0M387.9 24.4h0" stroke="#56c667"/><path d="M402.0 13.0h0M414.0 23.1h0M412.7 15.5h0M408.3 14.1h0M420.5 51.2h0M431.5 57.8h0M423.5 39.5h0M405.8 18.2h0M426.1 29.7h0M412.3 29.3h0M397.3 2.9h0M413.6 15.0h0M396.7 11.2h0M413.8 22.7h0M417.1 23.0h0M412.5 28.0h0M431.3 38.6h0M414.4 31.7h0M425.6 37.6h0M419.4 28.5h0M422.9 24.3h0M404.6 6.7h0M420.1 41.3h0M420.8 20.5h0M422.0 33.8h0M414.8 15.4h0M419.9 22.3h0M400.2 9.4h0M429.3 45.0h0M417.2 16.2h0M411.8 19.6h0M415.0 19.9h0M415.2 42.5h0M423.3 24.9h0M417.8 20.5h0M392.4 13.9h0M418.5 32.0h0M406.0 24.0h0M406.7 24.1h0M426.2 47.5h0M418.4 16.7h0M419.0 15.9h0M419.7 25.2h0M415.4 19.8h0M391.2 9.4h0M391.2 7.6h0M414.0 27.3h0M420.4 50.4h0M416.3 33.0h0M420.7 31.6h0M399.5 7.1h0M434.5 31.9h0M415.6 2.3h0M411.1 18.2h0M403.9 26.6h0M430.7 64.3h0M427.1 59.7h0M427.7 49.9h0M420.0 34.9h0M422.1 43.4h0M399.7 9.5h0M418.4 21.7h0M416.2 18.0h0M409.0 26.8h0M395.4 13.0h0M427.2 32.6h0M432.4 45.9h0M413.1 16.6h0M394.3 3.3h0M390.2 11.8h0M430.5 61.5h0" stroke="#3f4788"/><path d="M400.2 55.7h0M387.2 22.3h0M389.9 43.1h0M401.5 50.7h0M399.9 34.7h0M407.7 69.8h0M399.4 45.6h0M397.3 51.9h0M400.1 44.1h0M409.2 69.2h0M401.6 61.4h0M412.4 45.5h0M394.0 31.3h0M394.4 39.9h0" stroke="#20938c"/><path d="M387.9 49.1h0M391.6 62.7h0" stroke="#e7e419"/><path d="M395.6 31.2h0M391.8 30.1h0M398.9 44.7h0M398.4 57.7h0M405.5 51.9h0M405.0 68.0h0M405.8 57.7h0M399.5 65.1h0M404.4 58.2h0M407.2 67.7h0M387.0 53.0h0M389.3 34.4h0M386.5 41.9h0" stroke="#21a585"/><path d="M409.7 57.2h0M400.4 38.1h0M412.7 64.1h0M407.5 32.5h0M406.8 50.6h0M401.9 41.4h0M394.9 33.1h0M402.2 47.5h0M389.4 23.3h0M387.5 19.6h0M398.8 65.5h0M407.5 69.2h0M399.4 43.0h0M394.4 29.2h0M391.0 23.7h0M389.8 14.1h0M404.3 48.0h0M392.3 30.1h0M408.5 51.1h0M393.3 29.0h0M398.3 46.4h0M393.8 34.6h0M391.8 35.7h0M406.7 61.1h0M393.8 35.6h0" stroke="#297b8e"/><path d="M394.1 62.6h0M393.1 47.7h0M399.6 68.0h0M394.5 64.0h0M396.9 61.8h0M390.0 53.6h0" stroke="#65cb5e"/><path d="M395.0 30.7h0M389.9 40.4h0M393.5 34.7h0M391.0 30.0h0M398.5 48.7h0M388.5 22.8h0M400.6 53.9h0M407.2 66.5h0M403.8 62.6h0M399.5 38.9h0M404.2 47.2h0" stroke="#1fa088"/><path d="M391.7 35.9h0M390.6 48.8h0" stroke="#a2da37"/><path d="M433.0 36.3h0M422.0 16.0h0M397.6 11.3h0M420.2 33.2h0M423.2 47.1h0M428.3 18.4h0M427.0 26.8h0M431.5 31.6h0M403.1 6.8h0M427.9 42.5h0M424.0 20.7h0M398.5 15.3h0M421.4 72.0h0M427.6 32.0h0M419.4 28.5h0M416.4 33.2h0M407.4 16.1h0M412.5 24.0h0M422.4 24.4h0M412.1 8.7h0M397.1 8.5h0M426.2 44.5h0M424.0 44.7h0M429.7 31.1h0M424.6 32.9h0M404.4 4.7h0M419.3 23.6h0M428.6 56.2h0M438.5 33.9h0M425.7 30.6h0M404.8 16.8h0M430.7 46.6h0M435.1 40.6h0M431.1 27.3h0M425.1 25.7h0M427.1 28.5h0M411.9 34.4h0M421.0 19.1h0M435.5 30.5h0M416.1 21.0h0M396.6 2.4h0M411.5 27.9h0M435.2 19.4h0M402.9 24.8h0M407.7 17.3h0M410.2 5.9h0M415.6 17.3h0M401.6 4.6h0M424.8 45.2h0M406.0 12.1h0M418.4 20.2h0M415.3 71.1h0M430.1 55.3h0M427.2 44.8h0M431.6 48.8h0M396.9 3.3h0M434.4 40.9h0M415.8 12.6h0M397.0 5.6h0M395.0 8.3h0M408.5 16.2h0M405.1 13.3h0M402.1 14.0h0M419.4 10.6h0M424.0 31.6h0M403.0 18.3h0M410.9 20.9h0M432.8 28.6h0M425.8 18.3h0M429.4 53.7h0M403.2 4.3h0M417.6 33.4h0M425.2 57.8h0M410.7 20.6h0M431.9 18.4h0M429.5 29.3h0M418.0 12.7h0M427.4 40.5h0M405.2 14.0h0M398.3 13.0h0M420.6 23.3h0M424.2 44.5h0M428.3 43.1h0M392.6 12.1h0M421.3 23.5h0M426.7 57.8h0M416.0 14.3h0M424.4 33.1h0M406.5 22.2h0" stroke="#424086"/><path d="M411.6 61.6h0M386.9 36.1h0M397.0 46.0h0M401.6 50.7h0M410.9 44.0h0M411.9 52.7h0M397.0 39.9h0M401.0 39.0h0M389.7 26.9h0M393.0 25.7h0M392.4 28.3h0M403.1 28.2h0M396.4 40.5h0" stroke="#228d8d"/><path d="M469.6 21.6h0M482.6 4.4h0M477.0 13.5h0M484.1 10.5h0M486.1 6.3h0M483.4 1.2h0M477.0 13.6h0" stroke="#470e61"/><path d="M387.9 49.7h0M388.5 43.1h0" stroke="#73d056"/><path d="M401.5 45.8h0M416.9 56.8h0M394.7 38.7h0M397.4 33.9h0M393.0 32.6h0M395.8 50.4h0M406.0 33.5h0M407.0 55.7h0M389.4 33.4h0M397.1 44.8h0M398.3 32.5h0M389.3 23.5h0" stroke="#24878e"/><path d="M399.1 35.4h0M392.1 30.4h0M399.6 45.7h0M398.0 61.3h0M406.1 60.0h0" stroke="#3fbc73"/><path d="M391.4 62.5h0M390.1 52.7h0" stroke="#d8e219"/><path d="M419.4 53.9h0M409.8 31.4h0M388.8 15.3h0M411.7 65.8h0M393.9 36.7h0M400.5 32.7h0M397.5 19.0h0M399.7 35.4h0M404.0 59.8h0M411.7 46.8h0M416.1 59.2h0M403.9 44.3h0M396.3 55.9h0M405.0 64.0h0M405.7 36.5h0M403.4 36.3h0M410.8 42.7h0M398.8 33.2h0M394.1 14.2h0M392.3 17.0h0M414.6 51.3h0M403.1 46.9h0M414.6 47.5h0M407.8 39.2h0M393.6 22.7h0" stroke="#2b758e"/><path d="M394.4 32.7h0M390.2 57.6h0M390.0 43.0h0" stroke="#b5de2b"/><path d="M396.8 46.9h0M398.1 54.9h0" stroke="#4ac16d"/><path d="M413.2 58.3h0M407.2 67.7h0M419.2 72.7h0M408.0 42.8h0M393.0 34.7h0M399.4 55.7h0M414.7 50.7h0M406.0 68.8h0M407.5 64.6h0M398.8 48.9h0M398.8 51.7h0M413.3 31.9h0M396.4 25.3h0M408.7 73.0h0M400.3 54.7h0M396.7 55.8h0M410.3 48.6h0" stroke="#26828e"/><path d="M390.8 30.7h0" stroke="#93d741"/><path d="M423.3 16.6h0M410.9 0.2h0M441.8 23.8h0M432.1 22.3h0M409.8 16.3h0M418.6 0.7h0M424.6 9.3h0M431.6 7.7h0M435.9 22.2h0M426.9 7.3h0M425.1 0.6h0M418.1 14.7h0M431.6 13.2h0M441.3 11.8h0M439.9 26.7h0M435.6 7.1h0M436.0 21.4h0M451.7 23.1h0M424.6 4.6h0M434.4 15.0h0M432.1 64.7h0M426.6 9.0h0M424.1 12.6h0M443.5 10.0h0M441.8 43.0h0M439.9 54.5h0M438.5 8.6h0M439.3 13.7h0M440.1 30.9h0M442.5 32.2h0M434.1 17.3h0M433.3 22.8h0M432.0 3.0h0M430.5 37.9h0M439.3 16.3h0M441.1 41.5h0M435.6 21.9h0M427.6 57.3h0M442.9 32.3h0M417.2 2.7h0M419.4 18.2h0M432.1 20.0h0M436.1 51.1h0M431.7 15.8h0M428.9 20.5h0M442.3 48.4h0M432.1 23.9h0M436.8 35.2h0M422.0 17.5h0M431.9 10.2h0M427.1 8.1h0M435.8 26.4h0M423.6 11.9h0M430.1 29.5h0M437.9 18.0h0M445.6 19.1h0M427.0 18.9h0M444.4 18.3h0M437.9 19.6h0M428.9 23.6h0M424.5 10.9h0M415.6 3.6h0M411.8 5.8h0M440.8 10.1h0M425.6 7.8h0M432.6 3.4h0M421.3 35.7h0M440.5 32.5h0M441.3 24.5h0M426.6 15.2h0M422.3 4.4h0M437.4 8.5h0M440.2 32.0h0M417.9 10.6h0M423.0 2.3h0M432.7 4.7h0M442.4 26.8h0M441.0 38.9h0M431.1 3.2h0M428.3 23.2h0M423.0 2.2h0M426.0 23.8h0M437.7 22.6h0M426.3 6.6h0M411.8 6.1h0M423.1 19.1h0M420.8 15.3h0M430.3 27.8h0M417.1 2.4h0M440.1 8.9h0M435.9 22.0h0" stroke="#46307e"/><path d="M464.7 7.8h0M463.6 7.5h0M460.8 20.4h0M454.0 0.2h0M468.2 6.5h0M468.7 0.1h0M458.8 24.9h0M448.6 41.7h0M454.1 27.6h0M466.3 1.3h0M459.6 20.0h0M462.8 3.7h0M448.6 36.0h0M463.6 19.1h0M446.9 39.9h0M467.2 2.0h0M457.0 14.9h0M463.9 11.9h0M458.1 19.8h0M469.8 0.4h0M459.1 0.6h0M469.6 0.7h0M452.0 24.2h0M474.3 3.9h0" stroke="#482071"/><path d="M388.9 36.6h0M399.8 54.6h0M391.0 49.9h0M388.0 48.8h0" stroke="#2cb17e"/><path d="M389.5 6.0h0M398.9 17.6h0M402.3 6.0h0M414.3 16.7h0M419.7 49.8h0M391.2 7.1h0M391.5 8.0h0M410.6 51.5h0M415.3 72.0h0M426.2 34.8h0M410.0 35.2h0M430.7 39.5h0M419.4 57.0h0M408.9 68.5h0M399.8 25.7h0M395.8 35.2h0M389.7 2.3h0M393.4 16.4h0M403.4 26.9h0M398.5 21.2h0M401.8 20.7h0M408.6 52.1h0M404.2 23.4h0M419.6 46.3h0M423.4 38.4h0M408.1 34.4h0M409.4 73.2h0M406.0 44.8h0M422.1 46.5h0M418.8 43.0h0M404.4 21.5h0M416.6 33.8h0M403.9 18.5h0M404.8 17.6h0M421.5 56.4h0M416.2 39.7h0M419.3 53.2h0M412.3 66.1h0M413.9 36.1h0M415.3 39.1h0M399.6 33.6h0M410.2 33.6h0M415.3 34.1h0M403.4 19.8h0" stroke="#39558c"/><path d="M406.8 30.7h0M402.1 39.0h0M402.2 60.8h0M397.8 39.3h0M400.1 63.0h0M404.4 67.0h0M404.5 63.4h0M407.7 64.3h0M410.5 75.3h0M401.9 42.2h0M410.3 60.1h0M392.1 24.1h0M393.3 61.8h0M406.2 65.6h0M412.2 63.5h0M403.2 63.0h0M397.8 37.7h0M386.8 21.3h0M404.9 31.3h0M396.9 33.9h0M402.2 38.0h0" stroke="#24878e"/><path d="M406.8 49.5h0M411.7 72.8h0M408.5 61.0h0M407.4 61.4h0M387.5 8.8h0M398.2 31.1h0M413.6 71.0h0M409.3 52.1h0M403.6 33.1h0M394.4 17.7h0M395.3 35.1h0M401.2 45.9h0M399.4 30.3h0M392.8 28.3h0M399.5 51.2h0M393.6 33.4h0M394.6 28.5h0M407.7 56.6h0M406.4 52.7h0M395.9 23.2h0" stroke="#297b8e"/><path d="M412.2 30.0h0M428.2 34.8h0M391.9 4.0h0M408.6 32.8h0M389.0 1.6h0M394.5 6.5h0M423.7 55.1h0M417.7 22.5h0M419.5 31.6h0M393.9 11.7h0M433.5 37.2h0M388.1 2.4h0M426.4 36.6h0M407.1 9.5h0M420.5 29.2h0M433.2 48.3h0M427.9 54.8h0M416.1 77.3h0M416.1 33.3h0M415.7 33.6h0M415.6 39.6h0M392.6 1.1h0M410.1 20.8h0M401.8 12.2h0M403.0 8.0h0M412.3 35.2h0M391.1 8.9h0M416.1 36.5h0M409.2 19.6h0M417.0 50.8h0M413.9 8.5h0M412.1 15.8h0M418.8 25.7h0M404.0 30.5h0M419.1 26.4h0M415.5 32.1h0M423.5 52.8h0M402.9 4.7h0M399.0 9.8h0M415.5 36.7h0M400.7 3.2h0M416.6 20.6h0M426.8 56.8h0M413.1 16.3h0M412.7 46.7h0M435.8 40.4h0M417.7 17.4h0M419.1 15.7h0M413.4 32.0h0M418.0 39.9h0M418.2 45.8h0M410.6 29.5h0" stroke="#3d4e8a"/><path d="M398.7 56.3h0M386.6 30.3h0M396.1 59.0h0M397.0 64.2h0M397.7 62.8h0M393.8 26.8h0M393.8 39.0h0M412.5 52.8h0M406.4 48.3h0M393.5 58.2h0" stroke="#4ac16d"/><path d="M395.4 25.0h0M406.7 57.2h0M407.9 33.5h0M407.4 24.1h0M424.5 58.0h0M411.6 52.7h0M395.5 13.6h0M391.8 19.8h0M414.0 67.9h0M408.1 30.5h0M387.7 13.1h0M414.6 68.7h0M400.7 16.9h0M410.8 59.7h0M389.8 29.5h0M399.6 17.7h0M408.6 30.9h0M408.6 68.6h0M389.1 9.2h0M396.1 23.5h0M403.2 36.0h0M388.1 3.9h0M408.5 74.5h0M409.7 62.2h0M399.6 24.3h0M411.5 67.8h0M387.8 7.7h0" stroke="#30698e"/><path d="M393.9 64.5h0M389.3 39.4h0M389.5 59.5h0M394.8 61.3h0M390.7 54.6h0" stroke="#b5de2b"/><path d="M421.2 12.9h0M430.0 17.2h0M428.4 6.0h0M421.6 1.4h0M444.7 25.3h0M425.3 5.1h0M437.8 54.4h0M440.3 9.5h0M426.0 11.9h0M434.8 14.5h0M438.2 17.4h0M443.3 36.0h0M433.4 52.7h0M438.6 28.9h0M443.7 27.1h0M418.9 3.6h0M430.8 3.3h0M444.0 46.6h0M429.5 9.7h0M429.1 15.1h0M438.9 26.2h0M434.0 15.3h0M415.7 1.3h0M445.4 20.0h0M435.8 3.9h0M435.8 12.7h0M402.4 3.0h0M427.1 8.6h0M413.1 4.6h0M423.4 3.6h0M420.6 9.8h0M424.9 2.5h0M436.5 0.1h0M432.7 0.0h0M431.9 47.7h0M434.0 23.5h0M440.0 13.9h0M435.7 52.4h0M440.7 9.5h0M425.2 24.4h0M432.3 28.7h0M418.4 1.1h0M433.1 9.9h0M440.6 45.8h0M432.8 24.5h0M435.3 21.9h0M431.5 23.6h0M435.0 5.6h0M421.0 8.2h0M446.9 14.0h0M423.4 14.3h0M425.9 6.4h0M423.5 4.0h0M423.1 4.3h0M435.3 32.8h0M424.6 5.2h0M425.9 7.3h0M421.4 11.4h0M446.6 36.7h0M434.8 14.6h0M417.1 0.4h0M437.1 38.1h0M430.4 12.9h0M438.3 30.9h0M441.3 13.8h0M430.7 18.7h0M430.2 3.0h0M434.0 16.0h0M435.1 19.4h0M438.3 31.6h0M431.0 0.7h0M434.4 14.1h0M426.3 3.3h0M433.1 7.4h0M430.5 5.6h0M439.9 24.1h0M431.3 15.4h0M419.5 3.0h0M442.6 23.8h0M440.1 19.5h0M434.3 1.0h0M422.9 6.6h0M444.3 22.6h0M431.6 12.8h0M424.0 13.4h0M434.5 40.4h0M432.5 32.8h0M442.4 29.6h0M429.7 7.6h0M443.5 20.7h0M436.8 9.7h0M439.9 14.6h0M419.8 0.6h0M433.0 18.9h0M438.3 17.9h0M442.6 39.9h0M433.9 18.9h0M441.2 34.1h0M419.6 2.2h0M427.5 5.8h0M425.6 5.6h0M435.0 10.5h0M430.4 20.7h0M425.9 5.1h0M425.0 24.2h0M424.6 2.0h0M411.4 1.8h0M416.9 5.1h0M414.9 2.4h0M439.6 42.1h0M437.8 17.6h0M426.4 8.5h0M434.7 26.4h0" stroke="#46307e"/><path d="M388.7 51.0h0M388.6 43.7h0M387.3 30.0h0M396.5 55.7h0M396.9 60.3h0M390.6 59.5h0M398.5 57.5h0" stroke="#56c667"/><path d="M390.0 41.7h0" stroke="#a2da37"/><path d="M396.2 56.9h0M390.4 58.1h0M396.9 60.8h0M396.4 63.5h0M412.2 66.0h0M388.9 48.0h0M390.2 43.3h0" stroke="#65cb5e"/><path d="M423.8 17.9h0M407.2 14.6h0M421.2 54.5h0M419.5 11.8h0M424.3 29.9h0M432.3 52.8h0M420.2 46.2h0M419.7 7.1h0M410.4 21.3h0M437.5 33.1h0M428.3 29.1h0M403.8 4.8h0M397.5 1.1h0M423.7 23.2h0M424.4 47.5h0M416.1 7.5h0M418.7 23.6h0M428.9 29.8h0M423.4 58.5h0M394.3 19.0h0M408.1 18.0h0M430.4 25.6h0M425.4 30.9h0M439.0 41.9h0M416.3 12.7h0M429.0 38.9h0M420.0 43.9h0M420.5 22.0h0M428.3 19.9h0M422.7 29.4h0M396.0 0.3h0M412.4 13.0h0M426.1 43.9h0M428.8 56.9h0M407.1 23.0h0M419.9 15.8h0M423.9 21.0h0M432.5 25.2h0M427.0 62.4h0M396.3 8.0h0M424.5 29.6h0M431.1 37.7h0M435.0 24.7h0M425.8 45.2h0M426.6 39.6h0M416.5 14.3h0M420.6 23.6h0M404.1 16.9h0M406.3 4.8h0M433.9 30.6h0M416.7 10.4h0M428.9 36.4h0M434.6 38.3h0M423.4 26.5h0M425.7 51.7h0M425.0 35.8h0M410.3 24.3h0M399.9 8.6h0M394.9 7.5h0M411.4 16.5h0M416.6 22.4h0M402.5 10.3h0M428.1 53.1h0M433.8 37.0h0M419.6 23.4h0M397.0 0.8h0M430.6 36.1h0M431.6 45.9h0M431.3 29.5h0M430.9 27.8h0M426.5 29.7h0M413.7 22.6h0" stroke="#424086"/><path d="M426.3 30.4h0M395.6 2.9h0M411.2 26.6h0M427.8 50.7h0M394.0 23.1h0M419.2 63.3h0M411.2 14.0h0M427.6 47.0h0M426.9 44.8h0M406.9 25.2h0M418.2 37.1h0M415.2 16.9h0M406.6 8.7h0M392.4 0.9h0M426.6 42.4h0M420.1 29.1h0M429.5 44.0h0M426.3 43.1h0M426.2 43.0h0M421.9 46.2h0M416.7 31.0h0M394.1 6.6h0M401.2 5.7h0M415.2 22.3h0M427.0 47.8h0M404.9 12.8h0M410.6 4.7h0M429.8 51.6h0M419.4 29.6h0M404.1 19.6h0M425.9 54.6h0M393.7 1.7h0M417.9 30.0h0M409.6 15.6h0M422.0 54.3h0M426.3 31.3h0M390.0 1.4h0M414.6 33.5h0M431.5 42.2h0M412.8 36.4h0M408.0 17.8h0M412.2 23.8h0M389.0 4.6h0M413.1 29.6h0M423.5 33.3h0M407.3 21.3h0M420.5 31.0h0M415.2 74.5h0M424.9 60.3h0M413.7 27.1h0M403.3 8.1h0M432.1 37.3h0M417.2 23.4h0M406.4 28.2h0M387.1 1.4h0M399.8 2.9h0M431.8 35.1h0M416.3 14.3h0M418.7 30.8h0M424.2 46.3h0M392.2 12.9h0M421.1 58.6h0M417.9 22.2h0M391.0 22.0h0M415.4 46.4h0M413.0 54.2h0M425.3 43.9h0M425.0 29.2h0M410.2 15.8h0M419.4 22.1h0M418.9 80.0h0" stroke="#3f4788"/><path d="M404.7 51.6h0M395.1 48.2h0M406.6 54.4h0M401.3 61.0h0M395.3 35.6h0M390.5 43.1h0M394.8 48.4h0M393.6 32.0h0M389.2 32.1h0M401.5 40.1h0M400.9 55.9h0M414.9 65.8h0M399.3 64.9h0M406.5 53.9h0M398.5 35.0h0M391.3 29.7h0M397.2 48.4h0" stroke="#20938c"/><path d="M406.2 71.7h0M401.2 48.0h0M409.0 39.1h0M397.9 56.4h0M409.8 71.1h0M415.1 42.3h0M407.1 48.6h0M412.9 46.7h0M406.8 70.4h0M416.3 56.8h0M418.4 40.9h0M403.5 37.9h0M393.3 29.6h0M404.3 67.1h0M407.0 37.6h0M400.0 59.3h0M404.3 59.2h0M390.5 30.0h0M403.5 71.0h0M401.7 35.7h0M409.8 50.9h0M422.3 69.2h0M392.4 18.9h0M394.2 31.9h0M396.0 50.6h0M400.5 39.5h0M394.6 23.1h0M416.6 67.3h0M392.5 28.9h0M415.8 54.3h0M415.2 63.6h0M406.0 50.6h0M389.0 18.4h0M404.9 55.2h0" stroke="#2b758e"/><path d="M387.8 56.9h0" stroke="#d8e219"/><path d="M389.1 40.5h0M388.9 39.7h0M394.9 49.8h0" stroke="#c5e021"/><path d="M403.0 67.1h0M398.5 51.3h0M390.4 22.0h0M402.4 46.7h0M397.4 50.9h0M391.2 39.4h0M407.7 52.4h0M390.9 34.6h0M390.9 37.1h0" stroke="#1fa088"/><path d="M388.4 33.2h0M405.8 53.7h0M401.4 44.6h0M388.3 41.4h0M390.0 27.2h0M393.2 44.5h0M400.2 60.2h0M396.8 56.3h0M391.4 36.4h0M391.7 41.5h0M412.5 61.0h0" stroke="#21a585"/><path d="M388.4 25.8h0M407.9 66.9h0M400.6 69.2h0M395.2 63.2h0M402.4 58.7h0M393.8 52.9h0M396.1 37.5h0M396.9 43.2h0M391.6 48.6h0M400.9 68.1h0" stroke="#1f998a"/><path d="M463.4 0.3h0M466.7 5.4h0M450.8 1.1h0M459.1 16.6h0M451.0 47.0h0M463.0 11.8h0M460.8 4.5h0M460.7 2.2h0M458.4 13.0h0M469.7 0.4h0M463.8 9.0h0M460.2 21.2h0M455.8 31.6h0M448.3 0.2h0M465.4 5.4h0M456.5 1.3h0M469.8 3.3h0M447.1 36.1h0M446.4 30.7h0M458.2 1.4h0M463.3 1.8h0M464.0 10.7h0M457.1 9.9h0M450.0 6.1h0M459.3 13.6h0M463.9 15.5h0M458.6 6.6h0" stroke="#482071"/><path d="M386.8 55.7h0M396.4 56.2h0M402.8 69.3h0M399.5 54.8h0" stroke="#73d056"/><path d="M403.6 70.2h0M400.2 67.3h0M405.9 67.0h0M389.0 32.4h0M396.2 47.4h0M387.7 48.0h0M409.3 63.0h0M401.2 62.5h0M391.3 47.8h0M401.2 58.4h0M398.8 36.0h0" stroke="#25ab82"/><path d="M435.9 67.9h0M447.0 19.7h0M447.3 8.4h0M452.3 23.6h0M417.8 1.5h0M434.1 5.4h0M435.8 2.5h0M456.4 13.9h0M455.1 1.6h0M439.3 18.3h0M451.3 12.2h0M448.3 1.1h0M445.0 18.1h0M438.9 0.3h0M452.1 24.2h0M436.3 5.1h0M453.7 7.9h0M430.8 14.5h0M443.9 7.0h0M460.9 6.8h0M448.2 1.0h0M438.4 15.2h0M451.2 1.3h0M456.6 12.1h0M445.9 19.0h0M456.4 5.3h0M448.0 6.6h0M432.1 3.0h0M449.6 23.4h0M432.4 7.3h0M441.2 11.4h0M438.6 8.6h0M434.7 4.6h0M459.6 8.0h0M445.4 50.3h0M450.4 21.0h0M451.9 3.2h0M428.6 19.5h0M430.1 8.4h0M443.9 2.4h0M444.6 0.8h0M444.2 8.4h0M452.4 18.3h0M454.2 9.7h0M446.5 0.3h0M430.8 4.3h0M445.3 12.9h0M442.4 16.1h0M449.0 9.5h0M430.5 65.2h0M443.1 0.3h0M446.6 3.8h0M433.7 7.0h0M448.5 27.9h0M443.0 4.6h0M443.4 8.6h0M441.3 19.2h0M421.3 11.6h0M447.8 10.6h0M443.2 7.6h0M443.7 13.8h0M431.4 3.6h0M441.6 8.5h0M452.0 2.0h0M448.4 4.9h0M453.8 9.8h0M446.3 2.9h0M448.2 17.9h0M452.6 5.7h0M455.5 2.9h0M450.7 15.5h0M443.7 12.6h0M449.3 24.5h0M436.8 28.7h0M447.6 41.2h0M446.6 12.3h0M432.6 11.6h0M446.1 30.1h0M445.6 10.8h0M432.8 15.0h0M455.4 13.1h0M430.9 5.1h0M446.5 27.8h0M449.9 20.1h0M432.0 6.0h0M441.3 0.4h0M427.5 5.8h0M453.6 11.3h0M433.0 -0.0h0M433.2 20.8h0M444.1 18.8h0M440.6 5.8h0M450.0 4.1h0M429.8 0.5h0M444.5 10.4h0M450.9 6.5h0M446.3 8.7h0M459.9 7.2h0M439.7 15.0h0M440.3 8.4h0M437.3 22.1h0M448.2 30.2h0M437.4 4.0h0M449.3 14.0h0M430.7 7.0h0M435.1 17.5h0M438.4 9.9h0M448.9 22.6h0M449.6 6.6h0M442.1 13.5h0M448.4 34.5h0M460.6 6.3h0M444.8 7.6h0M438.1 24.2h0" stroke="#482878"/><path d="M490.3 1.0h0M476.5 10.6h0M479.4 10.2h0" stroke="#470e61"/><path d="M400.8 64.0h0M391.3 39.6h0M393.0 24.6h0M395.1 56.7h0M387.3 23.3h0M395.1 61.4h0" stroke="#34b679"/><path d="M400.2 53.8h0M393.8 38.2h0M398.1 49.7h0M399.7 38.5h0M401.2 35.7h0M388.8 18.1h0M404.4 49.5h0M402.1 29.6h0M409.6 40.8h0M398.4 27.9h0M397.6 26.3h0M403.7 63.5h0M392.0 35.9h0M399.6 40.7h0M408.8 70.1h0M413.1 57.1h0" stroke="#26828e"/><path d="M432.0 32.3h0M408.5 13.7h0M425.4 53.6h0M425.1 20.8h0M431.6 50.9h0M402.7 4.0h0M431.3 14.1h0M430.8 20.2h0M443.1 13.9h0M416.8 21.8h0M408.9 4.1h0M419.9 22.5h0M434.3 18.1h0M424.8 24.4h0M430.6 32.0h0M431.8 57.1h0M403.5 1.7h0M407.5 15.1h0M429.0 23.4h0M404.2 7.4h0M404.7 9.8h0M427.7 13.9h0M421.7 11.6h0M432.5 25.4h0M425.0 17.1h0M396.4 2.0h0M439.0 48.2h0M430.8 23.6h0M403.1 4.6h0M412.5 22.1h0M410.0 19.0h0M439.9 27.6h0M427.9 23.8h0M439.8 36.7h0M408.6 7.5h0M397.1 1.3h0M418.2 15.6h0M410.9 14.6h0M437.6 42.3h0M427.7 40.0h0M437.0 32.0h0M402.2 6.6h0M419.2 32.9h0M419.8 1.0h0M418.5 8.4h0M402.5 1.6h0M417.6 10.8h0M435.8 33.7h0M431.3 29.5h0M413.6 5.6h0M420.3 41.8h0M420.1 8.3h0M427.3 39.0h0M412.6 25.9h0M405.7 1.4h0M415.9 18.0h0M428.9 31.7h0M418.7 15.3h0M429.0 42.8h0M422.8 14.1h0M428.2 27.6h0M415.6 24.0h0M441.3 28.9h0M423.6 14.9h0M427.4 52.6h0M397.5 1.9h0M421.8 22.5h0M435.1 36.9h0M421.9 3.4h0M428.6 25.8h0M424.3 25.2h0M399.1 0.7h0M421.7 55.7h0M425.4 23.2h0M422.7 46.0h0" stroke="#453882"/><path d="M388.5 48.7h0M396.8 64.7h0M396.6 65.5h0M394.9 60.3h0M386.7 53.4h0M388.8 49.9h0M387.6 58.1h0M386.7 45.2h0M392.3 49.7h0M393.8 59.8h0M390.2 53.8h0M392.0 57.6h0M395.5 64.1h0" stroke="#f6e620"/><path d="M406.4 73.0h0M401.4 60.9h0M402.9 62.4h0M392.3 27.4h0M406.7 57.7h0M399.5 55.0h0M403.8 69.7h0M402.9 41.3h0M399.7 44.4h0M410.8 60.8h0M404.3 37.2h0M409.3 60.7h0M399.9 62.4h0M390.9 53.7h0M417.8 39.8h0M410.1 72.2h0M397.7 33.6h0M396.4 41.6h0M409.6 70.9h0M403.2 57.7h0M408.8 50.9h0" stroke="#228d8d"/><path d="M475.5 0.2h0M462.3 24.0h0M457.8 31.6h0M469.8 11.8h0M468.2 17.3h0M460.4 26.1h0M464.3 25.5h0M457.8 30.1h0M459.0 34.2h0M468.8 14.2h0M460.2 22.2h0M475.1 7.6h0" stroke="#48186a"/><path d="M403.6 70.8h0M404.8 33.2h0M404.7 31.4h0M406.5 58.5h0M410.1 66.9h0M404.7 32.4h0M405.6 55.7h0M410.0 46.6h0M414.6 23.4h0M403.3 30.5h0M416.8 58.2h0M404.4 62.8h0M399.3 12.9h0M399.8 19.1h0M412.7 59.1h0M393.9 29.3h0M396.8 20.4h0M402.3 59.0h0M392.7 32.1h0M412.4 59.8h0M388.3 13.1h0M393.5 26.0h0M416.5 59.4h0M406.4 42.9h0M411.1 69.6h0" stroke="#2e6f8e"/><path d="M399.6 55.5h0M386.5 35.6h0M392.4 59.2h0M404.9 71.5h0M394.4 59.2h0M400.0 57.2h0M387.8 40.4h0" stroke="#3fbc73"/><path d="M388.1 41.8h0M390.2 34.3h0M390.8 60.4h0M389.3 45.5h0" stroke="#84d44b"/><path d="M409.4 75.2h0M401.0 6.3h0M412.3 47.5h0M411.2 33.9h0M398.3 17.9h0M413.5 35.9h0M411.3 21.0h0M396.2 30.0h0M427.8 38.7h0M412.8 63.1h0M413.3 64.5h0M408.1 19.3h0M394.7 6.4h0M388.0 27.3h0M392.0 14.6h0M412.2 57.7h0M404.9 30.6h0M426.4 61.8h0M423.3 46.9h0M413.1 59.2h0M428.2 40.8h0M405.9 63.4h0M414.3 24.8h0M388.7 11.9h0M413.2 25.0h0M397.9 9.9h0M405.3 33.0h0M399.9 28.0h0M417.2 26.1h0M398.9 16.4h0M410.5 56.9h0M416.6 42.4h0M408.1 59.2h0M404.5 36.6h0M387.2 6.8h0M412.1 48.1h0M406.2 23.8h0M402.2 19.2h0M418.7 41.6h0M399.7 17.7h0M407.8 26.5h0M403.6 25.5h0" stroke="#365c8d"/><path d="M402.2 40.0h0M398.4 17.5h0M408.7 65.9h0M418.1 60.2h0M401.5 23.6h0M395.5 31.4h0M417.9 60.4h0M389.7 13.6h0M407.4 46.2h0M405.2 35.7h0M414.2 40.9h0M417.4 37.1h0M404.0 33.5h0M408.3 25.0h0M413.8 64.6h0M416.9 63.5h0M424.1 66.0h0M390.0 23.3h0M398.8 25.9h0M412.1 59.3h0M404.8 17.3h0M397.8 28.6h0M386.7 9.5h0M407.5 48.3h0M421.3 63.2h0M397.4 7.5h0M406.5 22.4h0" stroke="#33638d"/><path d="M394.4 59.9h0" stroke="#93d741"/><path d="M399.2 61.4h0" stroke="#73d056"/><path d="M403.0 51.2h0M407.6 52.3h0M405.3 45.2h0M392.7 31.3h0M389.7 25.6h0M402.2 48.8h0M407.4 54.5h0M394.8 40.2h0M404.6 67.8h0M390.7 20.5h0M394.1 53.8h0M393.4 43.9h0M399.3 47.3h0M387.7 17.5h0M405.0 53.6h0M398.1 40.8h0M407.3 71.3h0M389.8 26.6h0" stroke="#228d8d"/><path d="M387.2 34.4h0M391.4 57.2h0M393.4 58.5h0M395.6 54.4h0M392.1 56.6h0" stroke="#65cb5e"/><path d="M416.3 12.3h0M419.9 49.9h0M412.5 9.4h0M416.1 35.4h0M412.1 25.7h0M406.9 13.1h0M403.3 2.2h0M407.9 11.5h0M408.7 24.1h0M423.1 60.9h0M401.9 15.1h0M406.2 31.4h0M427.8 49.4h0M417.0 58.7h0M395.6 12.5h0M410.8 20.3h0M409.5 13.3h0M389.8 30.9h0M404.2 11.6h0M408.1 21.0h0M419.0 18.2h0M410.2 9.7h0M390.9 10.0h0M416.1 68.1h0M408.8 20.1h0M401.6 17.2h0M409.0 47.6h0M404.5 9.0h0M417.6 16.2h0M388.5 13.9h0M407.3 12.2h0M398.5 14.9h0M422.6 53.9h0M416.3 26.9h0M421.4 50.4h0M411.4 33.2h0M414.9 23.1h0M397.8 13.4h0M428.8 55.8h0M403.6 26.8h0M419.6 27.1h0M390.8 4.4h0M416.6 21.0h0M407.9 22.5h0M413.6 36.4h0M415.6 34.3h0M393.3 7.2h0M410.9 37.5h0M418.6 33.9h0M407.8 65.4h0M411.2 25.9h0M403.2 15.4h0M411.5 33.1h0M415.7 33.1h0M430.3 39.2h0M422.9 55.0h0M427.9 50.8h0M430.4 44.1h0M417.3 47.1h0M403.9 26.5h0M420.8 40.1h0M394.6 18.8h0" stroke="#3d4e8a"/><path d="M449.3 5.8h0M431.2 13.6h0M456.7 13.4h0M444.1 8.2h0M437.4 0.9h0M433.1 7.2h0M431.4 3.5h0M423.0 4.3h0M426.8 9.3h0M448.9 9.6h0M456.2 10.4h0M459.4 34.7h0M440.1 30.7h0M433.9 13.3h0M448.8 41.5h0M435.5 8.4h0M433.1 0.9h0M448.5 20.6h0M448.2 19.0h0M445.6 3.6h0M421.3 0.7h0M445.4 18.8h0M447.2 21.8h0M418.6 6.1h0M445.0 17.1h0M442.1 1.9h0M445.9 11.5h0M448.7 6.6h0M435.7 9.0h0M437.7 50.3h0M450.0 4.7h0M427.6 5.2h0M437.7 13.0h0M427.8 3.7h0M448.6 13.1h0M459.7 4.6h0M457.9 10.3h0M436.4 23.1h0M431.7 2.4h0M440.3 8.9h0M436.7 18.3h0M442.0 18.6h0M453.6 10.8h0M450.0 15.7h0M442.0 7.3h0M438.2 5.4h0M449.8 11.2h0M442.0 55.6h0M435.4 10.7h0M456.4 2.9h0M460.8 7.6h0M446.7 8.5h0M436.4 5.4h0M448.7 14.4h0M435.6 9.1h0M446.3 8.3h0M426.4 10.0h0M418.2 8.2h0M429.5 11.2h0M457.0 0.6h0M443.8 13.6h0M455.6 8.4h0M452.9 30.7h0M449.7 17.9h0M446.7 21.9h0M431.3 1.0h0M439.3 18.2h0M433.7 57.1h0M448.5 11.7h0M449.2 8.9h0M450.3 14.9h0M450.6 14.0h0M434.4 16.1h0M449.3 9.0h0M436.3 25.0h0M439.9 14.9h0M457.0 17.6h0M446.6 6.9h0M443.9 38.8h0M456.1 8.4h0M457.1 14.4h0M434.1 10.3h0M447.7 9.8h0M450.4 5.2h0M440.3 0.1h0M436.3 0.2h0M434.2 0.5h0M448.9 6.6h0M439.2 4.4h0M436.0 20.1h0M434.1 4.8h0M456.6 1.2h0M443.1 15.0h0M426.7 10.5h0M441.5 1.0h0M439.2 4.6h0M440.3 2.9h0M444.7 0.5h0M440.0 2.2h0M455.6 11.6h0M439.8 5.9h0M428.9 5.1h0M449.5 24.6h0M440.7 1.5h0M438.4 9.8h0M444.9 22.3h0M420.6 0.9h0M461.3 4.6h0M434.3 1.0h0M436.9 4.4h0" stroke="#482878"/><path d="M423.2 8.3h0M443.4 42.5h0M445.5 21.7h0M441.3 34.9h0M417.7 9.7h0M414.8 19.0h0M438.6 31.0h0M431.3 9.5h0M428.4 12.7h0M428.7 3.7h0M435.5 25.2h0M421.0 17.5h0M425.9 9.5h0M439.9 23.8h0M422.9 17.5h0M428.1 10.6h0M444.1 21.9h0M437.9 24.9h0M431.6 3.9h0M428.4 0.0h0M437.9 18.2h0M435.8 22.7h0M437.8 8.5h0M424.5 17.4h0M431.2 22.7h0M432.8 16.8h0M436.0 13.1h0M438.7 21.3h0M429.3 19.5h0M442.9 22.4h0M440.5 15.9h0M431.6 7.9h0M426.3 11.1h0M444.3 28.2h0M429.4 5.6h0M435.5 24.8h0M422.9 7.5h0M435.7 49.4h0M427.7 20.1h0M432.5 17.4h0M436.9 25.2h0M435.5 14.4h0M426.1 19.5h0M430.5 8.8h0M430.1 12.5h0M434.5 44.4h0M412.2 2.8h0M434.2 25.8h0M421.2 15.4h0M441.1 45.4h0M430.2 3.5h0M440.3 14.0h0M426.3 22.5h0M418.1 1.0h0M408.4 6.7h0M436.1 19.9h0M418.1 1.2h0M429.4 16.7h0M413.4 6.7h0M414.3 4.6h0M440.7 42.2h0M437.9 21.3h0M419.5 18.4h0M438.5 20.9h0M420.2 7.9h0M430.0 16.4h0M442.7 12.4h0M422.3 13.9h0M427.8 2.4h0M439.6 37.5h0M428.5 19.4h0M428.4 16.5h0M430.7 20.8h0M430.2 11.2h0M419.2 6.7h0M433.6 13.2h0M433.9 14.3h0M414.9 17.9h0M442.0 22.9h0M419.9 12.1h0M442.4 34.6h0M432.8 26.4h0M425.1 4.4h0M441.7 19.2h0M421.9 4.8h0M439.6 0.2h0M440.4 44.1h0M433.8 23.1h0M415.7 3.6h0M419.3 17.3h0M448.3 23.4h0M426.4 2.9h0M440.2 29.2h0M436.1 30.2h0M429.6 13.0h0M434.3 23.7h0M432.3 16.2h0" stroke="#46307e"/><path d="M397.7 59.2h0M395.0 25.7h0M404.3 18.3h0M406.6 72.7h0M405.2 50.4h0M408.5 69.7h0M413.0 46.8h0M389.0 18.4h0M399.8 49.8h0M407.8 67.7h0M404.7 25.5h0M392.7 32.8h0M407.9 44.6h0M401.6 56.8h0M391.7 51.2h0M402.0 59.3h0M408.0 52.0h0M408.3 54.4h0" stroke="#297b8e"/><path d="M397.8 47.8h0M393.3 41.4h0M392.3 55.3h0M408.1 73.6h0M400.3 44.8h0M404.8 65.2h0M398.2 28.2h0M407.3 64.0h0M393.7 49.1h0M411.0 72.9h0M402.4 55.0h0M409.2 42.6h0M394.4 39.4h0M404.0 66.9h0M399.6 51.6h0M402.1 55.6h0M393.8 27.7h0M400.7 57.4h0" stroke="#24878e"/><path d="M429.1 27.5h0M426.4 35.0h0M433.3 22.8h0M421.8 52.0h0M432.2 27.5h0M428.7 53.4h0M427.1 35.2h0M411.8 13.3h0M420.8 13.8h0M402.8 16.4h0M417.4 43.1h0M430.8 27.3h0M411.1 20.5h0M430.3 31.6h0M423.4 30.3h0M396.5 4.4h0M413.6 0.6h0M413.8 5.2h0M433.0 27.6h0M423.0 36.3h0M405.9 6.7h0M413.7 27.2h0M409.1 16.0h0M420.8 4.8h0M420.7 11.6h0M442.1 40.8h0M439.2 49.4h0M396.5 4.6h0M420.1 8.4h0M430.0 29.3h0M416.0 32.3h0M409.4 9.3h0M408.7 11.6h0M397.1 7.7h0M422.2 15.8h0M430.9 42.6h0M399.0 10.5h0M412.8 10.4h0M427.9 44.5h0M417.1 27.3h0M430.6 16.1h0M430.9 53.2h0M423.3 70.0h0M413.7 26.6h0M406.5 6.1h0M411.5 31.0h0M424.3 27.7h0M413.6 21.8h0M404.0 13.8h0M406.7 5.9h0M407.3 20.1h0M392.3 1.6h0M434.3 35.9h0M412.1 26.0h0M408.6 10.3h0M393.7 4.0h0M417.4 32.0h0M402.3 4.0h0M404.0 12.0h0M423.2 33.6h0M424.2 45.4h0M411.9 27.4h0M428.9 22.0h0" stroke="#424086"/><path d="M405.8 25.5h0M402.9 30.9h0M395.9 14.2h0M413.8 21.6h0M398.8 18.3h0M405.5 28.1h0M406.0 66.4h0M413.8 61.6h0M401.7 28.6h0M402.5 22.9h0M407.0 13.3h0M425.0 53.7h0M397.4 22.6h0M392.6 21.1h0M400.5 16.4h0M389.5 15.3h0M410.6 66.5h0M413.8 43.2h0M423.5 53.2h0M407.1 38.9h0M413.4 56.3h0M406.1 41.0h0M402.2 58.8h0M398.6 9.3h0M420.2 61.8h0M397.4 33.5h0M398.2 18.3h0M412.9 54.1h0M419.7 54.1h0M395.1 19.0h0M393.6 12.2h0M401.7 30.8h0M392.5 19.3h0M409.0 35.2h0M418.6 48.5h0M398.1 23.3h0M406.7 54.6h0M417.5 60.8h0M415.3 57.0h0M409.1 51.5h0M416.6 56.3h0M408.0 38.6h0M400.1 15.8h0M400.6 32.0h0" stroke="#33638d"/><path d="M480.4 9.1h0M487.5 3.3h0M476.6 16.4h0M486.4 4.7h0M491.9 1.5h0" stroke="#470e61"/><path d="M391.9 57.7h0" stroke="#e7e419"/><path d="M396.8 31.9h0M399.9 27.3h0M410.6 65.8h0M392.5 23.7h0M402.0 54.2h0M410.8 60.2h0M410.2 51.9h0M387.9 23.2h0M403.1 59.2h0M391.6 41.3h0M414.0 66.9h0M401.7 20.8h0M413.4 48.5h0M403.5 31.4h0M405.1 60.5h0M395.1 32.7h0M410.9 39.2h0M413.6 56.0h0M419.0 49.0h0M389.1 2.5h0M409.5 41.1h0M417.6 52.7h0M391.1 25.1h0M408.7 61.4h0M414.9 51.8h0M391.8 38.5h0M391.2 17.0h0" stroke="#2e6f8e"/><path d="M467.4 10.8h0M455.0 2.1h0M465.9 2.4h0M462.3 15.1h0M473.7 0.7h0M467.9 11.2h0M459.1 17.8h0M465.7 3.0h0M450.6 23.6h0M453.3 33.2h0M463.0 8.0h0M457.8 18.2h0M462.4 6.5h0M460.6 4.0h0M452.9 6.7h0M460.2 3.7h0M459.7 11.3h0M473.7 0.1h0M467.4 7.0h0" stroke="#482071"/><path d="M392.0 53.4h0M391.5 54.2h0M390.9 46.8h0" stroke="#84d44b"/><path d="M395.0 17.0h0M431.0 48.8h0M412.0 53.1h0M402.7 3.4h0M413.3 26.8h0M390.9 1.8h0M408.5 57.4h0M401.5 9.2h0M409.8 47.9h0M401.9 33.1h0M416.8 32.0h0M410.0 28.9h0M415.7 47.8h0M416.9 51.1h0M406.2 49.4h0M403.6 13.8h0M413.4 75.1h0M412.1 35.6h0M415.5 42.4h0M393.4 19.0h0M408.8 35.0h0M405.2 25.1h0M394.9 7.7h0M398.6 31.9h0M409.0 30.3h0M391.2 9.3h0M396.5 20.1h0M410.7 14.2h0M422.5 50.0h0M414.8 30.6h0M405.8 48.9h0M424.8 60.3h0M412.1 48.0h0M422.7 46.4h0M397.9 4.1h0M418.7 30.8h0M394.4 18.5h0M401.5 28.4h0M414.9 51.3h0" stroke="#365c8d"/><path d="M398.5 42.7h0M405.7 49.3h0M395.6 41.0h0M398.9 61.7h0M393.3 57.1h0M392.5 45.8h0M399.9 54.9h0M406.0 59.2h0M391.5 41.8h0M395.2 57.6h0M400.9 53.2h0M404.0 61.1h0M403.4 65.2h0M399.9 57.6h0M403.6 67.4h0" stroke="#21a585"/><path d="M387.7 33.2h0M403.3 66.3h0M387.5 35.2h0M409.8 70.5h0M402.3 56.1h0M400.1 63.2h0M394.0 20.8h0M398.5 51.4h0M398.7 63.7h0M408.4 69.5h0M405.4 51.4h0M398.0 40.1h0" stroke="#1fa088"/><path d="M393.8 9.4h0M403.0 13.6h0M401.8 11.2h0M416.9 46.8h0M391.7 17.6h0M401.4 16.8h0M420.9 54.8h0M410.8 30.0h0M392.4 5.5h0M419.6 37.6h0M394.8 7.4h0M410.6 45.2h0M422.7 39.9h0M413.6 69.4h0M403.3 30.7h0M418.2 76.5h0M414.0 37.4h0M409.2 23.4h0M402.2 20.5h0M396.3 10.3h0M421.0 61.0h0M399.4 1.2h0M414.6 62.8h0M420.6 29.1h0M390.3 0.1h0M395.5 8.4h0M391.4 11.2h0M392.7 4.8h0M406.1 31.6h0M387.3 8.6h0M426.2 36.5h0M405.1 41.5h0M390.7 4.2h0M405.8 24.8h0M419.8 36.1h0M422.2 53.7h0M418.0 49.2h0M426.4 44.5h0M388.2 18.4h0M387.7 4.8h0M393.1 7.9h0M417.5 38.3h0M399.5 14.4h0M408.7 16.2h0" stroke="#39558c"/><path d="M411.7 66.6h0M396.1 16.2h0M411.4 68.8h0M398.7 25.9h0M415.9 51.9h0M388.3 15.1h0M415.7 59.6h0M398.0 32.8h0M397.1 22.1h0M414.0 77.9h0M413.8 55.0h0M419.0 39.3h0M409.8 59.5h0M414.6 59.4h0M402.4 39.7h0M393.1 24.6h0M414.8 60.1h0M419.7 48.6h0M411.9 65.5h0M403.5 54.6h0M406.9 73.2h0M406.7 37.6h0M407.8 44.9h0M392.1 30.5h0" stroke="#2b758e"/><path d="M392.1 29.2h0M417.9 36.5h0M388.2 42.9h0M404.8 54.9h0M393.1 28.3h0M405.9 51.7h0M414.9 57.4h0M409.2 67.4h0M405.7 72.0h0M400.5 44.9h0M401.5 55.6h0M399.9 17.4h0M404.6 47.5h0M401.8 41.3h0M402.2 41.9h0M404.9 67.4h0M418.3 39.1h0M408.8 70.9h0" stroke="#26828e"/><path d="M399.9 68.6h0M393.9 60.1h0M394.6 51.2h0M409.4 62.9h0" stroke="#4ac16d"/><path d="M388.0 43.7h0M388.9 60.9h0M398.2 64.3h0M391.9 47.9h0M386.5 41.2h0M387.1 57.1h0M389.6 43.8h0M390.1 59.3h0M396.9 65.0h0M392.5 56.0h0M386.7 50.7h0M394.2 45.8h0M394.3 58.7h0" stroke="#f6e620"/><path d="M399.4 62.2h0M394.6 52.2h0M394.8 37.9h0M396.0 56.0h0M387.9 34.9h0" stroke="#1f998a"/><path d="M418.4 32.7h0M401.3 23.1h0M420.5 67.4h0M408.6 25.6h0M411.7 40.5h0M430.0 34.2h0M422.1 67.7h0M400.1 3.4h0M421.2 49.1h0M407.4 11.2h0M398.8 1.4h0M430.6 30.1h0M420.8 57.6h0M413.4 11.1h0M418.4 41.3h0M427.8 55.4h0M407.1 21.5h0M411.8 30.2h0M428.2 31.2h0M393.3 6.5h0M405.5 7.0h0M403.7 27.9h0M409.4 27.3h0M414.8 19.0h0M426.8 34.5h0M431.8 38.3h0M407.8 13.8h0M412.9 28.0h0M425.1 33.0h0M421.9 39.3h0M420.9 37.6h0M424.3 41.4h0M419.5 71.9h0M408.3 11.1h0M392.5 1.3h0M428.5 30.6h0M422.5 39.5h0M401.2 16.3h0M408.2 20.3h0M417.8 23.9h0M396.6 8.6h0M411.4 19.3h0M409.5 23.2h0M432.5 48.5h0M420.1 34.5h0M409.7 15.1h0M391.5 2.5h0M416.0 57.0h0M417.7 31.8h0M417.2 32.3h0M423.4 20.2h0M432.9 47.6h0M425.0 36.9h0M411.8 31.7h0M409.3 16.4h0M416.0 39.6h0M431.2 40.6h0M395.6 8.3h0M412.8 14.9h0M406.5 10.9h0M411.7 28.7h0M394.6 9.6h0M399.1 20.1h0" stroke="#3f4788"/><path d="M422.0 73.0h0M404.1 5.6h0M429.7 21.5h0M438.8 28.7h0M435.4 48.7h0M421.5 11.8h0M415.7 16.9h0M415.6 20.7h0M426.1 21.7h0M421.2 5.6h0M420.0 73.7h0M427.3 11.7h0M427.4 23.4h0M430.9 40.8h0M444.3 39.6h0M434.8 61.7h0M430.9 14.7h0M412.1 0.1h0M414.5 13.2h0M440.6 26.1h0M427.7 33.2h0M435.1 34.7h0M443.3 32.4h0M426.2 15.6h0M432.9 35.0h0M417.9 4.6h0M436.2 51.0h0M416.9 7.6h0M412.5 9.3h0M431.7 36.5h0M435.3 23.4h0M406.8 1.8h0M433.3 18.7h0M432.2 14.7h0M422.5 5.4h0M434.3 26.6h0M416.8 10.9h0M410.5 5.3h0M424.1 17.5h0M435.4 34.0h0M432.0 54.9h0M424.6 23.8h0M436.0 19.9h0M425.0 12.5h0M423.4 27.9h0M426.7 10.1h0M417.4 16.2h0M427.0 16.1h0M423.7 19.1h0M435.9 24.0h0M417.5 8.8h0M429.9 8.3h0M435.0 38.1h0M420.1 8.5h0M408.3 2.4h0M433.5 46.7h0M421.4 35.4h0M419.6 12.7h0M419.1 4.2h0M439.2 20.9h0M418.1 24.0h0M432.5 39.3h0M408.8 0.0h0M418.1 16.8h0M422.4 19.9h0M433.9 40.0h0M413.6 16.0h0M429.2 34.5h0M423.8 28.0h0M418.7 5.3h0M416.9 16.7h0M433.2 33.9h0M431.4 22.7h0M428.7 54.9h0M436.8 24.9h0M408.6 6.7h0M436.4 14.6h0M416.1 12.5h0M420.3 30.8h0M424.3 16.4h0M414.5 10.1h0M444.1 51.6h0M420.8 13.0h0M408.7 12.6h0M442.2 45.0h0M430.6 22.5h0M425.5 13.9h0M418.5 3.0h0M419.4 21.9h0M413.1 12.1h0M414.3 18.3h0M413.4 9.0h0M412.6 3.2h0M440.2 36.0h0M433.2 53.5h0M399.8 0.2h0M421.2 11.4h0M429.8 29.3h0M419.7 9.2h0M436.5 24.7h0M418.3 11.0h0M418.2 7.7h0M433.2 59.1h0M408.1 0.7h0M433.4 24.1h0" stroke="#453882"/><path d="M394.5 58.0h0M391.0 46.7h0" stroke="#d8e219"/><path d="M391.0 35.4h0M400.4 47.5h0" stroke="#56c667"/><path d="M398.6 60.7h0M413.2 65.6h0M404.1 69.1h0M397.5 46.3h0M391.0 40.2h0M409.1 59.7h0M412.5 57.3h0M400.6 46.2h0M403.8 54.2h0M405.4 64.2h0M393.6 23.9h0M398.1 29.7h0M399.7 51.9h0M390.5 19.2h0M388.0 37.7h0M421.4 70.2h0M402.7 32.2h0M397.0 49.3h0M407.0 63.0h0M400.9 65.1h0M402.6 58.2h0M399.4 61.3h0M408.6 53.1h0M397.2 24.9h0M390.4 22.6h0M410.3 65.0h0M388.2 36.4h0" stroke="#20938c"/><path d="M392.0 40.5h0" stroke="#b5de2b"/><path d="M393.4 40.0h0M409.9 68.7h0M402.3 67.3h0M407.7 29.7h0M388.4 52.0h0M411.5 66.7h0M399.3 63.1h0M404.6 55.9h0" stroke="#25ab82"/><path d="M392.4 59.5h0M393.4 57.7h0M391.7 48.6h0" stroke="#c5e021"/><path d="M395.5 36.1h0M404.6 64.3h0M388.8 41.4h0M398.0 47.0h0M390.3 28.5h0M390.4 30.6h0M396.6 64.4h0" stroke="#3fbc73"/><path d="M388.7 41.0h0M402.7 59.0h0M391.7 56.5h0M406.3 44.7h0M386.8 30.8h0M392.6 52.0h0M397.0 53.7h0" stroke="#34b679"/><path d="M394.5 60.4h0M402.3 58.8h0M394.2 47.6h0" stroke="#93d741"/><path d="M463.0 24.2h0M463.0 30.8h0M468.4 10.4h0M465.3 20.8h0M471.9 13.8h0M470.1 17.5h0M470.2 21.2h0M463.5 16.9h0M452.9 42.5h0M458.7 29.7h0M467.1 23.9h0M468.4 11.1h0" stroke="#48186a"/><path d="M394.6 35.9h0M393.3 42.9h0M399.1 66.2h0M391.0 56.5h0" stroke="#2cb17e"/><path d="M387.7 44.0h0M389.0 38.3h0M386.5 51.9h0" stroke="#a2da37"/><path d="M402.9 59.7h0M421.0 36.6h0M417.9 63.6h0M406.7 39.6h0M391.8 39.3h0M399.5 36.6h0M406.0 38.3h0M401.2 37.6h0M410.5 36.6h0M400.8 24.5h0M406.9 34.9h0M399.1 43.1h0M402.4 16.3h0M387.4 6.0h0M405.2 37.7h0M402.9 13.5h0M393.4 35.2h0M400.3 42.2h0M411.6 36.5h0M400.4 27.7h0M398.8 26.8h0M400.4 29.2h0M419.0 47.4h0M411.1 56.6h0M393.1 29.6h0M388.9 16.1h0M407.6 51.3h0M403.4 38.9h0M410.3 44.3h0M413.8 44.7h0M405.3 69.0h0M410.7 34.6h0M403.5 23.1h0M412.2 71.6h0M401.3 28.9h0" stroke="#30698e"/><path d="M418.3 62.1h0M391.2 19.5h0M410.3 62.9h0M414.5 43.2h0M413.4 49.8h0M407.0 31.4h0M403.2 38.8h0M388.8 17.7h0M389.7 19.1h0M411.9 56.0h0M409.9 23.2h0M412.1 76.8h0M394.1 40.5h0M395.7 16.4h0M406.2 34.1h0M409.7 59.9h0M417.7 63.3h0M407.9 71.2h0M410.3 75.9h0M388.0 22.0h0M401.0 29.7h0M413.4 52.4h0" stroke="#2e6f8e"/><path d="M411.6 45.0h0M396.9 58.9h0M390.8 40.8h0M386.6 40.9h0M386.7 43.4h0M391.9 46.0h0M397.6 53.4h0" stroke="#65cb5e"/><path d="M389.2 30.6h0M390.4 60.4h0M397.0 66.1h0" stroke="#73d056"/><path d="M402.5 39.2h0M400.8 64.3h0M396.5 48.1h0M405.4 56.8h0M397.8 39.0h0M403.5 69.8h0M415.7 58.6h0M402.3 42.3h0M395.9 20.6h0M400.6 48.5h0M417.7 55.5h0M409.2 58.4h0M406.8 67.6h0M399.5 37.4h0M403.4 44.3h0" stroke="#228d8d"/><path d="M417.9 0.4h0M440.1 25.5h0M409.1 3.6h0M430.1 15.8h0M423.3 3.0h0M424.3 1.6h0M437.0 17.0h0M420.9 3.6h0M437.1 19.9h0M408.0 13.2h0M426.3 67.9h0M433.0 23.0h0M433.4 22.4h0M441.2 26.0h0M432.3 4.1h0M417.6 9.5h0M441.8 32.5h0M410.5 6.9h0M434.7 13.1h0M410.0 0.3h0M427.1 30.3h0M426.2 11.7h0M447.1 24.8h0M421.7 3.9h0M420.4 10.0h0M423.8 9.9h0M447.7 14.1h0M411.2 7.3h0M418.9 7.1h0M423.0 1.7h0M428.9 26.4h0M427.2 24.5h0M435.1 13.9h0M440.9 20.6h0M435.1 19.8h0M444.7 25.3h0M434.1 15.4h0M427.6 21.5h0M423.2 6.4h0M422.8 6.4h0M434.6 24.2h0M427.9 7.5h0M436.1 16.7h0M411.6 3.3h0M428.7 13.9h0M444.1 25.4h0M429.4 32.2h0M435.8 17.8h0M431.2 28.2h0M427.2 9.2h0M420.2 8.4h0M419.1 9.7h0M428.1 23.6h0M437.5 20.5h0M433.9 9.1h0M421.2 5.0h0M436.6 19.0h0M409.2 4.3h0M441.6 9.3h0M435.7 8.2h0M416.1 4.3h0M426.7 17.6h0M439.9 15.2h0M420.8 16.4h0M435.2 13.7h0M414.3 2.9h0M434.4 9.4h0M426.4 12.3h0M436.6 9.9h0M426.6 6.4h0M444.3 15.6h0M434.0 21.2h0M417.5 15.4h0M413.8 1.7h0M425.5 9.8h0M420.8 22.7h0M424.4 19.5h0M426.8 14.0h0M425.2 12.9h0M434.7 22.3h0M425.3 4.4h0M417.0 1.6h0M426.5 3.7h0M425.5 31.3h0M433.5 17.3h0M446.9 24.8h0M437.7 18.1h0M430.8 17.5h0M426.0 24.0h0M431.1 36.1h0M439.3 11.0h0M437.3 28.2h0M435.0 20.9h0M435.5 14.4h0M439.6 21.4h0M436.0 58.0h0M433.8 55.3h0M423.1 7.9h0M409.8 10.1h0M428.7 16.7h0M430.1 14.3h0" stroke="#46307e"/><path d="M401.7 44.3h0M402.5 14.8h0M412.9 52.8h0M409.1 71.4h0M392.9 28.2h0M419.1 47.6h0M404.0 40.0h0M400.0 37.9h0M412.6 70.3h0M389.9 13.0h0M394.5 29.2h0M408.3 44.5h0M410.8 55.1h0M390.1 13.7h0M414.5 71.4h0M408.6 54.0h0M412.6 45.0h0M390.4 12.9h0M400.4 53.0h0M417.7 64.7h0M417.8 58.2h0M404.2 39.6h0M395.4 39.1h0M406.2 54.5h0M398.8 29.5h0M391.2 22.2h0M404.7 39.6h0M412.4 70.1h0M399.5 40.1h0M403.2 59.2h0" stroke="#2b758e"/><path d="M475.6 11.0h0" stroke="#470e61"/><path d="M397.0 58.3h0" stroke="#c5e021"/><path d="M416.3 25.1h0M395.4 5.7h0M408.3 29.8h0M401.5 27.4h0M411.5 20.6h0M422.8 56.1h0M424.9 30.8h0M413.6 32.9h0M396.4 12.3h0M415.0 26.9h0M415.2 37.8h0M422.9 45.2h0M408.9 26.7h0M434.2 36.8h0M436.9 40.9h0M416.1 38.3h0M422.0 28.1h0M408.7 21.4h0M412.6 29.5h0M438.7 35.0h0M406.3 13.0h0M424.5 39.6h0M426.5 46.6h0M431.2 42.1h0M421.4 22.6h0M412.9 19.1h0M426.7 34.3h0M409.6 18.9h0M422.9 53.0h0M421.3 33.7h0M421.4 51.5h0M412.1 29.3h0M425.3 47.3h0M400.3 6.2h0M423.2 47.8h0M406.7 15.6h0M414.4 22.6h0M429.6 50.2h0M421.2 41.5h0M428.9 44.1h0M424.1 35.5h0M428.9 35.1h0M417.2 68.9h0M406.1 17.7h0M410.1 20.9h0M406.7 13.3h0M398.0 10.0h0M436.8 30.8h0M428.1 45.9h0M423.3 30.2h0M425.3 25.7h0M426.7 29.3h0M396.9 9.1h0M415.0 16.9h0M408.9 15.7h0M398.1 10.8h0M423.6 67.6h0M426.1 30.6h0M413.8 8.9h0" stroke="#3f4788"/><path d="M395.7 32.4h0M411.7 68.7h0M391.0 43.0h0M389.0 37.8h0M398.8 28.5h0M400.7 51.8h0" stroke="#1fa088"/><path d="M388.4 58.5h0M388.5 61.7h0M390.5 56.3h0M388.7 45.8h0M393.8 38.9h0M386.9 44.9h0M393.0 58.1h0M392.8 56.2h0M387.3 59.0h0M388.3 57.9h0M393.1 36.2h0M387.2 37.5h0M395.3 47.6h0M388.6 59.2h0M389.7 55.4h0M395.3 61.5h0M387.8 60.3h0M386.8 47.5h0M400.5 66.5h0M390.6 56.4h0M387.2 48.9h0M390.2 48.1h0M387.1 56.7h0" stroke="#f6e620"/><path d="M388.2 16.0h0M414.9 63.3h0M396.3 41.2h0M392.3 25.9h0M392.9 21.3h0M397.6 44.9h0M411.3 46.2h0M398.1 33.0h0M401.2 34.7h0M411.6 57.6h0M417.2 80.6h0M398.4 31.2h0M398.1 26.1h0M401.6 45.4h0M391.7 38.8h0M407.7 66.0h0M408.0 47.1h0M399.1 39.8h0M410.5 69.3h0" stroke="#26828e"/><path d="M387.1 53.4h0M396.3 63.2h0" stroke="#e7e419"/><path d="M410.0 29.7h0M391.7 22.3h0M416.8 65.3h0M402.2 31.1h0M400.7 38.2h0M415.3 60.5h0M424.2 48.1h0M390.7 5.0h0M388.7 14.1h0M414.6 36.9h0M410.9 46.8h0M388.9 12.5h0M407.1 16.7h0M413.7 58.6h0M419.6 36.6h0M417.2 55.4h0M411.8 36.6h0M410.0 37.4h0M414.8 52.7h0M407.8 40.7h0M418.7 34.8h0M425.5 64.0h0M409.5 24.1h0M403.0 70.1h0M403.7 42.0h0M395.7 18.0h0M413.1 14.2h0M409.8 53.1h0M409.4 31.5h0M415.3 57.8h0M387.0 11.0h0M387.8 13.4h0M418.1 67.6h0M422.5 59.4h0M390.5 8.5h0M401.9 19.2h0M411.1 57.4h0M413.5 52.8h0" stroke="#33638d"/><path d="M388.2 37.0h0M395.9 26.6h0M389.5 44.2h0M403.8 54.7h0M393.1 62.3h0M391.9 57.7h0" stroke="#56c667"/><path d="M467.9 1.6h0M463.9 20.1h0M453.8 34.9h0M454.6 27.4h0M460.2 15.7h0M460.0 1.0h0M462.1 8.1h0M457.3 3.1h0M467.9 6.8h0M461.9 10.1h0M462.7 9.4h0M460.2 14.6h0M463.3 7.5h0M456.8 25.3h0M450.3 4.5h0M460.1 4.5h0M458.1 12.6h0M460.2 0.0h0M448.9 45.6h0" stroke="#482071"/><path d="M388.8 36.5h0M393.9 61.6h0M394.5 65.0h0" stroke="#84d44b"/><path d="M405.4 68.8h0M390.6 34.6h0M389.3 31.6h0M391.2 17.5h0M394.3 48.9h0M406.7 70.0h0M404.9 45.1h0" stroke="#25ab82"/><path d="M426.2 32.5h0M418.4 13.4h0M425.3 14.4h0M404.0 2.5h0M417.4 14.7h0M434.7 29.1h0M429.9 12.5h0M419.1 22.5h0M426.1 33.7h0M414.3 20.2h0M435.7 26.3h0M414.8 16.4h0M424.1 25.7h0M424.5 27.3h0M432.4 43.3h0M416.6 10.1h0M427.9 21.3h0M424.4 29.7h0M410.5 8.6h0M426.9 38.7h0M435.4 24.6h0M427.8 21.1h0M409.2 19.1h0M423.2 35.4h0M444.9 18.9h0M436.1 41.6h0M425.4 14.2h0M435.9 48.7h0M428.0 39.7h0M419.1 14.0h0M427.8 51.0h0M425.0 28.1h0M406.3 7.8h0M411.3 16.1h0M409.3 21.9h0M428.5 21.7h0M415.6 19.2h0M416.8 1.0h0M404.9 10.4h0M428.1 13.0h0M428.9 22.8h0M422.3 13.9h0M437.7 39.3h0M416.9 14.5h0M426.2 13.1h0M407.6 11.0h0M404.2 11.9h0M416.8 4.2h0M432.7 32.5h0M439.8 16.7h0M431.9 29.1h0M406.6 2.2h0M429.9 17.0h0M427.6 19.3h0M432.7 16.2h0M405.3 2.6h0M424.6 15.1h0M423.4 9.1h0M436.1 36.8h0M415.7 15.6h0M435.3 22.3h0M430.0 37.1h0M426.9 30.2h0M422.2 27.7h0M438.3 36.6h0M415.1 23.7h0M438.9 43.3h0M429.1 7.6h0M421.7 18.7h0M413.8 13.8h0M421.2 26.7h0M420.9 26.4h0M417.6 34.9h0M419.6 14.5h0M415.6 1.9h0M440.6 33.2h0M430.1 15.0h0M422.6 44.1h0M425.6 20.5h0M429.6 15.5h0M432.5 12.6h0M421.9 13.5h0M412.2 14.4h0M421.0 29.5h0M430.3 22.2h0M395.0 6.6h0M412.9 20.2h0" stroke="#453882"/><path d="M409.9 66.6h0M418.5 66.6h0M413.0 49.5h0M426.8 39.0h0M418.1 49.5h0M414.6 58.1h0M403.3 15.2h0M403.4 32.0h0M412.6 27.3h0M398.9 29.1h0M391.0 28.8h0M418.2 51.3h0M427.7 37.0h0M410.6 35.4h0M406.7 46.8h0M415.2 33.0h0M388.1 28.3h0M418.2 36.5h0M419.5 55.8h0M386.9 12.3h0M413.2 42.8h0M425.0 46.7h0M415.7 29.8h0M406.0 17.9h0M421.3 53.0h0M412.5 57.0h0M392.9 13.7h0M406.3 40.9h0M414.9 68.2h0M407.4 60.3h0M410.8 73.8h0M398.6 16.8h0M399.0 6.8h0M386.7 7.0h0M420.2 47.5h0M403.0 20.5h0M406.1 41.5h0M417.3 57.2h0M409.2 38.7h0M392.8 3.9h0M415.3 56.1h0M408.1 21.4h0M428.9 40.9h0M418.1 34.9h0" stroke="#365c8d"/><path d="M386.6 41.5h0" stroke="#a2da37"/><path d="M399.8 19.4h0M394.5 15.4h0M419.3 39.9h0M406.6 44.4h0M418.2 51.1h0M418.9 36.4h0M414.8 68.0h0M410.2 66.3h0M393.6 6.5h0M389.1 7.3h0M414.0 23.8h0M401.7 32.5h0M392.0 7.8h0M418.8 42.6h0M416.4 70.0h0M405.8 11.4h0M416.8 50.7h0M414.7 41.5h0M423.5 50.6h0M414.5 28.9h0M427.4 56.7h0M407.0 12.7h0M399.7 7.8h0M412.7 45.6h0M413.2 67.2h0M391.7 20.5h0M394.2 11.4h0M417.5 76.1h0M408.0 26.1h0M422.0 35.4h0M416.3 50.1h0M415.8 43.2h0M394.6 21.5h0M423.2 51.1h0M394.7 18.6h0M397.8 15.2h0M405.2 35.6h0M424.3 56.0h0M395.7 7.2h0M400.9 10.3h0M424.0 51.8h0M388.4 5.2h0M393.6 5.9h0M394.3 9.2h0M416.7 27.1h0M414.2 39.6h0M420.7 54.5h0M396.5 11.8h0M399.1 1.0h0M409.9 24.1h0M400.5 24.8h0" stroke="#39558c"/><path d="M390.3 39.4h0M391.6 42.0h0M391.6 58.1h0M394.9 60.2h0M404.6 65.3h0M405.6 59.3h0M399.5 43.8h0M397.3 42.7h0M393.9 56.6h0" stroke="#3fbc73"/><path d="M395.5 37.8h0M399.4 41.0h0M410.6 51.5h0M386.5 34.0h0M408.5 73.9h0M395.5 54.6h0" stroke="#2cb17e"/><path d="M411.2 60.3h0M397.3 41.9h0M411.4 58.8h0M409.4 49.4h0M397.6 42.7h0M398.6 38.1h0M389.2 23.6h0M407.0 64.1h0M386.7 38.6h0M392.8 37.2h0M402.4 58.4h0M406.0 55.3h0M398.4 49.1h0" stroke="#20938c"/><path d="M398.6 50.2h0" stroke="#93d741"/><path d="M441.6 25.9h0M443.1 9.9h0M434.5 29.7h0M431.2 9.7h0M440.7 0.3h0M425.1 6.4h0M427.2 4.7h0M442.6 6.6h0M433.9 1.8h0M447.0 33.2h0M445.5 16.9h0M447.3 5.2h0M431.6 0.0h0M446.3 15.3h0M450.3 0.6h0M443.1 42.5h0M440.7 5.5h0M431.8 24.4h0M441.3 18.2h0M446.7 25.7h0M435.1 54.6h0M444.2 17.3h0M430.5 9.6h0M464.3 2.0h0M441.8 5.6h0M446.8 27.2h0M450.0 16.3h0M448.7 7.5h0M446.5 19.6h0M451.3 2.6h0M452.4 21.5h0M452.0 11.4h0M443.0 12.1h0M443.4 40.0h0M427.6 10.6h0M432.3 0.5h0M438.0 16.4h0M444.8 2.9h0M431.8 4.2h0M426.0 9.8h0M445.0 6.4h0M446.9 14.4h0M452.0 12.1h0M445.5 12.2h0M447.4 6.0h0M440.7 10.8h0M454.7 11.1h0M440.7 13.5h0M436.2 12.0h0M449.2 6.7h0M443.3 4.2h0M450.6 5.2h0M440.6 12.2h0M436.9 8.4h0M435.8 22.5h0M453.5 14.5h0M420.2 8.8h0M453.2 9.5h0M439.3 1.5h0M455.0 14.0h0M455.8 17.0h0M429.3 9.4h0M450.6 5.6h0M448.0 34.9h0M431.6 7.4h0M455.6 0.3h0M433.4 2.2h0M422.3 3.7h0M445.9 3.3h0M451.1 39.0h0M450.3 22.1h0M442.3 43.6h0M450.8 11.1h0M428.0 3.6h0M448.7 26.5h0M415.8 1.3h0M445.2 14.5h0M445.8 14.8h0M430.5 0.3h0M436.5 6.7h0M438.2 24.0h0M463.4 4.5h0M442.3 25.0h0M446.4 17.2h0M430.9 12.2h0M438.6 7.1h0M449.4 12.0h0M445.8 0.5h0M442.6 14.9h0M424.6 0.7h0M453.7 5.7h0M440.0 18.6h0M431.5 5.0h0M457.0 1.3h0M431.5 0.5h0M458.8 7.3h0M442.7 43.7h0M440.8 15.4h0M439.9 2.6h0M440.1 9.6h0M437.5 60.7h0M445.9 37.3h0M423.8 1.4h0M442.6 2.0h0M449.8 2.9h0M453.3 7.4h0M432.6 4.7h0" stroke="#482878"/><path d="M408.0 62.4h0M399.8 38.6h0M411.0 37.6h0M413.2 59.9h0M401.1 37.5h0M388.4 36.2h0M398.9 33.5h0M393.9 31.4h0M413.0 52.1h0M399.5 48.7h0M406.7 45.5h0M395.8 31.1h0M396.5 43.9h0M387.8 25.1h0M386.7 13.4h0M397.7 37.5h0M416.0 41.6h0M400.7 57.6h0M409.7 50.9h0M395.1 31.4h0M395.5 60.1h0M396.2 45.9h0M409.8 64.4h0" stroke="#297b8e"/><path d="M418.6 40.2h0M422.2 30.2h0M394.7 17.5h0M421.6 37.6h0M431.8 43.4h0M412.5 7.9h0M413.0 13.0h0M407.3 16.7h0M425.4 57.2h0M403.6 1.3h0M404.4 2.6h0M429.4 38.4h0M429.0 20.5h0M429.2 36.9h0M404.0 21.0h0M409.8 25.1h0M435.0 23.6h0M411.7 14.4h0M422.7 59.4h0M414.8 17.8h0M406.1 6.3h0M427.3 31.4h0M426.8 40.5h0M431.4 39.8h0M432.0 41.7h0M401.7 4.7h0M420.9 39.1h0M396.8 2.0h0M420.8 14.3h0M425.6 32.1h0M400.3 8.0h0M408.6 1.1h0M425.5 65.3h0M432.3 51.1h0M431.0 42.4h0M424.4 65.6h0M432.1 62.8h0M405.8 6.2h0M413.2 11.2h0M407.8 15.6h0M403.5 12.9h0M434.9 35.0h0M420.3 27.7h0M423.8 22.2h0M405.7 15.3h0M408.0 33.5h0M443.6 26.9h0M406.6 20.7h0M418.1 22.9h0M426.6 37.8h0M421.0 25.1h0M415.3 16.9h0M413.1 8.0h0M401.0 17.9h0M392.8 1.5h0M415.8 19.2h0M389.3 4.6h0M417.1 13.8h0M409.0 14.6h0M397.1 3.2h0M411.6 8.6h0M418.9 5.1h0M410.7 4.9h0M395.8 1.9h0" stroke="#424086"/><path d="M408.6 49.6h0M403.3 35.7h0M387.0 16.7h0M402.1 46.4h0M399.3 20.1h0M396.0 13.1h0M405.2 33.0h0M391.9 10.9h0M407.4 47.2h0M408.3 56.2h0M413.7 59.3h0M410.7 66.4h0M410.4 48.8h0M402.9 32.8h0M386.9 7.2h0M418.4 36.5h0M420.7 62.1h0M400.5 42.3h0M410.3 39.2h0M401.5 34.0h0M417.3 51.2h0M431.7 42.5h0M411.8 42.9h0M405.9 57.1h0M391.8 8.6h0M407.1 45.3h0M386.5 12.8h0M392.5 11.6h0M417.0 48.2h0M415.5 58.6h0M401.9 45.4h0M401.8 21.7h0M401.2 32.1h0M403.0 35.5h0M410.4 50.8h0M400.1 46.6h0M408.1 38.1h0M400.4 12.8h0M425.6 40.6h0" stroke="#30698e"/><path d="M392.2 53.1h0" stroke="#d8e219"/><path d="M392.2 45.6h0M399.8 51.9h0M402.7 65.4h0M392.0 43.5h0M391.1 33.0h0M402.1 67.0h0" stroke="#4ac16d"/><path d="M390.2 30.2h0M386.7 46.3h0" stroke="#b5de2b"/><path d="M480.9 0.4h0M477.2 1.4h0M462.2 30.8h0M476.9 2.4h0M467.3 17.9h0M456.3 35.4h0M460.0 26.5h0M474.2 14.3h0M470.8 13.7h0M466.9 19.3h0M456.9 35.6h0M479.5 6.9h0M479.2 2.3h0M465.0 25.2h0M455.3 36.2h0M459.8 28.8h0" stroke="#48186a"/><path d="M399.8 66.5h0M404.1 38.8h0M402.3 61.6h0M405.6 53.4h0M395.5 38.8h0M397.0 25.7h0M393.4 27.3h0M390.6 37.2h0M391.3 26.0h0M393.2 47.7h0" stroke="#1f998a"/><path d="M396.9 16.2h0M422.7 39.1h0M405.8 23.2h0M421.1 71.4h0M423.4 36.3h0M409.9 19.8h0M423.6 40.8h0M411.5 76.3h0M408.0 33.7h0M416.3 74.3h0M416.0 24.9h0M407.3 22.6h0M408.1 54.1h0M401.5 8.1h0M411.7 32.6h0M417.3 62.8h0M397.1 11.1h0M401.0 15.4h0M427.2 40.9h0M411.6 22.1h0M402.3 16.8h0M397.2 4.2h0M427.1 38.2h0M400.6 16.1h0M412.8 20.5h0M390.4 1.9h0M416.8 29.9h0M415.6 39.5h0M399.7 12.7h0M429.6 43.5h0M397.5 15.4h0M423.7 53.2h0M396.8 10.4h0M409.9 25.8h0M389.4 3.3h0M401.1 20.8h0M396.8 9.6h0M409.7 11.2h0M421.7 40.2h0M430.3 49.3h0M426.1 67.7h0M397.3 23.2h0M393.5 2.7h0M388.6 3.4h0M398.8 0.1h0M413.5 48.3h0M408.5 35.5h0M397.1 12.0h0M413.7 39.3h0M403.7 41.8h0M407.9 25.4h0M422.6 49.0h0M401.7 14.0h0M412.0 29.3h0M415.7 12.1h0M413.9 15.1h0M421.1 32.5h0M407.1 35.1h0M410.9 59.1h0M403.0 7.6h0M418.8 37.5h0M412.6 64.9h0M424.2 51.3h0M434.1 52.6h0M417.7 46.6h0M393.5 11.3h0M413.5 69.0h0M409.7 16.9h0M415.8 20.7h0" stroke="#3d4e8a"/><path d="M397.5 54.5h0M399.0 58.5h0M388.5 48.3h0M388.0 28.9h0M395.8 45.2h0M400.1 61.0h0M390.9 35.8h0" stroke="#34b679"/><path d="M397.1 42.7h0M400.0 64.5h0M403.4 52.8h0M390.8 41.5h0M397.9 40.8h0M401.8 41.1h0M387.5 36.2h0M396.4 50.5h0" stroke="#21a585"/><path d="M410.7 54.7h0M388.2 25.1h0M404.2 59.2h0M413.0 66.0h0M408.6 53.2h0M406.0 42.7h0M403.0 56.0h0M395.7 29.4h0M404.1 35.2h0M394.1 35.1h0M404.1 70.8h0M398.5 57.1h0M410.0 65.2h0M389.0 17.8h0M401.6 46.1h0M408.5 45.9h0M406.2 67.2h0M406.9 45.1h0M410.1 75.7h0M408.4 70.5h0M399.7 50.4h0" stroke="#24878e"/></g>
<polygon clip-path="url(#clipb)" fill="#ff7591" points="386.5,60.9 390.0,62.7 393.6,64.8 397.1,66.9 400.7,69.2 404.2,71.6 407.7,74.0 411.3,76.6 414.8,79.3 418.4,82.0 421.9,84.8 425.4,87.6 429.0,90.5 432.5,93.5 436.1,96.5 439.6,99.5 443.1,102.6 446.7,105.7 450.2,108.8 453.8,112.0 457.3,115.3 460.8,118.5 464.4,121.8 467.9,125.1 471.4,128.4 475.0,131.8 478.5,135.1 482.1,138.6 485.6,142.0 489.1,145.5 492.7,148.9 496.2,152.5 499.8,156.0 503.3,159.6 506.8,163.2 510.4,166.8 513.9,170.5 517.5,174.2 521.0,178.0 524.5,181.8 416.5,234.2 386.5,234.2"/>
<polygon clip-path="url(#clipb)" fill="#92d4b0" points="416.5,234.2 435.7,223.9 529.3,178.8 626.5,131.5 626.5,234.2"/>
<path d="M386.50 234.20v-3.60M386.50 234.20h3.60M392.50 234.20v-1.70M386.50 228.38h1.70M398.50 234.20v-1.70M386.50 222.56h1.70M404.50 234.20v-1.70M386.50 216.74h1.70M410.50 234.20v-1.70M386.50 210.92h1.70M416.50 234.20v-3.60M386.50 205.10h3.60M422.50 234.20v-1.70M386.50 199.28h1.70M428.50 234.20v-1.70M386.50 193.46h1.70M434.50 234.20v-1.70M386.50 187.64h1.70M440.50 234.20v-1.70M386.50 181.82h1.70M446.50 234.20v-3.60M386.50 176.00h3.60M452.50 234.20v-1.70M386.50 170.18h1.70M458.50 234.20v-1.70M386.50 164.36h1.70M464.50 234.20v-1.70M386.50 158.54h1.70M470.50 234.20v-1.70M386.50 152.72h1.70M476.50 234.20v-3.60M386.50 146.90h3.60M482.50 234.20v-1.70M386.50 141.08h1.70M488.50 234.20v-1.70M386.50 135.26h1.70M494.50 234.20v-1.70M386.50 129.44h1.70M500.50 234.20v-1.70M386.50 123.62h1.70M506.50 234.20v-3.60M386.50 117.80h3.60M512.50 234.20v-1.70M386.50 111.98h1.70M518.50 234.20v-1.70M386.50 106.16h1.70M524.50 234.20v-1.70M386.50 100.34h1.70M530.50 234.20v-1.70M386.50 94.52h1.70M536.50 234.20v-3.60M386.50 88.70h3.60M542.50 234.20v-1.70M386.50 82.88h1.70M548.50 234.20v-1.70M386.50 77.06h1.70M554.50 234.20v-1.70M386.50 71.24h1.70M560.50 234.20v-1.70M386.50 65.42h1.70M566.50 234.20v-3.60M386.50 59.60h3.60M572.50 234.20v-1.70M386.50 53.78h1.70M578.50 234.20v-1.70M386.50 47.96h1.70M584.50 234.20v-1.70M386.50 42.14h1.70M590.50 234.20v-1.70M386.50 36.32h1.70M596.50 234.20v-3.60M386.50 30.50h3.60M602.50 234.20v-1.70M386.50 24.68h1.70M608.50 234.20v-1.70M386.50 18.86h1.70M614.50 234.20v-1.70M386.50 13.04h1.70M620.50 234.20v-1.70M386.50 7.22h1.70" stroke="#000" stroke-width="0.6" fill="none"/>
<path d="M386.50 0.50V234.20" stroke="#000" stroke-width="0.35" fill="none"/>
<path d="M386.50 234.20H626.30" stroke="#000" stroke-width="0.6" fill="none"/>
<path d="M626.30 0.50V234.20" stroke="#000" stroke-width="0.45" fill="none"/>
<path d="M386.50 0.30H626.30" stroke="#666" stroke-width="1.2" fill="none"/>
<text x="386.50" y="244.80" text-anchor="middle">10</text>
<text x="383.90" y="237.90" text-anchor="end">10</text>
<text x="416.50" y="244.80" text-anchor="middle">20</text>
<text x="383.90" y="208.80" text-anchor="end">20</text>
<text x="446.50" y="244.80" text-anchor="middle">30</text>
<text x="383.90" y="179.70" text-anchor="end">30</text>
<text x="476.50" y="244.80" text-anchor="middle">40</text>
<text x="383.90" y="150.60" text-anchor="end">40</text>
<text x="506.50" y="244.80" text-anchor="middle">50</text>
<text x="383.90" y="121.50" text-anchor="end">50</text>
<text x="536.50" y="244.80" text-anchor="middle">60</text>
<text x="383.90" y="92.40" text-anchor="end">60</text>
<text x="566.50" y="244.80" text-anchor="middle">70</text>
<text x="383.90" y="63.30" text-anchor="end">70</text>
<text x="596.50" y="244.80" text-anchor="middle">80</text>
<text x="383.90" y="34.20" text-anchor="end">80</text>
<text x="506.40" y="257.2" font-size="9.9" text-anchor="middle"><tspan font-style="oblique">m</tspan><tspan font-style="oblique" font-size="7" dy="2">h</tspan><tspan dy="-2"> [GeV]</tspan></text>
<text transform="translate(365.40 117.75) rotate(-90)" text-anchor="middle"><tspan font-style="oblique">m</tspan><tspan font-style="oblique" font-size="7" dy="2">a</tspan><tspan dy="-2"> [GeV]</tspan></text>
<text x="401.80" y="161.16" font-size="9.4" class="an">Γ(<tspan font-style="oblique">Z</tspan>→<tspan font-style="oblique">ha</tspan>) &gt; <tspan font-style="oblique">δ</tspan>Γ<tspan font-style="oblique" font-size="6.6" dy="1.6">Z</tspan></text>
<text x="551.20" y="204.81" font-size="9.65" class="an" font-style="oblique">h→aa</text>
<text x="455.80" y="109.10" font-size="8.2" class="an">1<tspan font-style="oblique">σ</tspan></text>
<text x="450.10" y="115.21" font-size="8.2" class="an">2<tspan font-style="oblique">σ</tspan></text>
<linearGradient id="gb" x1="0" y1="0" x2="0" y2="1"><stop offset="0.000" stop-color="#fde725"/><stop offset="0.031" stop-color="#ece51b"/><stop offset="0.062" stop-color="#d8e219"/><stop offset="0.094" stop-color="#c2df23"/><stop offset="0.125" stop-color="#addc30"/><stop offset="0.156" stop-color="#98d83e"/><stop offset="0.188" stop-color="#84d44b"/><stop offset="0.219" stop-color="#70cf57"/><stop offset="0.250" stop-color="#5ec962"/><stop offset="0.281" stop-color="#4ec36b"/><stop offset="0.312" stop-color="#3fbc73"/><stop offset="0.344" stop-color="#32b67a"/><stop offset="0.375" stop-color="#28ae80"/><stop offset="0.406" stop-color="#22a785"/><stop offset="0.438" stop-color="#1fa088"/><stop offset="0.469" stop-color="#1f988b"/><stop offset="0.500" stop-color="#21918c"/><stop offset="0.531" stop-color="#23898e"/><stop offset="0.562" stop-color="#26828e"/><stop offset="0.594" stop-color="#297a8e"/><stop offset="0.625" stop-color="#2c728e"/><stop offset="0.656" stop-color="#2f6b8e"/><stop offset="0.688" stop-color="#33638d"/><stop offset="0.719" stop-color="#375b8d"/><stop offset="0.750" stop-color="#3b528b"/><stop offset="0.781" stop-color="#3e4989"/><stop offset="0.812" stop-color="#424086"/><stop offset="0.844" stop-color="#453781"/><stop offset="0.875" stop-color="#472d7b"/><stop offset="0.906" stop-color="#482374"/><stop offset="0.938" stop-color="#48186a"/><stop offset="0.969" stop-color="#470d60"/><stop offset="1.000" stop-color="#440154"/></linearGradient>
<rect x="629.30" y="0.50" width="11.90" height="233.70" fill="url(#gb)" stroke="#000" stroke-width="0.6"/>
<path d="M641.20 16.20h-3.2M641.20 60.60h-3.2M641.20 105.00h-3.2M641.20 149.40h-3.2M641.20 193.80h-3.2" stroke="#000" stroke-width="0.8" fill="none"/>
<text x="643.10" y="19.90">0.010</text>
<text x="643.10" y="64.30">0.008</text>
<text x="643.10" y="108.70">0.006</text>
<text x="643.10" y="153.10">0.004</text>
<text x="643.10" y="197.50">0.002</text>
<text transform="translate(682.40 112.70) rotate(-90)" text-anchor="middle"><tspan font-size="8.9"><tspan font-style="oblique">σ</tspan>(<tspan font-style="oblique">gg</tspan>→<tspan font-style="oblique">H</tspan>→<tspan font-style="oblique">aZ</tspan><tspan font-size="6.2" dy="-3.7">*</tspan><tspan dy="3.7">→</tspan><tspan font-style="oblique">hZ</tspan><tspan font-size="6.2" dy="-3.7">*</tspan><tspan dy="3.7" font-style="oblique">Z</tspan><tspan font-size="6.2" dy="-3.7">*</tspan><tspan dy="3.7">)</tspan></tspan><tspan font-size="10"> [pb]</tspan></text>
</svg>
</body></html>
